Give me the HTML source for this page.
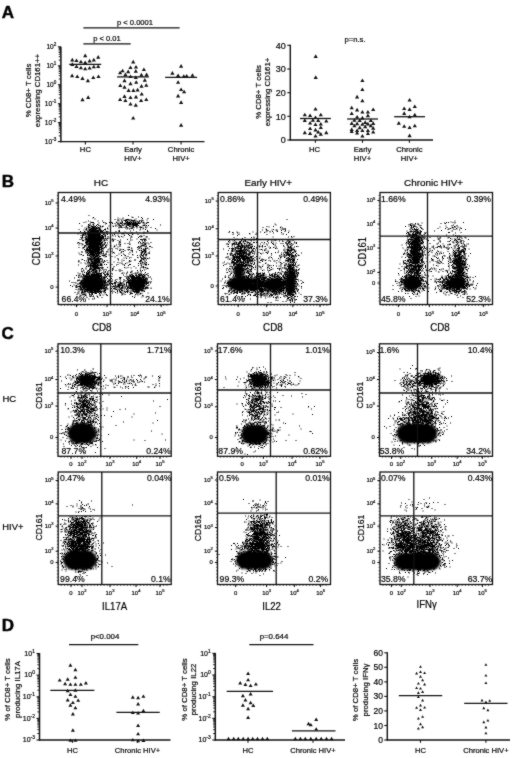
<!DOCTYPE html>
<html><head><meta charset="utf-8"><style>
html,body{margin:0;padding:0;background:#fff;}
svg{display:block;}
text{font-family:"Liberation Sans", sans-serif;fill:#000;stroke:#000;stroke-width:0.2px;}
</style></head><body>
<svg width="520" height="758" viewBox="0 0 520 758" style="will-change:transform">
<defs><filter id="soft" filterUnits="userSpaceOnUse" x="0" y="0" width="520" height="758" color-interpolation-filters="sRGB"><feConvolveMatrix order="3" kernelMatrix="1 2 1 2 20 2 1 2 1" divisor="32" edgeMode="duplicate"/></filter><filter id="bl" filterUnits="userSpaceOnUse" x="0" y="0" width="520" height="758"><feGaussianBlur stdDeviation="0.4"/></filter><filter id="bl2" filterUnits="userSpaceOnUse" x="0" y="0" width="520" height="758"><feGaussianBlur stdDeviation="1.3"/></filter></defs>
<g filter="url(#soft)"><rect width="520" height="758" fill="#fff"/>
<text x="1.8" y="17.9" font-size="17" text-anchor="start" font-weight="bold" style="stroke:#000;stroke-width:0.45px">A</text>
<text x="1.8" y="186.6" font-size="17" text-anchor="start" font-weight="bold" style="stroke:#000;stroke-width:0.45px">B</text>
<text x="1.5" y="338.6" font-size="17" text-anchor="start" font-weight="bold" style="stroke:#000;stroke-width:0.45px">C</text>
<text x="1.8" y="630.6" font-size="17" text-anchor="start" font-weight="bold" style="stroke:#000;stroke-width:0.45px">D</text>
<line x1="60.9" y1="46.8" x2="60.9" y2="142.2" stroke="#111" stroke-width="1.5"/>
<line x1="60.3" y1="141.6" x2="204.5" y2="141.6" stroke="#111" stroke-width="1.3"/>
<line x1="57.9" y1="46.8" x2="60.9" y2="46.8" stroke="#111" stroke-width="1.1"/>
<text x="56.3" y="49.0" font-size="6.6" text-anchor="end">10<tspan font-size="4.6" dy="-3.0">2</tspan></text>
<line x1="58.7" y1="60.1" x2="60.9" y2="60.1" stroke="#111" stroke-width="0.9"/>
<line x1="58.7" y1="56.7" x2="60.9" y2="56.7" stroke="#111" stroke-width="0.9"/>
<line x1="58.7" y1="54.3" x2="60.9" y2="54.3" stroke="#111" stroke-width="0.9"/>
<line x1="58.7" y1="52.5" x2="60.9" y2="52.5" stroke="#111" stroke-width="0.9"/>
<line x1="58.7" y1="51.0" x2="60.9" y2="51.0" stroke="#111" stroke-width="0.9"/>
<line x1="58.7" y1="49.7" x2="60.9" y2="49.7" stroke="#111" stroke-width="0.9"/>
<line x1="58.7" y1="48.6" x2="60.9" y2="48.6" stroke="#111" stroke-width="0.9"/>
<line x1="58.7" y1="47.7" x2="60.9" y2="47.7" stroke="#111" stroke-width="0.9"/>
<line x1="57.9" y1="65.8" x2="60.9" y2="65.8" stroke="#111" stroke-width="1.1"/>
<text x="56.3" y="68.0" font-size="6.6" text-anchor="end">10<tspan font-size="4.6" dy="-3.0">1</tspan></text>
<line x1="58.7" y1="79.0" x2="60.9" y2="79.0" stroke="#111" stroke-width="0.9"/>
<line x1="58.7" y1="75.7" x2="60.9" y2="75.7" stroke="#111" stroke-width="0.9"/>
<line x1="58.7" y1="73.3" x2="60.9" y2="73.3" stroke="#111" stroke-width="0.9"/>
<line x1="58.7" y1="71.5" x2="60.9" y2="71.5" stroke="#111" stroke-width="0.9"/>
<line x1="58.7" y1="70.0" x2="60.9" y2="70.0" stroke="#111" stroke-width="0.9"/>
<line x1="58.7" y1="68.7" x2="60.9" y2="68.7" stroke="#111" stroke-width="0.9"/>
<line x1="58.7" y1="67.6" x2="60.9" y2="67.6" stroke="#111" stroke-width="0.9"/>
<line x1="58.7" y1="66.6" x2="60.9" y2="66.6" stroke="#111" stroke-width="0.9"/>
<line x1="57.9" y1="84.7" x2="60.9" y2="84.7" stroke="#111" stroke-width="1.1"/>
<text x="56.3" y="86.9" font-size="6.6" text-anchor="end">10<tspan font-size="4.6" dy="-3.0">0</tspan></text>
<line x1="58.7" y1="98.0" x2="60.9" y2="98.0" stroke="#111" stroke-width="0.9"/>
<line x1="58.7" y1="94.6" x2="60.9" y2="94.6" stroke="#111" stroke-width="0.9"/>
<line x1="58.7" y1="92.3" x2="60.9" y2="92.3" stroke="#111" stroke-width="0.9"/>
<line x1="58.7" y1="90.4" x2="60.9" y2="90.4" stroke="#111" stroke-width="0.9"/>
<line x1="58.7" y1="88.9" x2="60.9" y2="88.9" stroke="#111" stroke-width="0.9"/>
<line x1="58.7" y1="87.7" x2="60.9" y2="87.7" stroke="#111" stroke-width="0.9"/>
<line x1="58.7" y1="86.6" x2="60.9" y2="86.6" stroke="#111" stroke-width="0.9"/>
<line x1="58.7" y1="85.6" x2="60.9" y2="85.6" stroke="#111" stroke-width="0.9"/>
<line x1="57.9" y1="103.7" x2="60.9" y2="103.7" stroke="#111" stroke-width="1.1"/>
<text x="56.3" y="105.9" font-size="6.6" text-anchor="end">10<tspan font-size="4.6" dy="-3.0">-1</tspan></text>
<line x1="58.7" y1="116.9" x2="60.9" y2="116.9" stroke="#111" stroke-width="0.9"/>
<line x1="58.7" y1="113.6" x2="60.9" y2="113.6" stroke="#111" stroke-width="0.9"/>
<line x1="58.7" y1="111.2" x2="60.9" y2="111.2" stroke="#111" stroke-width="0.9"/>
<line x1="58.7" y1="109.4" x2="60.9" y2="109.4" stroke="#111" stroke-width="0.9"/>
<line x1="58.7" y1="107.9" x2="60.9" y2="107.9" stroke="#111" stroke-width="0.9"/>
<line x1="58.7" y1="106.6" x2="60.9" y2="106.6" stroke="#111" stroke-width="0.9"/>
<line x1="58.7" y1="105.5" x2="60.9" y2="105.5" stroke="#111" stroke-width="0.9"/>
<line x1="58.7" y1="104.5" x2="60.9" y2="104.5" stroke="#111" stroke-width="0.9"/>
<line x1="57.9" y1="122.6" x2="60.9" y2="122.6" stroke="#111" stroke-width="1.1"/>
<text x="56.3" y="124.8" font-size="6.6" text-anchor="end">10<tspan font-size="4.6" dy="-3.0">-2</tspan></text>
<line x1="58.7" y1="135.9" x2="60.9" y2="135.9" stroke="#111" stroke-width="0.9"/>
<line x1="58.7" y1="132.6" x2="60.9" y2="132.6" stroke="#111" stroke-width="0.9"/>
<line x1="58.7" y1="130.2" x2="60.9" y2="130.2" stroke="#111" stroke-width="0.9"/>
<line x1="58.7" y1="128.3" x2="60.9" y2="128.3" stroke="#111" stroke-width="0.9"/>
<line x1="58.7" y1="126.8" x2="60.9" y2="126.8" stroke="#111" stroke-width="0.9"/>
<line x1="58.7" y1="125.6" x2="60.9" y2="125.6" stroke="#111" stroke-width="0.9"/>
<line x1="58.7" y1="124.5" x2="60.9" y2="124.5" stroke="#111" stroke-width="0.9"/>
<line x1="58.7" y1="123.5" x2="60.9" y2="123.5" stroke="#111" stroke-width="0.9"/>
<line x1="57.9" y1="141.6" x2="60.9" y2="141.6" stroke="#111" stroke-width="1.1"/>
<text x="56.3" y="143.8" font-size="6.6" text-anchor="end">10<tspan font-size="4.6" dy="-3.0">-3</tspan></text>
<line x1="85.4" y1="141.6" x2="85.4" y2="144.4" stroke="#111" stroke-width="1.1"/>
<line x1="133.0" y1="141.6" x2="133.0" y2="144.4" stroke="#111" stroke-width="1.1"/>
<line x1="181.1" y1="141.6" x2="181.1" y2="144.4" stroke="#111" stroke-width="1.1"/>
<text transform="translate(30.6,90.5) rotate(-90)" font-size="7.80" text-anchor="middle" textLength="53.68" lengthAdjust="spacingAndGlyphs">% CD8+ T cells</text>
<text transform="translate(39.6,90.5) rotate(-90)" font-size="7.80" text-anchor="middle" textLength="73.28" lengthAdjust="spacingAndGlyphs">expressing CD161++</text>
<text x="85.4" y="152.3" font-size="7.7" text-anchor="middle" font-weight="normal" >HC</text>
<text x="133.0" y="152.3" font-size="7.7" text-anchor="middle" font-weight="normal" >Early</text>
<text x="133.0" y="161.3" font-size="7.7" text-anchor="middle" font-weight="normal" >HIV+</text>
<text x="181.1" y="152.3" font-size="7.7" text-anchor="middle" font-weight="normal" >Chronic</text>
<text x="181.1" y="161.3" font-size="7.7" text-anchor="middle" font-weight="normal" >HIV+</text>
<line x1="83.4" y1="27.8" x2="179.6" y2="27.8" stroke="#111" stroke-width="1.3"/>
<text x="135.0" y="24.5" font-size="7.6" text-anchor="middle" font-weight="normal" >p &lt; 0.0001</text>
<line x1="83.4" y1="43.9" x2="130.7" y2="43.9" stroke="#111" stroke-width="1.3"/>
<text x="107.0" y="41.2" font-size="7.6" text-anchor="middle" font-weight="normal" >p &lt; 0.01</text>
<line x1="69.2" y1="64.3" x2="101.2" y2="64.3" stroke="#111" stroke-width="1.3"/>
<line x1="117.1" y1="76.9" x2="148.9" y2="76.9" stroke="#111" stroke-width="1.3"/>
<line x1="165.1" y1="77.3" x2="197.1" y2="77.3" stroke="#111" stroke-width="1.3"/>
<path fill="#111" d="M83.1 57.2h4.2l-2.1 -3.6zM96.1 58.7h4.2l-2.1 -3.6zM70.2 61.4h4.2l-2.1 -3.6zM74.4 62.0h4.2l-2.1 -3.6zM78.8 63.3h4.2l-2.1 -3.6zM83.1 64.1h4.2l-2.1 -3.6zM87.5 62.4h4.2l-2.1 -3.6zM91.7 61.4h4.2l-2.1 -3.6zM70.2 65.9h4.2l-2.1 -3.6zM74.4 68.0h4.2l-2.1 -3.6zM78.8 69.3h4.2l-2.1 -3.6zM83.1 70.3h4.2l-2.1 -3.6zM87.5 69.5h4.2l-2.1 -3.6zM91.7 68.3h4.2l-2.1 -3.6zM96.1 68.0h4.2l-2.1 -3.6zM70.0 77.2h4.2l-2.1 -3.6zM75.2 78.0h4.2l-2.1 -3.6zM80.4 79.9h4.2l-2.1 -3.6zM85.8 82.2h4.2l-2.1 -3.6zM91.2 79.1h4.2l-2.1 -3.6zM96.4 78.0h4.2l-2.1 -3.6zM80.4 101.2h4.2l-2.1 -3.6zM86.1 98.9h4.2l-2.1 -3.6zM131.1 63.4h4.2l-2.1 -3.6zM128.4 69.0h4.2l-2.1 -3.6zM133.9 68.6h4.2l-2.1 -3.6zM120.5 72.3h4.2l-2.1 -3.6zM126.1 73.2h4.2l-2.1 -3.6zM133.7 72.7h4.2l-2.1 -3.6zM141.8 71.1h4.2l-2.1 -3.6zM118.0 74.3h4.2l-2.1 -3.6zM123.3 76.2h4.2l-2.1 -3.6zM128.4 78.0h4.2l-2.1 -3.6zM133.7 79.0h4.2l-2.1 -3.6zM139.3 76.4h4.2l-2.1 -3.6zM144.5 76.2h4.2l-2.1 -3.6zM122.4 82.2h4.2l-2.1 -3.6zM142.7 81.7h4.2l-2.1 -3.6zM118.2 87.1h4.2l-2.1 -3.6zM128.4 85.2h4.2l-2.1 -3.6zM134.1 83.8h4.2l-2.1 -3.6zM122.4 88.7h4.2l-2.1 -3.6zM139.4 87.7h4.2l-2.1 -3.6zM144.2 86.8h4.2l-2.1 -3.6zM126.5 91.9h4.2l-2.1 -3.6zM131.3 91.9h4.2l-2.1 -3.6zM135.5 91.4h4.2l-2.1 -3.6zM139.6 95.6h4.2l-2.1 -3.6zM122.4 97.9h4.2l-2.1 -3.6zM128.4 99.1h4.2l-2.1 -3.6zM133.9 98.4h4.2l-2.1 -3.6zM118.0 101.1h4.2l-2.1 -3.6zM123.3 102.0h4.2l-2.1 -3.6zM139.0 102.0h4.2l-2.1 -3.6zM144.2 101.1h4.2l-2.1 -3.6zM128.4 105.6h4.2l-2.1 -3.6zM133.7 106.7h4.2l-2.1 -3.6zM131.1 119.6h4.2l-2.1 -3.6zM179.0 67.7h4.2l-2.1 -3.6zM170.3 74.7h4.2l-2.1 -3.6zM176.0 77.1h4.2l-2.1 -3.6zM181.7 77.8h4.2l-2.1 -3.6zM184.6 77.6h4.2l-2.1 -3.6zM190.4 76.8h4.2l-2.1 -3.6zM176.0 83.8h4.2l-2.1 -3.6zM179.0 91.0h4.2l-2.1 -3.6zM182.0 93.3h4.2l-2.1 -3.6zM176.0 97.4h4.2l-2.1 -3.6zM179.0 103.9h4.2l-2.1 -3.6zM179.0 126.7h4.2l-2.1 -3.6z"/>
<line x1="290.3" y1="44.8" x2="290.3" y2="140.6" stroke="#111" stroke-width="1.4"/>
<line x1="289.7" y1="140.0" x2="433.0" y2="140.0" stroke="#111" stroke-width="1.4"/>
<line x1="287.3" y1="140.0" x2="290.3" y2="140.0" stroke="#111" stroke-width="1.1"/>
<text x="285.8" y="143.2" font-size="9" text-anchor="end" font-weight="normal" >0</text>
<line x1="287.3" y1="116.3" x2="290.3" y2="116.3" stroke="#111" stroke-width="1.1"/>
<text x="285.8" y="119.5" font-size="9" text-anchor="end" font-weight="normal" >10</text>
<line x1="287.3" y1="92.7" x2="290.3" y2="92.7" stroke="#111" stroke-width="1.1"/>
<text x="285.8" y="95.9" font-size="9" text-anchor="end" font-weight="normal" >20</text>
<line x1="287.3" y1="69.0" x2="290.3" y2="69.0" stroke="#111" stroke-width="1.1"/>
<text x="285.8" y="72.2" font-size="9" text-anchor="end" font-weight="normal" >30</text>
<line x1="287.3" y1="45.3" x2="290.3" y2="45.3" stroke="#111" stroke-width="1.1"/>
<text x="285.8" y="48.5" font-size="9" text-anchor="end" font-weight="normal" >40</text>
<line x1="315.4" y1="140.0" x2="315.4" y2="142.8" stroke="#111" stroke-width="1.1"/>
<line x1="362.5" y1="140.0" x2="362.5" y2="142.8" stroke="#111" stroke-width="1.1"/>
<line x1="409.4" y1="140.0" x2="409.4" y2="142.8" stroke="#111" stroke-width="1.1"/>
<text transform="translate(260.5,92.0) rotate(-90)" font-size="7.80" text-anchor="middle" textLength="53.68" lengthAdjust="spacingAndGlyphs">% CD8+ T cells</text>
<text transform="translate(269.5,92.0) rotate(-90)" font-size="7.80" text-anchor="middle" textLength="68.72" lengthAdjust="spacingAndGlyphs">expressing CD161+</text>
<text x="314.6" y="151.8" font-size="7.7" text-anchor="middle" font-weight="normal" >HC</text>
<text x="362.5" y="151.6" font-size="7.7" text-anchor="middle" font-weight="normal" >Early</text>
<text x="362.5" y="161.4" font-size="7.7" text-anchor="middle" font-weight="normal" >HIV+</text>
<text x="409.4" y="151.6" font-size="7.7" text-anchor="middle" font-weight="normal" >Chronic</text>
<text x="409.4" y="161.4" font-size="7.7" text-anchor="middle" font-weight="normal" >HIV+</text>
<text x="355.0" y="42.4" font-size="7.7" text-anchor="middle" font-weight="normal" >p=n.s.</text>
<line x1="300.0" y1="118.5" x2="330.9" y2="118.5" stroke="#111" stroke-width="1.3"/>
<line x1="347.2" y1="119.0" x2="378.0" y2="119.0" stroke="#111" stroke-width="1.3"/>
<line x1="394.2" y1="116.7" x2="425.0" y2="116.7" stroke="#111" stroke-width="1.3"/>
<path fill="#111" d="M313.4 110.6h4.2l-2.1 -3.6zM302.7 116.3h4.2l-2.1 -3.6zM308.0 117.0h4.2l-2.1 -3.6zM318.7 116.3h4.2l-2.1 -3.6zM313.4 119.1h4.2l-2.1 -3.6zM302.7 121.9h4.2l-2.1 -3.6zM310.8 121.7h4.2l-2.1 -3.6zM316.1 121.9h4.2l-2.1 -3.6zM324.2 122.6h4.2l-2.1 -3.6zM308.0 124.5h4.2l-2.1 -3.6zM313.4 126.0h4.2l-2.1 -3.6zM318.7 125.6h4.2l-2.1 -3.6zM318.7 129.1h4.2l-2.1 -3.6zM308.0 130.1h4.2l-2.1 -3.6zM313.4 131.4h4.2l-2.1 -3.6zM316.1 133.6h4.2l-2.1 -3.6zM302.7 134.2h4.2l-2.1 -3.6zM308.0 134.9h4.2l-2.1 -3.6zM318.7 135.7h4.2l-2.1 -3.6zM324.2 134.2h4.2l-2.1 -3.6zM313.4 137.5h4.2l-2.1 -3.6zM313.6 57.9h4.2l-2.1 -3.6zM313.6 78.9h4.2l-2.1 -3.6zM360.3 82.1h4.2l-2.1 -3.6zM360.3 91.0h4.2l-2.1 -3.6zM355.0 98.4h4.2l-2.1 -3.6zM360.3 102.3h4.2l-2.1 -3.6zM349.6 109.3h4.2l-2.1 -3.6zM355.0 111.4h4.2l-2.1 -3.6zM371.1 111.1h4.2l-2.1 -3.6zM349.6 115.1h4.2l-2.1 -3.6zM360.3 113.6h4.2l-2.1 -3.6zM365.8 113.6h4.2l-2.1 -3.6zM365.8 117.2h4.2l-2.1 -3.6zM355.0 118.6h4.2l-2.1 -3.6zM360.3 119.4h4.2l-2.1 -3.6zM352.3 121.8h4.2l-2.1 -3.6zM357.6 122.0h4.2l-2.1 -3.6zM368.7 122.0h4.2l-2.1 -3.6zM349.6 124.9h4.2l-2.1 -3.6zM355.0 125.2h4.2l-2.1 -3.6zM360.3 125.8h4.2l-2.1 -3.6zM363.1 123.9h4.2l-2.1 -3.6zM365.8 125.4h4.2l-2.1 -3.6zM371.1 124.9h4.2l-2.1 -3.6zM352.3 127.3h4.2l-2.1 -3.6zM357.6 129.2h4.2l-2.1 -3.6zM363.1 128.2h4.2l-2.1 -3.6zM368.7 127.3h4.2l-2.1 -3.6zM349.6 131.1h4.2l-2.1 -3.6zM355.0 132.1h4.2l-2.1 -3.6zM360.3 132.1h4.2l-2.1 -3.6zM365.8 132.1h4.2l-2.1 -3.6zM371.1 129.7h4.2l-2.1 -3.6zM349.6 133.1h4.2l-2.1 -3.6zM355.0 134.5h4.2l-2.1 -3.6zM365.8 135.0h4.2l-2.1 -3.6zM371.1 133.5h4.2l-2.1 -3.6zM360.3 137.6h4.2l-2.1 -3.6zM407.5 101.6h4.2l-2.1 -3.6zM412.7 108.0h4.2l-2.1 -3.6zM402.1 110.1h4.2l-2.1 -3.6zM407.5 110.9h4.2l-2.1 -3.6zM402.1 114.9h4.2l-2.1 -3.6zM412.7 116.4h4.2l-2.1 -3.6zM407.5 118.3h4.2l-2.1 -3.6zM396.7 124.7h4.2l-2.1 -3.6zM402.1 127.8h4.2l-2.1 -3.6zM407.5 129.1h4.2l-2.1 -3.6zM412.7 127.3h4.2l-2.1 -3.6zM407.5 137.2h4.2l-2.1 -3.6z"/>
<line x1="39.5" y1="653.0" x2="39.5" y2="740.6" stroke="#111" stroke-width="1.5"/>
<line x1="38.9" y1="740.0" x2="170.5" y2="740.0" stroke="#111" stroke-width="1.3"/>
<line x1="36.5" y1="653.5" x2="39.5" y2="653.5" stroke="#111" stroke-width="1.1"/>
<text x="34.9" y="655.7" font-size="7" text-anchor="end">10<tspan font-size="4.9" dy="-3.1">1</tspan></text>
<line x1="37.3" y1="668.6" x2="39.5" y2="668.6" stroke="#111" stroke-width="0.9"/>
<line x1="37.3" y1="664.8" x2="39.5" y2="664.8" stroke="#111" stroke-width="0.9"/>
<line x1="37.3" y1="662.1" x2="39.5" y2="662.1" stroke="#111" stroke-width="0.9"/>
<line x1="37.3" y1="660.0" x2="39.5" y2="660.0" stroke="#111" stroke-width="0.9"/>
<line x1="37.3" y1="658.3" x2="39.5" y2="658.3" stroke="#111" stroke-width="0.9"/>
<line x1="37.3" y1="656.8" x2="39.5" y2="656.8" stroke="#111" stroke-width="0.9"/>
<line x1="37.3" y1="655.6" x2="39.5" y2="655.6" stroke="#111" stroke-width="0.9"/>
<line x1="37.3" y1="654.5" x2="39.5" y2="654.5" stroke="#111" stroke-width="0.9"/>
<line x1="36.5" y1="675.1" x2="39.5" y2="675.1" stroke="#111" stroke-width="1.1"/>
<text x="34.9" y="677.3" font-size="7" text-anchor="end">10<tspan font-size="4.9" dy="-3.1">0</tspan></text>
<line x1="37.3" y1="690.2" x2="39.5" y2="690.2" stroke="#111" stroke-width="0.9"/>
<line x1="37.3" y1="686.4" x2="39.5" y2="686.4" stroke="#111" stroke-width="0.9"/>
<line x1="37.3" y1="683.7" x2="39.5" y2="683.7" stroke="#111" stroke-width="0.9"/>
<line x1="37.3" y1="681.6" x2="39.5" y2="681.6" stroke="#111" stroke-width="0.9"/>
<line x1="37.3" y1="679.9" x2="39.5" y2="679.9" stroke="#111" stroke-width="0.9"/>
<line x1="37.3" y1="678.5" x2="39.5" y2="678.5" stroke="#111" stroke-width="0.9"/>
<line x1="37.3" y1="677.2" x2="39.5" y2="677.2" stroke="#111" stroke-width="0.9"/>
<line x1="37.3" y1="676.1" x2="39.5" y2="676.1" stroke="#111" stroke-width="0.9"/>
<line x1="36.5" y1="696.8" x2="39.5" y2="696.8" stroke="#111" stroke-width="1.1"/>
<text x="34.9" y="699.0" font-size="7" text-anchor="end">10<tspan font-size="4.9" dy="-3.1">-1</tspan></text>
<line x1="37.3" y1="711.9" x2="39.5" y2="711.9" stroke="#111" stroke-width="0.9"/>
<line x1="37.3" y1="708.1" x2="39.5" y2="708.1" stroke="#111" stroke-width="0.9"/>
<line x1="37.3" y1="705.4" x2="39.5" y2="705.4" stroke="#111" stroke-width="0.9"/>
<line x1="37.3" y1="703.3" x2="39.5" y2="703.3" stroke="#111" stroke-width="0.9"/>
<line x1="37.3" y1="701.5" x2="39.5" y2="701.5" stroke="#111" stroke-width="0.9"/>
<line x1="37.3" y1="700.1" x2="39.5" y2="700.1" stroke="#111" stroke-width="0.9"/>
<line x1="37.3" y1="698.8" x2="39.5" y2="698.8" stroke="#111" stroke-width="0.9"/>
<line x1="37.3" y1="697.7" x2="39.5" y2="697.7" stroke="#111" stroke-width="0.9"/>
<line x1="36.5" y1="718.4" x2="39.5" y2="718.4" stroke="#111" stroke-width="1.1"/>
<text x="34.9" y="720.6" font-size="7" text-anchor="end">10<tspan font-size="4.9" dy="-3.1">-2</tspan></text>
<line x1="37.3" y1="733.5" x2="39.5" y2="733.5" stroke="#111" stroke-width="0.9"/>
<line x1="37.3" y1="729.7" x2="39.5" y2="729.7" stroke="#111" stroke-width="0.9"/>
<line x1="37.3" y1="727.0" x2="39.5" y2="727.0" stroke="#111" stroke-width="0.9"/>
<line x1="37.3" y1="724.9" x2="39.5" y2="724.9" stroke="#111" stroke-width="0.9"/>
<line x1="37.3" y1="723.2" x2="39.5" y2="723.2" stroke="#111" stroke-width="0.9"/>
<line x1="37.3" y1="721.7" x2="39.5" y2="721.7" stroke="#111" stroke-width="0.9"/>
<line x1="37.3" y1="720.5" x2="39.5" y2="720.5" stroke="#111" stroke-width="0.9"/>
<line x1="37.3" y1="719.4" x2="39.5" y2="719.4" stroke="#111" stroke-width="0.9"/>
<line x1="36.5" y1="740.0" x2="39.5" y2="740.0" stroke="#111" stroke-width="1.1"/>
<text x="34.9" y="742.2" font-size="7" text-anchor="end">10<tspan font-size="4.9" dy="-3.1">-3</tspan></text>
<line x1="72.5" y1="740.0" x2="72.5" y2="742.8" stroke="#111" stroke-width="1.1"/>
<line x1="137.5" y1="740.0" x2="137.5" y2="742.8" stroke="#111" stroke-width="1.1"/>
<text transform="translate(10.3,689.5) rotate(-90)" font-size="7.80" text-anchor="middle" textLength="62.35" lengthAdjust="spacingAndGlyphs">% of CD8+ T cells</text>
<text transform="translate(19.6,689.5) rotate(-90)" font-size="7.80" text-anchor="middle" textLength="56.81" lengthAdjust="spacingAndGlyphs">producing IL17A</text>
<text x="72.5" y="753.0" font-size="7.6" text-anchor="middle" font-weight="normal" >HC</text>
<text x="137.5" y="753.0" font-size="7.6" text-anchor="middle" font-weight="normal" >Chronic HIV+</text>
<line x1="69.0" y1="644.6" x2="138.3" y2="644.6" stroke="#111" stroke-width="1.3"/>
<text x="105.0" y="638.5" font-size="7.9" text-anchor="middle" font-weight="normal" >p&lt;0.004</text>
<line x1="50.3" y1="690.3" x2="94.4" y2="690.3" stroke="#111" stroke-width="1.3"/>
<line x1="116.4" y1="712.4" x2="159.7" y2="712.4" stroke="#111" stroke-width="1.3"/>
<path fill="#111" d="M68.4 666.7h4.0l-2.0 -3.4zM73.4 671.2h4.0l-2.0 -3.4zM73.4 678.8h4.0l-2.0 -3.4zM57.7 681.6h4.0l-2.0 -3.4zM65.7 680.7h4.0l-2.0 -3.4zM63.1 685.2h4.0l-2.0 -3.4zM68.4 685.8h4.0l-2.0 -3.4zM73.4 685.8h4.0l-2.0 -3.4zM78.8 685.8h4.0l-2.0 -3.4zM83.9 684.4h4.0l-2.0 -3.4zM65.7 692.2h4.0l-2.0 -3.4zM73.4 691.7h4.0l-2.0 -3.4zM68.4 695.9h4.0l-2.0 -3.4zM73.4 697.8h4.0l-2.0 -3.4zM65.7 701.5h4.0l-2.0 -3.4zM76.2 701.8h4.0l-2.0 -3.4zM70.9 704.1h4.0l-2.0 -3.4zM68.4 706.7h4.0l-2.0 -3.4zM73.4 709.3h4.0l-2.0 -3.4zM70.9 715.5h4.0l-2.0 -3.4zM70.9 731.7h4.0l-2.0 -3.4zM68.4 741.8h4.0l-2.0 -3.4zM73.4 741.8h4.0l-2.0 -3.4zM130.8 698.7h4.0l-2.0 -3.4zM136.1 699.2h4.0l-2.0 -3.4zM141.4 697.8h4.0l-2.0 -3.4zM136.1 705.5h4.0l-2.0 -3.4zM130.8 714.1h4.0l-2.0 -3.4zM136.1 714.6h4.0l-2.0 -3.4zM141.4 712.2h4.0l-2.0 -3.4zM136.1 726.9h4.0l-2.0 -3.4zM136.1 735.3h4.0l-2.0 -3.4zM130.8 741.3h4.0l-2.0 -3.4zM136.1 742.3h4.0l-2.0 -3.4zM141.4 742.0h4.0l-2.0 -3.4z"/>
<line x1="215.3" y1="652.9" x2="215.3" y2="740.6" stroke="#111" stroke-width="1.5"/>
<line x1="214.7" y1="740.0" x2="345.0" y2="740.0" stroke="#111" stroke-width="1.3"/>
<line x1="212.3" y1="653.4" x2="215.3" y2="653.4" stroke="#111" stroke-width="1.1"/>
<text x="210.7" y="655.6" font-size="7" text-anchor="end">10<tspan font-size="4.9" dy="-3.1">1</tspan></text>
<line x1="213.1" y1="668.5" x2="215.3" y2="668.5" stroke="#111" stroke-width="0.9"/>
<line x1="213.1" y1="664.7" x2="215.3" y2="664.7" stroke="#111" stroke-width="0.9"/>
<line x1="213.1" y1="662.0" x2="215.3" y2="662.0" stroke="#111" stroke-width="0.9"/>
<line x1="213.1" y1="659.9" x2="215.3" y2="659.9" stroke="#111" stroke-width="0.9"/>
<line x1="213.1" y1="658.2" x2="215.3" y2="658.2" stroke="#111" stroke-width="0.9"/>
<line x1="213.1" y1="656.8" x2="215.3" y2="656.8" stroke="#111" stroke-width="0.9"/>
<line x1="213.1" y1="655.5" x2="215.3" y2="655.5" stroke="#111" stroke-width="0.9"/>
<line x1="213.1" y1="654.4" x2="215.3" y2="654.4" stroke="#111" stroke-width="0.9"/>
<line x1="212.3" y1="675.0" x2="215.3" y2="675.0" stroke="#111" stroke-width="1.1"/>
<text x="210.7" y="677.2" font-size="7" text-anchor="end">10<tspan font-size="4.9" dy="-3.1">0</tspan></text>
<line x1="213.1" y1="690.2" x2="215.3" y2="690.2" stroke="#111" stroke-width="0.9"/>
<line x1="213.1" y1="686.4" x2="215.3" y2="686.4" stroke="#111" stroke-width="0.9"/>
<line x1="213.1" y1="683.7" x2="215.3" y2="683.7" stroke="#111" stroke-width="0.9"/>
<line x1="213.1" y1="681.6" x2="215.3" y2="681.6" stroke="#111" stroke-width="0.9"/>
<line x1="213.1" y1="679.9" x2="215.3" y2="679.9" stroke="#111" stroke-width="0.9"/>
<line x1="213.1" y1="678.4" x2="215.3" y2="678.4" stroke="#111" stroke-width="0.9"/>
<line x1="213.1" y1="677.1" x2="215.3" y2="677.1" stroke="#111" stroke-width="0.9"/>
<line x1="213.1" y1="676.0" x2="215.3" y2="676.0" stroke="#111" stroke-width="0.9"/>
<line x1="212.3" y1="696.7" x2="215.3" y2="696.7" stroke="#111" stroke-width="1.1"/>
<text x="210.7" y="698.9" font-size="7" text-anchor="end">10<tspan font-size="4.9" dy="-3.1">-1</tspan></text>
<line x1="213.1" y1="711.8" x2="215.3" y2="711.8" stroke="#111" stroke-width="0.9"/>
<line x1="213.1" y1="708.0" x2="215.3" y2="708.0" stroke="#111" stroke-width="0.9"/>
<line x1="213.1" y1="705.3" x2="215.3" y2="705.3" stroke="#111" stroke-width="0.9"/>
<line x1="213.1" y1="703.2" x2="215.3" y2="703.2" stroke="#111" stroke-width="0.9"/>
<line x1="213.1" y1="701.5" x2="215.3" y2="701.5" stroke="#111" stroke-width="0.9"/>
<line x1="213.1" y1="700.1" x2="215.3" y2="700.1" stroke="#111" stroke-width="0.9"/>
<line x1="213.1" y1="698.8" x2="215.3" y2="698.8" stroke="#111" stroke-width="0.9"/>
<line x1="213.1" y1="697.7" x2="215.3" y2="697.7" stroke="#111" stroke-width="0.9"/>
<line x1="212.3" y1="718.4" x2="215.3" y2="718.4" stroke="#111" stroke-width="1.1"/>
<text x="210.7" y="720.6" font-size="7" text-anchor="end">10<tspan font-size="4.9" dy="-3.1">-2</tspan></text>
<line x1="213.1" y1="733.5" x2="215.3" y2="733.5" stroke="#111" stroke-width="0.9"/>
<line x1="213.1" y1="729.7" x2="215.3" y2="729.7" stroke="#111" stroke-width="0.9"/>
<line x1="213.1" y1="727.0" x2="215.3" y2="727.0" stroke="#111" stroke-width="0.9"/>
<line x1="213.1" y1="724.9" x2="215.3" y2="724.9" stroke="#111" stroke-width="0.9"/>
<line x1="213.1" y1="723.2" x2="215.3" y2="723.2" stroke="#111" stroke-width="0.9"/>
<line x1="213.1" y1="721.7" x2="215.3" y2="721.7" stroke="#111" stroke-width="0.9"/>
<line x1="213.1" y1="720.4" x2="215.3" y2="720.4" stroke="#111" stroke-width="0.9"/>
<line x1="213.1" y1="719.3" x2="215.3" y2="719.3" stroke="#111" stroke-width="0.9"/>
<line x1="212.3" y1="740.0" x2="215.3" y2="740.0" stroke="#111" stroke-width="1.1"/>
<text x="210.7" y="742.2" font-size="7" text-anchor="end">10<tspan font-size="4.9" dy="-3.1">-3</tspan></text>
<line x1="248.0" y1="740.0" x2="248.0" y2="742.8" stroke="#111" stroke-width="1.1"/>
<line x1="313.0" y1="740.0" x2="313.0" y2="742.8" stroke="#111" stroke-width="1.1"/>
<text transform="translate(186.6,689.5) rotate(-90)" font-size="7.80" text-anchor="middle" textLength="62.35" lengthAdjust="spacingAndGlyphs">% of CD8+ T cells</text>
<text transform="translate(195.9,689.5) rotate(-90)" font-size="7.80" text-anchor="middle" textLength="51.61" lengthAdjust="spacingAndGlyphs">producing IL22</text>
<text x="248.0" y="753.0" font-size="7.6" text-anchor="middle" font-weight="normal" >HC</text>
<text x="313.0" y="753.0" font-size="7.6" text-anchor="middle" font-weight="normal" >Chronic HIV+</text>
<line x1="249.3" y1="644.6" x2="313.5" y2="644.6" stroke="#111" stroke-width="1.3"/>
<text x="274.0" y="638.5" font-size="7.9" text-anchor="middle" font-weight="normal" >p=0.644</text>
<line x1="226.7" y1="691.4" x2="273.0" y2="691.4" stroke="#111" stroke-width="1.3"/>
<line x1="291.9" y1="730.8" x2="335.5" y2="730.8" stroke="#111" stroke-width="1.3"/>
<path fill="#111" d="M246.1 675.0h4.0l-2.0 -3.4zM246.1 681.3h4.0l-2.0 -3.4zM238.2 684.4h4.0l-2.0 -3.4zM243.4 685.9h4.0l-2.0 -3.4zM248.6 687.1h4.0l-2.0 -3.4zM253.9 685.6h4.0l-2.0 -3.4zM248.6 695.4h4.0l-2.0 -3.4zM240.9 697.2h4.0l-2.0 -3.4zM243.4 701.5h4.0l-2.0 -3.4zM248.6 704.2h4.0l-2.0 -3.4zM240.9 706.7h4.0l-2.0 -3.4zM251.3 707.0h4.0l-2.0 -3.4zM246.1 710.2h4.0l-2.0 -3.4zM246.1 719.0h4.0l-2.0 -3.4zM226.5 740.2h4.0l-2.0 -3.4zM231.7 740.2h4.0l-2.0 -3.4zM236.3 740.2h4.0l-2.0 -3.4zM241.2 740.2h4.0l-2.0 -3.4zM246.1 740.2h4.0l-2.0 -3.4zM250.7 740.2h4.0l-2.0 -3.4zM255.5 740.2h4.0l-2.0 -3.4zM260.5 740.2h4.0l-2.0 -3.4zM265.3 740.2h4.0l-2.0 -3.4zM314.2 720.9h4.0l-2.0 -3.4zM306.5 725.2h4.0l-2.0 -3.4zM308.8 726.3h4.0l-2.0 -3.4zM314.2 730.6h4.0l-2.0 -3.4zM293.3 740.2h4.0l-2.0 -3.4zM298.4 740.2h4.0l-2.0 -3.4zM303.3 740.2h4.0l-2.0 -3.4zM308.8 740.2h4.0l-2.0 -3.4zM314.2 740.2h4.0l-2.0 -3.4zM319.2 740.2h4.0l-2.0 -3.4zM324.5 740.2h4.0l-2.0 -3.4zM329.6 740.2h4.0l-2.0 -3.4z"/>
<line x1="387.3" y1="652.3" x2="387.3" y2="740.6" stroke="#111" stroke-width="1.4"/>
<line x1="386.7" y1="740.0" x2="510.0" y2="740.0" stroke="#111" stroke-width="1.4"/>
<line x1="384.3" y1="740.0" x2="387.3" y2="740.0" stroke="#111" stroke-width="1.1"/>
<text x="383.0" y="743.0" font-size="8.5" text-anchor="end" font-weight="normal" >0</text>
<line x1="384.3" y1="725.5" x2="387.3" y2="725.5" stroke="#111" stroke-width="1.1"/>
<text x="383.0" y="728.5" font-size="8.5" text-anchor="end" font-weight="normal" >10</text>
<line x1="384.3" y1="710.9" x2="387.3" y2="710.9" stroke="#111" stroke-width="1.1"/>
<text x="383.0" y="713.9" font-size="8.5" text-anchor="end" font-weight="normal" >20</text>
<line x1="384.3" y1="696.4" x2="387.3" y2="696.4" stroke="#111" stroke-width="1.1"/>
<text x="383.0" y="699.4" font-size="8.5" text-anchor="end" font-weight="normal" >30</text>
<line x1="384.3" y1="681.9" x2="387.3" y2="681.9" stroke="#111" stroke-width="1.1"/>
<text x="383.0" y="684.9" font-size="8.5" text-anchor="end" font-weight="normal" >40</text>
<line x1="384.3" y1="667.3" x2="387.3" y2="667.3" stroke="#111" stroke-width="1.1"/>
<text x="383.0" y="670.3" font-size="8.5" text-anchor="end" font-weight="normal" >50</text>
<line x1="384.3" y1="652.8" x2="387.3" y2="652.8" stroke="#111" stroke-width="1.1"/>
<text x="383.0" y="655.8" font-size="8.5" text-anchor="end" font-weight="normal" >60</text>
<line x1="420.5" y1="740.0" x2="420.5" y2="742.8" stroke="#111" stroke-width="1.1"/>
<line x1="485.9" y1="740.0" x2="485.9" y2="742.8" stroke="#111" stroke-width="1.1"/>
<text transform="translate(358.3,690.0) rotate(-90)" font-size="7.80" text-anchor="middle" textLength="62.35" lengthAdjust="spacingAndGlyphs">% of CD8+ T cells</text>
<text transform="translate(367.6,690.0) rotate(-90)" font-size="7.80" text-anchor="middle" textLength="52.89" lengthAdjust="spacingAndGlyphs">producing IFNγ</text>
<text x="420.5" y="753.0" font-size="7.6" text-anchor="middle" font-weight="normal" >HC</text>
<text x="485.9" y="753.0" font-size="7.6" text-anchor="middle" font-weight="normal" >Chronic HIV+</text>
<line x1="398.8" y1="695.7" x2="442.2" y2="695.7" stroke="#111" stroke-width="1.3"/>
<line x1="464.2" y1="703.3" x2="507.5" y2="703.3" stroke="#111" stroke-width="1.3"/>
<path fill="#111" d="M419.0 667.8h3.0l-1.5 -2.6zM415.1 674.4h3.0l-1.5 -2.6zM419.0 672.9h3.0l-1.5 -2.6zM423.1 674.1h3.0l-1.5 -2.6zM419.0 677.7h3.0l-1.5 -2.6zM421.1 681.2h3.0l-1.5 -2.6zM416.9 684.6h3.0l-1.5 -2.6zM423.1 685.4h3.0l-1.5 -2.6zM415.1 689.0h3.0l-1.5 -2.6zM419.0 689.6h3.0l-1.5 -2.6zM416.9 693.9h3.0l-1.5 -2.6zM421.1 692.9h3.0l-1.5 -2.6zM416.9 698.1h3.0l-1.5 -2.6zM421.1 701.4h3.0l-1.5 -2.6zM419.0 706.4h3.0l-1.5 -2.6zM415.1 708.8h3.0l-1.5 -2.6zM423.1 708.6h3.0l-1.5 -2.6zM419.0 710.9h3.0l-1.5 -2.6zM416.9 719.5h3.0l-1.5 -2.6zM421.1 717.8h3.0l-1.5 -2.6zM419.0 725.2h3.0l-1.5 -2.6zM416.9 729.6h3.0l-1.5 -2.6zM421.1 728.2h3.0l-1.5 -2.6zM484.4 665.8h3.0l-1.5 -2.6zM484.4 676.5h3.0l-1.5 -2.6zM484.4 684.0h3.0l-1.5 -2.6zM480.5 701.4h3.0l-1.5 -2.6zM484.4 703.2h3.0l-1.5 -2.6zM488.2 701.8h3.0l-1.5 -2.6zM482.3 709.2h3.0l-1.5 -2.6zM486.4 711.2h3.0l-1.5 -2.6zM482.3 723.2h3.0l-1.5 -2.6zM486.4 721.6h3.0l-1.5 -2.6zM484.4 728.4h3.0l-1.5 -2.6zM484.4 734.3h3.0l-1.5 -2.6z"/>
<text x="101.0" y="186.0" font-size="9.9" text-anchor="middle" font-weight="normal" >HC</text>
<text x="268.2" y="185.6" font-size="9.9" text-anchor="middle" font-weight="normal" >Early HIV+</text>
<text x="433.6" y="185.6" font-size="9.9" text-anchor="middle" font-weight="normal" >Chronic HIV+</text>
<g filter="url(#bl2)" fill="#000">
<ellipse cx="92.5" cy="283.8" rx="11.2" ry="7.5"/>
<ellipse cx="137.5" cy="284.2" rx="6.5" ry="6.0"/>
<ellipse cx="93.8" cy="237.5" rx="5.5" ry="10.5"/>
</g>
<path stroke="#000" stroke-opacity="1.0" stroke-width="1.1" d="M88.5 215.5h1m38.5 0h1m2.5 1.5h1m5.5 0h1m-46 .5h1m38.5 0h1m7.5 0h1m-49.5 .5h1m24 0h1m4 0h1m18.5 .5h1m4.5 0h1m-54 .5h1m24 0h1m2 0h1m12 0h1m-22 .5h1m10 0h1m0 0h1m0 0h1m0 0h1m1 0h1m21.5 0h1m-37 .5h1m0 0h1m2 0h1m4.5 0h1m6.5 0h1m6.5 0h1m4 0h1m-24 .5h1m0 0h1m0 0h1m2 0h1m1.5 0h1m-.5 0h1m-.5 0h1m-.5 0h1m0 0h1m5 0h1m2 0h1m-55.5 .5h1m8.5 0h1m3.5 0h1m15.5 0h1m2 0h1m2.5 0h1m.5 0h1m1 0h1m-.5 0h1m0 0h1m-.5 0h1m1 0h1m1 0h1m-.5 0h1m.5 0h1m1.5 0h1m1 0h1m-20.5 .5h1m2.5 0h1m.5 0h1m-.5 0h1m5 0h1m.5 0h1m1 0h1m1 0h1m-54 .5h1m3.5 0h1m25.5 0h1m4.5 0h1m3.5 0h1m3 0h1m1 0h1m3.5 0h1m.5 0h1m-.5 0h1m1 0h1m.5 0h1m-60 .5h1m6.5 0h1m0 0h1m0 0h1m9 0h1m.5 0h1m3.5 0h1m.5 0h1m0 0h1m3.5 0h1m3.5 0h1m.5 0h1m3 0h1m-.5 0h1m0 0h1m-.5 0h1m0 0h1m1 0h1m.5 0h1m-.5 0h1m.5 0h1m-.5 0h1m-.5 0h1m1.5 0h1m4.5 0h1m2.5 0h1m0 0h1m-50.5 .5h1m18 0h1m1 0h1m4.5 0h1m.5 0h1m-.5 0h1m.5 0h1m.5 0h1m0 0h1m.5 0h1m-.5 0h1m0 0h1m0 0h1m4 0h1m1.5 0h1m2.5 0h1m-68 .5h1m13.5 0h1m11.5 0h1m5 0h1m1.5 0h1m4.5 0h1m-.5 0h1m0 0h1m1 0h1m-.5 0h1m0 0h1m1.5 0h1m.5 0h1m-.5 0h1m-.5 0h1m-.5 0h1m.5 0h1m-.5 0h1m-.5 0h1m-.5 0h1m-.5 0h1m.5 0h1m0 0h1m0 0h1m-.5 0h1m0 0h1m6 0h1m-57.5 .5h1m-.5 0h1m14 0h1m11 0h1m-.5 0h1m0 0h1m2 0h1m1.5 0h1m1 0h1m0 0h1m0 0h1m.5 0h1m0 0h1m1 0h1m0 0h1m-.5 0h1m0 0h1m0 0h1m0 0h1m5.5 0h1m0 0h1m-57.5 .5h1m3.5 0h1m-.5 0h1m3 0h1m27.5 0h1m2.5 0h1m-.5 0h1m-.5 0h1m.5 0h1m-.5 0h1m-.5 0h1m-.5 0h1m-.5 0h1m-.5 0h1m0 0h1m.5 0h1m-49.5 .5h1m-.5 0h1m3.5 0h1m4 0h1m16.5 0h1m2 0h1m-.5 0h1m2 0h1m.5 0h1m2.5 0h1m-.5 0h1m0 0h1m0 0h1m-.5 0h1m.5 0h1m.5 0h1m-.5 0h1m-.5 0h1m-.5 0h1m0 0h1m-.5 0h1m0 0h1m22 0h1m-72.5 .5h1m0 0h1m5.5 0h1m1.5 0h1m19 0h1m0 0h1m0 0h1m1 0h1m3 0h1m.5 0h1m-.5 0h1m2 0h1m.5 0h1m0 0h1m0 0h1m-.5 0h1m-.5 0h1m1 0h1m3.5 0h1m0 0h1m0 0h1m.5 0h1m1 0h1m-67.5 .5h1m8.5 0h1m1.5 0h1m5.5 0h1m1.5 0h1m5 0h1m3 0h1m1.5 0h1m.5 0h1m8 0h1m6 0h1m1.5 0h1m0 0h1m-.5 0h1m-49.5 .5h1m2 0h1m0 0h1m2 0h1m6 0h1m-.5 0h1m9.5 0h1m6.5 0h1m4 0h1m-.5 0h1m2 0h1m-.5 0h1m2.5 0h1m2 0h1m2.5 0h1m-54 .5h1m2 0h1m1.5 0h1m-.5 0h1m0 0h1m0 0h1m1.5 0h1m1.5 0h1m-.5 0h1m.5 0h1m16 0h1m0 0h1m-.5 0h1m0 0h1m4 0h1m3.5 0h1m-.5 0h1m-.5 0h1m-.5 0h1m3.5 0h1m4 0h1m2.5 0h1m.5 0h1m-59.5 .5h1m-.5 0h1m-.5 0h1m3 0h1m-.5 0h1m1.5 0h1m1 0h1m21.5 0h1m0 0h1m1 0h1m2 0h1m6 0h1m5 0h1m0 0h1m0 0h1m8 0h1m-67 .5h1m5 0h1m.5 0h1m1.5 0h1m.5 0h1m2 0h1m7 0h1m10.5 0h1m5.5 0h1m1 0h1m-.5 0h1m4 0h1m3 0h1m5.5 0h1m1.5 0h1m-60.5 .5h1m4 0h1m-.5 0h1m.5 0h1m.5 0h1m-.5 0h1m0 0h1m0 0h1m.5 0h1m-.5 0h1m7 0h1m21.5 0h1m.5 0h1m-.5 0h1m22.5 0h1m-69.5 .5h1m.5 0h1m0 0h1m-.5 0h1m2 0h1m-.5 0h1m-.5 0h1m3.5 0h1m-.5 0h1m0 0h1m-.5 0h1m4 0h1m1.5 0h1m18 0h1m1.5 0h1m10 0h1m1.5 0h1m-65 .5h1m6 0h1m-.5 0h1m3 0h1m.5 0h1m.5 0h1m1 0h1m3.5 0h1m3.5 0h1m40 0h1m-62.5 .5h1m1 0h1m-.5 0h1m2 0h1m.5 0h1m4 0h1m2.5 0h1m-.5 0h1m0 0h1m3.5 0h1m27 0h1m5.5 0h1m16 0h1m-65.5 .5h1m3.5 0h1m0 0h1m-.5 0h1m.5 0h1m2.5 0h1m15 0h1m27 0h1m-61 .5h1m0 0h1m0 0h1m0 0h1m0 0h1m-.5 0h1m4.5 0h1m-.5 0h1m-.5 0h1m1 0h1m0 0h1m0 0h1m15 0h1m11 0h1m-51 .5h1m3 0h1m5.5 0h1m0 0h1m3.5 0h1m0 0h1m0 0h1m1.5 0h1m.5 0h1m3 0h1m.5 0h1m7 0h1m2.5 0h1m27 0h1m-.5 0h1m-64 .5h1m2 0h1m-.5 0h1m1 0h1m-.5 0h1m6 0h1m-.5 0h1m-.5 0h1m0 0h1m-.5 0h1m0 0h1m-.5 0h1m0 0h1m1 0h1m1 0h1m17 0h1m10.5 0h1m6.5 0h1m-59.5 .5h1m2 0h1m-.5 0h1m-.5 0h1m-.5 0h1m0 0h1m-.5 0h1m4.5 0h1m0 0h1m1.5 0h1m2 0h1m0 0h1m26.5 0h1m-53 .5h1m1 0h1m.5 0h1m0 0h1m.5 0h1m.5 0h1m1 0h1m8.5 0h1m2 0h1m4 0h1m6.5 0h1m29.5 0h1m-60.5 .5h1m1 0h1m-.5 0h1m-.5 0h1m1 0h1m5.5 0h1m-.5 0h1m1 0h1m22 0h1m0 0h1m2.5 0h1m3 0h1m11.5 0h1m-66.5 .5h1m5 0h1m-.5 0h1m0 0h1m3 0h1m-.5 0h1m0 0h1m5 0h1m.5 0h1m0 0h1m3.5 0h1m2 0h1m14 0h1m1 0h1m8 0h1m-51 .5h1m4 0h1m-.5 0h1m-.5 0h1m-.5 0h1m0 0h1m-.5 0h1m-.5 0h1m4.5 0h1m-.5 0h1m1 0h1m0 0h1m2 0h1m3 0h1m6 0h1m13 0h1m3 0h1m4.5 0h1m-56.5 .5h1m0 0h1m1 0h1m-.5 0h1m0 0h1m-.5 0h1m.5 0h1m1 0h1m-.5 0h1m5 0h1m0 0h1m0 0h1m2.5 0h1m.5 0h1m0 0h1m6 0h1m4.5 0h1m-38 .5h1m2 0h1m3.5 0h1m-.5 0h1m-.5 0h1m.5 0h1m6 0h1m2 0h1m0 0h1m21.5 0h1m4 0h1m10.5 0h1m2 0h1m-62.5 .5h1m6 0h1m7 0h1m.5 0h1m-.5 0h1m.5 0h1m.5 0h1m2 0h1m6.5 0h1m1.5 0h1m14.5 0h1m9 0h1m-56 .5h1m-.5 0h1m1 0h1m-.5 0h1m0 0h1m6.5 0h1m-.5 0h1m0 0h1m-.5 0h1m-.5 0h1m1.5 0h1m0 0h1m-.5 0h1m3 0h1m9.5 0h1m2 0h1m17 0h1m1.5 0h1m4 0h1m-65.5 .5h1m2.5 0h1m.5 0h1m-.5 0h1m0 0h1m-.5 0h1m0 0h1m-.5 0h1m5.5 0h1m-.5 0h1m-.5 0h1m1 0h1m-.5 0h1m-.5 0h1m-.5 0h1m2.5 0h1m13 0h1m2.5 0h1m7.5 0h1m-.5 0h1m8 0h1m4 0h1m0 0h1m-67 .5h1m3 0h1m0 0h1m1 0h1m0 0h1m-.5 0h1m0 0h1m6 0h1m.5 0h1m-.5 0h1m-.5 0h1m-.5 0h1m-.5 0h1m-.5 0h1m0 0h1m-.5 0h1m-.5 0h1m34 0h1m-57.5 .5h1m0 0h1m1.5 0h1m1.5 0h1m-.5 0h1m-.5 0h1m.5 0h1m-.5 0h1m5.5 0h1m-.5 0h1m0 0h1m-.5 0h1m.5 0h1m-.5 0h1m1 0h1m3.5 0h1m0 0h1m20.5 0h1m-45 .5h1m1 0h1m-.5 0h1m-.5 0h1m.5 0h1m6.5 0h1m.5 0h1m-.5 0h1m-.5 0h1m0 0h1m0 0h1m-.5 0h1m1 0h1m1 0h1m-27 .5h1m3.5 0h1m.5 0h1m-.5 0h1m-.5 0h1m-.5 0h1m-.5 0h1m.5 0h1m5.5 0h1m.5 0h1m-.5 0h1m0 0h1m-.5 0h1m0 0h1m.5 0h1m0 0h1m1 0h1m5 0h1m-.5 0h1m23 0h1m5.5 0h1m-.5 0h1m-.5 0h1m.5 0h1m2 0h1m-70 .5h1m4.5 0h1m0 0h1m0 0h1m-.5 0h1m0 0h1m0 0h1m0 0h1m-.5 0h1m5.5 0h1m-.5 0h1m-.5 0h1m-.5 0h1m-.5 0h1m.5 0h1m-.5 0h1m12 0h1m11.5 0h1m12 0h1m0 0h1m.5 0h1m1.5 0h1m-64 .5h1m1.5 0h1m0 0h1m1 0h1m.5 0h1m0 0h1m5.5 0h1m-.5 0h1m-.5 0h1m0 0h1m-.5 0h1m0 0h1m0 0h1m-.5 0h1m2 0h1m1 0h1m3 0h1m.5 0h1m-.5 0h1m6.5 0h1m9 0h1m.5 0h1m9 0h1m1.5 0h1m-63 .5h1m0 0h1m2.5 0h1m1 0h1m-.5 0h1m-.5 0h1m0 0h1m-.5 0h1m5.5 0h1m1.5 0h1m-.5 0h1m-.5 0h1m1.5 0h1m0 0h1m1 0h1m5.5 0h1m3.5 0h1m25.5 0h1m.5 0h1m-64 .5h1m3 0h1m-.5 0h1m-.5 0h1m-.5 0h1m-.5 0h1m1 0h1m-.5 0h1m4.5 0h1m-.5 0h1m-.5 0h1m-.5 0h1m-.5 0h1m-.5 0h1m-.5 0h1m-.5 0h1m41 0h1m-57.5 .5h1m.5 0h1m-.5 0h1m0 0h1m-.5 0h1m-.5 0h1m0 0h1m-.5 0h1m5 0h1m-.5 0h1m0 0h1m-.5 0h1m0 0h1m1.5 0h1m9 0h1m5.5 0h1m19 0h1m4.5 0h1m-59.5 .5h1m2 0h1m-.5 0h1m-.5 0h1m-.5 0h1m5 0h1m-.5 0h1m-.5 0h1m-.5 0h1m-.5 0h1m0 0h1m-.5 0h1m-.5 0h1m-.5 0h1m2 0h1m4.5 0h1m9.5 0h1m8 0h1m-52 .5h1m6 0h1m1 0h1m1.5 0h1m-.5 0h1m6 0h1m1 0h1m.5 0h1m.5 0h1m2 0h1m13.5 0h1m17.5 0h1m1 0h1m1.5 0h1m0 0h1m6 0h1m-74.5 .5h1m.5 0h1m6.5 0h1m.5 0h1m-.5 0h1m-.5 0h1m-.5 0h1m.5 0h1m4.5 0h1m0 0h1m-.5 0h1m-.5 0h1m-.5 0h1m2 0h1m4.5 0h1m10.5 0h1m0 0h1m17.5 0h1m3.5 0h1m2 0h1m1 0h1m-69 .5h1m1 0h1m3 0h1m-.5 0h1m1 0h1m0 0h1m-.5 0h1m0 0h1m.5 0h1m3.5 0h1m-.5 0h1m-.5 0h1m-.5 0h1m-.5 0h1m-.5 0h1m-.5 0h1m0 0h1m3 0h1m19 0h1m2 0h1m12 0h1m3 0h1m0 0h1m-60.5 .5h1m0 0h1m.5 0h1m-.5 0h1m-.5 0h1m-.5 0h1m0 0h1m-.5 0h1m3 0h1m-.5 0h1m.5 0h1m-.5 0h1m-.5 0h1m-.5 0h1m-.5 0h1m-.5 0h1m.5 0h1m1 0h1m24.5 0h1m-.5 0h1m11.5 0h1m1 0h1m.5 0h1m2 0h1m-67 .5h1m3.5 0h1m1.5 0h1m-.5 0h1m-.5 0h1m-.5 0h1m-.5 0h1m-.5 0h1m3 0h1m-.5 0h1m-.5 0h1m-.5 0h1m-.5 0h1m-.5 0h1m4.5 0h1m13.5 0h1m.5 0h1m8.5 0h1m14.5 0h1m-67.5 .5h1m2 0h1m3.5 0h1m0 0h1m-.5 0h1m0 0h1m0 0h1m-.5 0h1m-.5 0h1m-.5 0h1m-.5 0h1m3 0h1m.5 0h1m-.5 0h1m-.5 0h1m0 0h1m-.5 0h1m0 0h1m-.5 0h1m0 0h1m0 0h1m2 0h1m-.5 0h1m8.5 0h1m23.5 0h1m1.5 0h1m-.5 0h1m-60 .5h1m-.5 0h1m3.5 0h1m.5 0h1m-.5 0h1m0 0h1m.5 0h1m0 0h1m-.5 0h1m-.5 0h1m-.5 0h1m-.5 0h1m-.5 0h1m-.5 0h1m1.5 0h1m3.5 0h1m13.5 0h1m21.5 0h1m-.5 0h1m-.5 0h1m-60 .5h1m0 0h1m2.5 0h1m0 0h1m0 0h1m-.5 0h1m-.5 0h1m-.5 0h1m-.5 0h1m-.5 0h1m-.5 0h1m-.5 0h1m-.5 0h1m-.5 0h1m-.5 0h1m0 0h1m0 0h1m-.5 0h1m.5 0h1m-.5 0h1m-.5 0h1m.5 0h1m-.5 0h1m2 0h1m4 0h1m2.5 0h1m-.5 0h1m25.5 0h1m-.5 0h1m1 0h1m0 0h1m.5 0h1m-59 .5h1m1 0h1m-.5 0h1m0 0h1m0 0h1m0 0h1m-.5 0h1m0 0h1m.5 0h1m-.5 0h1m0 0h1m-.5 0h1m1 0h1m0 0h1m2.5 0h1m8 0h1m4.5 0h1m17.5 0h1m.5 0h1m8.5 0h1m0 0h1m-67 .5h1m1 0h1m-.5 0h1m.5 0h1m0 0h1m-.5 0h1m0 0h1m-.5 0h1m0 0h1m-.5 0h1m-.5 0h1m0 0h1m-.5 0h1m-.5 0h1m-.5 0h1m-.5 0h1m1 0h1m-.5 0h1m1 0h1m-.5 0h1m11.5 0h1m3 0h1m10 0h1m11 0h1m3.5 0h1m-.5 0h1m-68 .5h1m3 0h1m0 0h1m3 0h1m-.5 0h1m0 0h1m-.5 0h1m-.5 0h1m-.5 0h1m-.5 0h1m0 0h1m-.5 0h1m-.5 0h1m-.5 0h1m-.5 0h1m0 0h1m0 0h1m0 0h1m.5 0h1m0 0h1m0 0h1m-.5 0h1m2 0h1m.5 0h1m21 0h1m.5 0h1m7 0h1m.5 0h1m12 0h1m-63 .5h1m.5 0h1m-.5 0h1m-.5 0h1m0 0h1m0 0h1m0 0h1m-.5 0h1m0 0h1m-.5 0h1m-.5 0h1m2 0h1m-.5 0h1m-.5 0h1m-.5 0h1m0 0h1m-.5 0h1m26.5 0h1m7.5 0h1m6.5 0h1m-65.5 .5h1m3 0h1m-.5 0h1m1 0h1m-.5 0h1m0 0h1m-.5 0h1m-.5 0h1m-.5 0h1m-.5 0h1m0 0h1m0 0h1m-.5 0h1m0 0h1m-.5 0h1m.5 0h1m0 0h1m1.5 0h1m0 0h1m8 0h1m3 0h1m22 0h1m1.5 0h1m3 0h1m.5 0h1m-61.5 .5h1m-.5 0h1m0 0h1m0 0h1m0 0h1m.5 0h1m0 0h1m.5 0h1m-.5 0h1m-.5 0h1m-.5 0h1m.5 0h1m-.5 0h1m-.5 0h1m0 0h1m-.5 0h1m1 0h1m6.5 0h1m7.5 0h1m1.5 0h1m11 0h1m10.5 0h1m.5 0h1m0 0h1m2 0h1m-65.5 .5h1m1.5 0h1m0 0h1m0 0h1m-.5 0h1m-.5 0h1m-.5 0h1m.5 0h1m-.5 0h1m-.5 0h1m-.5 0h1m-.5 0h1m-.5 0h1m-.5 0h1m-.5 0h1m0 0h1m1 0h1m-.5 0h1m-.5 0h1m-.5 0h1m2 0h1m18 0h1m.5 0h1m3.5 0h1m.5 0h1m7.5 0h1m4.5 0h1m-58.5 .5h1m0 0h1m.5 0h1m-.5 0h1m-.5 0h1m-.5 0h1m1 0h1m-.5 0h1m0 0h1m1 0h1m0 0h1m-.5 0h1m-.5 0h1m-.5 0h1m-.5 0h1m-.5 0h1m1 0h1m-.5 0h1m.5 0h1m4 0h1m3.5 0h1m7 0h1m7 0h1m12.5 0h1m1.5 0h1m0 0h1m-60.5 .5h1m-.5 0h1m.5 0h1m0 0h1m0 0h1m-.5 0h1m-.5 0h1m2 0h1m-.5 0h1m-.5 0h1m0 0h1m-.5 0h1m0 0h1m-.5 0h1m-.5 0h1m0 0h1m19 0h1m4.5 0h1m5 0h1m.5 0h1m6 0h1m-.5 0h1m.5 0h1m2 0h1m-.5 0h1m-60.5 .5h1m1 0h1m0 0h1m2.5 0h1m-.5 0h1m-.5 0h1m-.5 0h1m.5 0h1m1 0h1m-.5 0h1m-.5 0h1m0 0h1m-.5 0h1m1.5 0h1m-.5 0h1m28.5 0h1m10.5 0h1m-.5 0h1m1 0h1m-58 .5h1m-.5 0h1m-.5 0h1m-.5 0h1m0 0h1m0 0h1m-.5 0h1m-.5 0h1m-.5 0h1m0 0h1m0 0h1m1 0h1m-.5 0h1m2 0h1m.5 0h1m3 0h1m4 0h1m9 0h1m.5 0h1m17.5 0h1m0 0h1m-.5 0h1m.5 0h1m-64.5 .5h1m0 0h1m2.5 0h1m0 0h1m2 0h1m-.5 0h1m-.5 0h1m-.5 0h1m0 0h1m-.5 0h1m1 0h1m.5 0h1m-.5 0h1m-.5 0h1m0 0h1m.5 0h1m-.5 0h1m2 0h1m2 0h1m.5 0h1m12.5 0h1m10 0h1m3 0h1m4.5 0h1m3 0h1m2.5 0h1m-63 .5h1m-.5 0h1m.5 0h1m-.5 0h1m0 0h1m-.5 0h1m0 0h1m-.5 0h1m-.5 0h1m-.5 0h1m0 0h1m0 0h1m2.5 0h1m-.5 0h1m0 0h1m-.5 0h1m11 0h1m15.5 0h1m10.5 0h1m0 0h1m1.5 0h1m-.5 0h1m-67.5 .5h1m6 0h1m.5 0h1m2 0h1m0 0h1m0 0h1m2.5 0h1m.5 0h1m-.5 0h1m-.5 0h1m0 0h1m-.5 0h1m.5 0h1m10 0h1m1 0h1m5.5 0h1m19 0h1m0 0h1m1 0h1m3.5 0h1m-61 .5h1m1 0h1m1.5 0h1m-.5 0h1m-.5 0h1m.5 0h1m-.5 0h1m0 0h1m0 0h1m0 0h1m-.5 0h1m-.5 0h1m1 0h1m.5 0h1m40 0h1m4 0h1m-61 .5h1m0 0h1m-.5 0h1m0 0h1m.5 0h1m-.5 0h1m-.5 0h1m-.5 0h1m-.5 0h1m.5 0h1m.5 0h1m.5 0h1m4.5 0h1m0 0h1m11.5 0h1m3.5 0h1m4.5 0h1m11.5 0h1m2 0h1m.5 0h1m0 0h1m-68 .5h1m.5 0h1m5 0h1m2 0h1m-.5 0h1m0 0h1m-.5 0h1m-.5 0h1m0 0h1m-.5 0h1m.5 0h1m0 0h1m.5 0h1m.5 0h1m3 0h1m1 0h1m25.5 0h1m7.5 0h1m1.5 0h1m2 0h1m-59.5 .5h1m1 0h1m-.5 0h1m-.5 0h1m-.5 0h1m-.5 0h1m-.5 0h1m.5 0h1m1.5 0h1m0 0h1m-.5 0h1m-.5 0h1m2.5 0h1m6 0h1m14.5 0h1m7.5 0h1m7.5 0h1m3 0h1m0 0h1m-64.5 .5h1m-.5 0h1m3 0h1m.5 0h1m0 0h1m1 0h1m-.5 0h1m-.5 0h1m-.5 0h1m-.5 0h1m-.5 0h1m-.5 0h1m.5 0h1m0 0h1m-.5 0h1m0 0h1m2.5 0h1m0 0h1m0 0h1m11.5 0h1m3.5 0h1m3 0h1m11 0h1m1.5 0h1m1 0h1m0 0h1m2 0h1m-57 .5h1m1 0h1m1 0h1m.5 0h1m-.5 0h1m-.5 0h1m-.5 0h1m0 0h1m4.5 0h1m1 0h1m37 0h1m1.5 0h1m-56.5 .5h1m1.5 0h1m0 0h1m.5 0h1m0 0h1m-.5 0h1m1.5 0h1m-.5 0h1m-.5 0h1m5 0h1m4.5 0h1m15 0h1m11.5 0h1m1.5 0h1m-52.5 .5h1m1.5 0h1m-.5 0h1m0 0h1m1.5 0h1m6 0h1m9 0h1m10 0h1m13.5 0h1m-53.5 .5h1m1 0h1m.5 0h1m-.5 0h1m2 0h1m-.5 0h1m2 0h1m-.5 0h1m31 0h1m5.5 0h1m-.5 0h1m2 0h1m2 0h1m-57.5 .5h1m1.5 0h1m.5 0h1m0 0h1m-.5 0h1m0 0h1m-.5 0h1m-.5 0h1m-.5 0h1m-.5 0h1m-.5 0h1m0 0h1m0 0h1m24.5 0h1m4.5 0h1m11 0h1m1 0h1m0 0h1m-.5 0h1m0 0h1m2.5 0h1m-61.5 .5h1m0 0h1m-.5 0h1m-.5 0h1m1 0h1m-.5 0h1m-.5 0h1m-.5 0h1m.5 0h1m0 0h1m-.5 0h1m0 0h1m.5 0h1m-.5 0h1m-.5 0h1m16 0h1m7.5 0h1m15 0h1m2 0h1m1 0h1m-.5 0h1m-60.5 .5h1m1 0h1m1.5 0h1m-.5 0h1m1.5 0h1m2 0h1m.5 0h1m.5 0h1m15 0h1m22.5 0h1m0 0h1m-.5 0h1m1 0h1m-64 .5h1m-.5 0h1m4.5 0h1m1 0h1m0 0h1m-.5 0h1m-.5 0h1m-.5 0h1m.5 0h1m0 0h1m1 0h1m-.5 0h1m-.5 0h1m-.5 0h1m0 0h1m-.5 0h1m1 0h1m40.5 0h1m-56.5 .5h1m0 0h1m.5 0h1m2.5 0h1m0 0h1m-.5 0h1m-.5 0h1m-.5 0h1m.5 0h1m-.5 0h1m.5 0h1m1.5 0h1m15 0h1m2.5 0h1m11.5 0h1m0 0h1m4.5 0h1m2 0h1m1.5 0h1m-68.5 .5h1m4.5 0h1m5.5 0h1m-.5 0h1m1.5 0h1m-.5 0h1m0 0h1m-.5 0h1m-.5 0h1m-.5 0h1m0 0h1m-.5 0h1m0 0h1m4 0h1m1.5 0h1m16 0h1m4.5 0h1m10 0h1m0 0h1m-56 .5h1m1 0h1m1.5 0h1m-.5 0h1m-.5 0h1m0 0h1m.5 0h1m-.5 0h1m-.5 0h1m-.5 0h1m-.5 0h1m0 0h1m0 0h1m-.5 0h1m-.5 0h1m1.5 0h1m28 0h1m9.5 0h1m2.5 0h1m-67.5 .5h1m9 0h1m1.5 0h1m0 0h1m1.5 0h1m-.5 0h1m-.5 0h1m-.5 0h1m-.5 0h1m-.5 0h1m-.5 0h1m.5 0h1m1 0h1m3 0h1m24 0h1m8.5 0h1m0 0h1m3.5 0h1m-67 .5h1m8 0h1m0 0h1m2 0h1m0 0h1m-.5 0h1m0 0h1m-.5 0h1m-.5 0h1m-.5 0h1m-.5 0h1m0 0h1m-.5 0h1m0 0h1m-.5 0h1m2.5 0h1m0 0h1m9 0h1m7 0h1m6 0h1m12.5 0h1m-54 .5h1m2.5 0h1m-.5 0h1m-.5 0h1m0 0h1m0 0h1m-.5 0h1m-.5 0h1m-.5 0h1m-.5 0h1m-.5 0h1m0 0h1m3 0h1m3.5 0h1m9 0h1m23.5 0h1m-.5 0h1m2.5 0h1m-66.5 .5h1m3 0h1m1.5 0h1m.5 0h1m.5 0h1m-.5 0h1m0 0h1m1 0h1m.5 0h1m-.5 0h1m-.5 0h1m.5 0h1m.5 0h1m0 0h1m.5 0h1m17 0h1m6 0h1m12.5 0h1m.5 0h1m1.5 0h1m0 0h1m-57.5 .5h1m2.5 0h1m0 0h1m-.5 0h1m0 0h1m-.5 0h1m0 0h1m3.5 0h1m20 0h1m2.5 0h1m12 0h1m1 0h1m.5 0h1m-57 .5h1m3 0h1m.5 0h1m-.5 0h1m1 0h1m1 0h1m-.5 0h1m0 0h1m0 0h1m42.5 0h1m1 0h1m1.5 0h1m-56.5 .5h1m1.5 0h1m-.5 0h1m0 0h1m2 0h1m1.5 0h1m-.5 0h1m0 0h1m1.5 0h1m1 0h1m4.5 0h1m5 0h1m4 0h1m5.5 0h1m0 0h1m12.5 0h1m.5 0h1m2 0h1m-71 .5h1m8.5 0h1m0 0h1m.5 0h1m1 0h1m0 0h1m0 0h1m0 0h1m.5 0h1m-.5 0h1m1 0h1m16 0h1m7 0h1m15.5 0h1m3.5 0h1m0 0h1m-59.5 .5h1m2 0h1m0 0h1m-.5 0h1m-.5 0h1m1 0h1m-.5 0h1m0 0h1m.5 0h1m0 0h1m.5 0h1m-.5 0h1m0 0h1m21.5 0h1m3 0h1m9 0h1m2 0h1m-54.5 .5h1m.5 0h1m-.5 0h1m0 0h1m-.5 0h1m1 0h1m-.5 0h1m-.5 0h1m-.5 0h1m-.5 0h1m-.5 0h1m-.5 0h1m-.5 0h1m-.5 0h1m43 0h1m-56 .5h1m1 0h1m2.5 0h1m0 0h1m1 0h1m1.5 0h1m15.5 0h1m19 0h1m8.5 0h1m-54 .5h1m1 0h1m0 0h1m0 0h1m0 0h1m0 0h1m.5 0h1m0 0h1m2 0h1m39.5 0h1m0 0h1m-51.5 .5h1m-.5 0h1m-.5 0h1m0 0h1m.5 0h1m-.5 0h1m0 0h1m-.5 0h1m.5 0h1m1 0h1m0 0h1m3.5 0h1m16 0h1m2.5 0h1m12 0h1m2 0h1m.5 0h1m-60.5 .5h1m3.5 0h1m-.5 0h1m-.5 0h1m1 0h1m-.5 0h1m1 0h1m0 0h1m0 0h1m2 0h1m0 0h1m0 0h1m9.5 0h1m11.5 0h1m4 0h1m4 0h1m6.5 0h1m2.5 0h1m-65.5 .5h1m6.5 0h1m-.5 0h1m0 0h1m1.5 0h1m-.5 0h1m0 0h1m0 0h1m0 0h1m0 0h1m0 0h1m1.5 0h1m9.5 0h1m34 0h1m-.5 0h1m-67.5 .5h1m3.5 0h1m3.5 0h1m1 0h1m4.5 0h1m41.5 0h1m4.5 0h1m-57.5 .5h1m-.5 0h1m1.5 0h1m-.5 0h1m0 0h1m0 0h1m-.5 0h1m3.5 0h1m2 0h1m1 0h1m7 0h1m-30.5 .5h1m5 0h1m.5 0h1m-.5 0h1m2 0h1m1 0h1m1.5 0h1m6.5 0h1m5 0h1m5.5 0h1m0 0h1m-.5 0h1m23 0h1m-57.5 .5h1m0 0h1m2.5 0h1m0 0h1m1.5 0h1m-.5 0h1m2 0h1m.5 0h1m7 0h1m2.5 0h1m2.5 0h1m5 0h1m14.5 0h1m2 0h1m1 0h1m-62 .5h1m1.5 0h1m7.5 0h1m.5 0h1m.5 0h1m1 0h1m5 0h1m-.5 0h1m27 0h1m-51 .5h1m4.5 0h1m1 0h1m-.5 0h1m.5 0h1m2.5 0h1m.5 0h1m2 0h1m5 0h1m1.5 0h1m11 0h1m20 0h1m-59.5 .5h1m4.5 0h1m0 0h1m-.5 0h1m3 0h1m.5 0h1m-.5 0h1m-.5 0h1m-.5 0h1m1.5 0h1m5.5 0h1m1.5 0h1m18.5 0h1m2.5 0h1m-.5 0h1m-.5 0h1m5 0h1m-54.5 .5h1m1 0h1m5.5 0h1m-.5 0h1m.5 0h1m0 0h1m0 0h1m1 0h1m3 0h1m1 0h1m24.5 0h1m14 0h1m-68.5 .5h1m9 0h1m0 0h1m-.5 0h1m0 0h1m.5 0h1m0 0h1m.5 0h1m-.5 0h1m.5 0h1m-.5 0h1m3.5 0h1m5 0h1m14 0h1m.5 0h1m2 0h1m7.5 0h1m.5 0h1m0 0h1m2 0h1m-.5 0h1m-62.5 .5h1m5.5 0h1m-.5 0h1m0 0h1m5 0h1m0 0h1m.5 0h1m0 0h1m0 0h1m-.5 0h1m-.5 0h1m-.5 0h1m0 0h1m1.5 0h1m-.5 0h1m2 0h1m-.5 0h1m-.5 0h1m2 0h1m10 0h1m11 0h1m5 0h1m7 0h1m-66.5 .5h1m4 0h1m-.5 0h1m0 0h1m2 0h1m1.5 0h1m2 0h1m.5 0h1m-.5 0h1m-.5 0h1m-.5 0h1m0 0h1m4.5 0h1m4.5 0h1m13 0h1m4.5 0h1m3 0h1m7.5 0h1m-62.5 .5h1m0 0h1m1.5 0h1m1.5 0h1m1 0h1m0 0h1m0 0h1m0 0h1m0 0h1m0 0h1m-.5 0h1m.5 0h1m-.5 0h1m5 0h1m.5 0h1m1 0h1m-.5 0h1m22 0h1m-.5 0h1m5.5 0h1m0 0h1m-.5 0h1m.5 0h1m1 0h1m1.5 0h1m0 0h1m-69 .5h1m0 0h1m2.5 0h1m-.5 0h1m2.5 0h1m-.5 0h1m.5 0h1m2 0h1m0 0h1m-.5 0h1m-.5 0h1m-.5 0h1m0 0h1m.5 0h1m.5 0h1m1 0h1m2.5 0h1m-.5 0h1m1.5 0h1m15 0h1m5 0h1m0 0h1m1 0h1m2.5 0h1m-.5 0h1m2 0h1m0 0h1m1 0h1m-67 .5h1m7.5 0h1m0 0h1m-.5 0h1m-.5 0h1m1.5 0h1m.5 0h1m0 0h1m-.5 0h1m-.5 0h1m0 0h1m0 0h1m0 0h1m0 0h1m-.5 0h1m-.5 0h1m-.5 0h1m.5 0h1m0 0h1m-.5 0h1m3 0h1m27 0h1m1 0h1m0 0h1m.5 0h1m.5 0h1m-.5 0h1m0 0h1m1 0h1m.5 0h1m-.5 0h1m2 0h1m-70.5 .5h1m-.5 0h1m1.5 0h1m1 0h1m.5 0h1m0 0h1m1.5 0h1m-.5 0h1m-.5 0h1m-.5 0h1m-.5 0h1m0 0h1m-.5 0h1m0 0h1m-.5 0h1m-.5 0h1m0 0h1m-.5 0h1m-.5 0h1m-.5 0h1m.5 0h1m-.5 0h1m0 0h1m0 0h1m0 0h1m5.5 0h1m.5 0h1m16.5 0h1m2 0h1m-.5 0h1m0 0h1m0 0h1m3 0h1m1.5 0h1m-.5 0h1m1.5 0h1m-.5 0h1m5 0h1m-65.5 .5h1m0 0h1m0 0h1m-.5 0h1m0 0h1m-.5 0h1m0 0h1m-.5 0h1m-.5 0h1m-.5 0h1m-.5 0h1m0 0h1m1 0h1m-.5 0h1m-.5 0h1m-.5 0h1m0 0h1m0 0h1m0 0h1m1 0h1m.5 0h1m1 0h1m1.5 0h1m2 0h1m1.5 0h1m12 0h1m3 0h1m2.5 0h1m0 0h1m-.5 0h1m-.5 0h1m1 0h1m-.5 0h1m.5 0h1m-.5 0h1m0 0h1m2 0h1m-.5 0h1m.5 0h1m-65.5 .5h1m-.5 0h1m.5 0h1m.5 0h1m2 0h1m0 0h1m-.5 0h1m.5 0h1m-.5 0h1m-.5 0h1m.5 0h1m-.5 0h1m-.5 0h1m-.5 0h1m-.5 0h1m0 0h1m0 0h1m0 0h1m-.5 0h1m-.5 0h1m-.5 0h1m-.5 0h1m.5 0h1m2.5 0h1m-.5 0h1m0 0h1m20 0h1m0 0h1m0 0h1m.5 0h1m0 0h1m-.5 0h1m.5 0h1m2 0h1m.5 0h1m-.5 0h1m2.5 0h1m-.5 0h1m1 0h1m5 0h1m-73 .5h1m-.5 0h1m4 0h1m1 0h1m0 0h1m0 0h1m0 0h1m0 0h1m0 0h1m.5 0h1m.5 0h1m1.5 0h1m-.5 0h1m-.5 0h1m0 0h1m1.5 0h1m-.5 0h1m1 0h1m-.5 0h1m0 0h1m0 0h1m12.5 0h1m-.5 0h1m0 0h1m7 0h1m1.5 0h1m.5 0h1m-.5 0h1m-.5 0h1m-.5 0h1m-.5 0h1m-.5 0h1m-.5 0h1m0 0h1m-.5 0h1m1 0h1m0 0h1m.5 0h1m.5 0h1m-.5 0h1m4 0h1m-75.5 .5h1m7.5 0h1m1 0h1m-.5 0h1m-.5 0h1m-.5 0h1m-.5 0h1m1 0h1m.5 0h1m0 0h1m-.5 0h1m-.5 0h1m.5 0h1m-.5 0h1m-.5 0h1m.5 0h1m-.5 0h1m-.5 0h1m0 0h1m-.5 0h1m-.5 0h1m2 0h1m-.5 0h1m.5 0h1m21 0h1m1 0h1m3 0h1m-.5 0h1m.5 0h1m-.5 0h1m0 0h1m-.5 0h1m.5 0h1m-.5 0h1m-.5 0h1m.5 0h1m-.5 0h1m.5 0h1m-.5 0h1m1 0h1m0 0h1m0 0h1m-65 .5h1m-.5 0h1m0 0h1m-.5 0h1m0 0h1m-.5 0h1m-.5 0h1m-.5 0h1m-.5 0h1m-.5 0h1m-.5 0h1m-.5 0h1m-.5 0h1m-.5 0h1m.5 0h1m-.5 0h1m0 0h1m-.5 0h1m-.5 0h1m-.5 0h1m0 0h1m.5 0h1m-.5 0h1m-.5 0h1m0 0h1m-.5 0h1m0 0h1m0 0h1m1 0h1m2.5 0h1m3 0h1m8 0h1m5.5 0h1m1.5 0h1m1 0h1m.5 0h1m-.5 0h1m0 0h1m-.5 0h1m0 0h1m-.5 0h1m-.5 0h1m-.5 0h1m-.5 0h1m-.5 0h1m-.5 0h1m-.5 0h1m1 0h1m-.5 0h1m.5 0h1m.5 0h1m-62 .5h1m0 0h1m-.5 0h1m-.5 0h1m-.5 0h1m-.5 0h1m-.5 0h1m-.5 0h1m0 0h1m-.5 0h1m-.5 0h1m4 0h1m.5 0h1m-.5 0h1m0 0h1m0 0h1m1 0h1m3 0h1m13.5 0h1m7.5 0h1m3.5 0h1m0 0h1m-.5 0h1m-.5 0h1m-.5 0h1m1.5 0h1m-.5 0h1m-.5 0h1m-.5 0h1m-.5 0h1m-.5 0h1m-.5 0h1m0 0h1m2.5 0h1m-.5 0h1m0 0h1m-.5 0h1m-.5 0h1m3 0h1m-68.5 .5h1m0 0h1m.5 0h1m-.5 0h1m.5 0h1m8 0h1m.5 0h1m-.5 0h1m1.5 0h1m1 0h1m5 0h1m6 0h1m6 0h1m2.5 0h1m2 0h1m-.5 0h1m.5 0h1m-.5 0h1m4 0h1m-.5 0h1m.5 0h1m-.5 0h1m-.5 0h1m0 0h1m0 0h1m-.5 0h1m0 0h1m-.5 0h1m-68 .5h1m.5 0h1m1.5 0h1m-.5 0h1m-.5 0h1m-.5 0h1m.5 0h1m-.5 0h1m.5 0h1m11.5 0h1m-.5 0h1m0 0h1m0 0h1m-.5 0h1m-.5 0h1m-.5 0h1m-.5 0h1m1 0h1m1.5 0h1m0 0h1m-.5 0h1m1.5 0h1m2 0h1m4 0h1m7 0h1m0 0h1m0 0h1m0 0h1m-.5 0h1m-.5 0h1m-.5 0h1m0 0h1m-.5 0h1m-.5 0h1m0 0h1m-.5 0h1m-.5 0h1m-.5 0h1m-.5 0h1m-.5 0h1m-.5 0h1m0 0h1m-.5 0h1m-.5 0h1m0 0h1m0 0h1m0 0h1m-.5 0h1m0 0h1m.5 0h1m-70 .5h1m0 0h1m2 0h1m.5 0h1m.5 0h1m-.5 0h1m0 0h1m13.5 0h1m-.5 0h1m-.5 0h1m1 0h1m.5 0h1m19.5 0h1m1 0h1m-.5 0h1m1.5 0h1m-.5 0h1m-.5 0h1m0 0h1m0 0h1m-.5 0h1m0 0h1m1 0h1m-.5 0h1m-.5 0h1m-.5 0h1m-.5 0h1m.5 0h1m.5 0h1m-.5 0h1m-.5 0h1m.5 0h1m-.5 0h1m.5 0h1m-78.5 .5h1m7 0h1m2 0h1m-.5 0h1m1 0h1m-.5 0h1m-.5 0h1m-.5 0h1m-.5 0h1m-.5 0h1m14 0h1m-.5 0h1m-.5 0h1m1 0h1m-.5 0h1m-.5 0h1m0 0h1m1.5 0h1m.5 0h1m.5 0h1m3 0h1m8 0h1m-.5 0h1m.5 0h1m1 0h1m.5 0h1m-.5 0h1m0 0h1m-.5 0h1m-.5 0h1m0 0h1m-.5 0h1m-.5 0h1m-.5 0h1m-.5 0h1m.5 0h1m0 0h1m2 0h1m-.5 0h1m-.5 0h1m-.5 0h1m0 0h1m.5 0h1m.5 0h1m-65.5 .5h1m2 0h1m-.5 0h1m15 0h1m0 0h1m-.5 0h1m-.5 0h1m.5 0h1m0 0h1m1 0h1m0 0h1m2.5 0h1m3.5 0h1m2.5 0h1m8 0h1m-.5 0h1m.5 0h1m1.5 0h1m0 0h1m-.5 0h1m-.5 0h1m4.5 0h1m-.5 0h1m-.5 0h1m.5 0h1m-.5 0h1m.5 0h1m-.5 0h1m0 0h1m1 0h1m1 0h1m-69.5 .5h1m1.5 0h1m16 0h1m2.5 0h1m2 0h1m7 0h1m6 0h1m3 0h1m-.5 0h1m2.5 0h1m-.5 0h1m-.5 0h1m-.5 0h1m-.5 0h1m-.5 0h1m0 0h1m5 0h1m-.5 0h1m-.5 0h1m-.5 0h1m.5 0h1m-.5 0h1m-.5 0h1m3 0h1m1 0h1m-80 .5h1m1 0h1m5 0h1m-.5 0h1m0 0h1m-.5 0h1m-.5 0h1m18.5 0h1m0 0h1m0 0h1m0 0h1m1 0h1m6.5 0h1m0 0h1m1.5 0h1m1 0h1m0 0h1m4.5 0h1m0 0h1m-.5 0h1m-.5 0h1m-.5 0h1m-.5 0h1m-.5 0h1m-.5 0h1m-.5 0h1m0 0h1m0 0h1m-.5 0h1m-.5 0h1m-.5 0h1m6 0h1m-.5 0h1m-.5 0h1m-.5 0h1m.5 0h1m-.5 0h1m.5 0h1m.5 0h1m-73.5 .5h1m-.5 0h1m3.5 0h1m.5 0h1m-.5 0h1m-.5 0h1m0 0h1m17.5 0h1m-.5 0h1m-.5 0h1m1 0h1m-.5 0h1m2.5 0h1m.5 0h1m2.5 0h1m7 0h1m5 0h1m-.5 0h1m0 0h1m-.5 0h1m0 0h1m1 0h1m-.5 0h1m7.5 0h1m-.5 0h1m-.5 0h1m.5 0h1m-.5 0h1m.5 0h1m.5 0h1m1 0h1m-72 .5h1m-.5 0h1m2 0h1m18 0h1m1.5 0h1m5 0h1m0 0h1m0 0h1m.5 0h1m.5 0h1m3.5 0h1m-.5 0h1m0 0h1m1.5 0h1m1.5 0h1m1 0h1m1.5 0h1m0 0h1m-.5 0h1m-.5 0h1m-.5 0h1m-.5 0h1m7 0h1m0 0h1m-.5 0h1m-.5 0h1m-.5 0h1m0 0h1m-.5 0h1m.5 0h1m-.5 0h1m-71.5 .5h1m0 0h1m-.5 0h1m1 0h1m-.5 0h1m1.5 0h1m-.5 0h1m17 0h1m1 0h1m-.5 0h1m1 0h1m0 0h1m.5 0h1m4.5 0h1m2 0h1m-.5 0h1m-.5 0h1m0 0h1m5.5 0h1m1.5 0h1m-.5 0h1m-.5 0h1m0 0h1m-.5 0h1m-.5 0h1m1 0h1m9.5 0h1m.5 0h1m-.5 0h1m-66 .5h1m.5 0h1m-.5 0h1m-.5 0h1m17 0h1m-.5 0h1m-.5 0h1m-.5 0h1m-.5 0h1m2 0h1m-.5 0h1m4 0h1m4.5 0h1m3 0h1m1 0h1m-.5 0h1m1 0h1m2.5 0h1m0 0h1m-.5 0h1m-.5 0h1m-.5 0h1m-.5 0h1m8 0h1m-.5 0h1m-.5 0h1m-.5 0h1m-.5 0h1m1 0h1m-.5 0h1m-73.5 .5h1m5.5 0h1m0 0h1m-.5 0h1m-.5 0h1m1 0h1m16.5 0h1m-.5 0h1m-.5 0h1m0 0h1m.5 0h1m-.5 0h1m0 0h1m0 0h1m-.5 0h1m6 0h1m2.5 0h1m-.5 0h1m0 0h1m-.5 0h1m0 0h1m1 0h1m-.5 0h1m1 0h1m1.5 0h1m-.5 0h1m1.5 0h1m0 0h1m0 0h1m7 0h1m-.5 0h1m-.5 0h1m-.5 0h1m1.5 0h1m2 0h1m-79.5 .5h1m4.5 0h1m-.5 0h1m2.5 0h1m3.5 0h1m16 0h1m-.5 0h1m-.5 0h1m-.5 0h1m.5 0h1m-.5 0h1m-.5 0h1m9 0h1m1.5 0h1m.5 0h1m-.5 0h1m1.5 0h1m6 0h1m0 0h1m0 0h1m0 0h1m0 0h1m-.5 0h1m7 0h1m-.5 0h1m.5 0h1m-.5 0h1m2.5 0h1m-73 .5h1m0 0h1m4.5 0h1m-.5 0h1m0 0h1m-.5 0h1m15.5 0h1m-.5 0h1m0 0h1m3.5 0h1m2.5 0h1m2 0h1m-.5 0h1m.5 0h1m.5 0h1m0 0h1m0 0h1m-.5 0h1m.5 0h1m1 0h1m-.5 0h1m1.5 0h1m-.5 0h1m.5 0h1m-.5 0h1m1 0h1m-.5 0h1m-.5 0h1m0 0h1m-.5 0h1m0 0h1m6.5 0h1m-.5 0h1m0 0h1m0 0h1m-.5 0h1m-.5 0h1m-73.5 .5h1m4.5 0h1m-.5 0h1m0 0h1m0 0h1m-.5 0h1m1.5 0h1m16 0h1m.5 0h1m-.5 0h1m-.5 0h1m.5 0h1m6.5 0h1m.5 0h1m0 0h1m3.5 0h1m-.5 0h1m2 0h1m3.5 0h1m1 0h1m.5 0h1m-.5 0h1m-.5 0h1m-.5 0h1m.5 0h1m-.5 0h1m-.5 0h1m5.5 0h1m-.5 0h1m-.5 0h1m-.5 0h1m1 0h1m-69.5 .5h1m3 0h1m-.5 0h1m-.5 0h1m.5 0h1m2 0h1m-.5 0h1m13.5 0h1m-.5 0h1m-.5 0h1m1 0h1m.5 0h1m.5 0h1m3 0h1m1 0h1m1 0h1m-.5 0h1m.5 0h1m0 0h1m0 0h1m-.5 0h1m-.5 0h1m4 0h1m-.5 0h1m3 0h1m-.5 0h1m0 0h1m0 0h1m0 0h1m.5 0h1m0 0h1m-.5 0h1m4 0h1m-.5 0h1m-.5 0h1m-.5 0h1m0 0h1m-.5 0h1m2 0h1m0 0h1m-72.5 .5h1m0 0h1m2 0h1m-.5 0h1m1.5 0h1m-.5 0h1m-.5 0h1m-.5 0h1m13.5 0h1m-.5 0h1m1.5 0h1m2.5 0h1m0 0h1m8.5 0h1m2.5 0h1m1 0h1m0 0h1m4 0h1m-.5 0h1m0 0h1m.5 0h1m-.5 0h1m-.5 0h1m.5 0h1m-.5 0h1m-.5 0h1m-.5 0h1m-.5 0h1m3.5 0h1m-.5 0h1m-.5 0h1m-.5 0h1m1 0h1m-.5 0h1m1 0h1m.5 0h1m0 0h1m-67.5 .5h1m1 0h1m0 0h1m2 0h1m-.5 0h1m-.5 0h1m8.5 0h1m-.5 0h1m.5 0h1m-.5 0h1m0 0h1m0 0h1m0 0h1m-.5 0h1m0 0h1m1 0h1m11.5 0h1m.5 0h1m.5 0h1m-.5 0h1m-.5 0h1m1 0h1m7.5 0h1m0 0h1m0 0h1m-.5 0h1m-.5 0h1m.5 0h1m0 0h1m0 0h1m-.5 0h1m-.5 0h1m.5 0h1m0 0h1m1 0h1m-.5 0h1m0 0h1m2.5 0h1m-72 .5h1m3.5 0h1m3 0h1m6.5 0h1m-.5 0h1m-.5 0h1m.5 0h1m0 0h1m-.5 0h1m0 0h1m-.5 0h1m.5 0h1m-.5 0h1m7 0h1m1 0h1m-.5 0h1m0 0h1m5.5 0h1m4.5 0h1m0 0h1m.5 0h1m0 0h1m0 0h1m0 0h1m.5 0h1m-.5 0h1m-.5 0h1m0 0h1m-.5 0h1m-.5 0h1m-.5 0h1m-.5 0h1m0 0h1m-.5 0h1m-.5 0h1m-.5 0h1m.5 0h1m2 0h1m-.5 0h1m-.5 0h1m1 0h1m2 0h1m-73.5 .5h1m1.5 0h1m0 0h1m.5 0h1m2.5 0h1m-.5 0h1m.5 0h1m-.5 0h1m-.5 0h1m-.5 0h1m-.5 0h1m-.5 0h1m-.5 0h1m0 0h1m0 0h1m0 0h1m-.5 0h1m-.5 0h1m-.5 0h1m-.5 0h1m0 0h1m2.5 0h1m-.5 0h1m1 0h1m0 0h1m-.5 0h1m0 0h1m0 0h1m-.5 0h1m5.5 0h1m-.5 0h1m0 0h1m1 0h1m1.5 0h1m.5 0h1m1.5 0h1m6.5 0h1m.5 0h1m-.5 0h1m-.5 0h1m0 0h1m1.5 0h1m-.5 0h1m0 0h1m-.5 0h1m1.5 0h1m0 0h1m.5 0h1m-.5 0h1m-70.5 .5h1m3 0h1m0 0h1m0 0h1m0 0h1m1 0h1m0 0h1m.5 0h1m0 0h1m-.5 0h1m-.5 0h1m-.5 0h1m-.5 0h1m.5 0h1m-.5 0h1m-.5 0h1m0 0h1m0 0h1m-.5 0h1m0 0h1m-.5 0h1m0 0h1m-.5 0h1m-.5 0h1m-.5 0h1m5 0h1m9.5 0h1m-.5 0h1m.5 0h1m1 0h1m5.5 0h1m.5 0h1m3.5 0h1m0 0h1m-.5 0h1m-.5 0h1m-.5 0h1m-.5 0h1m-.5 0h1m0 0h1m-.5 0h1m-.5 0h1m-.5 0h1m-.5 0h1m-.5 0h1m.5 0h1m-64 .5h1m1 0h1m-.5 0h1m1 0h1m1 0h1m-.5 0h1m-.5 0h1m0 0h1m0 0h1m1 0h1m-.5 0h1m-.5 0h1m0 0h1m2.5 0h1m-.5 0h1m-.5 0h1m-.5 0h1m-.5 0h1m-.5 0h1m2 0h1m-.5 0h1m2 0h1m7.5 0h1m6 0h1m1 0h1m8.5 0h1m.5 0h1m-.5 0h1m1.5 0h1m0 0h1m0 0h1m0 0h1m-.5 0h1m0 0h1m-.5 0h1m0 0h1m-.5 0h1m-.5 0h1m-61.5 .5h1m3 0h1m.5 0h1m0 0h1m-.5 0h1m0 0h1m0 0h1m-.5 0h1m.5 0h1m0 0h1m0 0h1m-.5 0h1m1 0h1m0 0h1m-.5 0h1m5 0h1m-.5 0h1m11 0h1m3 0h1m0 0h1m4 0h1m2.5 0h1m1 0h1m-.5 0h1m1 0h1m1 0h1m2.5 0h1m0 0h1m-.5 0h1m.5 0h1m-62.5 .5h1m.5 0h1m-.5 0h1m.5 0h1m2 0h1m.5 0h1m-.5 0h1m0 0h1m0 0h1m-.5 0h1m0 0h1m-.5 0h1m-.5 0h1m.5 0h1m-.5 0h1m-.5 0h1m-.5 0h1m.5 0h1m2 0h1m.5 0h1m5.5 0h1m7.5 0h1m3.5 0h1m3 0h1m-.5 0h1m-.5 0h1m3.5 0h1m-.5 0h1m-.5 0h1m1 0h1m-.5 0h1m.5 0h1m0 0h1m1 0h1m0 0h1m0 0h1m-65.5 .5h1m4.5 0h1m-.5 0h1m1 0h1m-.5 0h1m4 0h1m1 0h1m-.5 0h1m-.5 0h1m-.5 0h1m1.5 0h1m0 0h1m0 0h1m-.5 0h1m-.5 0h1m.5 0h1m8 0h1m1 0h1m2.5 0h1m2 0h1m3 0h1m-.5 0h1m.5 0h1m0 0h1m4.5 0h1m-.5 0h1m.5 0h1m-.5 0h1m.5 0h1m0 0h1m5.5 0h1m-64 .5h1m0 0h1m.5 0h1m.5 0h1m1.5 0h1m.5 0h1m-.5 0h1m-.5 0h1m0 0h1m0 0h1m1 0h1m1 0h1m0 0h1m0 0h1m-.5 0h1m3.5 0h1m0 0h1m-.5 0h1m4.5 0h1m8.5 0h1m-.5 0h1m.5 0h1m7.5 0h1m0 0h1m2 0h1m0 0h1m0 0h1m1 0h1m-.5 0h1m-65 .5h1m5.5 0h1m0 0h1m4.5 0h1m1.5 0h1m0 0h1m-.5 0h1m-.5 0h1m0 0h1m0 0h1m0 0h1m-.5 0h1m1 0h1m0 0h1m.5 0h1m-.5 0h1m3.5 0h1m9 0h1m4 0h1m0 0h1m3 0h1m1 0h1m1.5 0h1m3.5 0h1m2 0h1m-61 .5h1m0 0h1m-.5 0h1m1.5 0h1m.5 0h1m-.5 0h1m0 0h1m3.5 0h1m2 0h1m1.5 0h1m0 0h1m-.5 0h1m4 0h1m-.5 0h1m10 0h1m4 0h1m5.5 0h1m11.5 0h1m-.5 0h1m.5 0h1m.5 0h1m7 0h1m-56.5 .5h1m2 0h1m0 0h1m2 0h1m21.5 0h1m7.5 0h1m0 0h1m0 0h1m7 0h1m.5 0h1m-61 .5h1m2.5 0h1m-.5 0h1m2.5 0h1m1 0h1m0 0h1m11.5 0h1m16 0h1m0 0h1m13 0h1m-61 .5h1m5 0h1m0 0h1m-.5 0h1m4 0h1m.5 0h1m.5 0h1m6.5 0h1m5.5 0h1m17.5 0h1m4 0h1m4.5 0h1m3.5 0h1m-61 .5h1m2 0h1m1 0h1m17 0h1m2.5 0h1m14.5 0h1m15 0h1m-58 .5h1m3.5 0h1m4.5 0h1m8 0h1m-.5 0h1m6 0h1m34 0h1m-57 .5h1m2 0h1m1 0h1m1 0h1m2.5 0h1m37 0h1m7.5 0h1m-54 .5h1m1.5 0h1m-.5 0h1m3 0h1m34 0h1m8.5 .5h1m-56 .5h1m10 0h1m3 0h1m31.5 0h1m-41 .5h1m-6.5 1h1m2.5 0h1m.5 0h1"/>
<rect x="58.2" y="192.5" width="112.8" height="112.0" fill="none" stroke="#111" stroke-width="1.3"/>
<line x1="110.5" y1="192.5" x2="110.5" y2="304.5" stroke="#111" stroke-width="1.3"/>
<line x1="58.2" y1="233.0" x2="171.0" y2="233.0" stroke="#111" stroke-width="1.3"/>
<text x="61.1" y="201.7" font-size="9.57" text-anchor="start" font-weight="normal" textLength="24.67" lengthAdjust="spacingAndGlyphs" >4.49%</text>
<text x="169.8" y="201.7" font-size="9.57" text-anchor="end" font-weight="normal" textLength="24.67" lengthAdjust="spacingAndGlyphs" >4.93%</text>
<text x="61.6" y="302.0" font-size="9.57" text-anchor="start" font-weight="normal" textLength="24.67" lengthAdjust="spacingAndGlyphs" >66.4%</text>
<text x="169.8" y="302.0" font-size="9.57" text-anchor="end" font-weight="normal" textLength="24.67" lengthAdjust="spacingAndGlyphs" >24.1%</text>
<line x1="55.6" y1="203.0" x2="58.2" y2="203.0" stroke="#111" stroke-width="1.0"/>
<text x="53.6" y="204.7" font-size="5.9" text-anchor="end" fill="#333">10<tspan font-size="4.1" dy="-2.7">5</tspan></text>
<line x1="55.6" y1="228.0" x2="58.2" y2="228.0" stroke="#111" stroke-width="1.0"/>
<text x="53.6" y="229.7" font-size="5.9" text-anchor="end" fill="#333">10<tspan font-size="4.1" dy="-2.7">4</tspan></text>
<line x1="55.6" y1="256.0" x2="58.2" y2="256.0" stroke="#111" stroke-width="1.0"/>
<text x="53.6" y="257.7" font-size="5.9" text-anchor="end" fill="#333">10<tspan font-size="4.1" dy="-2.7">3</tspan></text>
<line x1="55.6" y1="287.0" x2="58.2" y2="287.0" stroke="#111" stroke-width="1.0"/>
<text x="53.6" y="288.7" font-size="5.9" text-anchor="end" fill="#333">0</text>
<line x1="56.8" y1="195.5" x2="58.2" y2="195.5" stroke="#111" stroke-width="0.6"/>
<line x1="56.8" y1="198.8" x2="58.2" y2="198.8" stroke="#111" stroke-width="0.6"/>
<line x1="56.8" y1="202.1" x2="58.2" y2="202.1" stroke="#111" stroke-width="0.6"/>
<line x1="56.8" y1="205.4" x2="58.2" y2="205.4" stroke="#111" stroke-width="0.6"/>
<line x1="56.8" y1="208.7" x2="58.2" y2="208.7" stroke="#111" stroke-width="0.6"/>
<line x1="56.8" y1="212.0" x2="58.2" y2="212.0" stroke="#111" stroke-width="0.6"/>
<line x1="56.8" y1="215.3" x2="58.2" y2="215.3" stroke="#111" stroke-width="0.6"/>
<line x1="56.8" y1="218.6" x2="58.2" y2="218.6" stroke="#111" stroke-width="0.6"/>
<line x1="56.8" y1="221.9" x2="58.2" y2="221.9" stroke="#111" stroke-width="0.6"/>
<line x1="56.8" y1="225.2" x2="58.2" y2="225.2" stroke="#111" stroke-width="0.6"/>
<line x1="56.8" y1="228.5" x2="58.2" y2="228.5" stroke="#111" stroke-width="0.6"/>
<line x1="56.8" y1="231.8" x2="58.2" y2="231.8" stroke="#111" stroke-width="0.6"/>
<line x1="56.8" y1="235.1" x2="58.2" y2="235.1" stroke="#111" stroke-width="0.6"/>
<line x1="56.8" y1="238.4" x2="58.2" y2="238.4" stroke="#111" stroke-width="0.6"/>
<line x1="56.8" y1="241.7" x2="58.2" y2="241.7" stroke="#111" stroke-width="0.6"/>
<line x1="56.8" y1="245.0" x2="58.2" y2="245.0" stroke="#111" stroke-width="0.6"/>
<line x1="56.8" y1="248.3" x2="58.2" y2="248.3" stroke="#111" stroke-width="0.6"/>
<line x1="56.8" y1="251.6" x2="58.2" y2="251.6" stroke="#111" stroke-width="0.6"/>
<line x1="56.8" y1="254.9" x2="58.2" y2="254.9" stroke="#111" stroke-width="0.6"/>
<line x1="56.8" y1="258.2" x2="58.2" y2="258.2" stroke="#111" stroke-width="0.6"/>
<line x1="56.8" y1="261.5" x2="58.2" y2="261.5" stroke="#111" stroke-width="0.6"/>
<line x1="56.8" y1="264.8" x2="58.2" y2="264.8" stroke="#111" stroke-width="0.6"/>
<line x1="56.8" y1="268.1" x2="58.2" y2="268.1" stroke="#111" stroke-width="0.6"/>
<line x1="56.8" y1="271.4" x2="58.2" y2="271.4" stroke="#111" stroke-width="0.6"/>
<line x1="56.8" y1="274.7" x2="58.2" y2="274.7" stroke="#111" stroke-width="0.6"/>
<line x1="56.8" y1="278.0" x2="58.2" y2="278.0" stroke="#111" stroke-width="0.6"/>
<line x1="56.8" y1="281.3" x2="58.2" y2="281.3" stroke="#111" stroke-width="0.6"/>
<line x1="56.8" y1="284.6" x2="58.2" y2="284.6" stroke="#111" stroke-width="0.6"/>
<line x1="56.8" y1="287.9" x2="58.2" y2="287.9" stroke="#111" stroke-width="0.6"/>
<line x1="56.8" y1="291.2" x2="58.2" y2="291.2" stroke="#111" stroke-width="0.6"/>
<line x1="56.8" y1="294.5" x2="58.2" y2="294.5" stroke="#111" stroke-width="0.6"/>
<line x1="56.8" y1="297.8" x2="58.2" y2="297.8" stroke="#111" stroke-width="0.6"/>
<line x1="56.8" y1="301.1" x2="58.2" y2="301.1" stroke="#111" stroke-width="0.6"/>
<line x1="76.5" y1="304.5" x2="76.5" y2="307.1" stroke="#111" stroke-width="1.0"/>
<line x1="107.0" y1="304.5" x2="107.0" y2="307.1" stroke="#111" stroke-width="1.0"/>
<line x1="134.6" y1="304.5" x2="134.6" y2="307.1" stroke="#111" stroke-width="1.0"/>
<line x1="161.2" y1="304.5" x2="161.2" y2="307.1" stroke="#111" stroke-width="1.0"/>
<line x1="61.2" y1="304.5" x2="61.2" y2="306.0" stroke="#111" stroke-width="0.6"/>
<line x1="64.5" y1="304.5" x2="64.5" y2="306.0" stroke="#111" stroke-width="0.6"/>
<line x1="67.8" y1="304.5" x2="67.8" y2="306.0" stroke="#111" stroke-width="0.6"/>
<line x1="71.1" y1="304.5" x2="71.1" y2="306.0" stroke="#111" stroke-width="0.6"/>
<line x1="74.4" y1="304.5" x2="74.4" y2="306.0" stroke="#111" stroke-width="0.6"/>
<line x1="77.7" y1="304.5" x2="77.7" y2="306.0" stroke="#111" stroke-width="0.6"/>
<line x1="81.0" y1="304.5" x2="81.0" y2="306.0" stroke="#111" stroke-width="0.6"/>
<line x1="84.3" y1="304.5" x2="84.3" y2="306.0" stroke="#111" stroke-width="0.6"/>
<line x1="87.6" y1="304.5" x2="87.6" y2="306.0" stroke="#111" stroke-width="0.6"/>
<line x1="90.9" y1="304.5" x2="90.9" y2="306.0" stroke="#111" stroke-width="0.6"/>
<line x1="94.2" y1="304.5" x2="94.2" y2="306.0" stroke="#111" stroke-width="0.6"/>
<line x1="97.5" y1="304.5" x2="97.5" y2="306.0" stroke="#111" stroke-width="0.6"/>
<line x1="100.8" y1="304.5" x2="100.8" y2="306.0" stroke="#111" stroke-width="0.6"/>
<line x1="104.1" y1="304.5" x2="104.1" y2="306.0" stroke="#111" stroke-width="0.6"/>
<line x1="107.4" y1="304.5" x2="107.4" y2="306.0" stroke="#111" stroke-width="0.6"/>
<line x1="110.7" y1="304.5" x2="110.7" y2="306.0" stroke="#111" stroke-width="0.6"/>
<line x1="114.0" y1="304.5" x2="114.0" y2="306.0" stroke="#111" stroke-width="0.6"/>
<line x1="117.3" y1="304.5" x2="117.3" y2="306.0" stroke="#111" stroke-width="0.6"/>
<line x1="120.6" y1="304.5" x2="120.6" y2="306.0" stroke="#111" stroke-width="0.6"/>
<line x1="123.9" y1="304.5" x2="123.9" y2="306.0" stroke="#111" stroke-width="0.6"/>
<line x1="127.2" y1="304.5" x2="127.2" y2="306.0" stroke="#111" stroke-width="0.6"/>
<line x1="130.5" y1="304.5" x2="130.5" y2="306.0" stroke="#111" stroke-width="0.6"/>
<line x1="133.8" y1="304.5" x2="133.8" y2="306.0" stroke="#111" stroke-width="0.6"/>
<line x1="137.1" y1="304.5" x2="137.1" y2="306.0" stroke="#111" stroke-width="0.6"/>
<line x1="140.4" y1="304.5" x2="140.4" y2="306.0" stroke="#111" stroke-width="0.6"/>
<line x1="143.8" y1="304.5" x2="143.8" y2="306.0" stroke="#111" stroke-width="0.6"/>
<line x1="147.1" y1="304.5" x2="147.1" y2="306.0" stroke="#111" stroke-width="0.6"/>
<line x1="150.4" y1="304.5" x2="150.4" y2="306.0" stroke="#111" stroke-width="0.6"/>
<line x1="153.7" y1="304.5" x2="153.7" y2="306.0" stroke="#111" stroke-width="0.6"/>
<line x1="157.0" y1="304.5" x2="157.0" y2="306.0" stroke="#111" stroke-width="0.6"/>
<line x1="160.3" y1="304.5" x2="160.3" y2="306.0" stroke="#111" stroke-width="0.6"/>
<line x1="163.6" y1="304.5" x2="163.6" y2="306.0" stroke="#111" stroke-width="0.6"/>
<line x1="166.9" y1="304.5" x2="166.9" y2="306.0" stroke="#111" stroke-width="0.6"/>
<text x="76.5" y="316.2" font-size="5.9" text-anchor="middle" fill="#333">0</text>
<text x="107.0" y="316.2" font-size="5.9" text-anchor="middle" fill="#333">10<tspan font-size="4.1" dy="-2.7">3</tspan></text>
<text x="134.6" y="316.2" font-size="5.9" text-anchor="middle" fill="#333">10<tspan font-size="4.1" dy="-2.7">4</tspan></text>
<text x="161.2" y="316.2" font-size="5.9" text-anchor="middle" fill="#333">10<tspan font-size="4.1" dy="-2.7">5</tspan></text>
<text transform="translate(40.4,250.7) rotate(-90)" font-size="10.81" text-anchor="middle" textLength="29.26" lengthAdjust="spacingAndGlyphs">CD161</text>
<text x="101.7" y="330.7" font-size="10.78" text-anchor="middle" font-weight="normal" textLength="19.60" lengthAdjust="spacingAndGlyphs" >CD8</text>
<g filter="url(#bl2)" fill="#000">
<ellipse cx="240.5" cy="283.8" rx="13.0" ry="7.0"/>
<ellipse cx="273.8" cy="285.0" rx="11.2" ry="6.2"/>
<ellipse cx="290.5" cy="283.8" rx="4.5" ry="11.2"/>
<ellipse cx="238.8" cy="271.2" rx="5.0" ry="7.5"/>
</g>
<path stroke="#000" stroke-opacity="1.0" stroke-width="1.1" d="M286.5 219.5h1m-13 4.5h1m0 1h1m-10 1.5h1m5.5 0h1m-5.5 .5h1m11 0h1m-19 .5h1m16.5 0h1m1 .5h1m1.5 .5h1m-20 .5h1m14 0h1m1.5 0h1m1 0h1m-20 .5h1m6 0h1m8.5 0h1m1 0h1m-23.5 .5h1m3 0h1m4.5 0h1m3 0h1m0 0h1m-10 .5h1m12.5 0h1m3 0h1m-19.5 .5h1m9 0h1m11 0h1m-60.5 .5h1m39.5 0h1m1.5 0h1m4 0h1m6.5 0h1m-49 .5h1m15 0h1m6.5 0h1m4.5 0h1m3 0h1m-42 .5h1m2.5 0h1m31 0h1m16 0h1m6 0h1m-56 .5h1m3 0h1m.5 0h1m17 0h1m15.5 0h1m-25 .5h1m-.5 .5h1m5 0h1m25 0h1m.5 0h1m-51.5 .5h1m5 0h1m16 0h1m10 0h1m18.5 0h1m-50 1h1m53 1h1m1.5 0h1m-41 .5h1m18 0h1m14.5 0h1m-55.5 .5h1m10 0h1m5.5 0h1m39.5 0h1m-39 .5h1m-12.5 .5h1m13 0h1m-20.5 .5h1m-.5 .5h1m53 0h1m-48 .5h1m-.5 0h1m3 0h1m18 0h1m-.5 0h1m6.5 0h1m10.5 0h1m-59 .5h1m4 0h1m6 0h1m3 0h1m4.5 0h1m2 0h1m20 0h1m12 0h1m4 0h1m-61 .5h1m9.5 0h1m7 0h1m4.5 0h1m13.5 0h1m.5 0h1m5.5 0h1m2 0h1m5.5 0h1m-.5 0h1m.5 0h1m-63.5 .5h1m10.5 0h1m0 0h1m2 0h1m.5 0h1m-.5 0h1m20.5 0h1m14.5 0h1m3 0h1m-58 .5h1m4 0h1m-.5 0h1m-.5 0h1m2.5 0h1m2.5 0h1m3.5 0h1m40.5 0h1m-.5 0h1m-.5 0h1m3.5 0h1m-59 .5h1m2 0h1m0 0h1m7 0h1m4 0h1m0 0h1m1 0h1m4.5 0h1m1.5 0h1m6 0h1m13.5 0h1m1.5 0h1m7 0h1m-68.5 .5h1m4 0h1m-.5 0h1m1 0h1m.5 0h1m0 0h1m4 0h1m2 0h1m0 0h1m.5 0h1m0 0h1m17 0h1m4 0h1m1.5 0h1m8.5 0h1m0 0h1m1.5 0h1m0 0h1m4 0h1m-69 .5h1m5 0h1m6 0h1m.5 0h1m2 0h1m-.5 0h1m26.5 0h1m7.5 0h1m1 0h1m4 0h1m2.5 0h1m4 0h1m-65.5 .5h1m.5 0h1m-.5 0h1m-.5 0h1m0 0h1m0 0h1m1 0h1m-.5 0h1m1 0h1m0 0h1m6.5 0h1m1.5 0h1m7.5 0h1m2.5 0h1m1.5 0h1m19.5 0h1m0 0h1m4 0h1m-67 .5h1m.5 0h1m3 0h1m.5 0h1m1 0h1m.5 0h1m.5 0h1m1.5 0h1m-.5 0h1m8 0h1m0 0h1m20.5 0h1m15.5 0h1m2 0h1m-61.5 .5h1m5 0h1m-.5 0h1m4.5 0h1m.5 0h1m0 0h1m.5 0h1m.5 0h1m16.5 0h1m6.5 0h1m-.5 0h1m10.5 0h1m-.5 0h1m2 0h1m-.5 0h1m-54 .5h1m2 0h1m0 0h1m-.5 0h1m-.5 0h1m2 0h1m1 0h1m0 0h1m12.5 0h1m20 0h1m7.5 0h1m-61 .5h1m1.5 0h1m3.5 0h1m-.5 0h1m1.5 0h1m0 0h1m-.5 0h1m-.5 0h1m1.5 0h1m2.5 0h1m1 0h1m-.5 0h1m5.5 0h1m-.5 0h1m27.5 0h1m-.5 0h1m-61.5 .5h1m-.5 0h1m7.5 0h1m0 0h1m1 0h1m0 0h1m2.5 0h1m.5 0h1m1 0h1m3.5 0h1m1 0h1m2 0h1m2.5 0h1m.5 0h1m1.5 0h1m-.5 0h1m17.5 0h1m5.5 0h1m5 0h1m.5 0h1m-60.5 .5h1m-.5 0h1m1 0h1m.5 0h1m-.5 0h1m3 0h1m.5 0h1m1 0h1m-.5 0h1m0 0h1m6.5 0h1m2 0h1m5.5 0h1m5 0h1m.5 0h1m10.5 0h1m-.5 0h1m.5 0h1m-.5 0h1m0 0h1m2 0h1m-60.5 .5h1m-.5 0h1m.5 0h1m2.5 0h1m0 0h1m0 0h1m-.5 0h1m.5 0h1m0 0h1m.5 0h1m.5 0h1m.5 0h1m-.5 0h1m5.5 0h1m12.5 0h1m2 0h1m14.5 0h1m1 0h1m-59.5 .5h1m2.5 0h1m-.5 0h1m.5 0h1m2 0h1m1 0h1m4 0h1m-.5 0h1m0 0h1m1 0h1m4 0h1m27.5 0h1m2 0h1m1 0h1m2 0h1m-64.5 .5h1m1 0h1m0 0h1m0 0h1m2.5 0h1m.5 0h1m0 0h1m0 0h1m0 0h1m2 0h1m.5 0h1m2.5 0h1m-.5 0h1m.5 0h1m1 0h1m0 0h1m10.5 0h1m3 0h1m4.5 0h1m.5 0h1m12 0h1m.5 0h1m-69 .5h1m7.5 0h1m0 0h1m.5 0h1m0 0h1m1.5 0h1m-.5 0h1m0 0h1m0 0h1m4.5 0h1m1 0h1m3 0h1m35 0h1m1.5 0h1m0 0h1m.5 0h1m-61 .5h1m6.5 0h1m-.5 0h1m-.5 0h1m1.5 0h1m0 0h1m.5 0h1m12.5 0h1m.5 0h1m24.5 0h1m.5 0h1m2.5 0h1m0 0h1m0 0h1m-62.5 .5h1m2 0h1m4 0h1m-.5 0h1m1 0h1m2.5 0h1m-.5 0h1m1 0h1m2.5 0h1m0 0h1m1 0h1m6 0h1m1 0h1m0 0h1m-.5 0h1m16.5 0h1m0 0h1m-.5 0h1m1.5 0h1m0 0h1m0 0h1m1 0h1m-.5 0h1m1.5 0h1m-67 .5h1m2.5 0h1m3.5 0h1m-.5 0h1m.5 0h1m-.5 0h1m0 0h1m-.5 0h1m-.5 0h1m-.5 0h1m-.5 0h1m.5 0h1m-.5 0h1m.5 0h1m1 0h1m3.5 0h1m11.5 0h1m22 0h1m-.5 0h1m1.5 0h1m0 0h1m-.5 0h1m-61.5 .5h1m0 0h1m-.5 0h1m0 0h1m-.5 0h1m1.5 0h1m0 0h1m-.5 0h1m0 0h1m.5 0h1m.5 0h1m1 0h1m2.5 0h1m0 0h1m2.5 0h1m14.5 0h1m9.5 0h1m7.5 0h1m.5 0h1m-.5 0h1m-.5 0h1m-.5 0h1m.5 0h1m1.5 0h1m0 0h1m0 0h1m-65 .5h1m-.5 0h1m2.5 0h1m1 0h1m-.5 0h1m0 0h1m-.5 0h1m-.5 0h1m-.5 0h1m-.5 0h1m1.5 0h1m-.5 0h1m.5 0h1m2 0h1m1.5 0h1m1 0h1m33 0h1m1.5 0h1m4.5 0h1m-60.5 .5h1m0 0h1m1 0h1m-.5 0h1m-.5 0h1m-.5 0h1m.5 0h1m-.5 0h1m-.5 0h1m.5 0h1m1 0h1m2.5 0h1m-.5 0h1m-.5 0h1m-.5 0h1m2 0h1m-.5 0h1m12.5 0h1m15 0h1m0 0h1m1 0h1m2 0h1m3.5 0h1m-.5 0h1m-59.5 .5h1m1.5 0h1m3.5 0h1m.5 0h1m-.5 0h1m5 0h1m6 0h1m6 0h1m-.5 0h1m8 0h1m1.5 0h1m7.5 0h1m0 0h1m.5 0h1m.5 0h1m1 0h1m-.5 0h1m-.5 0h1m-63.5 .5h1m-.5 0h1m3 0h1m1 0h1m-.5 0h1m.5 0h1m-.5 0h1m0 0h1m0 0h1m0 0h1m-.5 0h1m-.5 0h1m0 0h1m.5 0h1m1.5 0h1m-.5 0h1m0 0h1m11.5 0h1m3.5 0h1m13 0h1m1 0h1m1 0h1m1.5 0h1m-.5 0h1m-.5 0h1m3 0h1m7.5 0h1m-75 .5h1m2.5 0h1m0 0h1m3 0h1m0 0h1m-.5 0h1m-.5 0h1m-.5 0h1m-.5 0h1m.5 0h1m-.5 0h1m-.5 0h1m1 0h1m5 0h1m2 0h1m.5 0h1m5.5 0h1m6 0h1m3 0h1m14.5 0h1m0 0h1m-.5 0h1m2 0h1m4 0h1m-70 .5h1m1.5 0h1m3.5 0h1m1.5 0h1m-.5 0h1m1 0h1m0 0h1m0 0h1m-.5 0h1m.5 0h1m0 0h1m-.5 0h1m0 0h1m0 0h1m0 0h1m-.5 0h1m.5 0h1m3.5 0h1m1.5 0h1m3.5 0h1m24 0h1m0 0h1m-.5 0h1m-.5 0h1m.5 0h1m-.5 0h1m.5 0h1m-62.5 .5h1m-.5 0h1m2 0h1m0 0h1m-.5 0h1m2 0h1m0 0h1m-.5 0h1m.5 0h1m-.5 0h1m.5 0h1m3.5 0h1m0 0h1m0 0h1m30.5 0h1m2 0h1m2 0h1m.5 0h1m0 0h1m1 0h1m2.5 0h1m-66 .5h1m1 0h1m.5 0h1m.5 0h1m1 0h1m-.5 0h1m1 0h1m1 0h1m-.5 0h1m-.5 0h1m-.5 0h1m2 0h1m24 0h1m11 0h1m0 0h1m.5 0h1m1 0h1m1 0h1m-.5 0h1m-.5 0h1m0 0h1m2.5 0h1m1.5 0h1m-68 .5h1m.5 0h1m-.5 0h1m-.5 0h1m5 0h1m.5 0h1m1.5 0h1m-.5 0h1m.5 0h1m-.5 0h1m1.5 0h1m-.5 0h1m30 0h1m5.5 0h1m.5 0h1m0 0h1m2.5 0h1m0 0h1m.5 0h1m2.5 0h1m-.5 0h1m-67 .5h1m-.5 0h1m1 0h1m-.5 0h1m-.5 0h1m-.5 0h1m1.5 0h1m-.5 0h1m-.5 0h1m-.5 0h1m0 0h1m0 0h1m-.5 0h1m.5 0h1m2 0h1m1 0h1m2 0h1m-.5 0h1m25 0h1m1.5 0h1m2 0h1m3.5 0h1m1 0h1m-.5 0h1m-.5 0h1m2.5 0h1m-.5 0h1m-64 .5h1m-.5 0h1m-.5 0h1m.5 0h1m0 0h1m-.5 0h1m0 0h1m0 0h1m0 0h1m-.5 0h1m-.5 0h1m-.5 0h1m0 0h1m-.5 0h1m-.5 0h1m1 0h1m-.5 0h1m3.5 0h1m0 0h1m3.5 0h1m26.5 0h1m4.5 0h1m2 0h1m-.5 0h1m0 0h1m1 0h1m-70 .5h1m0 0h1m-.5 0h1m3.5 0h1m-.5 0h1m0 0h1m2.5 0h1m1 0h1m.5 0h1m-.5 0h1m0 0h1m1 0h1m0 0h1m-.5 0h1m-.5 0h1m0 0h1m1.5 0h1m-.5 0h1m8 0h1m9 0h1m9.5 0h1m0 0h1m3.5 0h1m3 0h1m.5 0h1m1 0h1m0 0h1m-69.5 .5h1m6 0h1m1 0h1m0 0h1m0 0h1m0 0h1m-.5 0h1m-.5 0h1m3 0h1m0 0h1m1.5 0h1m-.5 0h1m0 0h1m0 0h1m.5 0h1m0 0h1m2.5 0h1m15.5 0h1m12 0h1m2.5 0h1m-.5 0h1m2.5 0h1m-62 .5h1m2 0h1m4.5 0h1m.5 0h1m-.5 0h1m-.5 0h1m-.5 0h1m0 0h1m0 0h1m.5 0h1m0 0h1m.5 0h1m0 0h1m1.5 0h1m15.5 0h1m-.5 0h1m10.5 0h1m9.5 0h1m3 0h1m-63 .5h1m-.5 0h1m0 0h1m1 0h1m.5 0h1m0 0h1m0 0h1m1 0h1m-.5 0h1m-.5 0h1m-.5 0h1m.5 0h1m-.5 0h1m0 0h1m.5 0h1m-.5 0h1m0 0h1m3 0h1m5 0h1m18 0h1m7 0h1m.5 0h1m.5 0h1m.5 0h1m.5 0h1m.5 0h1m-67 .5h1m.5 0h1m3 0h1m.5 0h1m1.5 0h1m1.5 0h1m-.5 0h1m2 0h1m0 0h1m-.5 0h1m-.5 0h1m1 0h1m1 0h1m-.5 0h1m0 0h1m0 0h1m0 0h1m2.5 0h1m4.5 0h1m9.5 0h1m14 0h1m-.5 0h1m0 0h1m2.5 0h1m-.5 0h1m-64 .5h1m1.5 0h1m0 0h1m0 0h1m-.5 0h1m0 0h1m1 0h1m.5 0h1m-.5 0h1m-.5 0h1m1 0h1m-.5 0h1m-.5 0h1m.5 0h1m1.5 0h1m.5 0h1m0 0h1m1.5 0h1m9.5 0h1m26 0h1m0 0h1m-.5 0h1m-.5 0h1m.5 0h1m0 0h1m2 0h1m-61 .5h1m-.5 0h1m.5 0h1m3 0h1m0 0h1m-.5 0h1m-.5 0h1m0 0h1m-.5 0h1m-.5 0h1m-.5 0h1m3.5 0h1m1 0h1m6 0h1m1.5 0h1m1 0h1m13 0h1m5 0h1m1.5 0h1m-.5 0h1m-.5 0h1m-.5 0h1m0 0h1m2.5 0h1m-63.5 .5h1m1.5 0h1m0 0h1m-.5 0h1m.5 0h1m.5 0h1m.5 0h1m5.5 0h1m1.5 0h1m0 0h1m0 0h1m-.5 0h1m2 0h1m4.5 0h1m.5 0h1m2.5 0h1m2.5 0h1m7 0h1m9 0h1m0 0h1m3.5 0h1m0 0h1m0 0h1m-62.5 .5h1m2.5 0h1m.5 0h1m-.5 0h1m.5 0h1m0 0h1m1.5 0h1m-.5 0h1m0 0h1m2 0h1m0 0h1m2 0h1m0 0h1m16.5 0h1m2.5 0h1m0 0h1m9.5 0h1m-.5 0h1m.5 0h1m0 0h1m1 0h1m2 0h1m-62.5 .5h1m0 0h1m0 0h1m2.5 0h1m-.5 0h1m0 0h1m.5 0h1m4 0h1m1 0h1m.5 0h1m1 0h1m1 0h1m8.5 0h1m25.5 0h1m3 0h1m-69.5 .5h1m8 0h1m2 0h1m-.5 0h1m-.5 0h1m2.5 0h1m-.5 0h1m-.5 0h1m0 0h1m-.5 0h1m2 0h1m.5 0h1m-.5 0h1m.5 0h1m8 0h1m19 0h1m8 0h1m2 0h1m0 0h1m1 0h1m-.5 0h1m1 0h1m-66 .5h1m0 0h1m0 0h1m0 0h1m.5 0h1m-.5 0h1m0 0h1m.5 0h1m.5 0h1m.5 0h1m-.5 0h1m0 0h1m1 0h1m-.5 0h1m.5 0h1m6 0h1m4.5 0h1m19.5 0h1m2.5 0h1m5 0h1m1.5 0h1m1.5 0h1m-73 .5h1m4 0h1m3 0h1m0 0h1m.5 0h1m-.5 0h1m0 0h1m-.5 0h1m-.5 0h1m2 0h1m.5 0h1m1.5 0h1m-.5 0h1m3 0h1m1 0h1m1 0h1m1 0h1m10.5 0h1m9.5 0h1m3.5 0h1m9 0h1m1.5 0h1m-60.5 .5h1m-.5 0h1m1.5 0h1m1.5 0h1m1 0h1m.5 0h1m0 0h1m0 0h1m1 0h1m3.5 0h1m2 0h1m10 0h1m15.5 0h1m3 0h1m2 0h1m5.5 0h1m-70 .5h1m2 0h1m.5 0h1m2.5 0h1m0 0h1m.5 0h1m.5 0h1m-.5 0h1m1.5 0h1m.5 0h1m3.5 0h1m-.5 0h1m1 0h1m35 0h1m-.5 0h1m1 0h1m-.5 0h1m2 0h1m.5 0h1m-69.5 .5h1m7.5 0h1m0 0h1m1 0h1m0 0h1m0 0h1m-.5 0h1m-.5 0h1m0 0h1m-.5 0h1m.5 0h1m0 0h1m1 0h1m0 0h1m.5 0h1m4.5 0h1m-.5 0h1m2.5 0h1m22.5 0h1m4 0h1m2 0h1m.5 0h1m.5 0h1m-.5 0h1m0 0h1m1 0h1m-63 .5h1m2 0h1m2 0h1m-.5 0h1m.5 0h1m0 0h1m-.5 0h1m0 0h1m3 0h1m0 0h1m1.5 0h1m10.5 0h1m3.5 0h1m0 0h1m15 0h1m.5 0h1m1 0h1m.5 0h1m1 0h1m1 0h1m.5 0h1m3 0h1m-76.5 .5h1m9 0h1m3.5 0h1m0 0h1m-.5 0h1m1 0h1m0 0h1m.5 0h1m0 0h1m-.5 0h1m0 0h1m.5 0h1m1 0h1m0 0h1m17.5 0h1m.5 0h1m1.5 0h1m10.5 0h1m2 0h1m1 0h1m0 0h1m.5 0h1m0 0h1m-.5 0h1m0 0h1m2 0h1m-68 .5h1m2.5 0h1m2 0h1m-.5 0h1m1.5 0h1m-.5 0h1m.5 0h1m-.5 0h1m.5 0h1m-.5 0h1m-.5 0h1m0 0h1m-.5 0h1m-.5 0h1m.5 0h1m1 0h1m3.5 0h1m2.5 0h1m16.5 0h1m1.5 0h1m.5 0h1m-.5 0h1m2.5 0h1m-.5 0h1m2.5 0h1m0 0h1m-.5 0h1m-.5 0h1m2.5 0h1m-65 .5h1m1 0h1m2.5 0h1m1.5 0h1m-.5 0h1m2 0h1m1.5 0h1m-.5 0h1m6.5 0h1m-.5 0h1m6.5 0h1m1.5 0h1m24 0h1m0 0h1m0 0h1m-.5 0h1m0 0h1m-.5 0h1m3.5 0h1m-64 .5h1m1.5 0h1m-.5 0h1m-.5 0h1m0 0h1m3.5 0h1m-.5 0h1m2 0h1m3 0h1m-.5 0h1m.5 0h1m7.5 0h1m7 0h1m0 0h1m19 0h1m2 0h1m.5 0h1m2.5 0h1m-62 .5h1m.5 0h1m2.5 0h1m-.5 0h1m5 0h1m5 0h1m1 0h1m4.5 0h1m5.5 0h1m3 0h1m12.5 0h1m2.5 0h1m.5 0h1m-.5 0h1m.5 0h1m-.5 0h1m-.5 0h1m0 0h1m2 0h1m-66 .5h1m-.5 0h1m1 0h1m6 0h1m2 0h1m7.5 0h1m27 0h1m.5 0h1m.5 0h1m-.5 0h1m1 0h1m2 0h1m-.5 0h1m0 0h1m0 0h1m.5 0h1m-67.5 .5h1m1.5 0h1m-.5 0h1m3.5 0h1m0 0h1m5.5 0h1m.5 0h1m2 0h1m0 0h1m0 0h1m2 0h1m17 0h1m7 0h1m.5 0h1m0 0h1m4 0h1m1 0h1m.5 0h1m0 0h1m.5 0h1m-.5 0h1m.5 0h1m-64 .5h1m2 0h1m0 0h1m-.5 0h1m-.5 0h1m6.5 0h1m.5 0h1m.5 0h1m0 0h1m-.5 0h1m13 0h1m5.5 0h1m4.5 0h1m5.5 0h1m5 0h1m.5 0h1m1 0h1m-.5 0h1m-.5 0h1m-.5 0h1m0 0h1m-.5 0h1m0 0h1m.5 0h1m4 0h1m-58.5 .5h1m2.5 0h1m3.5 0h1m-.5 0h1m0 0h1m2.5 0h1m15.5 0h1m15 0h1m1 0h1m-.5 0h1m0 0h1m-.5 0h1m-.5 0h1m-.5 0h1m0 0h1m2 0h1m1 0h1m-73 .5h1m1 0h1m1.5 0h1m1.5 0h1m1.5 0h1m6 0h1m0 0h1m0 0h1m0 0h1m2 0h1m14 0h1m5.5 0h1m8 0h1m1 0h1m4 0h1m0 0h1m-.5 0h1m0 0h1m-.5 0h1m1 0h1m-.5 0h1m-.5 0h1m0 0h1m-.5 0h1m.5 0h1m-54 .5h1m-.5 0h1m3.5 0h1m2.5 0h1m10.5 0h1m4.5 0h1m.5 0h1m17 0h1m1.5 0h1m-.5 0h1m.5 0h1m-.5 0h1m.5 0h1m1.5 0h1m.5 0h1m-64 .5h1m0 0h1m5.5 0h1m-.5 0h1m-.5 0h1m4 0h1m1 0h1m38 0h1m0 0h1m1.5 0h1m.5 0h1m.5 0h1m-67.5 .5h1m5 0h1m10.5 0h1m-.5 0h1m.5 0h1m1.5 0h1m29.5 0h1m2.5 0h1m1.5 0h1m0 0h1m-.5 0h1m-.5 0h1m.5 0h1m-.5 0h1m0 0h1m.5 0h1m-.5 0h1m.5 0h1m-66.5 .5h1m0 0h1m.5 0h1m1 0h1m.5 0h1m6.5 0h1m-.5 0h1m1 0h1m2 0h1m17.5 0h1m13.5 0h1m1 0h1m.5 0h1m-.5 0h1m-.5 0h1m0 0h1m-.5 0h1m.5 0h1m.5 0h1m-.5 0h1m-.5 0h1m-.5 0h1m0 0h1m-68.5 .5h1m-.5 0h1m15.5 0h1m-.5 0h1m1 0h1m1 0h1m7.5 0h1m17.5 0h1m2 0h1m-.5 0h1m5.5 0h1m-.5 0h1m3 0h1m-.5 0h1m-.5 0h1m0 0h1m-.5 0h1m-.5 0h1m-.5 0h1m2.5 0h1m.5 0h1m-65 .5h1m8.5 0h1m2 0h1m-.5 0h1m-.5 0h1m3 0h1m7.5 0h1m1 0h1m1 0h1m12 0h1m2 0h1m-.5 0h1m2.5 0h1m-.5 0h1m1 0h1m-.5 0h1m.5 0h1m1 0h1m.5 0h1m-.5 0h1m-.5 0h1m-.5 0h1m0 0h1m-.5 0h1m0 0h1m.5 0h1m-.5 0h1m-68 .5h1m2.5 0h1m8 0h1m3.5 0h1m0 0h1m3 0h1m2 0h1m1 0h1m0 0h1m2.5 0h1m-.5 0h1m0 0h1m7.5 0h1m1 0h1m12 0h1m.5 0h1m-.5 0h1m0 0h1m-.5 0h1m0 0h1m0 0h1m-.5 0h1m3 0h1m-.5 0h1m-69 .5h1m4 0h1m-.5 0h1m5.5 0h1m.5 0h1m0 0h1m3.5 0h1m.5 0h1m8.5 0h1m1.5 0h1m5.5 0h1m4.5 0h1m-.5 0h1m3.5 0h1m.5 0h1m2 0h1m-.5 0h1m-.5 0h1m0 0h1m.5 0h1m.5 0h1m.5 0h1m0 0h1m-.5 0h1m-.5 0h1m.5 0h1m-.5 0h1m.5 0h1m-54 .5h1m5.5 0h1m1.5 0h1m-.5 0h1m3 0h1m.5 0h1m1.5 0h1m1.5 0h1m7 0h1m0 0h1m1 0h1m0 0h1m.5 0h1m3.5 0h1m1.5 0h1m2 0h1m-.5 0h1m.5 0h1m2 0h1m0 0h1m0 0h1m-.5 0h1m2 0h1m-68.5 .5h1m2.5 0h1m3 0h1m3.5 0h1m6.5 0h1m.5 0h1m2.5 0h1m4 0h1m2 0h1m1 0h1m.5 0h1m2.5 0h1m-.5 0h1m4.5 0h1m-.5 0h1m2 0h1m5.5 0h1m-.5 0h1m-.5 0h1m-.5 0h1m1.5 0h1m-.5 0h1m0 0h1m.5 0h1m0 0h1m0 0h1m-.5 0h1m1.5 0h1m-.5 0h1m-69 .5h1m2.5 0h1m1 0h1m-.5 0h1m-.5 0h1m4 0h1m-.5 0h1m3 0h1m1.5 0h1m-.5 0h1m6.5 0h1m.5 0h1m1.5 0h1m-.5 0h1m-.5 0h1m1 0h1m-.5 0h1m5 0h1m-.5 0h1m-.5 0h1m.5 0h1m1 0h1m2 0h1m-.5 0h1m4.5 0h1m3 0h1m-.5 0h1m-.5 0h1m0 0h1m1.5 0h1m-.5 0h1m-.5 0h1m0 0h1m0 0h1m-.5 0h1m.5 0h1m-72.5 .5h1m2 0h1m7.5 0h1m-.5 0h1m5 0h1m-.5 0h1m-.5 0h1m1.5 0h1m1 0h1m1 0h1m-.5 0h1m0 0h1m3 0h1m1 0h1m.5 0h1m-.5 0h1m.5 0h1m-.5 0h1m7.5 0h1m-.5 0h1m-.5 0h1m-.5 0h1m0 0h1m-.5 0h1m-.5 0h1m7 0h1m.5 0h1m.5 0h1m2.5 0h1m-.5 0h1m2.5 0h1m1 0h1m-.5 0h1m1 0h1m-63 .5h1m2 0h1m3 0h1m.5 0h1m1 0h1m1.5 0h1m-.5 0h1m5 0h1m.5 0h1m1 0h1m-.5 0h1m0 0h1m-.5 0h1m2.5 0h1m2 0h1m1 0h1m2.5 0h1m1.5 0h1m.5 0h1m0 0h1m0 0h1m.5 0h1m2 0h1m2 0h1m-.5 0h1m0 0h1m.5 0h1m-.5 0h1m2 0h1m-.5 0h1m.5 0h1m1.5 0h1m-73 .5h1m6.5 0h1m0 0h1m0 0h1m3 0h1m.5 0h1m1.5 0h1m0 0h1m-.5 0h1m0 0h1m.5 0h1m.5 0h1m2 0h1m0 0h1m2.5 0h1m-.5 0h1m2 0h1m-.5 0h1m1 0h1m.5 0h1m0 0h1m.5 0h1m6.5 0h1m.5 0h1m-.5 0h1m-.5 0h1m2 0h1m-.5 0h1m3 0h1m0 0h1m2.5 0h1m.5 0h1m2.5 0h1m-.5 0h1m-.5 0h1m0 0h1m0 0h1m0 0h1m-.5 0h1m-72.5 .5h1m2 0h1m7.5 0h1m.5 0h1m.5 0h1m0 0h1m1.5 0h1m0 0h1m1 0h1m0 0h1m0 0h1m1 0h1m2.5 0h1m-.5 0h1m1 0h1m0 0h1m-.5 0h1m1 0h1m-.5 0h1m-.5 0h1m.5 0h1m-.5 0h1m.5 0h1m-.5 0h1m.5 0h1m2 0h1m0 0h1m5.5 0h1m1 0h1m-.5 0h1m.5 0h1m-.5 0h1m1 0h1m0 0h1m-.5 0h1m2 0h1m-.5 0h1m-.5 0h1m-.5 0h1m2 0h1m-.5 0h1m-.5 0h1m.5 0h1m-.5 0h1m-67 .5h1m7.5 0h1m1.5 0h1m0 0h1m.5 0h1m0 0h1m7 0h1m1 0h1m-.5 0h1m-.5 0h1m1 0h1m-.5 0h1m1.5 0h1m-.5 0h1m-.5 0h1m2 0h1m1 0h1m5 0h1m1.5 0h1m-.5 0h1m1 0h1m-.5 0h1m.5 0h1m1 0h1m2 0h1m-.5 0h1m-.5 0h1m-.5 0h1m0 0h1m-.5 0h1m0 0h1m-.5 0h1m-.5 0h1m-.5 0h1m3 0h1m-.5 0h1m-.5 0h1m0 0h1m-65.5 .5h1m1.5 0h1m-.5 0h1m-.5 0h1m2 0h1m0 0h1m2 0h1m1.5 0h1m3 0h1m0 0h1m-.5 0h1m.5 0h1m2 0h1m1.5 0h1m0 0h1m0 0h1m0 0h1m.5 0h1m-.5 0h1m.5 0h1m1 0h1m-.5 0h1m1.5 0h1m2 0h1m4.5 0h1m-.5 0h1m.5 0h1m1 0h1m-.5 0h1m-.5 0h1m2.5 0h1m-.5 0h1m-.5 0h1m1 0h1m5 0h1m1 0h1m-74.5 .5h1m12 0h1m2.5 0h1m-.5 0h1m1.5 0h1m2.5 0h1m0 0h1m0 0h1m0 0h1m-.5 0h1m-.5 0h1m.5 0h1m-.5 0h1m-.5 0h1m0 0h1m-.5 0h1m1 0h1m-.5 0h1m-.5 0h1m-.5 0h1m1 0h1m1.5 0h1m-.5 0h1m-.5 0h1m0 0h1m0 0h1m1.5 0h1m1 0h1m-.5 0h1m.5 0h1m-.5 0h1m0 0h1m0 0h1m1 0h1m0 0h1m-.5 0h1m-.5 0h1m-.5 0h1m-.5 0h1m0 0h1m.5 0h1m-.5 0h1m-.5 0h1m1 0h1m0 0h1m.5 0h1m-.5 0h1m-.5 0h1m0 0h1m-.5 0h1m3 0h1m0 0h1m-65 .5h1m-.5 0h1m.5 0h1m-.5 0h1m.5 0h1m0 0h1m0 0h1m7 0h1m1 0h1m-.5 0h1m0 0h1m2 0h1m2.5 0h1m0 0h1m.5 0h1m-.5 0h1m.5 0h1m-.5 0h1m-.5 0h1m.5 0h1m-.5 0h1m0 0h1m.5 0h1m2 0h1m-.5 0h1m-.5 0h1m-.5 0h1m0 0h1m.5 0h1m0 0h1m-.5 0h1m1 0h1m1 0h1m2 0h1m0 0h1m-.5 0h1m0 0h1m0 0h1m3 0h1m-.5 0h1m5 0h1m-.5 0h1m.5 0h1m-.5 0h1m0 0h1m0 0h1m-66 .5h1m1 0h1m13 0h1m-.5 0h1m-.5 0h1m0 0h1m-.5 0h1m.5 0h1m-.5 0h1m-.5 0h1m1 0h1m-.5 0h1m0 0h1m2.5 0h1m1.5 0h1m-.5 0h1m0 0h1m2.5 0h1m-.5 0h1m1 0h1m1.5 0h1m-.5 0h1m.5 0h1m-.5 0h1m-.5 0h1m.5 0h1m-.5 0h1m-.5 0h1m0 0h1m1 0h1m2 0h1m-.5 0h1m1 0h1m-.5 0h1m-.5 0h1m3.5 0h1m0 0h1m-.5 0h1m-62.5 .5h1m15 0h1m0 0h1m-.5 0h1m.5 0h1m0 0h1m-.5 0h1m-.5 0h1m-.5 0h1m0 0h1m-.5 0h1m.5 0h1m-.5 0h1m-.5 0h1m-.5 0h1m-.5 0h1m-.5 0h1m-.5 0h1m.5 0h1m.5 0h1m0 0h1m-.5 0h1m-.5 0h1m-.5 0h1m1.5 0h1m2 0h1m0 0h1m.5 0h1m-.5 0h1m.5 0h1m-.5 0h1m0 0h1m-.5 0h1m-.5 0h1m0 0h1m-.5 0h1m-.5 0h1m2 0h1m1.5 0h1m-.5 0h1m-.5 0h1m-.5 0h1m0 0h1m4 0h1m0 0h1m-.5 0h1m5 0h1m-81 .5h1m3.5 0h1m1.5 0h1m.5 0h1m19 0h1m0 0h1m-.5 0h1m0 0h1m-.5 0h1m-.5 0h1m-.5 0h1m.5 0h1m-.5 0h1m-.5 0h1m-.5 0h1m-.5 0h1m.5 0h1m-.5 0h1m.5 0h1m1 0h1m0 0h1m0 0h1m1 0h1m0 0h1m1.5 0h1m-.5 0h1m0 0h1m0 0h1m-.5 0h1m-.5 0h1m-.5 0h1m1 0h1m0 0h1m0 0h1m.5 0h1m2.5 0h1m-.5 0h1m0 0h1m0 0h1m1 0h1m0 0h1m-.5 0h1m3 0h1m0 0h1m3.5 0h1m-68.5 .5h1m18 0h1m-.5 0h1m0 0h1m0 0h1m-.5 0h1m0 0h1m-.5 0h1m-.5 0h1m-.5 0h1m-.5 0h1m0 0h1m-.5 0h1m-.5 0h1m0 0h1m-.5 0h1m-.5 0h1m0 0h1m0 0h1m-.5 0h1m-.5 0h1m3 0h1m.5 0h1m.5 0h1m1.5 0h1m5 0h1m0 0h1m-.5 0h1m-.5 0h1m-.5 0h1m0 0h1m1 0h1m.5 0h1m-.5 0h1m6.5 0h1m-.5 0h1m.5 0h1m0 0h1m-69 .5h1m21.5 0h1m0 0h1m-.5 0h1m-.5 0h1m-.5 0h1m-.5 0h1m0 0h1m0 0h1m0 0h1m-.5 0h1m-.5 0h1m-.5 0h1m0 0h1m1 0h1m-.5 0h1m-.5 0h1m.5 0h1m1 0h1m-.5 0h1m0 0h1m12 0h1m.5 0h1m-.5 0h1m-.5 0h1m-.5 0h1m-.5 0h1m0 0h1m0 0h1m-.5 0h1m-.5 0h1m-.5 0h1m-.5 0h1m-.5 0h1m-.5 0h1m3.5 0h1m1.5 0h1m5.5 0h1m-78.5 .5h1m1.5 0h1m-.5 0h1m0 0h1m21 0h1m-.5 0h1m-.5 0h1m-.5 0h1m-.5 0h1m-.5 0h1m-.5 0h1m.5 0h1m1 0h1m-.5 0h1m-.5 0h1m0 0h1m0 0h1m-.5 0h1m-.5 0h1m.5 0h1m-.5 0h1m-.5 0h1m-.5 0h1m-.5 0h1m.5 0h1m-.5 0h1m-.5 0h1m-.5 0h1m11.5 0h1m0 0h1m-.5 0h1m-.5 0h1m-.5 0h1m1.5 0h1m7.5 0h1m8.5 0h1m-80 .5h1m2.5 0h1m1.5 0h1m23.5 0h1m-.5 0h1m0 0h1m0 0h1m0 0h1m-.5 0h1m-.5 0h1m-.5 0h1m-.5 0h1m0 0h1m-.5 0h1m-.5 0h1m-.5 0h1m-.5 0h1m0 0h1m.5 0h1m-.5 0h1m-.5 0h1m14 0h1m1 0h1m-.5 0h1m0 0h1m-.5 0h1m0 0h1m-.5 0h1m.5 0h1m3.5 0h1m0 0h1m.5 0h1m-.5 0h1m-70.5 .5h1m0 0h1m-.5 0h1m22.5 0h1m1 0h1m-.5 0h1m-.5 0h1m0 0h1m-.5 0h1m0 0h1m0 0h1m-.5 0h1m-.5 0h1m1 0h1m-.5 0h1m-.5 0h1m0 0h1m0 0h1m-.5 0h1m0 0h1m16 0h1m-.5 0h1m-.5 0h1m3 0h1m4 0h1m.5 0h1m-.5 0h1m-.5 0h1m1 0h1m3 0h1m-72.5 .5h1m22 0h1m-.5 0h1m0 0h1m1 0h1m-.5 0h1m-.5 0h1m-.5 0h1m-.5 0h1m.5 0h1m-.5 0h1m0 0h1m0 0h1m-.5 0h1m0 0h1m-.5 0h1m-.5 0h1m-.5 0h1m17.5 0h1m-.5 0h1m-.5 0h1m0 0h1m.5 0h1m-.5 0h1m-60.5 .5h1m22 0h1m-.5 0h1m-.5 0h1m-.5 0h1m0 0h1m0 0h1m0 0h1m-.5 0h1m-.5 0h1m-.5 0h1m-.5 0h1m-.5 0h1m-.5 0h1m-.5 0h1m0 0h1m-.5 0h1m.5 0h1m.5 0h1m.5 0h1m18 0h1m1 0h1m1.5 0h1m3.5 0h1m1.5 0h1m1 0h1m-69 .5h1m20.5 0h1m-.5 0h1m0 0h1m-.5 0h1m-.5 0h1m-.5 0h1m1 0h1m-.5 0h1m-.5 0h1m-.5 0h1m0 0h1m-.5 0h1m0 0h1m-.5 0h1m-.5 0h1m1.5 0h1m.5 0h1m16.5 0h1m-.5 0h1m0 0h1m0 0h1m.5 0h1m5 0h1m.5 0h1m2 0h1m-75.5 .5h1m1 0h1m1 0h1m2 0h1m-.5 0h1m-.5 0h1m19 0h1m-.5 0h1m0 0h1m0 0h1m0 0h1m0 0h1m-.5 0h1m0 0h1m-.5 0h1m.5 0h1m-.5 0h1m-.5 0h1m0 0h1m0 0h1m-.5 0h1m-.5 0h1m-.5 0h1m-.5 0h1m-.5 0h1m17.5 0h1m.5 0h1m.5 0h1m1.5 0h1m4 0h1m-66.5 .5h1m0 0h1m.5 0h1m.5 0h1m17 0h1m1.5 0h1m-.5 0h1m-.5 0h1m-.5 0h1m0 0h1m-.5 0h1m-.5 0h1m-.5 0h1m-.5 0h1m-.5 0h1m0 0h1m-.5 0h1m-.5 0h1m-.5 0h1m0 0h1m.5 0h1m-.5 0h1m-.5 0h1m.5 0h1m17 0h1m-.5 0h1m-.5 0h1m1 0h1m-.5 0h1m-.5 0h1m-.5 0h1m-.5 0h1m-.5 0h1m-.5 0h1m4.5 0h1m0 0h1m0 0h1m1.5 0h1m-74 .5h1m1.5 0h1m-.5 0h1m1.5 0h1m-.5 0h1m16.5 0h1m-.5 0h1m0 0h1m-.5 0h1m0 0h1m-.5 0h1m-.5 0h1m0 0h1m-.5 0h1m-.5 0h1m-.5 0h1m-.5 0h1m.5 0h1m.5 0h1m-.5 0h1m-.5 0h1m0 0h1m-.5 0h1m-.5 0h1m-.5 0h1m-.5 0h1m0 0h1m-.5 0h1m-.5 0h1m-.5 0h1m16.5 0h1m1.5 0h1m0 0h1m-.5 0h1m-.5 0h1m-.5 0h1m-.5 0h1m3 0h1m-.5 0h1m0 0h1m-.5 0h1m.5 0h1m4 0h1m-76 .5h1m3.5 0h1m.5 0h1m0 0h1m-.5 0h1m13.5 0h1m0 0h1m-.5 0h1m0 0h1m-.5 0h1m.5 0h1m0 0h1m-.5 0h1m.5 0h1m-.5 0h1m-.5 0h1m-.5 0h1m0 0h1m.5 0h1m.5 0h1m1 0h1m.5 0h1m-.5 0h1m17 0h1m1.5 0h1m-.5 0h1m-.5 0h1m.5 0h1m-.5 0h1m3 0h1m0 0h1m0 0h1m-72.5 .5h1m9 0h1m.5 0h1m10 0h1m1 0h1m-.5 0h1m-.5 0h1m0 0h1m-.5 0h1m-.5 0h1m-.5 0h1m-.5 0h1m-.5 0h1m-.5 0h1m-.5 0h1m-.5 0h1m-.5 0h1m0 0h1m0 0h1m-.5 0h1m-.5 0h1m0 0h1m-.5 0h1m-.5 0h1m1 0h1m-.5 0h1m2 0h1m15.5 0h1m.5 0h1m0 0h1m-.5 0h1m0 0h1m0 0h1m-.5 0h1m-64.5 .5h1m8 0h1m0 0h1m0 0h1m.5 0h1m-.5 0h1m0 0h1m.5 0h1m5.5 0h1m1.5 0h1m-.5 0h1m.5 0h1m-.5 0h1m-.5 0h1m-.5 0h1m.5 0h1m-.5 0h1m-.5 0h1m0 0h1m-.5 0h1m-.5 0h1m0 0h1m0 0h1m.5 0h1m-.5 0h1m0 0h1m-.5 0h1m-.5 0h1m1.5 0h1m-.5 0h1m-.5 0h1m1 0h1m0 0h1m13.5 0h1m-.5 0h1m-.5 0h1m-.5 0h1m.5 0h1m-.5 0h1m5.5 0h1m1 0h1m.5 0h1m4 0h1m-80 .5h1m8 0h1m5.5 0h1m-.5 0h1m1.5 0h1m0 0h1m-.5 0h1m.5 0h1m0 0h1m-.5 0h1m0 0h1m0 0h1m-.5 0h1m-.5 0h1m-.5 0h1m.5 0h1m-.5 0h1m-.5 0h1m0 0h1m0 0h1m.5 0h1m-.5 0h1m0 0h1m0 0h1m0 0h1m-.5 0h1m0 0h1m-.5 0h1m-.5 0h1m-.5 0h1m-.5 0h1m0 0h1m5 0h1m0 0h1m0 0h1m4.5 0h1m1 0h1m2 0h1m-.5 0h1m1.5 0h1m.5 0h1m.5 0h1m.5 0h1m5 0h1m1 0h1m-68.5 .5h1m0 0h1m4 0h1m-.5 0h1m0 0h1m0 0h1m1 0h1m.5 0h1m-.5 0h1m-.5 0h1m1 0h1m-.5 0h1m-.5 0h1m-.5 0h1m0 0h1m-.5 0h1m0 0h1m2.5 0h1m1.5 0h1m0 0h1m0 0h1m0 0h1m-.5 0h1m-.5 0h1m5 0h1m-.5 0h1m3 0h1m0 0h1m0 0h1m.5 0h1m.5 0h1m1.5 0h1m-.5 0h1m.5 0h1m1 0h1m-.5 0h1m1 0h1m-.5 0h1m2 0h1m-.5 0h1m4.5 0h1m-.5 0h1m0 0h1m-.5 0h1m.5 0h1m-65.5 .5h1m2.5 0h1m.5 0h1m1.5 0h1m0 0h1m-.5 0h1m0 0h1m0 0h1m-.5 0h1m0 0h1m1.5 0h1m-.5 0h1m0 0h1m.5 0h1m0 0h1m-.5 0h1m0 0h1m0 0h1m-.5 0h1m-.5 0h1m.5 0h1m-.5 0h1m0 0h1m-.5 0h1m.5 0h1m-.5 0h1m-.5 0h1m-.5 0h1m-.5 0h1m-.5 0h1m-.5 0h1m-.5 0h1m0 0h1m1 0h1m-.5 0h1m4 0h1m-.5 0h1m1 0h1m-.5 0h1m0 0h1m0 0h1m-.5 0h1m-.5 0h1m1.5 0h1m-.5 0h1m-.5 0h1m-.5 0h1m-.5 0h1m1 0h1m-.5 0h1m1 0h1m1 0h1m-.5 0h1m4.5 0h1m-.5 0h1m1.5 0h1m.5 0h1m-65 .5h1m-.5 0h1m2 0h1m-.5 0h1m-.5 0h1m-.5 0h1m-.5 0h1m-.5 0h1m-.5 0h1m-.5 0h1m0 0h1m1 0h1m.5 0h1m0 0h1m0 0h1m1 0h1m2 0h1m-.5 0h1m0 0h1m-.5 0h1m8 0h1m1.5 0h1m-.5 0h1m.5 0h1m.5 0h1m-.5 0h1m3 0h1m.5 0h1m.5 0h1m2.5 0h1m0 0h1m1 0h1m1 0h1m-.5 0h1m-.5 0h1m-.5 0h1m-.5 0h1m-.5 0h1m-.5 0h1m-.5 0h1m3 0h1m-.5 0h1m-.5 0h1m1.5 0h1m-69 .5h1m0 0h1m2.5 0h1m-.5 0h1m-.5 0h1m2 0h1m1 0h1m.5 0h1m-.5 0h1m-.5 0h1m2 0h1m-.5 0h1m-.5 0h1m.5 0h1m2 0h1m0 0h1m2 0h1m1.5 0h1m-.5 0h1m1 0h1m-.5 0h1m0 0h1m-.5 0h1m-.5 0h1m-.5 0h1m1 0h1m-.5 0h1m-.5 0h1m1 0h1m0 0h1m.5 0h1m-.5 0h1m1.5 0h1m0 0h1m2.5 0h1m.5 0h1m-.5 0h1m-.5 0h1m-.5 0h1m0 0h1m.5 0h1m-.5 0h1m2.5 0h1m.5 0h1m3 0h1m-.5 0h1m4 0h1m-67.5 .5h1m-.5 0h1m-.5 0h1m0 0h1m-.5 0h1m1 0h1m2 0h1m1.5 0h1m-.5 0h1m-.5 0h1m2.5 0h1m0 0h1m0 0h1m3 0h1m-.5 0h1m0 0h1m-.5 0h1m.5 0h1m3.5 0h1m-.5 0h1m-.5 0h1m-.5 0h1m0 0h1m-.5 0h1m-.5 0h1m1.5 0h1m.5 0h1m1.5 0h1m1.5 0h1m0 0h1m0 0h1m0 0h1m1.5 0h1m-.5 0h1m-.5 0h1m.5 0h1m-.5 0h1m-.5 0h1m-.5 0h1m.5 0h1m.5 0h1m.5 0h1m1 0h1m2.5 0h1m-.5 0h1m-.5 0h1m-.5 0h1m.5 0h1m-67 .5h1m-.5 0h1m7 0h1m1.5 0h1m1.5 0h1m3 0h1m1 0h1m0 0h1m7.5 0h1m1.5 0h1m1 0h1m0 0h1m3.5 0h1m2.5 0h1m0 0h1m1.5 0h1m.5 0h1m1 0h1m.5 0h1m-.5 0h1m5.5 0h1m1.5 0h1m2 0h1m1 0h1m-.5 0h1m1.5 0h1m-70 .5h1m3.5 0h1m.5 0h1m1 0h1m3 0h1m-.5 0h1m.5 0h1m0 0h1m-.5 0h1m0 0h1m1 0h1m6 0h1m.5 0h1m-.5 0h1m2 0h1m-.5 0h1m.5 0h1m0 0h1m2 0h1m1 0h1m-.5 0h1m0 0h1m.5 0h1m1 0h1m.5 0h1m0 0h1m-.5 0h1m-.5 0h1m.5 0h1m3.5 0h1m.5 0h1m2 0h1m1 0h1m4 0h1m-.5 0h1m-.5 0h1m0 0h1m-.5 0h1m-65.5 .5h1m-.5 0h1m2 0h1m0 0h1m1 0h1m1 0h1m0 0h1m3.5 0h1m2 0h1m-.5 0h1m-.5 0h1m1 0h1m0 0h1m-.5 0h1m4 0h1m0 0h1m1.5 0h1m1 0h1m4 0h1m3.5 0h1m2.5 0h1m0 0h1m1 0h1m0 0h1m2.5 0h1m1 0h1m2 0h1m-.5 0h1m-.5 0h1m-.5 0h1m1 0h1m1 0h1m-63.5 .5h1m2 0h1m1 0h1m18.5 0h1m4.5 0h1m.5 0h1m10 0h1m2.5 0h1m-.5 0h1m0 0h1m5 0h1m1.5 0h1m.5 0h1m0 0h1m4.5 0h1m2.5 0h1m-75 .5h1m1 0h1m5.5 0h1m3 0h1m3.5 0h1m-.5 0h1m.5 0h1m0 0h1m2 0h1m11.5 0h1m3 0h1m1.5 0h1m-.5 0h1m1.5 0h1m3.5 0h1m-.5 0h1m.5 0h1m2.5 0h1m3 0h1m0 0h1m-.5 0h1m1 0h1m-.5 0h1m0 0h1m0 0h1m-.5 0h1m4 0h1m-71 .5h1m3.5 0h1m13 0h1m10 0h1m.5 0h1m-.5 0h1m2 0h1m0 0h1m1.5 0h1m1 0h1m-.5 0h1m1.5 0h1m2 0h1m1 0h1m.5 0h1m0 0h1m2.5 0h1m1 0h1m6 0h1m-.5 0h1m-.5 0h1m1 0h1m-.5 0h1m0 0h1m2 0h1m-68 .5h1m12 0h1m5.5 0h1m-.5 0h1m.5 0h1m3.5 0h1m-.5 0h1m2 0h1m2.5 0h1m7.5 0h1m1.5 0h1m3 0h1m5 0h1m3.5 0h1m1 0h1m.5 0h1m0 0h1m0 0h1m0 0h1m6 0h1m-51.5 .5h1m8.5 0h1m.5 0h1m0 0h1m-.5 0h1m.5 0h1m1.5 0h1m-.5 0h1m3 0h1m-.5 0h1m2 0h1m-.5 0h1m1.5 0h1m6.5 0h1m2.5 0h1m0 0h1m-.5 0h1m2.5 0h1m-58.5 .5h1m10 0h1m2 0h1m2 0h1m0 0h1m0 0h1m13 0h1m-.5 0h1m1.5 0h1m10.5 0h1m.5 0h1m0 0h1m.5 0h1m1 0h1m1.5 0h1m-.5 0h1m-.5 0h1m-34 .5h1m-.5 0h1m-.5 0h1m1.5 0h1m.5 0h1m-.5 0h1m2.5 0h1m1 0h1m18 0h1m-.5 0h1m-50.5 .5h1m0 0h1m2 0h1m10 0h1m19.5 0h1m6 0h1m2 0h1m-.5 0h1m3.5 0h1m1.5 0h1m0 0h1m1 0h1m-40.5 .5h1m9 0h1m1 0h1m2.5 0h1m3.5 0h1m6 0h1m1.5 0h1m3 0h1m-31.5 .5h1m11.5 0h1m1 0h1m-.5 0h1m3.5 0h1m7 0h1m0 0h1m-.5 0h1m-25.5 .5h1m10 0h1m.5 0h1m13.5 0h1m0 0h1m0 0h1m-51 .5h1m42 0h1m0 0h1m2 0h1m-42 .5h1m24.5 0h1m14 0h1m.5 .5h1m1.5 0h1m.5 0h1m-10.5 .5h1m0 0h1m.5 0h1m0 0h1m.5 0h1m1.5 0h1m0 0h1m-20.5 .5h1m1 0h1m11 0h1m-.5 0h1m1 0h1m-3 .5h1m-8.5 .5h1m2 0h1m5.5 0h1m1 .5h1m-27.5 .5h1m2 0h1m18.5 0h1m3 0h1"/>
<rect x="218.2" y="192.5" width="112.2" height="112.0" fill="none" stroke="#111" stroke-width="1.3"/>
<line x1="257.5" y1="192.5" x2="257.5" y2="304.5" stroke="#111" stroke-width="1.3"/>
<line x1="218.2" y1="239.5" x2="330.5" y2="239.5" stroke="#111" stroke-width="1.3"/>
<text x="220.1" y="201.7" font-size="9.57" text-anchor="start" font-weight="normal" textLength="24.67" lengthAdjust="spacingAndGlyphs" >0.86%</text>
<text x="327.8" y="201.7" font-size="9.57" text-anchor="end" font-weight="normal" textLength="24.67" lengthAdjust="spacingAndGlyphs" >0.49%</text>
<text x="220.1" y="302.0" font-size="9.57" text-anchor="start" font-weight="normal" textLength="24.67" lengthAdjust="spacingAndGlyphs" >61.4%</text>
<text x="327.8" y="302.0" font-size="9.57" text-anchor="end" font-weight="normal" textLength="24.67" lengthAdjust="spacingAndGlyphs" >37.3%</text>
<line x1="215.7" y1="201.0" x2="218.2" y2="201.0" stroke="#111" stroke-width="1.0"/>
<text x="213.7" y="202.7" font-size="5.9" text-anchor="end" fill="#333">10<tspan font-size="4.1" dy="-2.7">5</tspan></text>
<line x1="215.7" y1="228.8" x2="218.2" y2="228.8" stroke="#111" stroke-width="1.0"/>
<text x="213.7" y="230.4" font-size="5.9" text-anchor="end" fill="#333">10<tspan font-size="4.1" dy="-2.7">4</tspan></text>
<line x1="215.7" y1="256.0" x2="218.2" y2="256.0" stroke="#111" stroke-width="1.0"/>
<text x="213.7" y="257.7" font-size="5.9" text-anchor="end" fill="#333">10<tspan font-size="4.1" dy="-2.7">3</tspan></text>
<line x1="215.7" y1="286.0" x2="218.2" y2="286.0" stroke="#111" stroke-width="1.0"/>
<text x="213.7" y="287.7" font-size="5.9" text-anchor="end" fill="#333">0</text>
<line x1="216.8" y1="195.5" x2="218.2" y2="195.5" stroke="#111" stroke-width="0.6"/>
<line x1="216.8" y1="198.8" x2="218.2" y2="198.8" stroke="#111" stroke-width="0.6"/>
<line x1="216.8" y1="202.1" x2="218.2" y2="202.1" stroke="#111" stroke-width="0.6"/>
<line x1="216.8" y1="205.4" x2="218.2" y2="205.4" stroke="#111" stroke-width="0.6"/>
<line x1="216.8" y1="208.7" x2="218.2" y2="208.7" stroke="#111" stroke-width="0.6"/>
<line x1="216.8" y1="212.0" x2="218.2" y2="212.0" stroke="#111" stroke-width="0.6"/>
<line x1="216.8" y1="215.3" x2="218.2" y2="215.3" stroke="#111" stroke-width="0.6"/>
<line x1="216.8" y1="218.6" x2="218.2" y2="218.6" stroke="#111" stroke-width="0.6"/>
<line x1="216.8" y1="221.9" x2="218.2" y2="221.9" stroke="#111" stroke-width="0.6"/>
<line x1="216.8" y1="225.2" x2="218.2" y2="225.2" stroke="#111" stroke-width="0.6"/>
<line x1="216.8" y1="228.5" x2="218.2" y2="228.5" stroke="#111" stroke-width="0.6"/>
<line x1="216.8" y1="231.8" x2="218.2" y2="231.8" stroke="#111" stroke-width="0.6"/>
<line x1="216.8" y1="235.1" x2="218.2" y2="235.1" stroke="#111" stroke-width="0.6"/>
<line x1="216.8" y1="238.4" x2="218.2" y2="238.4" stroke="#111" stroke-width="0.6"/>
<line x1="216.8" y1="241.7" x2="218.2" y2="241.7" stroke="#111" stroke-width="0.6"/>
<line x1="216.8" y1="245.0" x2="218.2" y2="245.0" stroke="#111" stroke-width="0.6"/>
<line x1="216.8" y1="248.3" x2="218.2" y2="248.3" stroke="#111" stroke-width="0.6"/>
<line x1="216.8" y1="251.6" x2="218.2" y2="251.6" stroke="#111" stroke-width="0.6"/>
<line x1="216.8" y1="254.9" x2="218.2" y2="254.9" stroke="#111" stroke-width="0.6"/>
<line x1="216.8" y1="258.2" x2="218.2" y2="258.2" stroke="#111" stroke-width="0.6"/>
<line x1="216.8" y1="261.5" x2="218.2" y2="261.5" stroke="#111" stroke-width="0.6"/>
<line x1="216.8" y1="264.8" x2="218.2" y2="264.8" stroke="#111" stroke-width="0.6"/>
<line x1="216.8" y1="268.1" x2="218.2" y2="268.1" stroke="#111" stroke-width="0.6"/>
<line x1="216.8" y1="271.4" x2="218.2" y2="271.4" stroke="#111" stroke-width="0.6"/>
<line x1="216.8" y1="274.7" x2="218.2" y2="274.7" stroke="#111" stroke-width="0.6"/>
<line x1="216.8" y1="278.0" x2="218.2" y2="278.0" stroke="#111" stroke-width="0.6"/>
<line x1="216.8" y1="281.3" x2="218.2" y2="281.3" stroke="#111" stroke-width="0.6"/>
<line x1="216.8" y1="284.6" x2="218.2" y2="284.6" stroke="#111" stroke-width="0.6"/>
<line x1="216.8" y1="287.9" x2="218.2" y2="287.9" stroke="#111" stroke-width="0.6"/>
<line x1="216.8" y1="291.2" x2="218.2" y2="291.2" stroke="#111" stroke-width="0.6"/>
<line x1="216.8" y1="294.5" x2="218.2" y2="294.5" stroke="#111" stroke-width="0.6"/>
<line x1="216.8" y1="297.8" x2="218.2" y2="297.8" stroke="#111" stroke-width="0.6"/>
<line x1="216.8" y1="301.1" x2="218.2" y2="301.1" stroke="#111" stroke-width="0.6"/>
<line x1="238.2" y1="304.5" x2="238.2" y2="307.1" stroke="#111" stroke-width="1.0"/>
<line x1="266.6" y1="304.5" x2="266.6" y2="307.1" stroke="#111" stroke-width="1.0"/>
<line x1="292.8" y1="304.5" x2="292.8" y2="307.1" stroke="#111" stroke-width="1.0"/>
<line x1="320.0" y1="304.5" x2="320.0" y2="307.1" stroke="#111" stroke-width="1.0"/>
<line x1="221.2" y1="304.5" x2="221.2" y2="306.0" stroke="#111" stroke-width="0.6"/>
<line x1="224.6" y1="304.5" x2="224.6" y2="306.0" stroke="#111" stroke-width="0.6"/>
<line x1="227.9" y1="304.5" x2="227.9" y2="306.0" stroke="#111" stroke-width="0.6"/>
<line x1="231.2" y1="304.5" x2="231.2" y2="306.0" stroke="#111" stroke-width="0.6"/>
<line x1="234.5" y1="304.5" x2="234.5" y2="306.0" stroke="#111" stroke-width="0.6"/>
<line x1="237.8" y1="304.5" x2="237.8" y2="306.0" stroke="#111" stroke-width="0.6"/>
<line x1="241.1" y1="304.5" x2="241.1" y2="306.0" stroke="#111" stroke-width="0.6"/>
<line x1="244.4" y1="304.5" x2="244.4" y2="306.0" stroke="#111" stroke-width="0.6"/>
<line x1="247.7" y1="304.5" x2="247.7" y2="306.0" stroke="#111" stroke-width="0.6"/>
<line x1="251.0" y1="304.5" x2="251.0" y2="306.0" stroke="#111" stroke-width="0.6"/>
<line x1="254.3" y1="304.5" x2="254.3" y2="306.0" stroke="#111" stroke-width="0.6"/>
<line x1="257.6" y1="304.5" x2="257.6" y2="306.0" stroke="#111" stroke-width="0.6"/>
<line x1="260.9" y1="304.5" x2="260.9" y2="306.0" stroke="#111" stroke-width="0.6"/>
<line x1="264.2" y1="304.5" x2="264.2" y2="306.0" stroke="#111" stroke-width="0.6"/>
<line x1="267.5" y1="304.5" x2="267.5" y2="306.0" stroke="#111" stroke-width="0.6"/>
<line x1="270.8" y1="304.5" x2="270.8" y2="306.0" stroke="#111" stroke-width="0.6"/>
<line x1="274.1" y1="304.5" x2="274.1" y2="306.0" stroke="#111" stroke-width="0.6"/>
<line x1="277.4" y1="304.5" x2="277.4" y2="306.0" stroke="#111" stroke-width="0.6"/>
<line x1="280.7" y1="304.5" x2="280.7" y2="306.0" stroke="#111" stroke-width="0.6"/>
<line x1="284.0" y1="304.5" x2="284.0" y2="306.0" stroke="#111" stroke-width="0.6"/>
<line x1="287.3" y1="304.5" x2="287.3" y2="306.0" stroke="#111" stroke-width="0.6"/>
<line x1="290.6" y1="304.5" x2="290.6" y2="306.0" stroke="#111" stroke-width="0.6"/>
<line x1="293.9" y1="304.5" x2="293.9" y2="306.0" stroke="#111" stroke-width="0.6"/>
<line x1="297.2" y1="304.5" x2="297.2" y2="306.0" stroke="#111" stroke-width="0.6"/>
<line x1="300.5" y1="304.5" x2="300.5" y2="306.0" stroke="#111" stroke-width="0.6"/>
<line x1="303.8" y1="304.5" x2="303.8" y2="306.0" stroke="#111" stroke-width="0.6"/>
<line x1="307.1" y1="304.5" x2="307.1" y2="306.0" stroke="#111" stroke-width="0.6"/>
<line x1="310.4" y1="304.5" x2="310.4" y2="306.0" stroke="#111" stroke-width="0.6"/>
<line x1="313.7" y1="304.5" x2="313.7" y2="306.0" stroke="#111" stroke-width="0.6"/>
<line x1="317.0" y1="304.5" x2="317.0" y2="306.0" stroke="#111" stroke-width="0.6"/>
<line x1="320.3" y1="304.5" x2="320.3" y2="306.0" stroke="#111" stroke-width="0.6"/>
<line x1="323.6" y1="304.5" x2="323.6" y2="306.0" stroke="#111" stroke-width="0.6"/>
<line x1="326.9" y1="304.5" x2="326.9" y2="306.0" stroke="#111" stroke-width="0.6"/>
<text x="238.2" y="316.2" font-size="5.9" text-anchor="middle" fill="#333">0</text>
<text x="266.6" y="316.2" font-size="5.9" text-anchor="middle" fill="#333">10<tspan font-size="4.1" dy="-2.7">3</tspan></text>
<text x="292.8" y="316.2" font-size="5.9" text-anchor="middle" fill="#333">10<tspan font-size="4.1" dy="-2.7">4</tspan></text>
<text x="320.0" y="316.2" font-size="5.9" text-anchor="middle" fill="#333">10<tspan font-size="4.1" dy="-2.7">5</tspan></text>
<text transform="translate(200.0,251.2) rotate(-90)" font-size="10.81" text-anchor="middle" textLength="29.26" lengthAdjust="spacingAndGlyphs">CD161</text>
<text x="272.9" y="330.7" font-size="10.78" text-anchor="middle" font-weight="normal" textLength="19.60" lengthAdjust="spacingAndGlyphs" >CD8</text>
<g filter="url(#bl2)" fill="#000">
<ellipse cx="415.5" cy="248.8" rx="3.2" ry="12.5"/>
<ellipse cx="412.0" cy="283.0" rx="9.0" ry="6.5"/>
<ellipse cx="457.5" cy="283.0" rx="7.5" ry="6.2"/>
<ellipse cx="459.5" cy="267.5" rx="3.0" ry="8.8"/>
</g>
<path stroke="#000" stroke-opacity="1.0" stroke-width="1.1" d="M454.5 221h1m-5 1h1m-5.5 .5h1m1 0h1m3.5 0h1m1 0h1m7.5 0h1m-42.5 .5h1m21.5 0h1m9.5 0h1m-45 .5h1m3.5 0h1m1.5 0h1m22 0h1m3.5 0h1m-34 .5h1m2 0h1m-7.5 .5h1m.5 0h1m2.5 0h1m3 0h1m-8 .5h1m2 0h1m4 0h1m33.5 0h1m-44 .5h1m.5 0h1m8 0h1m30 0h1m4 0h1m-49 .5h1m1.5 0h1m1.5 0h1m0 0h1m4 0h1m25 0h1m5 0h1m4 0h1m-52.5 .5h1m5 0h1m1 0h1m0 0h1m.5 0h1m37.5 0h1m-15.5 .5h1m14.5 0h1m1.5 0h1m-48 .5h1m0 0h1m.5 0h1m2.5 0h1m2.5 0h1m25.5 0h1m4.5 0h1m.5 0h1m-33.5 .5h1m29.5 0h1m7 0h1m-.5 0h1m-50.5 .5h1m2.5 0h1m6 0h1m-.5 0h1m15 0h1m6.5 0h1m2.5 0h1m.5 0h1m5 0h1m4 0h1m-50.5 .5h1m3.5 0h1m1 0h1m29.5 0h1m3.5 0h1m2.5 0h1m-48 .5h1m1.5 0h1m1 0h1m-.5 0h1m-.5 0h1m0 0h1m-.5 0h1m-.5 0h1m4.5 0h1m24 0h1m6 0h1m9.5 0h1m-53 .5h1m.5 0h1m0 0h1m-.5 0h1m-.5 0h1m41.5 0h1m-49.5 .5h1m8 0h1m20.5 0h1m-35.5 .5h1m3 0h1m4 0h1m0 0h1m0 0h1m1.5 0h1m13 0h1m16.5 0h1m-.5 0h1m-43.5 .5h1m0 0h1m0 0h1m1 0h1m-.5 0h1m0 0h1m5 0h1m-11.5 .5h1m1 0h1m-.5 0h1m-.5 0h1m1 0h1m.5 0h1m-.5 0h1m-.5 0h1m.5 0h1m0 0h1m-14.5 .5h1m0 0h1m7 0h1m0 0h1m7.5 0h1m21.5 0h1m0 0h1m10.5 0h1m-52 .5h1m2.5 0h1m1 0h1m1.5 0h1m-.5 0h1m0 0h1m-.5 0h1m-.5 0h1m3 0h1m30 0h1m-50 .5h1m1 0h1m3.5 0h1m2 0h1m.5 0h1m1.5 0h1m4.5 0h1m-17.5 .5h1m2.5 0h1m-.5 0h1m1 0h1m.5 0h1m1.5 0h1m-.5 0h1m-.5 0h1m-.5 0h1m-11.5 .5h1m1.5 0h1m.5 0h1m-.5 0h1m0 0h1m-.5 0h1m0 0h1m1 0h1m4 0h1m-17 .5h1m-.5 0h1m-.5 0h1m1 0h1m0 0h1m.5 0h1m-.5 0h1m.5 0h1m4.5 0h1m2.5 0h1m2.5 0h1m17.5 0h1m6 0h1m-44.5 .5h1m2 0h1m-.5 0h1m-.5 0h1m0 0h1m-.5 0h1m-.5 0h1m-.5 0h1m-.5 0h1m0 0h1m2.5 0h1m0 0h1m32 0h1m-50 .5h1m-.5 0h1m1.5 0h1m1.5 0h1m-.5 0h1m-.5 0h1m-.5 0h1m-.5 0h1m-.5 0h1m0 0h1m-.5 0h1m-.5 0h1m.5 0h1m.5 0h1m36.5 0h1m1 0h1m-.5 0h1m-52.5 .5h1m4 0h1m-.5 0h1m2 0h1m1 0h1m0 0h1m2.5 0h1m33.5 0h1m-.5 0h1m1 0h1m-53.5 .5h1m-.5 0h1m1.5 0h1m-.5 0h1m-.5 0h1m0 0h1m-.5 0h1m-.5 0h1m-.5 0h1m2.5 0h1m-.5 0h1m.5 0h1m17 0h1m23 0h1m-51.5 .5h1m1.5 0h1m1.5 0h1m0 0h1m-.5 0h1m-.5 0h1m-.5 0h1m0 0h1m0 0h1m-.5 0h1m1 0h1m1 0h1m4 0h1m9 0h1m8 0h1m7.5 0h1m1.5 0h1m4 0h1m-54.5 .5h1m0 0h1m-.5 0h1m0 0h1m.5 0h1m.5 0h1m2.5 0h1m0 0h1m0 0h1m.5 0h1m2.5 0h1m12 0h1m6.5 0h1m17 0h1m-56 .5h1m2.5 0h1m-.5 0h1m.5 0h1m-.5 0h1m-.5 0h1m-.5 0h1m-.5 0h1m.5 0h1m.5 0h1m1.5 0h1m14 0h1m10.5 0h1m10.5 0h1m-55.5 .5h1m1 0h1m4 0h1m.5 0h1m1 0h1m-.5 0h1m0 0h1m4.5 0h1m.5 0h1m10.5 0h1m13 0h1m1.5 0h1m.5 0h1m.5 0h1m-.5 0h1m.5 0h1m-52 .5h1m-.5 0h1m0 0h1m-.5 0h1m-.5 0h1m-.5 0h1m0 0h1m3 0h1m-.5 0h1m1.5 0h1m.5 0h1m-.5 0h1m.5 0h1m15 0h1m15.5 0h1m2 0h1m0 0h1m-.5 0h1m7.5 0h1m-58 .5h1m1 0h1m1 0h1m0 0h1m-.5 0h1m-.5 0h1m-.5 0h1m-.5 0h1m0 0h1m2 0h1m32 0h1m-48 .5h1m3.5 0h1m0 0h1m.5 0h1m0 0h1m1.5 0h1m1 0h1m-.5 0h1m6 0h1m4.5 0h1m5 0h1m9.5 0h1m3 0h1m1 0h1m3.5 0h1m1 0h1m-57 .5h1m-.5 0h1m0 0h1m1 0h1m.5 0h1m-.5 0h1m-.5 0h1m.5 0h1m-.5 0h1m-.5 0h1m.5 0h1m.5 0h1m0 0h1m0 0h1m-.5 0h1m.5 0h1m4 0h1m28.5 0h1m2.5 0h1m0 0h1m-54 .5h1m.5 0h1m2 0h1m-.5 0h1m.5 0h1m.5 0h1m-.5 0h1m-.5 0h1m.5 0h1m-.5 0h1m2 0h1m16.5 0h1m7 0h1m.5 0h1m7 0h1m2.5 0h1m2 0h1m-56 .5h1m0 0h1m0 0h1m.5 0h1m-.5 0h1m-.5 0h1m0 0h1m-.5 0h1m1 0h1m-.5 0h1m-.5 0h1m.5 0h1m-.5 0h1m2.5 0h1m16 0h1m11 0h1m0 0h1m1.5 0h1m2 0h1m1 0h1m-55.5 .5h1m2 0h1m1.5 0h1m0 0h1m-.5 0h1m0 0h1m-.5 0h1m.5 0h1m-.5 0h1m0 0h1m2.5 0h1m-.5 0h1m.5 0h1m32 0h1m.5 0h1m2 0h1m-54.5 .5h1m0 0h1m2 0h1m-.5 0h1m-.5 0h1m1 0h1m-.5 0h1m1.5 0h1m0 0h1m-.5 0h1m.5 0h1m-.5 0h1m.5 0h1m15 0h1m14.5 0h1m3 0h1m2 0h1m1.5 0h1m-58.5 .5h1m3.5 0h1m-.5 0h1m-.5 0h1m2 0h1m-.5 0h1m1.5 0h1m-.5 0h1m0 0h1m.5 0h1m.5 0h1m7 0h1m30.5 0h1m-54 .5h1m-.5 0h1m-.5 0h1m-.5 0h1m0 0h1m.5 0h1m-.5 0h1m-.5 0h1m-.5 0h1m-.5 0h1m-.5 0h1m.5 0h1m.5 0h1m0 0h1m-.5 0h1m.5 0h1m1 0h1m13 0h1m-.5 0h1m4.5 0h1m6 0h1m6.5 0h1m4.5 0h1m3 0h1m.5 0h1m-60 .5h1m-.5 0h1m1 0h1m0 0h1m-.5 0h1m-.5 0h1m-.5 0h1m-.5 0h1m1 0h1m.5 0h1m.5 0h1m27 0h1m.5 0h1m0 0h1m5.5 0h1m6.5 0h1m-63.5 .5h1m3.5 0h1m2 0h1m1 0h1m.5 0h1m-.5 0h1m-.5 0h1m0 0h1m1 0h1m-.5 0h1m-.5 0h1m0 0h1m36 0h1m-.5 0h1m1.5 0h1m4.5 0h1m-56 .5h1m1 0h1m1.5 0h1m0 0h1m1 0h1m-.5 0h1m-.5 0h1m0 0h1m-.5 0h1m-.5 0h1m-.5 0h1m19 0h1m14.5 0h1m1.5 0h1m-48 .5h1m1.5 0h1m2 0h1m1.5 0h1m0 0h1m2 0h1m9 0h1m9 0h1m0 0h1m2.5 0h1m5 0h1m-.5 0h1m6.5 0h1m-.5 0h1m1.5 0h1m0 0h1m-.5 0h1m-58.5 .5h1m0 0h1m1 0h1m0 0h1m-.5 0h1m.5 0h1m1 0h1m-.5 0h1m-.5 0h1m.5 0h1m-.5 0h1m1 0h1m1.5 0h1m12.5 0h1m-.5 0h1m0 0h1m.5 0h1m2.5 0h1m12.5 0h1m2 0h1m2 0h1m-57.5 .5h1m1 0h1m-.5 0h1m0 0h1m-.5 0h1m-.5 0h1m-.5 0h1m1 0h1m2.5 0h1m-.5 0h1m0 0h1m11.5 0h1m0 0h1m6 0h1m0 0h1m13.5 0h1m2 0h1m3.5 0h1m-.5 0h1m-56.5 .5h1m-.5 0h1m.5 0h1m.5 0h1m.5 0h1m0 0h1m0 0h1m1 0h1m-.5 0h1m-.5 0h1m-.5 0h1m-.5 0h1m.5 0h1m0 0h1m0 0h1m1 0h1m1.5 0h1m8 0h1m.5 0h1m5.5 0h1m1 0h1m4.5 0h1m6.5 0h1m-.5 0h1m2.5 0h1m-61 .5h1m3 0h1m2 0h1m-.5 0h1m0 0h1m-.5 0h1m-.5 0h1m-.5 0h1m.5 0h1m-.5 0h1m1 0h1m-.5 0h1m.5 0h1m0 0h1m0 0h1m11.5 0h1m7 0h1m4 0h1m-.5 0h1m0 0h1m.5 0h1m4 0h1m4 0h1m4 0h1m-54 .5h1m.5 0h1m-.5 0h1m-.5 0h1m-.5 0h1m1.5 0h1m-.5 0h1m.5 0h1m1 0h1m-.5 0h1m1.5 0h1m.5 0h1m3.5 0h1m26.5 0h1m-.5 0h1m-.5 0h1m5 0h1m0 0h1m-58 .5h1m2 0h1m-.5 0h1m.5 0h1m0 0h1m1.5 0h1m2 0h1m2.5 0h1m2 0h1m7 0h1m13 0h1m3.5 0h1m2 0h1m2 0h1m-.5 0h1m3 0h1m-.5 0h1m4 0h1m-62.5 .5h1m3 0h1m1 0h1m.5 0h1m1.5 0h1m-.5 0h1m0 0h1m.5 0h1m.5 0h1m25 0h1m13.5 0h1m2 0h1m-61.5 .5h1m1 0h1m3 0h1m1 0h1m-.5 0h1m0 0h1m2 0h1m0 0h1m.5 0h1m-.5 0h1m0 0h1m-.5 0h1m7 0h1m26 0h1m.5 0h1m2 0h1m.5 0h1m1 0h1m-56 .5h1m.5 0h1m-.5 0h1m1 0h1m0 0h1m1 0h1m-.5 0h1m1 0h1m2 0h1m1.5 0h1m6.5 0h1m20 0h1m3.5 0h1m-.5 0h1m2 0h1m-.5 0h1m.5 0h1m-59 .5h1m1 0h1m2 0h1m-.5 0h1m-.5 0h1m1 0h1m-.5 0h1m-.5 0h1m-.5 0h1m1 0h1m1 0h1m2 0h1m-.5 0h1m7.5 0h1m5.5 0h1m16.5 0h1m-.5 0h1m-.5 0h1m.5 0h1m-.5 0h1m0 0h1m-.5 0h1m-.5 0h1m0 0h1m-.5 0h1m1 0h1m.5 0h1m-55.5 .5h1m1 0h1m-.5 0h1m-.5 0h1m-.5 0h1m-.5 0h1m-.5 0h1m1 0h1m-.5 0h1m1 0h1m2 0h1m.5 0h1m4.5 0h1m8 0h1m8.5 0h1m5.5 0h1m3.5 0h1m0 0h1m.5 0h1m0 0h1m0 0h1m0 0h1m-55.5 .5h1m.5 0h1m-.5 0h1m-.5 0h1m-.5 0h1m-.5 0h1m-.5 0h1m-.5 0h1m2 0h1m5.5 0h1m16 0h1m11 0h1m5 0h1m.5 0h1m-.5 0h1m-.5 0h1m-55 .5h1m4.5 0h1m3.5 0h1m0 0h1m-.5 0h1m2 0h1m-.5 0h1m5 0h1m2.5 0h1m3.5 0h1m16 0h1m1 0h1m0 0h1m.5 0h1m-.5 0h1m1 0h1m0 0h1m1 0h1m0 0h1m-61 .5h1m1.5 0h1m2.5 0h1m0 0h1m-.5 0h1m-.5 0h1m0 0h1m-.5 0h1m-.5 0h1m0 0h1m.5 0h1m0 0h1m0 0h1m.5 0h1m.5 0h1m1 0h1m15 0h1m2.5 0h1m10.5 0h1m.5 0h1m1 0h1m-.5 0h1m-.5 0h1m0 0h1m2.5 0h1m-61 .5h1m3.5 0h1m2 0h1m0 0h1m-.5 0h1m0 0h1m-.5 0h1m-.5 0h1m2 0h1m-.5 0h1m-.5 0h1m-.5 0h1m-.5 0h1m1.5 0h1m14 0h1m3 0h1m7 0h1m4 0h1m-.5 0h1m0 0h1m2 0h1m0 0h1m3.5 0h1m.5 0h1m3.5 0h1m-66.5 .5h1m1 0h1m2 0h1m2.5 0h1m-.5 0h1m-.5 0h1m1.5 0h1m-.5 0h1m1 0h1m-.5 0h1m-.5 0h1m-.5 0h1m-.5 0h1m13 0h1m3 0h1m12.5 0h1m-.5 0h1m4.5 0h1m0 0h1m.5 0h1m1.5 0h1m-.5 0h1m-62 .5h1m3 0h1m0 0h1m-.5 0h1m.5 0h1m1 0h1m-.5 0h1m-.5 0h1m-.5 0h1m0 0h1m2.5 0h1m0 0h1m-.5 0h1m0 0h1m.5 0h1m1.5 0h1m28 0h1m.5 0h1m1.5 0h1m-.5 0h1m0 0h1m0 0h1m3 0h1m-.5 0h1m-58 .5h1m1 0h1m-.5 0h1m-.5 0h1m0 0h1m0 0h1m-.5 0h1m.5 0h1m-.5 0h1m1.5 0h1m1 0h1m2 0h1m-.5 0h1m1 0h1m2.5 0h1m7 0h1m-.5 0h1m11.5 0h1m3 0h1m-.5 0h1m0 0h1m.5 0h1m-.5 0h1m-.5 0h1m-.5 0h1m-.5 0h1m-52 .5h1m.5 0h1m-.5 0h1m-.5 0h1m-.5 0h1m0 0h1m2 0h1m1 0h1m0 0h1m-.5 0h1m.5 0h1m-.5 0h1m.5 0h1m0 0h1m20 0h1m5 0h1m3 0h1m-.5 0h1m-.5 0h1m0 0h1m-.5 0h1m-.5 0h1m1.5 0h1m1.5 0h1m-.5 0h1m1.5 0h1m-59 .5h1m2 0h1m2.5 0h1m.5 0h1m.5 0h1m-.5 0h1m-.5 0h1m1 0h1m0 0h1m0 0h1m10.5 0h1m.5 0h1m9 0h1m-.5 0h1m6 0h1m-.5 0h1m1 0h1m2 0h1m-.5 0h1m-.5 0h1m0 0h1m-.5 0h1m-.5 0h1m.5 0h1m-.5 0h1m0 0h1m4 0h1m-61.5 .5h1m1 0h1m.5 0h1m.5 0h1m0 0h1m0 0h1m-.5 0h1m.5 0h1m0 0h1m-.5 0h1m1 0h1m0 0h1m.5 0h1m11 0h1m6.5 0h1m6 0h1m4 0h1m0 0h1m0 0h1m1.5 0h1m-.5 0h1m.5 0h1m-.5 0h1m2.5 0h1m-64 .5h1m5.5 0h1m0 0h1m0 0h1m-.5 0h1m-.5 0h1m.5 0h1m-.5 0h1m-.5 0h1m0 0h1m-.5 0h1m0 0h1m-.5 0h1m0 0h1m0 0h1m-.5 0h1m-.5 0h1m-.5 0h1m28 0h1m5 0h1m0 0h1m0 0h1m.5 0h1m1.5 0h1m.5 0h1m1 0h1m-60.5 .5h1m2 0h1m-.5 0h1m.5 0h1m1 0h1m-.5 0h1m-.5 0h1m0 0h1m-.5 0h1m.5 0h1m-.5 0h1m2 0h1m-.5 0h1m.5 0h1m13.5 0h1m5 0h1m6.5 0h1m4.5 0h1m2 0h1m-.5 0h1m-.5 0h1m0 0h1m0 0h1m-52.5 .5h1m1 0h1m-.5 0h1m1 0h1m-.5 0h1m1.5 0h1m.5 0h1m-.5 0h1m1.5 0h1m0 0h1m2 0h1m11.5 0h1m3 0h1m4 0h1m.5 0h1m4 0h1m0 0h1m-.5 0h1m1.5 0h1m0 0h1m-.5 0h1m-.5 0h1m1 0h1m.5 0h1m-.5 0h1m0 0h1m-54 .5h1m-.5 0h1m-.5 0h1m0 0h1m-.5 0h1m-.5 0h1m-.5 0h1m0 0h1m0 0h1m-.5 0h1m0 0h1m0 0h1m1.5 0h1m8 0h1m5 0h1m5 0h1m6 0h1m1.5 0h1m2.5 0h1m1 0h1m-.5 0h1m0 0h1m0 0h1m-.5 0h1m-.5 0h1m1 0h1m-.5 0h1m-56.5 .5h1m1 0h1m-.5 0h1m-.5 0h1m-.5 0h1m-.5 0h1m-.5 0h1m0 0h1m-.5 0h1m-.5 0h1m-.5 0h1m.5 0h1m-.5 0h1m-.5 0h1m-.5 0h1m-.5 0h1m-.5 0h1m1.5 0h1m26.5 0h1m4 0h1m1.5 0h1m1.5 0h1m-.5 0h1m-.5 0h1m3 0h1m-.5 0h1m.5 0h1m-60 .5h1m.5 0h1m-.5 0h1m1.5 0h1m-.5 0h1m-.5 0h1m-.5 0h1m-.5 0h1m-.5 0h1m-.5 0h1m0 0h1m-.5 0h1m0 0h1m-.5 0h1m0 0h1m1 0h1m-.5 0h1m-.5 0h1m8.5 0h1m0 0h1m17 0h1m3 0h1m0 0h1m-.5 0h1m.5 0h1m-.5 0h1m-.5 0h1m.5 0h1m-.5 0h1m4.5 0h1m-57 .5h1m2 0h1m-.5 0h1m1 0h1m-.5 0h1m0 0h1m1 0h1m-.5 0h1m.5 0h1m10 0h1m6 0h1m2 0h1m5.5 0h1m3.5 0h1m-.5 0h1m-.5 0h1m-.5 0h1m1 0h1m-.5 0h1m1.5 0h1m0 0h1m-.5 0h1m.5 0h1m-60 .5h1m.5 0h1m1 0h1m0 0h1m-.5 0h1m.5 0h1m0 0h1m.5 0h1m0 0h1m-.5 0h1m0 0h1m-.5 0h1m-.5 0h1m-.5 0h1m-.5 0h1m0 0h1m-.5 0h1m1 0h1m.5 0h1m8.5 0h1m21 0h1m0 0h1m-.5 0h1m-.5 0h1m-.5 0h1m-.5 0h1m0 0h1m1.5 0h1m0 0h1m1 0h1m1 0h1m-58.5 .5h1m2.5 0h1m-.5 0h1m0 0h1m-.5 0h1m0 0h1m.5 0h1m0 0h1m-.5 0h1m-.5 0h1m0 0h1m1.5 0h1m11 0h1m3 0h1m.5 0h1m10.5 0h1m.5 0h1m-.5 0h1m-.5 0h1m0 0h1m0 0h1m-.5 0h1m0 0h1m0 0h1m-.5 0h1m-.5 0h1m0 0h1m-.5 0h1m1 0h1m0 0h1m2 0h1m-63.5 .5h1m2.5 0h1m.5 0h1m1 0h1m-.5 0h1m1 0h1m0 0h1m0 0h1m-.5 0h1m-.5 0h1m-.5 0h1m-.5 0h1m-.5 0h1m-.5 0h1m4 0h1m3 0h1m8 0h1m3.5 0h1m7 0h1m3 0h1m1 0h1m-.5 0h1m0 0h1m-.5 0h1m1 0h1m-.5 0h1m-.5 0h1m0 0h1m.5 0h1m.5 0h1m0 0h1m-.5 0h1m-56.5 .5h1m2.5 0h1m-.5 0h1m0 0h1m1 0h1m0 0h1m-.5 0h1m0 0h1m-.5 0h1m1 0h1m0 0h1m.5 0h1m5 0h1m10 0h1m13 0h1m0 0h1m-.5 0h1m0 0h1m0 0h1m0 0h1m0 0h1m.5 0h1m-.5 0h1m0 0h1m.5 0h1m-62.5 .5h1m.5 0h1m4 0h1m-.5 0h1m-.5 0h1m-.5 0h1m-.5 0h1m-.5 0h1m1.5 0h1m0 0h1m-.5 0h1m-.5 0h1m-.5 0h1m-.5 0h1m-.5 0h1m-.5 0h1m2 0h1m0 0h1m14 0h1m2.5 0h1m7.5 0h1m0 0h1m1 0h1m-.5 0h1m-.5 0h1m0 0h1m.5 0h1m-.5 0h1m-.5 0h1m0 0h1m-.5 0h1m2 0h1m-.5 0h1m-55.5 .5h1m.5 0h1m-.5 0h1m1 0h1m0 0h1m-.5 0h1m-.5 0h1m0 0h1m1 0h1m-.5 0h1m-.5 0h1m.5 0h1m-.5 0h1m1 0h1m14 0h1m.5 0h1m-.5 0h1m16.5 0h1m0 0h1m-.5 0h1m-.5 0h1m5 0h1m-.5 0h1m0 0h1m-62.5 .5h1m0 0h1m.5 0h1m5 0h1m-.5 0h1m0 0h1m0 0h1m0 0h1m-.5 0h1m-.5 0h1m-.5 0h1m1.5 0h1m3 0h1m14.5 0h1m2 0h1m4.5 0h1m4 0h1m0 0h1m0 0h1m-.5 0h1m0 0h1m-.5 0h1m-.5 0h1m-.5 0h1m-.5 0h1m1 0h1m-.5 0h1m0 0h1m.5 0h1m-.5 0h1m-65.5 .5h1m2.5 0h1m1.5 0h1m2 0h1m2 0h1m1 0h1m-.5 0h1m-.5 0h1m.5 0h1m-.5 0h1m0 0h1m2 0h1m34 0h1m.5 0h1m0 0h1m2 0h1m-.5 0h1m-.5 0h1m-.5 0h1m1 0h1m-59.5 .5h1m1.5 0h1m.5 0h1m-.5 0h1m3.5 0h1m1.5 0h1m0 0h1m3 0h1m28.5 0h1m-.5 0h1m1 0h1m-.5 0h1m-.5 0h1m-.5 0h1m-.5 0h1m1 0h1m.5 0h1m.5 0h1m-.5 0h1m-.5 0h1m0 0h1m.5 0h1m1 0h1m-59 .5h1m.5 0h1m0 0h1m2.5 0h1m1.5 0h1m-.5 0h1m-.5 0h1m2 0h1m-.5 0h1m-.5 0h1m9.5 0h1m14.5 0h1m6.5 0h1m5 0h1m1 0h1m-58.5 .5h1m0 0h1m1 0h1m0 0h1m1 0h1m-.5 0h1m-.5 0h1m.5 0h1m-.5 0h1m.5 0h1m1.5 0h1m-.5 0h1m1 0h1m2 0h1m10 0h1m14 0h1m4 0h1m-.5 0h1m.5 0h1m0 0h1m3.5 0h1m-.5 0h1m-.5 0h1m-59.5 .5h1m1.5 0h1m-.5 0h1m-.5 0h1m0 0h1m-.5 0h1m-.5 0h1m.5 0h1m-.5 0h1m-.5 0h1m-.5 0h1m-.5 0h1m0 0h1m-.5 0h1m0 0h1m0 0h1m-.5 0h1m-.5 0h1m-.5 0h1m-.5 0h1m0 0h1m2.5 0h1m11.5 0h1m10 0h1m2.5 0h1m-.5 0h1m0 0h1m2.5 0h1m-.5 0h1m0 0h1m-.5 0h1m.5 0h1m-.5 0h1m.5 0h1m0 0h1m4.5 0h1m-68.5 .5h1m4 0h1m1 0h1m1 0h1m0 0h1m.5 0h1m.5 0h1m1 0h1m.5 0h1m-.5 0h1m-.5 0h1m-.5 0h1m-.5 0h1m-.5 0h1m3.5 0h1m22 0h1m3.5 0h1m0 0h1m2 0h1m0 0h1m0 0h1m1 0h1m-.5 0h1m3.5 0h1m-62.5 .5h1m-.5 0h1m0 0h1m-.5 0h1m-.5 0h1m0 0h1m2 0h1m2 0h1m.5 0h1m-.5 0h1m0 0h1m0 0h1m-.5 0h1m0 0h1m0 0h1m0 0h1m0 0h1m2 0h1m29.5 0h1m-.5 0h1m-.5 0h1m-.5 0h1m3 0h1m1.5 0h1m2 0h1m-62.5 .5h1m3 0h1m3 0h1m.5 0h1m-.5 0h1m-.5 0h1m-.5 0h1m1 0h1m-.5 0h1m5.5 0h1m26 0h1m.5 0h1m0 0h1m.5 0h1m.5 0h1m0 0h1m3 0h1m1.5 0h1m0 0h1m-61 .5h1m2 0h1m1 0h1m-.5 0h1m-.5 0h1m-.5 0h1m-.5 0h1m-.5 0h1m0 0h1m3 0h1m-.5 0h1m-.5 0h1m10.5 0h1m1.5 0h1m14.5 0h1m2 0h1m-.5 0h1m.5 0h1m0 0h1m0 0h1m4 0h1m-.5 0h1m1.5 0h1m-66.5 .5h1m4 0h1m1.5 0h1m0 0h1m1 0h1m1 0h1m-.5 0h1m-.5 0h1m-.5 0h1m1 0h1m-.5 0h1m-.5 0h1m1 0h1m-.5 0h1m-.5 0h1m1.5 0h1m1 0h1m29 0h1m0 0h1m7 0h1m0 0h1m4 0h1m-65.5 .5h1m-.5 0h1m3 0h1m.5 0h1m0 0h1m0 0h1m-.5 0h1m0 0h1m.5 0h1m.5 0h1m1 0h1m-.5 0h1m-.5 0h1m10 0h1m1 0h1m1 0h1m.5 0h1m5 0h1m.5 0h1m9.5 0h1m-.5 0h1m-.5 0h1m-.5 0h1m.5 0h1m-.5 0h1m0 0h1m-.5 0h1m1 0h1m1.5 0h1m1 0h1m-58 .5h1m3 0h1m-.5 0h1m-.5 0h1m0 0h1m0 0h1m0 0h1m.5 0h1m1.5 0h1m8.5 0h1m8.5 0h1m17 0h1m-.5 0h1m-.5 0h1m-.5 0h1m.5 0h1m-.5 0h1m.5 0h1m3 0h1m-.5 0h1m-63.5 .5h1m3.5 0h1m.5 0h1m0 0h1m.5 0h1m0 0h1m0 0h1m0 0h1m-.5 0h1m-.5 0h1m.5 0h1m-.5 0h1m0 0h1m-.5 0h1m1 0h1m2.5 0h1m0 0h1m1.5 0h1m10.5 0h1m7 0h1m7.5 0h1m0 0h1m3.5 0h1m-.5 0h1m2.5 0h1m-67 .5h1m6 0h1m1 0h1m-.5 0h1m-.5 0h1m.5 0h1m1 0h1m.5 0h1m-.5 0h1m-.5 0h1m0 0h1m-.5 0h1m0 0h1m-.5 0h1m7 0h1m17 0h1m0 0h1m4.5 0h1m3 0h1m0 0h1m.5 0h1m.5 0h1m.5 0h1m-.5 0h1m-57 .5h1m2.5 0h1m0 0h1m2 0h1m2 0h1m0 0h1m0 0h1m1.5 0h1m.5 0h1m3 0h1m8 0h1m9 0h1m8 0h1m2 0h1m2.5 0h1m1.5 0h1m2.5 0h1m-61 .5h1m1 0h1m-.5 0h1m.5 0h1m-.5 0h1m.5 0h1m2 0h1m-.5 0h1m12 0h1m.5 0h1m10.5 0h1m3.5 0h1m4 0h1m0 0h1m-.5 0h1m-.5 0h1m-.5 0h1m-.5 0h1m2 0h1m2 0h1m0 0h1m-59 .5h1m3.5 0h1m-.5 0h1m.5 0h1m0 0h1m-.5 0h1m1 0h1m-.5 0h1m0 0h1m-.5 0h1m-.5 0h1m0 0h1m0 0h1m18.5 0h1m-.5 0h1m10.5 0h1m3.5 0h1m.5 0h1m.5 0h1m1.5 0h1m-.5 0h1m.5 0h1m1.5 0h1m-59.5 .5h1m1 0h1m0 0h1m3.5 0h1m0 0h1m0 0h1m3.5 0h1m3 0h1m22 0h1m6 0h1m-.5 0h1m1.5 0h1m0 0h1m-.5 0h1m-.5 0h1m.5 0h1m0 0h1m.5 0h1m0 0h1m-57.5 .5h1m1.5 0h1m-.5 0h1m0 0h1m-.5 0h1m1 0h1m.5 0h1m0 0h1m0 0h1m-.5 0h1m31 0h1m1 0h1m1.5 0h1m-.5 0h1m.5 0h1m0 0h1m0 0h1m.5 0h1m-.5 0h1m-63.5 .5h1m5.5 0h1m5 0h1m1 0h1m.5 0h1m1 0h1m0 0h1m.5 0h1m0 0h1m-.5 0h1m27.5 0h1m1.5 0h1m3.5 0h1m.5 0h1m-.5 0h1m0 0h1m1 0h1m.5 0h1m0 0h1m2 0h1m-.5 0h1m-61 .5h1m.5 0h1m1.5 0h1m2.5 0h1m0 0h1m-.5 0h1m.5 0h1m6.5 0h1m34 0h1m1.5 0h1m1.5 0h1m-.5 0h1m-57 .5h1m1 0h1m3.5 0h1m.5 0h1m0 0h1m29 0h1m5 0h1m-.5 0h1m-.5 0h1m-.5 0h1m0 0h1m.5 0h1m0 0h1m1.5 0h1m0 0h1m-65 .5h1m6.5 0h1m.5 0h1m-.5 0h1m0 0h1m.5 0h1m2 0h1m-.5 0h1m.5 0h1m-.5 0h1m0 0h1m0 0h1m-.5 0h1m-.5 0h1m1.5 0h1m2 0h1m22.5 0h1m2 0h1m-.5 0h1m.5 0h1m1.5 0h1m-.5 0h1m0 0h1m.5 0h1m0 0h1m0 0h1m-.5 0h1m.5 0h1m-.5 0h1m-.5 0h1m1.5 0h1m-61.5 .5h1m0 0h1m2.5 0h1m0 0h1m1 0h1m-.5 0h1m-.5 0h1m-.5 0h1m4.5 0h1m4.5 0h1m20.5 0h1m-.5 0h1m4 0h1m0 0h1m.5 0h1m-.5 0h1m-.5 0h1m-.5 0h1m-.5 0h1m1.5 0h1m.5 0h1m-.5 0h1m0 0h1m-.5 0h1m-.5 0h1m-60 .5h1m-.5 0h1m-.5 0h1m2 0h1m1 0h1m-.5 0h1m-.5 0h1m-.5 0h1m-.5 0h1m.5 0h1m1 0h1m.5 0h1m-.5 0h1m-.5 0h1m-.5 0h1m-.5 0h1m7.5 0h1m3.5 0h1m8 0h1m3 0h1m1.5 0h1m1 0h1m4 0h1m0 0h1m0 0h1m0 0h1m-.5 0h1m-.5 0h1m.5 0h1m0 0h1m.5 0h1m.5 0h1m1.5 0h1m-66 .5h1m1 0h1m.5 0h1m-.5 0h1m3 0h1m0 0h1m-.5 0h1m.5 0h1m0 0h1m26.5 0h1m5.5 0h1m0 0h1m0 0h1m1 0h1m0 0h1m-.5 0h1m0 0h1m.5 0h1m-.5 0h1m-.5 0h1m-.5 0h1m-.5 0h1m0 0h1m-.5 0h1m.5 0h1m2 0h1m0 0h1m1 0h1m7 0h1m-70.5 .5h1m-.5 0h1m0 0h1m.5 0h1m-.5 0h1m1 0h1m-.5 0h1m-.5 0h1m0 0h1m-.5 0h1m0 0h1m0 0h1m-.5 0h1m.5 0h1m.5 0h1m1 0h1m0 0h1m0 0h1m20.5 0h1m.5 0h1m2 0h1m0 0h1m0 0h1m0 0h1m2 0h1m1.5 0h1m1 0h1m2 0h1m2.5 0h1m3 0h1m-67.5 .5h1m.5 0h1m2 0h1m-.5 0h1m0 0h1m0 0h1m-.5 0h1m-.5 0h1m0 0h1m-.5 0h1m-.5 0h1m-.5 0h1m0 0h1m-.5 0h1m.5 0h1m0 0h1m-.5 0h1m.5 0h1m1 0h1m-.5 0h1m.5 0h1m16 0h1m-.5 0h1m-.5 0h1m3 0h1m1 0h1m7.5 0h1m-.5 0h1m1.5 0h1m-.5 0h1m-.5 0h1m0 0h1m-.5 0h1m-.5 0h1m2.5 0h1m0 0h1m-.5 0h1m0 0h1m3 0h1m-72.5 .5h1m3.5 0h1m-.5 0h1m2.5 0h1m.5 0h1m-.5 0h1m-.5 0h1m0 0h1m0 0h1m0 0h1m-.5 0h1m0 0h1m-.5 0h1m-.5 0h1m7 0h1m19 0h1m0 0h1m1 0h1m-.5 0h1m0 0h1m0 0h1m0 0h1m-.5 0h1m0 0h1m-.5 0h1m.5 0h1m.5 0h1m0 0h1m0 0h1m0 0h1m-.5 0h1m0 0h1m2 0h1m3 0h1m-69 .5h1m0 0h1m2.5 0h1m-.5 0h1m0 0h1m1.5 0h1m0 0h1m1 0h1m-.5 0h1m1 0h1m.5 0h1m1 0h1m.5 0h1m0 0h1m-.5 0h1m18 0h1m1 0h1m3.5 0h1m1 0h1m2.5 0h1m-.5 0h1m0 0h1m0 0h1m.5 0h1m-.5 0h1m-.5 0h1m-.5 0h1m-.5 0h1m-.5 0h1m1 0h1m0 0h1m-.5 0h1m-.5 0h1m-.5 0h1m.5 0h1m-.5 0h1m-65 .5h1m0 0h1m3.5 0h1m1.5 0h1m0 0h1m-.5 0h1m-.5 0h1m-.5 0h1m0 0h1m0 0h1m-.5 0h1m-.5 0h1m-.5 0h1m.5 0h1m-.5 0h1m-.5 0h1m2 0h1m.5 0h1m11.5 0h1m.5 0h1m2.5 0h1m2.5 0h1m.5 0h1m0 0h1m3 0h1m.5 0h1m.5 0h1m-.5 0h1m-.5 0h1m-.5 0h1m-.5 0h1m-.5 0h1m-.5 0h1m.5 0h1m-.5 0h1m0 0h1m-.5 0h1m.5 0h1m0 0h1m.5 0h1m.5 0h1m1 0h1m-68 .5h1m1 0h1m.5 0h1m0 0h1m1 0h1m1.5 0h1m5.5 0h1m-.5 0h1m1.5 0h1m-.5 0h1m2 0h1m8 0h1m5 0h1m.5 0h1m1 0h1m2 0h1m-.5 0h1m-.5 0h1m.5 0h1m-.5 0h1m0 0h1m-.5 0h1m2 0h1m-.5 0h1m-.5 0h1m0 0h1m.5 0h1m-.5 0h1m4 0h1m.5 0h1m.5 0h1m-.5 0h1m0 0h1m2 0h1m-73 .5h1m5 0h1m-.5 0h1m2 0h1m-.5 0h1m-.5 0h1m-.5 0h1m.5 0h1m10 0h1m1 0h1m-.5 0h1m0 0h1m0 0h1m15 0h1m7 0h1m0 0h1m1 0h1m.5 0h1m.5 0h1m-.5 0h1m-.5 0h1m6 0h1m.5 0h1m0 0h1m2 0h1m-.5 0h1m1 0h1m0 0h1m-70.5 .5h1m1 0h1m-.5 0h1m-.5 0h1m-.5 0h1m.5 0h1m11 0h1m.5 0h1m-.5 0h1m-.5 0h1m-.5 0h1m0 0h1m20.5 0h1m-.5 0h1m2.5 0h1m0 0h1m-.5 0h1m.5 0h1m0 0h1m-.5 0h1m.5 0h1m7.5 0h1m-.5 0h1m0 0h1m.5 0h1m1.5 0h1m-64 .5h1m.5 0h1m0 0h1m10.5 0h1m4 0h1m1 0h1m8.5 0h1m-.5 0h1m6 0h1m.5 0h1m-.5 0h1m0 0h1m-.5 0h1m.5 0h1m1 0h1m0 0h1m-.5 0h1m-.5 0h1m-.5 0h1m-.5 0h1m9 0h1m-.5 0h1m1 0h1m1.5 0h1m5 0h1m-79 .5h1m.5 0h1m2.5 0h1m-.5 0h1m-.5 0h1m-.5 0h1m3.5 0h1m12 0h1m-.5 0h1m2 0h1m1 0h1m-.5 0h1m-.5 0h1m11 0h1m0 0h1m.5 0h1m2.5 0h1m2 0h1m-.5 0h1m-.5 0h1m-.5 0h1m1.5 0h1m-.5 0h1m0 0h1m-.5 0h1m9 0h1m0 0h1m-.5 0h1m-.5 0h1m-.5 0h1m.5 0h1m-67 .5h1m-.5 0h1m0 0h1m.5 0h1m-.5 0h1m0 0h1m12.5 0h1m1 0h1m13 0h1m.5 0h1m1.5 0h1m1 0h1m0 0h1m-.5 0h1m-.5 0h1m0 0h1m1 0h1m1.5 0h1m0 0h1m-.5 0h1m.5 0h1m0 0h1m10 0h1m4 0h1m3.5 0h1m-75 .5h1m1.5 0h1m.5 0h1m.5 0h1m-.5 0h1m-.5 0h1m-.5 0h1m12 0h1m0 0h1m-.5 0h1m-.5 0h1m4.5 0h1m12.5 0h1m1.5 0h1m-.5 0h1m2 0h1m-.5 0h1m-.5 0h1m-.5 0h1m0 0h1m.5 0h1m0 0h1m-.5 0h1m-.5 0h1m-.5 0h1m11.5 0h1m-66.5 .5h1m1.5 0h1m1 0h1m0 0h1m13 0h1m0 0h1m15.5 0h1m4.5 0h1m1.5 0h1m0 0h1m0 0h1m1 0h1m-.5 0h1m1 0h1m0 0h1m-.5 0h1m10 0h1m0 0h1m-.5 0h1m1 0h1m0 0h1m-.5 0h1m-72.5 .5h1m7 0h1m0 0h1m12 0h1m-.5 0h1m-.5 0h1m-.5 0h1m0 0h1m-.5 0h1m1.5 0h1m1 0h1m15 0h1m1.5 0h1m-.5 0h1m0 0h1m-.5 0h1m-.5 0h1m-.5 0h1m.5 0h1m-.5 0h1m-.5 0h1m-.5 0h1m0 0h1m10 0h1m-.5 0h1m2 0h1m-.5 0h1m9.5 0h1m-77.5 .5h1m2.5 0h1m0 0h1m-.5 0h1m12 0h1m-.5 0h1m-.5 0h1m0 0h1m-.5 0h1m1 0h1m-.5 0h1m20 0h1m-.5 0h1m.5 0h1m-.5 0h1m0 0h1m-.5 0h1m0 0h1m-.5 0h1m-.5 0h1m-.5 0h1m11.5 0h1m1 0h1m-.5 0h1m-.5 0h1m-.5 0h1m2.5 0h1m1 0h1m-72.5 .5h1m.5 0h1m1 0h1m13 0h1m8.5 0h1m10.5 0h1m2.5 0h1m0 0h1m2.5 0h1m-.5 0h1m-.5 0h1m-.5 0h1m-.5 0h1m-.5 0h1m-.5 0h1m0 0h1m-.5 0h1m-.5 0h1m-.5 0h1m8 0h1m0 0h1m-.5 0h1m-.5 0h1m.5 0h1m-.5 0h1m1 0h1m-69.5 .5h1m3.5 0h1m0 0h1m-.5 0h1m12.5 0h1m-.5 0h1m-.5 0h1m1.5 0h1m16.5 0h1m1 0h1m-.5 0h1m-.5 0h1m2 0h1m-.5 0h1m-.5 0h1m-.5 0h1m0 0h1m0 0h1m.5 0h1m-.5 0h1m0 0h1m-.5 0h1m8 0h1m0 0h1m2 0h1m-.5 0h1m0 0h1m.5 0h1m0 0h1m0 0h1m0 0h1m-80.5 .5h1m4 0h1m2 0h1m4 0h1m-.5 0h1m10.5 0h1m-.5 0h1m-.5 0h1m-.5 0h1m-.5 0h1m-.5 0h1m1.5 0h1m1 0h1m12 0h1m5.5 0h1m-.5 0h1m-.5 0h1m-.5 0h1m1 0h1m.5 0h1m-.5 0h1m-.5 0h1m-.5 0h1m-.5 0h1m-.5 0h1m0 0h1m-.5 0h1m-.5 0h1m-.5 0h1m7 0h1m-.5 0h1m-.5 0h1m1 0h1m10 0h1m-77.5 .5h1m5 0h1m-.5 0h1m-.5 0h1m.5 0h1m7.5 0h1m0 0h1m-.5 0h1m-.5 0h1m-.5 0h1m.5 0h1m2.5 0h1m-.5 0h1m-.5 0h1m11 0h1m.5 0h1m1.5 0h1m.5 0h1m-.5 0h1m-.5 0h1m.5 0h1m.5 0h1m-.5 0h1m0 0h1m1 0h1m-.5 0h1m-.5 0h1m0 0h1m0 0h1m0 0h1m-.5 0h1m5 0h1m1 0h1m-.5 0h1m-.5 0h1m0 0h1m-.5 0h1m0 0h1m.5 0h1m.5 0h1m-65.5 .5h1m-.5 0h1m0 0h1m0 0h1m-.5 0h1m-.5 0h1m6 0h1m-.5 0h1m-.5 0h1m-.5 0h1m.5 0h1m1.5 0h1m-.5 0h1m3 0h1m12.5 0h1m5 0h1m3 0h1m-.5 0h1m-.5 0h1m2 0h1m0 0h1m-.5 0h1m1 0h1m3.5 0h1m0 0h1m0 0h1m0 0h1m-.5 0h1m1 0h1m.5 0h1m.5 0h1m-66.5 .5h1m2 0h1m-.5 0h1m0 0h1m-.5 0h1m-.5 0h1m-.5 0h1m.5 0h1m.5 0h1m-.5 0h1m-.5 0h1m-.5 0h1m-.5 0h1m.5 0h1m1.5 0h1m2.5 0h1m.5 0h1m-.5 0h1m.5 0h1m8.5 0h1m5.5 0h1m1 0h1m-.5 0h1m.5 0h1m0 0h1m1.5 0h1m-.5 0h1m-.5 0h1m0 0h1m0 0h1m0 0h1m0 0h1m0 0h1m-.5 0h1m-.5 0h1m-.5 0h1m0 0h1m-.5 0h1m-.5 0h1m0 0h1m.5 0h1m0 0h1m-.5 0h1m-.5 0h1m-63.5 .5h1m2 0h1m1 0h1m1 0h1m1.5 0h1m-.5 0h1m-.5 0h1m.5 0h1m-.5 0h1m.5 0h1m-.5 0h1m-.5 0h1m-.5 0h1m0 0h1m25 0h1m0 0h1m.5 0h1m0 0h1m-.5 0h1m-.5 0h1m-.5 0h1m-.5 0h1m0 0h1m-.5 0h1m-.5 0h1m-.5 0h1m.5 0h1m-.5 0h1m-.5 0h1m-.5 0h1m0 0h1m-.5 0h1m0 0h1m.5 0h1m-.5 0h1m.5 0h1m1 0h1m-.5 0h1m0 0h1m-.5 0h1m0 0h1m1 0h1m5 0h1m-72 .5h1m-.5 0h1m0 0h1m.5 0h1m1.5 0h1m0 0h1m1 0h1m2.5 0h1m.5 0h1m3 0h1m-.5 0h1m.5 0h1m3 0h1m2 0h1m8.5 0h1m1.5 0h1m1 0h1m-.5 0h1m2.5 0h1m0 0h1m.5 0h1m-.5 0h1m-.5 0h1m-.5 0h1m1 0h1m1 0h1m.5 0h1m1 0h1m0 0h1m2 0h1m.5 0h1m0 0h1m10 0h1m-77 .5h1m3.5 0h1m1.5 0h1m0 0h1m-.5 0h1m-.5 0h1m.5 0h1m.5 0h1m-.5 0h1m0 0h1m1.5 0h1m-.5 0h1m1.5 0h1m3 0h1m0 0h1m10.5 0h1m8.5 0h1m-.5 0h1m-.5 0h1m0 0h1m-.5 0h1m4 0h1m0 0h1m-.5 0h1m1.5 0h1m0 0h1m.5 0h1m-.5 0h1m2.5 0h1m0 0h1m-.5 0h1m.5 0h1m0 0h1m-62 .5h1m2.5 0h1m.5 0h1m0 0h1m.5 0h1m.5 0h1m-.5 0h1m-.5 0h1m-.5 0h1m3 0h1m1 0h1m18.5 0h1m-.5 0h1m.5 0h1m1.5 0h1m0 0h1m-.5 0h1m0 0h1m0 0h1m0 0h1m.5 0h1m3.5 0h1m-.5 0h1m0 0h1m2 0h1m1.5 0h1m5 0h1m4 0h1m-83 .5h1m8.5 0h1m1 0h1m-.5 0h1m-.5 0h1m1.5 0h1m-.5 0h1m1.5 0h1m1.5 0h1m9 0h1m10.5 0h1m3.5 0h1m6 0h1m0 0h1m1 0h1m-.5 0h1m1 0h1m1.5 0h1m1 0h1m0 0h1m0 0h1m0 0h1m6.5 0h1m-66.5 .5h1m3 0h1m2.5 0h1m1.5 0h1m.5 0h1m-.5 0h1m-.5 0h1m-.5 0h1m0 0h1m2 0h1m4 0h1m16.5 0h1m7 0h1m2 0h1m.5 0h1m.5 0h1m4 0h1m0 0h1m-56 .5h1m0 0h1m-.5 0h1m1 0h1m-.5 0h1m.5 0h1m0 0h1m-.5 0h1m2 0h1m0 0h1m1 0h1m4.5 0h1m16 0h1m7 0h1m2.5 0h1m0 0h1m.5 0h1m-.5 0h1m-.5 0h1m-.5 0h1m2 0h1m0 0h1m2.5 0h1m-60 .5h1m.5 0h1m-.5 0h1m.5 0h1m1.5 0h1m0 0h1m4.5 0h1m3 0h1m17 0h1m-.5 0h1m8 0h1m.5 0h1m.5 0h1m0 0h1m0 0h1m.5 0h1m-.5 0h1m1.5 0h1m-.5 0h1m5 0h1m-68 .5h1m2.5 0h1m6 0h1m3.5 0h1m.5 0h1m2.5 0h1m0 0h1m8 0h1m11 0h1m0 0h1m2.5 0h1m4.5 0h1m5 0h1m0 0h1m0 0h1m.5 0h1m2 0h1m-.5 0h1m0 0h1m-52.5 .5h1m-.5 0h1m5 0h1m27 0h1m1.5 0h1m-.5 0h1m3 0h1m.5 0h1m-.5 0h1m-.5 0h1m.5 0h1m-.5 0h1m1.5 0h1m0 0h1m3 0h1m-53 .5h1m21 0h1m9 0h1m7.5 0h1m6 0h1m2 0h1m-48.5 .5h1m1.5 0h1m22.5 0h1m11.5 0h1m-.5 0h1m1 0h1m4.5 0h1m-59.5 .5h1m1.5 0h1m3.5 0h1m37.5 0h1m-.5 0h1m-.5 0h1m6 0h1m5 0h1m-51 .5h1m1.5 0h1m26.5 0h1m21 0h1m-54.5 .5h1m2.5 0h1m-.5 0h1m36.5 0h1m7 0h1m.5 0h1m-19.5 .5h1m2 0h1m7.5 0h1m-1.5 .5h1m-39 .5h1m40.5 0h1m-52 .5h1m5.5 0h1m41 1h1m4 0h1m-53 1h1"/>
<rect x="380.0" y="192.5" width="112.5" height="112.0" fill="none" stroke="#111" stroke-width="1.3"/>
<line x1="427.5" y1="192.5" x2="427.5" y2="304.5" stroke="#111" stroke-width="1.3"/>
<line x1="380.0" y1="236.2" x2="492.5" y2="236.2" stroke="#111" stroke-width="1.3"/>
<text x="381.0" y="201.7" font-size="9.57" text-anchor="start" font-weight="normal" textLength="24.67" lengthAdjust="spacingAndGlyphs" >1.66%</text>
<text x="491.1" y="201.7" font-size="9.57" text-anchor="end" font-weight="normal" textLength="24.67" lengthAdjust="spacingAndGlyphs" >0.39%</text>
<text x="380.9" y="302.0" font-size="9.57" text-anchor="start" font-weight="normal" textLength="24.67" lengthAdjust="spacingAndGlyphs" >45.8%</text>
<text x="490.8" y="302.0" font-size="9.57" text-anchor="end" font-weight="normal" textLength="24.67" lengthAdjust="spacingAndGlyphs" >52.3%</text>
<line x1="377.4" y1="200.5" x2="380.0" y2="200.5" stroke="#111" stroke-width="1.0"/>
<text x="375.4" y="202.2" font-size="5.9" text-anchor="end" fill="#333">10<tspan font-size="4.1" dy="-2.7">5</tspan></text>
<line x1="377.4" y1="224.0" x2="380.0" y2="224.0" stroke="#111" stroke-width="1.0"/>
<text x="375.4" y="225.7" font-size="5.9" text-anchor="end" fill="#333">10<tspan font-size="4.1" dy="-2.7">4</tspan></text>
<line x1="377.4" y1="248.0" x2="380.0" y2="248.0" stroke="#111" stroke-width="1.0"/>
<text x="375.4" y="249.7" font-size="5.9" text-anchor="end" fill="#333">10<tspan font-size="4.1" dy="-2.7">3</tspan></text>
<line x1="377.4" y1="272.5" x2="380.0" y2="272.5" stroke="#111" stroke-width="1.0"/>
<text x="375.4" y="274.2" font-size="5.9" text-anchor="end" fill="#333">10<tspan font-size="4.1" dy="-2.7">2</tspan></text>
<line x1="377.4" y1="283.0" x2="380.0" y2="283.0" stroke="#111" stroke-width="1.0"/>
<text x="375.4" y="284.7" font-size="5.9" text-anchor="end" fill="#333">0</text>
<line x1="378.5" y1="195.5" x2="380.0" y2="195.5" stroke="#111" stroke-width="0.6"/>
<line x1="378.5" y1="198.8" x2="380.0" y2="198.8" stroke="#111" stroke-width="0.6"/>
<line x1="378.5" y1="202.1" x2="380.0" y2="202.1" stroke="#111" stroke-width="0.6"/>
<line x1="378.5" y1="205.4" x2="380.0" y2="205.4" stroke="#111" stroke-width="0.6"/>
<line x1="378.5" y1="208.7" x2="380.0" y2="208.7" stroke="#111" stroke-width="0.6"/>
<line x1="378.5" y1="212.0" x2="380.0" y2="212.0" stroke="#111" stroke-width="0.6"/>
<line x1="378.5" y1="215.3" x2="380.0" y2="215.3" stroke="#111" stroke-width="0.6"/>
<line x1="378.5" y1="218.6" x2="380.0" y2="218.6" stroke="#111" stroke-width="0.6"/>
<line x1="378.5" y1="221.9" x2="380.0" y2="221.9" stroke="#111" stroke-width="0.6"/>
<line x1="378.5" y1="225.2" x2="380.0" y2="225.2" stroke="#111" stroke-width="0.6"/>
<line x1="378.5" y1="228.5" x2="380.0" y2="228.5" stroke="#111" stroke-width="0.6"/>
<line x1="378.5" y1="231.8" x2="380.0" y2="231.8" stroke="#111" stroke-width="0.6"/>
<line x1="378.5" y1="235.1" x2="380.0" y2="235.1" stroke="#111" stroke-width="0.6"/>
<line x1="378.5" y1="238.4" x2="380.0" y2="238.4" stroke="#111" stroke-width="0.6"/>
<line x1="378.5" y1="241.7" x2="380.0" y2="241.7" stroke="#111" stroke-width="0.6"/>
<line x1="378.5" y1="245.0" x2="380.0" y2="245.0" stroke="#111" stroke-width="0.6"/>
<line x1="378.5" y1="248.3" x2="380.0" y2="248.3" stroke="#111" stroke-width="0.6"/>
<line x1="378.5" y1="251.6" x2="380.0" y2="251.6" stroke="#111" stroke-width="0.6"/>
<line x1="378.5" y1="254.9" x2="380.0" y2="254.9" stroke="#111" stroke-width="0.6"/>
<line x1="378.5" y1="258.2" x2="380.0" y2="258.2" stroke="#111" stroke-width="0.6"/>
<line x1="378.5" y1="261.5" x2="380.0" y2="261.5" stroke="#111" stroke-width="0.6"/>
<line x1="378.5" y1="264.8" x2="380.0" y2="264.8" stroke="#111" stroke-width="0.6"/>
<line x1="378.5" y1="268.1" x2="380.0" y2="268.1" stroke="#111" stroke-width="0.6"/>
<line x1="378.5" y1="271.4" x2="380.0" y2="271.4" stroke="#111" stroke-width="0.6"/>
<line x1="378.5" y1="274.7" x2="380.0" y2="274.7" stroke="#111" stroke-width="0.6"/>
<line x1="378.5" y1="278.0" x2="380.0" y2="278.0" stroke="#111" stroke-width="0.6"/>
<line x1="378.5" y1="281.3" x2="380.0" y2="281.3" stroke="#111" stroke-width="0.6"/>
<line x1="378.5" y1="284.6" x2="380.0" y2="284.6" stroke="#111" stroke-width="0.6"/>
<line x1="378.5" y1="287.9" x2="380.0" y2="287.9" stroke="#111" stroke-width="0.6"/>
<line x1="378.5" y1="291.2" x2="380.0" y2="291.2" stroke="#111" stroke-width="0.6"/>
<line x1="378.5" y1="294.5" x2="380.0" y2="294.5" stroke="#111" stroke-width="0.6"/>
<line x1="378.5" y1="297.8" x2="380.0" y2="297.8" stroke="#111" stroke-width="0.6"/>
<line x1="378.5" y1="301.1" x2="380.0" y2="301.1" stroke="#111" stroke-width="0.6"/>
<line x1="398.4" y1="304.5" x2="398.4" y2="307.1" stroke="#111" stroke-width="1.0"/>
<line x1="429.4" y1="304.5" x2="429.4" y2="307.1" stroke="#111" stroke-width="1.0"/>
<line x1="455.3" y1="304.5" x2="455.3" y2="307.1" stroke="#111" stroke-width="1.0"/>
<line x1="483.4" y1="304.5" x2="483.4" y2="307.1" stroke="#111" stroke-width="1.0"/>
<line x1="383.0" y1="304.5" x2="383.0" y2="306.0" stroke="#111" stroke-width="0.6"/>
<line x1="386.3" y1="304.5" x2="386.3" y2="306.0" stroke="#111" stroke-width="0.6"/>
<line x1="389.6" y1="304.5" x2="389.6" y2="306.0" stroke="#111" stroke-width="0.6"/>
<line x1="392.9" y1="304.5" x2="392.9" y2="306.0" stroke="#111" stroke-width="0.6"/>
<line x1="396.2" y1="304.5" x2="396.2" y2="306.0" stroke="#111" stroke-width="0.6"/>
<line x1="399.5" y1="304.5" x2="399.5" y2="306.0" stroke="#111" stroke-width="0.6"/>
<line x1="402.8" y1="304.5" x2="402.8" y2="306.0" stroke="#111" stroke-width="0.6"/>
<line x1="406.1" y1="304.5" x2="406.1" y2="306.0" stroke="#111" stroke-width="0.6"/>
<line x1="409.4" y1="304.5" x2="409.4" y2="306.0" stroke="#111" stroke-width="0.6"/>
<line x1="412.7" y1="304.5" x2="412.7" y2="306.0" stroke="#111" stroke-width="0.6"/>
<line x1="416.0" y1="304.5" x2="416.0" y2="306.0" stroke="#111" stroke-width="0.6"/>
<line x1="419.3" y1="304.5" x2="419.3" y2="306.0" stroke="#111" stroke-width="0.6"/>
<line x1="422.6" y1="304.5" x2="422.6" y2="306.0" stroke="#111" stroke-width="0.6"/>
<line x1="425.9" y1="304.5" x2="425.9" y2="306.0" stroke="#111" stroke-width="0.6"/>
<line x1="429.2" y1="304.5" x2="429.2" y2="306.0" stroke="#111" stroke-width="0.6"/>
<line x1="432.5" y1="304.5" x2="432.5" y2="306.0" stroke="#111" stroke-width="0.6"/>
<line x1="435.8" y1="304.5" x2="435.8" y2="306.0" stroke="#111" stroke-width="0.6"/>
<line x1="439.1" y1="304.5" x2="439.1" y2="306.0" stroke="#111" stroke-width="0.6"/>
<line x1="442.4" y1="304.5" x2="442.4" y2="306.0" stroke="#111" stroke-width="0.6"/>
<line x1="445.7" y1="304.5" x2="445.7" y2="306.0" stroke="#111" stroke-width="0.6"/>
<line x1="449.0" y1="304.5" x2="449.0" y2="306.0" stroke="#111" stroke-width="0.6"/>
<line x1="452.3" y1="304.5" x2="452.3" y2="306.0" stroke="#111" stroke-width="0.6"/>
<line x1="455.6" y1="304.5" x2="455.6" y2="306.0" stroke="#111" stroke-width="0.6"/>
<line x1="458.9" y1="304.5" x2="458.9" y2="306.0" stroke="#111" stroke-width="0.6"/>
<line x1="462.2" y1="304.5" x2="462.2" y2="306.0" stroke="#111" stroke-width="0.6"/>
<line x1="465.5" y1="304.5" x2="465.5" y2="306.0" stroke="#111" stroke-width="0.6"/>
<line x1="468.8" y1="304.5" x2="468.8" y2="306.0" stroke="#111" stroke-width="0.6"/>
<line x1="472.1" y1="304.5" x2="472.1" y2="306.0" stroke="#111" stroke-width="0.6"/>
<line x1="475.4" y1="304.5" x2="475.4" y2="306.0" stroke="#111" stroke-width="0.6"/>
<line x1="478.7" y1="304.5" x2="478.7" y2="306.0" stroke="#111" stroke-width="0.6"/>
<line x1="482.0" y1="304.5" x2="482.0" y2="306.0" stroke="#111" stroke-width="0.6"/>
<line x1="485.3" y1="304.5" x2="485.3" y2="306.0" stroke="#111" stroke-width="0.6"/>
<line x1="488.6" y1="304.5" x2="488.6" y2="306.0" stroke="#111" stroke-width="0.6"/>
<text x="398.4" y="316.2" font-size="5.9" text-anchor="middle" fill="#333">0</text>
<text x="429.4" y="316.2" font-size="5.9" text-anchor="middle" fill="#333">10<tspan font-size="4.1" dy="-2.7">3</tspan></text>
<text x="455.3" y="316.2" font-size="5.9" text-anchor="middle" fill="#333">10<tspan font-size="4.1" dy="-2.7">4</tspan></text>
<text x="483.4" y="316.2" font-size="5.9" text-anchor="middle" fill="#333">10<tspan font-size="4.1" dy="-2.7">5</tspan></text>
<text transform="translate(366.3,251.6) rotate(-90)" font-size="10.81" text-anchor="middle" textLength="29.26" lengthAdjust="spacingAndGlyphs">CD161</text>
<text x="440.0" y="330.7" font-size="10.78" text-anchor="middle" font-weight="normal" textLength="19.60" lengthAdjust="spacingAndGlyphs" >CD8</text>
<text x="2.5" y="401.9" font-size="9.5" text-anchor="start" font-weight="normal" >HC</text>
<text x="2.3" y="530.0" font-size="9.4" text-anchor="start" font-weight="normal" >HIV+</text>
<g filter="url(#bl2)" fill="#000">
<ellipse cx="87.0" cy="380.5" rx="7.5" ry="5.5"/>
<rect x="68.0" y="423.2" width="28.0" height="20.0" rx="9.5"/>
</g>
<path stroke="#000" stroke-opacity="1.0" stroke-width="1.1" d="M92.5 369h1m-.5 0h1m-17 1h1m6 0h1m-.5 0h1m5 1h1m-9 .5h1m-2 .5h1m2.5 0h1m0 0h1m5 0h1m-9.5 .5h1m3 0h1m3 0h1m0 0h1m1 0h1m0 0h1m-16 .5h1m6 0h1m0 0h1m.5 0h1m0 0h1m-.5 0h1m0 0h1m-.5 0h1m0 0h1m-16 .5h1m1 0h1m3 0h1m.5 0h1m1.5 0h1m.5 0h1m7.5 0h1m-21.5 .5h1m5.5 0h1m0 0h1m2 0h1m-.5 0h1m0 0h1m5.5 0h1m-22 .5h1m3 0h1m1 0h1m.5 0h1m.5 0h1m.5 0h1m0 0h1m0 0h1m4.5 0h1m-28 .5h1m.5 0h1m11.5 0h1m-.5 0h1m-.5 0h1m2 0h1m1 0h1m3.5 0h1m2 0h1m44.5 0h1m-71 .5h1m4 0h1m2.5 0h1m2.5 0h1m.5 0h1m1 0h1m-.5 0h1m-.5 0h1m1.5 0h1m-.5 0h1m.5 0h1m0 0h1m.5 0h1m9.5 0h1m28.5 0h1m3.5 0h1m1.5 0h1m-68.5 .5h1m6 0h1m0 0h1m1.5 0h1m.5 0h1m.5 0h1m0 0h1m.5 0h1m0 0h1m1 0h1m0 0h1m0 0h1m-.5 0h1m4 0h1m14.5 0h1m2 0h1m1 0h1m.5 0h1m8.5 0h1m7 0h1m12 0h1m6.5 0h1m-100.5 .5h1m11 0h1m6 0h1m-.5 0h1m-.5 0h1m-.5 0h1m1 0h1m-.5 0h1m0 0h1m0 0h1m-.5 0h1m2 0h1m0 0h1m-.5 0h1m.5 0h1m-.5 0h1m0 0h1m1 0h1m3.5 0h1m57.5 0h1m-94 .5h1m9.5 0h1m-.5 0h1m0 0h1m0 0h1m-.5 0h1m-.5 0h1m1.5 0h1m-.5 0h1m0 0h1m-.5 0h1m-.5 0h1m0 0h1m-.5 0h1m0 0h1m-.5 0h1m-.5 0h1m-.5 0h1m1 0h1m.5 0h1m0 0h1m-.5 0h1m-.5 0h1m-.5 0h1m0 0h1m0 0h1m.5 0h1m0 0h1m-.5 0h1m18 0h1m8 0h1m0 0h1m12 0h1m3 0h1m0 0h1m-74.5 .5h1m3.5 0h1m-.5 0h1m1 0h1m0 0h1m-.5 0h1m1.5 0h1m-.5 0h1m-.5 0h1m1.5 0h1m0 0h1m0 0h1m0 0h1m1 0h1m-.5 0h1m-.5 0h1m-.5 0h1m0 0h1m-.5 0h1m-.5 0h1m0 0h1m8 0h1m11.5 0h1m4.5 0h1m7 0h1m26.5 0h1m-.5 0h1m-91 .5h1m3 0h1m6.5 0h1m-.5 0h1m-.5 0h1m0 0h1m-.5 0h1m-.5 0h1m-.5 0h1m4.5 0h1m1 0h1m0 0h1m-.5 0h1m3 0h1m0 0h1m0 0h1m1 0h1m3 0h1m9.5 0h1m5.5 0h1m.5 0h1m19.5 0h1m-79.5 .5h1m9 0h1m-.5 0h1m-.5 0h1m0 0h1m.5 0h1m1 0h1m-.5 0h1m7.5 0h1m-.5 0h1m0 0h1m-.5 0h1m-.5 0h1m0 0h1m-.5 0h1m2 0h1m0 0h1m2 0h1m18 0h1m37 0h1m-88 .5h1m3.5 0h1m2 0h1m.5 0h1m-.5 0h1m-.5 0h1m-.5 0h1m-.5 0h1m8 0h1m-.5 0h1m-.5 0h1m-.5 0h1m0 0h1m.5 0h1m.5 0h1m1 0h1m13.5 0h1m9.5 0h1m1.5 0h1m16 0h1m-67 .5h1m-.5 0h1m0 0h1m0 0h1m-.5 0h1m.5 0h1m9 0h1m0 0h1m0 0h1m1.5 0h1m-.5 0h1m-.5 0h1m0 0h1m-.5 0h1m1 0h1m9.5 0h1m11 0h1m6 0h1m4.5 0h1m3 0h1m-70.5 .5h1m4.5 0h1m1.5 0h1m-.5 0h1m-.5 0h1m-.5 0h1m0 0h1m-.5 0h1m-.5 0h1m9 0h1m-.5 0h1m3 0h1m1 0h1m-.5 0h1m0 0h1m2.5 0h1m5 0h1m4.5 0h1m-.5 0h1m7.5 0h1m4.5 0h1m2.5 0h1m24.5 0h1m-83 .5h1m1.5 0h1m0 0h1m0 0h1m0 0h1m9 0h1m-.5 0h1m-.5 0h1m2 0h1m14.5 0h1m9.5 0h1m3 0h1m10 0h1m-77 .5h1m12 0h1m2 0h1m1 0h1m1.5 0h1m9.5 0h1m.5 0h1m-.5 0h1m-.5 0h1m-.5 0h1m0 0h1m-.5 0h1m0 0h1m11.5 0h1m0 0h1m6 0h1m9.5 0h1m1.5 0h1m-.5 0h1m0 0h1m7.5 0h1m16.5 0h1m-84.5 .5h1m1 0h1m-.5 0h1m0 0h1m1.5 0h1m-.5 0h1m-.5 0h1m9.5 0h1m0 0h1m-.5 0h1m-.5 0h1m0 0h1m3 0h1m2.5 0h1m14.5 0h1m-.5 0h1m6 0h1m6.5 0h1m5 0h1m1.5 0h1m-67 .5h1m-.5 0h1m.5 0h1m-.5 0h1m.5 0h1m-.5 0h1m-.5 0h1m-.5 0h1m.5 0h1m7.5 0h1m-.5 0h1m.5 0h1m0 0h1m0 0h1m15.5 0h1m1.5 0h1m4.5 0h1m1.5 0h1m.5 0h1m.5 0h1m10.5 0h1m6 0h1m-70.5 .5h1m-.5 0h1m1 0h1m1.5 0h1m.5 0h1m.5 0h1m0 0h1m6 0h1m-.5 0h1m0 0h1m0 0h1m-.5 0h1m2 0h1m.5 0h1m-.5 0h1m1 0h1m17 0h1m1.5 0h1m2 0h1m8.5 0h1m4 0h1m-66.5 .5h1m1 0h1m.5 0h1m.5 0h1m1 0h1m0 0h1m0 0h1m.5 0h1m-.5 0h1m-.5 0h1m4.5 0h1m1 0h1m1 0h1m.5 0h1m0 0h1m2 0h1m0 0h1m28 0h1m-62.5 .5h1m7 0h1m-.5 0h1m-.5 0h1m2 0h1m-.5 0h1m-.5 0h1m0 0h1m-.5 0h1m-.5 0h1m-.5 0h1m-.5 0h1m0 0h1m-.5 0h1m-.5 0h1m-.5 0h1m0 0h1m-.5 0h1m0 0h1m0 0h1m1 0h1m-.5 0h1m.5 0h1m-.5 0h1m.5 0h1m1 0h1m.5 0h1m14.5 0h1m2 0h1m8.5 0h1m.5 0h1m1 0h1m27 0h1m-90 .5h1m1 0h1m8 0h1m-.5 0h1m0 0h1m-.5 0h1m-.5 0h1m-.5 0h1m-.5 0h1m-.5 0h1m-.5 0h1m-.5 0h1m-.5 0h1m-.5 0h1m-.5 0h1m-.5 0h1m.5 0h1m.5 0h1m2 0h1m0 0h1m.5 0h1m15.5 0h1m-.5 0h1m8.5 0h1m.5 0h1m9.5 0h1m19.5 0h1m-91.5 .5h1m1.5 0h1m1 0h1m3.5 0h1m0 0h1m3.5 0h1m-.5 0h1m-.5 0h1m.5 0h1m0 0h1m0 0h1m-.5 0h1m0 0h1m-.5 0h1m.5 0h1m-.5 0h1m-.5 0h1m.5 0h1m1 0h1m.5 0h1m0 0h1m2 0h1m-.5 0h1m53.5 0h1m-78.5 .5h1m-.5 0h1m1.5 0h1m-.5 0h1m0 0h1m0 0h1m-.5 0h1m-.5 0h1m-.5 0h1m2 0h1m-.5 0h1m-.5 0h1m1 0h1m-.5 0h1m0 0h1m-.5 0h1m-.5 0h1m-.5 0h1m0 0h1m0 0h1m0 0h1m3.5 0h1m6 0h1m25.5 0h1m1.5 0h1m-63.5 .5h1m.5 0h1m3 0h1m0 0h1m1 0h1m0 0h1m1.5 0h1m1 0h1m0 0h1m3 0h1m.5 0h1m4 0h1m9 0h1m8 0h1m18 0h1m19 0h1m-91 .5h1m10.5 0h1m6.5 0h1m.5 0h1m-.5 0h1m-.5 0h1m.5 0h1m.5 0h1m-.5 0h1m1 0h1m0 0h1m.5 0h1m7 0h1m55 0h1m-88 .5h1m1 0h1m8.5 0h1m2 0h1m0 0h1m1.5 0h1m.5 0h1m-.5 0h1m7 0h1m0 0h1m23 0h1m2 0h1m-61 .5h1m12.5 0h1m-.5 0h1m0 0h1m3.5 0h1m-.5 0h1m-.5 0h1m-.5 0h1m1.5 0h1m0 0h1m0 0h1m19 0h1m5.5 0h1m5.5 0h1m20 0h1m0 0h1m5 0h1m-85 .5h1m4 0h1m5 0h1m2.5 0h1m3.5 0h1m-.5 0h1m-.5 0h1m1.5 0h1m0 0h1m19.5 0h1m17.5 0h1m20 0h1m-84.5 .5h1m-.5 0h1m.5 0h1m3.5 0h1m2 0h1m1.5 0h1m2 0h1m-.5 0h1m2 0h1m.5 0h1m0 0h1m2.5 0h1m.5 0h1m7.5 0h1m16 0h1m2 0h1m-66 .5h1m10.5 0h1m.5 0h1m9.5 0h1m0 0h1m1 0h1m5 0h1m-.5 0h1m-.5 0h1m33.5 0h1m-44.5 .5h1m1 0h1m0 0h1m-.5 0h1m0 0h1m2 0h1m3 0h1m1.5 0h1m3 0h1m-36 .5h1m8 0h1m5 0h1m-.5 .5h1m2.5 .5h1m2.5 0h1m-10.5 .5h1m3 0h1m0 0h1m4.5 0h1m-.5 0h1m4.5 0h1m-22 .5h1m-1.5 .5h1m5 0h1m-.5 0h1m-1.5 .5h1m5.5 0h1m-.5 0h1m-9 .5h1m5.5 0h1m3 0h1m-.5 0h1m.5 0h1m1 .5h1m-19 .5h1m7 0h1m-.5 0h1m2.5 0h1m4.5 0h1m3.5 0h1m-26 .5h1m5.5 0h1m3 0h1m3 0h1m12.5 0h1m-24.5 .5h1m1 0h1m3.5 0h1m.5 0h1m21 0h1m-38 .5h1m0 0h1m-.5 0h1m7 0h1m.5 0h1m.5 0h1m-.5 0h1m-7.5 .5h1m4 0h1m2.5 0h1m1.5 0h1m3 0h1m-13 .5h1m.5 0h1m-.5 0h1m.5 0h1m0 0h1m4.5 0h1m-.5 0h1m7 0h1m20.5 0h1m-52.5 .5h1m3 0h1m3 0h1m5 0h1m11 0h1m.5 0h1m-20 .5h1m0 0h1m.5 0h1m0 0h1m.5 0h1m.5 0h1m.5 0h1m-.5 0h1m-.5 0h1m8 0h1m-20 .5h1m2 0h1m1.5 0h1m3 0h1m3 0h1m0 0h1m.5 0h1m-15.5 .5h1m1 0h1m3 0h1m-.5 0h1m3 0h1m0 0h1m1 0h1m-11.5 .5h1m-.5 0h1m6 0h1m.5 0h1m.5 0h1m0 0h1m5.5 0h1m-21 .5h1m3.5 0h1m.5 0h1m3.5 0h1m4.5 0h1m70.5 0h1m-93.5 .5h1m2.5 0h1m-.5 0h1m3 0h1m2 0h1m-.5 0h1m.5 0h1m2 0h1m.5 0h1m-.5 0h1m3.5 0h1m-23.5 .5h1m3 0h1m-.5 0h1m.5 0h1m1.5 0h1m-.5 0h1m0 0h1m0 0h1m.5 0h1m4 0h1m.5 0h1m-.5 0h1m-24 .5h1m7.5 0h1m-.5 0h1m.5 0h1m1 0h1m.5 0h1m-.5 0h1m.5 0h1m0 0h1m0 0h1m-.5 0h1m62.5 0h1m-74.5 .5h1m1 0h1m-.5 0h1m0 0h1m0 0h1m1 0h1m-.5 0h1m8 0h1m6 0h1m-25 .5h1m1 0h1m0 0h1m-.5 0h1m2.5 0h1m-.5 0h1m2 0h1m1 0h1m1.5 0h1m0 0h1m1 0h1m-21.5 .5h1m3.5 0h1m.5 0h1m-.5 0h1m0 0h1m1.5 0h1m0 0h1m-.5 0h1m.5 0h1m-16 .5h1m0 0h1m-.5 0h1m6 0h1m2 0h1m2 0h1m-.5 0h1m4 0h1m4 0h1m-35 .5h1m8 0h1m1.5 0h1m-.5 0h1m.5 0h1m0 0h1m-.5 0h1m2 0h1m0 0h1m-.5 0h1m0 0h1m1.5 0h1m-.5 0h1m.5 0h1m-20 .5h1m4 0h1m-.5 0h1m-.5 0h1m3.5 0h1m0 0h1m-.5 0h1m-.5 0h1m0 0h1m1.5 0h1m0 0h1m1 0h1m0 0h1m.5 0h1m1.5 0h1m-20 .5h1m1 0h1m2.5 0h1m-.5 0h1m1 0h1m0 0h1m2.5 0h1m-24.5 .5h1m10.5 0h1m1.5 0h1m0 0h1m0 0h1m.5 0h1m-.5 0h1m-.5 0h1m-.5 0h1m1 0h1m0 0h1m1 0h1m1 0h1m0 0h1m-.5 0h1m0 0h1m-22 .5h1m7.5 0h1m1 0h1m-.5 0h1m.5 0h1m-.5 0h1m0 0h1m-.5 0h1m4 0h1m-19 .5h1m2 0h1m3 0h1m0 0h1m.5 0h1m0 0h1m-.5 0h1m0 0h1m1.5 0h1m-.5 0h1m-.5 0h1m3.5 0h1m0 0h1m5 0h1m-26 .5h1m-.5 0h1m2.5 0h1m2 0h1m-.5 0h1m0 0h1m-.5 0h1m0 0h1m-.5 0h1m-.5 0h1m2.5 0h1m4.5 0h1m62.5 0h1m-86 .5h1m1.5 0h1m.5 0h1m2 0h1m0 0h1m-.5 0h1m-.5 0h1m0 0h1m1 0h1m.5 0h1m-17 .5h1m1 0h1m2 0h1m0 0h1m1 0h1m-.5 0h1m.5 0h1m3 0h1m.5 0h1m-.5 0h1m0 0h1m.5 0h1m2 0h1m.5 0h1m-.5 0h1m-18.5 .5h1m.5 0h1m2 0h1m-.5 0h1m3 0h1m2.5 0h1m0 0h1m3.5 0h1m9.5 0h1m-39.5 .5h1m7.5 0h1m1.5 0h1m8 0h1m-.5 0h1m3 0h1m-.5 0h1m-.5 0h1m5 0h1m-33 .5h1m11.5 0h1m.5 0h1m.5 0h1m0 0h1m.5 0h1m-.5 0h1m.5 0h1m1.5 0h1m-.5 0h1m0 0h1m2 0h1m1.5 0h1m4.5 0h1m21.5 0h1m-49 .5h1m2.5 0h1m1 0h1m.5 0h1m-.5 0h1m.5 0h1m0 0h1m3 0h1m0 0h1m0 0h1m-.5 0h1m5.5 0h1m18.5 0h1m-45 .5h1m0 0h1m4.5 0h1m3 0h1m-.5 0h1m-.5 0h1m-.5 0h1m0 0h1m.5 0h1m-.5 0h1m5 0h1m9 0h1m-34.5 .5h1m.5 0h1m2.5 0h1m2 0h1m-.5 0h1m1.5 0h1m3 0h1m3.5 0h1m-.5 0h1m0 0h1m.5 0h1m3.5 0h1m-28.5 .5h1m1 0h1m0 0h1m-.5 0h1m1 0h1m.5 0h1m0 0h1m0 0h1m0 0h1m-.5 0h1m0 0h1m1.5 0h1m1.5 0h1m1 0h1m3 0h1m-21.5 .5h1m3.5 0h1m0 0h1m0 0h1m0 0h1m.5 0h1m1.5 0h1m-.5 0h1m-.5 0h1m1.5 0h1m0 0h1m.5 0h1m-.5 0h1m19.5 0h1m-43.5 .5h1m2.5 0h1m1 0h1m.5 0h1m4 0h1m1 0h1m1.5 0h1m0 0h1m-.5 0h1m-15 .5h1m2 0h1m1.5 0h1m2 0h1m3 0h1m-.5 0h1m1.5 0h1m-.5 0h1m-13.5 .5h1m-.5 0h1m0 0h1m3 0h1m-.5 0h1m-.5 0h1m3 0h1m1.5 0h1m-.5 0h1m1 0h1m0 0h1m59.5 0h1m-79.5 .5h1m1 0h1m3.5 0h1m2 0h1m-.5 0h1m1.5 0h1m1.5 0h1m-15.5 .5h1m2.5 0h1m0 0h1m0 0h1m-.5 0h1m-.5 0h1m0 0h1m0 0h1m-.5 0h1m3 0h1m3 0h1m-.5 0h1m38 0h1m-58 .5h1m-.5 0h1m1 0h1m4.5 0h1m-.5 0h1m0 0h1m-.5 0h1m8.5 0h1m-22.5 .5h1m0 0h1m0 0h1m0 0h1m-.5 0h1m0 0h1m1.5 0h1m-.5 0h1m1 0h1m0 0h1m0 0h1m-.5 0h1m1 0h1m7.5 0h1m-22.5 .5h1m1.5 0h1m2.5 0h1m-.5 0h1m2.5 0h1m2.5 0h1m2 0h1m-.5 0h1m.5 0h1m6 0h1m2 0h1m-33.5 .5h1m5.5 0h1m-.5 0h1m1 0h1m1 0h1m2.5 0h1m3.5 0h1m0 0h1m2 0h1m2 0h1m-20 .5h1m-.5 0h1m6 0h1m-.5 0h1m8.5 0h1m14 0h1m-43.5 .5h1m8 0h1m0 0h1m2.5 0h1m5 0h1m0 0h1m41.5 0h1m-59.5 .5h1m7.5 0h1m.5 0h1m-.5 0h1m-.5 0h1m0 0h1m2.5 0h1m.5 0h1m2.5 0h1m3.5 0h1m-22.5 .5h1m2.5 0h1m2 0h1m4 0h1m-.5 0h1m5.5 0h1m-20 .5h1m5.5 0h1m.5 0h1m-.5 0h1m2 0h1m2 0h1m4.5 0h1m-23 .5h1m3.5 0h1m4 0h1m.5 0h1m1.5 0h1m2 0h1m1.5 0h1m.5 0h1m-17.5 .5h1m0 0h1m-.5 0h1m4 0h1m0 0h1m.5 0h1m6.5 0h1m1.5 0h1m-16.5 .5h1m0 0h1m-.5 0h1m2 0h1m2 0h1m.5 0h1m1 0h1m-20 .5h1m1 0h1m0 0h1m1.5 0h1m3 0h1m3.5 0h1m1.5 0h1m2 0h1m4 0h1m58 0h1m-85.5 .5h1m-.5 0h1m-.5 0h1m-.5 0h1m-.5 0h1m-.5 0h1m1.5 0h1m2.5 0h1m0 0h1m.5 0h1m-.5 0h1m7.5 0h1m-20.5 .5h1m13 0h1m0 0h1m-.5 0h1m.5 0h1m.5 0h1m-.5 0h1m.5 0h1m-18.5 .5h1m4 0h1m2 0h1m5.5 0h1m1 0h1m1.5 0h1m0 0h1m26 0h1m-51.5 .5h1m3 0h1m4.5 0h1m1 0h1m2.5 0h1m-.5 0h1m0 0h1m-.5 0h1m2.5 0h1m1.5 0h1m-23.5 .5h1m2 0h1m0 0h1m-.5 0h1m1.5 0h1m-.5 0h1m0 0h1m.5 0h1m0 0h1m1 0h1m-.5 0h1m-.5 0h1m2.5 0h1m.5 0h1m1.5 0h1m57 0h1m-81 .5h1m1 0h1m-.5 0h1m0 0h1m-.5 0h1m-.5 0h1m5 0h1m1.5 0h1m12.5 0h1m-32.5 .5h1m3.5 0h1m2 0h1m3.5 0h1m1 0h1m0 0h1m-.5 0h1m-.5 0h1m-.5 0h1m3 0h1m1 0h1m0 0h1m5 0h1m-26 .5h1m4 0h1m0 0h1m1.5 0h1m0 0h1m0 0h1m1.5 0h1m2 0h1m-.5 0h1m0 0h1m.5 0h1m-16 .5h1m0 0h1m0 0h1m.5 0h1m7 0h1m0 0h1m1 0h1m2.5 0h1m-34.5 .5h1m5.5 0h1m4.5 0h1m.5 0h1m.5 0h1m1 0h1m-.5 0h1m3.5 0h1m-.5 0h1m0 0h1m-.5 0h1m-.5 0h1m-.5 0h1m0 0h1m-.5 0h1m-.5 0h1m-.5 0h1m0 0h1m1.5 0h1m23 0h1m-50 .5h1m-1.5 .5h1m32.5 0h1m-35 .5h1m34 0h1m1 0h1m-36 .5h1m-.5 0h1m25 0h1m.5 0h1m-29 1h1m-.5 0h1m0 0h1m24 0h1m-.5 0h1m-30 .5h1m30 0h1m.5 0h1m1.5 0h1m-40 .5h1m2.5 0h1m1 0h1m.5 0h1m-1.5 .5h1m26 0h1m2.5 0h1m-5.5 .5h1m3 0h1m-30 .5h1m24 0h1m1 0h1m.5 0h1m52.5 0h1m-87 .5h1m.5 0h1m2 0h1m25 0h1m1 0h1m-28.5 .5h1m27.5 0h1m-36 .5h1m1 0h1m4 0h1m24 0h1m-.5 0h1m-35 .5h1m4.5 0h1m0 0h1m-.5 0h1m24 0h1m-.5 0h1m2 0h1m-39 .5h1m.5 0h1m1.5 0h1m3.5 0h1m24.5 0h1m1 0h1m-26.5 .5h1m22.5 0h1m67 0h1m-98.5 .5h1m4 0h1m-.5 0h1m27 0h1m9.5 0h1m-43.5 .5h1m27 0h1m.5 0h1m-.5 0h1m-.5 0h1m1.5 0h1m-33.5 .5h1m27 0h1m0 0h1m1 0h1m2.5 0h1m-32 .5h1m23 0h1m-.5 0h1m-27.5 .5h1m.5 0h1m23.5 .5h1m.5 0h1m1 0h1m-35.5 .5h1m6.5 0h1m25.5 0h1m-1 .5h1m2 0h1m-34 .5h1m28.5 0h1m-.5 0h1m0 0h1m-5 .5h1m1 0h1m2.5 .5h1m-39.5 .5h1m72 0h1m30.5 0h1m-95.5 .5h1m24.5 0h1m-.5 0h1m.5 0h1m-.5 0h1m45 0h1m-80.5 .5h1m4.5 0h1m.5 0h1m-.5 0h1m2 0h1m-.5 0h1m1.5 0h1m0 0h1m.5 0h1m2 0h1m-.5 0h1m.5 0h1m-.5 0h1m0 0h1m1.5 0h1m1.5 0h1m0 0h1m.5 0h1m0 0h1m-28 .5h1m1 0h1m2.5 0h1m2.5 0h1m-.5 0h1m-.5 0h1m0 0h1m1.5 0h1m.5 0h1m-.5 0h1m8.5 0h1m.5 0h1m5.5 0h1m-35 .5h1m0 0h1m6 0h1m0 0h1m-.5 0h1m0 0h1m.5 0h1m.5 0h1m7.5 0h1m-.5 0h1m.5 0h1m-21.5 .5h1m11 0h1m-.5 0h1m.5 0h1m.5 0h1m1 0h1m-.5 0h1m1 0h1m7.5 0h1m-28 .5h1m1 0h1m0 0h1m0 0h1m.5 0h1m11.5 0h1m-20.5 .5h1m.5 0h1m.5 0h1m-.5 0h1m.5 0h1m1 0h1m1.5 0h1m0 0h1m3 0h1m3.5 0h1m-.5 0h1m0 0h1m-30 .5h1m5 0h1m2.5 0h1m2.5 0h1m5.5 0h1m5.5 0h1m-.5 0h1m-10 .5h1m0 0h1m2 0h1m1 0h1m0 0h1m6.5 0h1m-22 .5h1m5.5 0h1m11 0h1m2 0h1m-25.5 .5h1m5 0h1m10 0h1m-14 .5h1m3.5 0h1m-17 .5h1m11 0h1m2.5 0h1m1 0h1m8.5 0h1m-10 1h1m.5 0h1m.5 0h1m.5 0h1m10 0h1m-15.5 .5h1m-16 .5h1m36 0h1m-22 .5h1m-1 3.5h1m10.5 0h1"/>
<rect x="58.0" y="343.8" width="113.2" height="112.5" fill="none" stroke="#111" stroke-width="1.3"/>
<line x1="100.8" y1="343.8" x2="100.8" y2="456.2" stroke="#111" stroke-width="1.3"/>
<line x1="58.0" y1="393.0" x2="171.2" y2="393.0" stroke="#111" stroke-width="1.3"/>
<text x="60.2" y="352.9" font-size="9.57" text-anchor="start" font-weight="normal" textLength="24.67" lengthAdjust="spacingAndGlyphs" >10.3%</text>
<text x="171.6" y="352.9" font-size="9.57" text-anchor="end" font-weight="normal" textLength="24.67" lengthAdjust="spacingAndGlyphs" >1.71%</text>
<text x="61.5" y="453.8" font-size="9.57" text-anchor="start" font-weight="normal" textLength="24.67" lengthAdjust="spacingAndGlyphs" >87.7%</text>
<text x="170.8" y="453.8" font-size="9.57" text-anchor="end" font-weight="normal" textLength="24.67" lengthAdjust="spacingAndGlyphs" >0.24%</text>
<line x1="55.4" y1="351.2" x2="58.0" y2="351.2" stroke="#111" stroke-width="1.0"/>
<text x="53.4" y="352.9" font-size="5.9" text-anchor="end" fill="#333">10<tspan font-size="4.1" dy="-2.7">5</tspan></text>
<line x1="55.4" y1="379.5" x2="58.0" y2="379.5" stroke="#111" stroke-width="1.0"/>
<text x="53.4" y="381.2" font-size="5.9" text-anchor="end" fill="#333">10<tspan font-size="4.1" dy="-2.7">4</tspan></text>
<line x1="55.4" y1="406.0" x2="58.0" y2="406.0" stroke="#111" stroke-width="1.0"/>
<text x="53.4" y="407.7" font-size="5.9" text-anchor="end" fill="#333">10<tspan font-size="4.1" dy="-2.7">3</tspan></text>
<line x1="55.4" y1="437.5" x2="58.0" y2="437.5" stroke="#111" stroke-width="1.0"/>
<text x="53.4" y="439.2" font-size="5.9" text-anchor="end" fill="#333">0</text>
<line x1="56.5" y1="346.8" x2="58.0" y2="346.8" stroke="#111" stroke-width="0.6"/>
<line x1="56.5" y1="350.1" x2="58.0" y2="350.1" stroke="#111" stroke-width="0.6"/>
<line x1="56.5" y1="353.4" x2="58.0" y2="353.4" stroke="#111" stroke-width="0.6"/>
<line x1="56.5" y1="356.7" x2="58.0" y2="356.7" stroke="#111" stroke-width="0.6"/>
<line x1="56.5" y1="360.0" x2="58.0" y2="360.0" stroke="#111" stroke-width="0.6"/>
<line x1="56.5" y1="363.3" x2="58.0" y2="363.3" stroke="#111" stroke-width="0.6"/>
<line x1="56.5" y1="366.6" x2="58.0" y2="366.6" stroke="#111" stroke-width="0.6"/>
<line x1="56.5" y1="369.9" x2="58.0" y2="369.9" stroke="#111" stroke-width="0.6"/>
<line x1="56.5" y1="373.2" x2="58.0" y2="373.2" stroke="#111" stroke-width="0.6"/>
<line x1="56.5" y1="376.5" x2="58.0" y2="376.5" stroke="#111" stroke-width="0.6"/>
<line x1="56.5" y1="379.8" x2="58.0" y2="379.8" stroke="#111" stroke-width="0.6"/>
<line x1="56.5" y1="383.1" x2="58.0" y2="383.1" stroke="#111" stroke-width="0.6"/>
<line x1="56.5" y1="386.4" x2="58.0" y2="386.4" stroke="#111" stroke-width="0.6"/>
<line x1="56.5" y1="389.7" x2="58.0" y2="389.7" stroke="#111" stroke-width="0.6"/>
<line x1="56.5" y1="393.0" x2="58.0" y2="393.0" stroke="#111" stroke-width="0.6"/>
<line x1="56.5" y1="396.3" x2="58.0" y2="396.3" stroke="#111" stroke-width="0.6"/>
<line x1="56.5" y1="399.6" x2="58.0" y2="399.6" stroke="#111" stroke-width="0.6"/>
<line x1="56.5" y1="402.9" x2="58.0" y2="402.9" stroke="#111" stroke-width="0.6"/>
<line x1="56.5" y1="406.2" x2="58.0" y2="406.2" stroke="#111" stroke-width="0.6"/>
<line x1="56.5" y1="409.5" x2="58.0" y2="409.5" stroke="#111" stroke-width="0.6"/>
<line x1="56.5" y1="412.8" x2="58.0" y2="412.8" stroke="#111" stroke-width="0.6"/>
<line x1="56.5" y1="416.1" x2="58.0" y2="416.1" stroke="#111" stroke-width="0.6"/>
<line x1="56.5" y1="419.4" x2="58.0" y2="419.4" stroke="#111" stroke-width="0.6"/>
<line x1="56.5" y1="422.7" x2="58.0" y2="422.7" stroke="#111" stroke-width="0.6"/>
<line x1="56.5" y1="426.0" x2="58.0" y2="426.0" stroke="#111" stroke-width="0.6"/>
<line x1="56.5" y1="429.3" x2="58.0" y2="429.3" stroke="#111" stroke-width="0.6"/>
<line x1="56.5" y1="432.6" x2="58.0" y2="432.6" stroke="#111" stroke-width="0.6"/>
<line x1="56.5" y1="435.9" x2="58.0" y2="435.9" stroke="#111" stroke-width="0.6"/>
<line x1="56.5" y1="439.2" x2="58.0" y2="439.2" stroke="#111" stroke-width="0.6"/>
<line x1="56.5" y1="442.5" x2="58.0" y2="442.5" stroke="#111" stroke-width="0.6"/>
<line x1="56.5" y1="445.8" x2="58.0" y2="445.8" stroke="#111" stroke-width="0.6"/>
<line x1="56.5" y1="449.1" x2="58.0" y2="449.1" stroke="#111" stroke-width="0.6"/>
<line x1="56.5" y1="452.4" x2="58.0" y2="452.4" stroke="#111" stroke-width="0.6"/>
<line x1="71.0" y1="456.2" x2="71.0" y2="458.9" stroke="#111" stroke-width="1.0"/>
<line x1="82.0" y1="456.2" x2="82.0" y2="458.9" stroke="#111" stroke-width="1.0"/>
<line x1="110.0" y1="456.2" x2="110.0" y2="458.9" stroke="#111" stroke-width="1.0"/>
<line x1="136.7" y1="456.2" x2="136.7" y2="458.9" stroke="#111" stroke-width="1.0"/>
<line x1="160.0" y1="456.2" x2="160.0" y2="458.9" stroke="#111" stroke-width="1.0"/>
<line x1="61.0" y1="456.2" x2="61.0" y2="457.8" stroke="#111" stroke-width="0.6"/>
<line x1="64.3" y1="456.2" x2="64.3" y2="457.8" stroke="#111" stroke-width="0.6"/>
<line x1="67.6" y1="456.2" x2="67.6" y2="457.8" stroke="#111" stroke-width="0.6"/>
<line x1="70.9" y1="456.2" x2="70.9" y2="457.8" stroke="#111" stroke-width="0.6"/>
<line x1="74.2" y1="456.2" x2="74.2" y2="457.8" stroke="#111" stroke-width="0.6"/>
<line x1="77.5" y1="456.2" x2="77.5" y2="457.8" stroke="#111" stroke-width="0.6"/>
<line x1="80.8" y1="456.2" x2="80.8" y2="457.8" stroke="#111" stroke-width="0.6"/>
<line x1="84.1" y1="456.2" x2="84.1" y2="457.8" stroke="#111" stroke-width="0.6"/>
<line x1="87.4" y1="456.2" x2="87.4" y2="457.8" stroke="#111" stroke-width="0.6"/>
<line x1="90.7" y1="456.2" x2="90.7" y2="457.8" stroke="#111" stroke-width="0.6"/>
<line x1="94.0" y1="456.2" x2="94.0" y2="457.8" stroke="#111" stroke-width="0.6"/>
<line x1="97.3" y1="456.2" x2="97.3" y2="457.8" stroke="#111" stroke-width="0.6"/>
<line x1="100.6" y1="456.2" x2="100.6" y2="457.8" stroke="#111" stroke-width="0.6"/>
<line x1="103.9" y1="456.2" x2="103.9" y2="457.8" stroke="#111" stroke-width="0.6"/>
<line x1="107.2" y1="456.2" x2="107.2" y2="457.8" stroke="#111" stroke-width="0.6"/>
<line x1="110.5" y1="456.2" x2="110.5" y2="457.8" stroke="#111" stroke-width="0.6"/>
<line x1="113.8" y1="456.2" x2="113.8" y2="457.8" stroke="#111" stroke-width="0.6"/>
<line x1="117.1" y1="456.2" x2="117.1" y2="457.8" stroke="#111" stroke-width="0.6"/>
<line x1="120.4" y1="456.2" x2="120.4" y2="457.8" stroke="#111" stroke-width="0.6"/>
<line x1="123.7" y1="456.2" x2="123.7" y2="457.8" stroke="#111" stroke-width="0.6"/>
<line x1="127.0" y1="456.2" x2="127.0" y2="457.8" stroke="#111" stroke-width="0.6"/>
<line x1="130.3" y1="456.2" x2="130.3" y2="457.8" stroke="#111" stroke-width="0.6"/>
<line x1="133.6" y1="456.2" x2="133.6" y2="457.8" stroke="#111" stroke-width="0.6"/>
<line x1="136.9" y1="456.2" x2="136.9" y2="457.8" stroke="#111" stroke-width="0.6"/>
<line x1="140.2" y1="456.2" x2="140.2" y2="457.8" stroke="#111" stroke-width="0.6"/>
<line x1="143.5" y1="456.2" x2="143.5" y2="457.8" stroke="#111" stroke-width="0.6"/>
<line x1="146.8" y1="456.2" x2="146.8" y2="457.8" stroke="#111" stroke-width="0.6"/>
<line x1="150.1" y1="456.2" x2="150.1" y2="457.8" stroke="#111" stroke-width="0.6"/>
<line x1="153.4" y1="456.2" x2="153.4" y2="457.8" stroke="#111" stroke-width="0.6"/>
<line x1="156.7" y1="456.2" x2="156.7" y2="457.8" stroke="#111" stroke-width="0.6"/>
<line x1="160.0" y1="456.2" x2="160.0" y2="457.8" stroke="#111" stroke-width="0.6"/>
<line x1="163.3" y1="456.2" x2="163.3" y2="457.8" stroke="#111" stroke-width="0.6"/>
<line x1="166.6" y1="456.2" x2="166.6" y2="457.8" stroke="#111" stroke-width="0.6"/>
<text x="71.0" y="466.0" font-size="5.9" text-anchor="middle" fill="#333">0</text>
<text x="82.0" y="466.0" font-size="5.9" text-anchor="middle" fill="#333">10<tspan font-size="4.1" dy="-2.7">2</tspan></text>
<text x="110.0" y="466.0" font-size="5.9" text-anchor="middle" fill="#333">10<tspan font-size="4.1" dy="-2.7">3</tspan></text>
<text x="136.7" y="466.0" font-size="5.9" text-anchor="middle" fill="#333">10<tspan font-size="4.1" dy="-2.7">4</tspan></text>
<text x="160.0" y="466.0" font-size="5.9" text-anchor="middle" fill="#333">10<tspan font-size="4.1" dy="-2.7">5</tspan></text>
<text transform="translate(41.5,395.5) rotate(-90)" font-size="9.89" text-anchor="middle" textLength="26.77" lengthAdjust="spacingAndGlyphs">CD161</text>
<g filter="url(#bl2)" fill="#000">
<ellipse cx="258.8" cy="380.0" rx="7.5" ry="5.5"/>
<rect x="242.0" y="425.5" width="26.0" height="18.0" rx="7.5"/>
</g>
<path stroke="#000" stroke-opacity="1.0" stroke-width="1.1" d="M263 367h1m-11.5 .5h1m5.5 0h1m-8 .5h1m3.5 0h1m7.5 1h1m-15 .5h1m4.5 0h1m2.5 1h1m-10.5 .5h1m6.5 .5h1m4.5 0h1m1.5 0h1m-20.5 .5h1m8 0h1m-.5 0h1m-3 .5h1m1 0h1m1.5 0h1m0 0h1m0 0h1m2 0h1m2 0h1m27 0h1m-40 .5h1m2 0h1m0 0h1m.5 0h1m4 0h1m-14.5 .5h1m0 0h1m2 0h1m-.5 0h1m.5 0h1m2 0h1m-14.5 .5h1m0 0h1m10 0h1m-.5 0h1m-.5 0h1m-.5 0h1m0 0h1m-.5 0h1m.5 0h1m5.5 0h1m-22 .5h1m0 0h1m.5 0h1m.5 0h1m.5 0h1m0 0h1m-.5 0h1m2.5 0h1m1.5 0h1m-.5 0h1m2.5 0h1m17.5 0h1m-34 .5h1m0 0h1m-.5 0h1m-.5 0h1m-.5 0h1m0 0h1m0 0h1m.5 0h1m0 0h1m0 0h1m0 0h1m0 0h1m1 0h1m0 0h1m10 0h1m17 0h1m-47.5 .5h1m1 0h1m0 0h1m-.5 0h1m-.5 0h1m0 0h1m.5 0h1m0 0h1m.5 0h1m-.5 0h1m0 0h1m-.5 0h1m0 0h1m-.5 0h1m0 0h1m-.5 0h1m2 0h1m8.5 0h1m11 0h1m2 0h1m-43 .5h1m3 0h1m-.5 0h1m1 0h1m1.5 0h1m-.5 0h1m.5 0h1m0 0h1m-.5 0h1m-.5 0h1m-.5 0h1m-.5 0h1m-.5 0h1m-.5 0h1m2 0h1m-.5 0h1m-.5 0h1m0 0h1m-.5 0h1m5.5 0h1m-27 .5h1m.5 0h1m0 0h1m-.5 0h1m.5 0h1m0 0h1m.5 0h1m2 0h1m-.5 0h1m-.5 0h1m1 0h1m-.5 0h1m1 0h1m0 0h1m1 0h1m3.5 0h1m8 0h1m3 0h1m12.5 0h1m-74 .5h1m11 0h1m10 0h1m.5 0h1m0 0h1m-.5 0h1m-.5 0h1m0 0h1m0 0h1m0 0h1m2.5 0h1m3 0h1m-.5 0h1m.5 0h1m.5 0h1m17 0h1m14 0h1m-48.5 .5h1m0 0h1m0 0h1m1 0h1m-.5 0h1m-.5 0h1m4.5 0h1m-.5 0h1m-.5 0h1m0 0h1m4 0h1m1.5 0h1m.5 0h1m12 0h1m-43 .5h1m8 0h1m0 0h1m-.5 0h1m0 0h1m7.5 0h1m-.5 0h1m-.5 0h1m-.5 0h1m-.5 0h1m0 0h1m.5 0h1m2 0h1m0 0h1m1 0h1m4 0h1m.5 0h1m7.5 0h1m-38.5 .5h1m0 0h1m.5 0h1m8 0h1m.5 0h1m.5 0h1m17 0h1m15.5 0h1m-76 .5h1m13.5 0h1m7 0h1m2.5 0h1m11.5 0h1m-.5 0h1m0 0h1m1.5 0h1m1 0h1m0 0h1m.5 0h1m9.5 0h1m-48 .5h1m12 0h1m0 0h1m-.5 0h1m0 0h1m0 0h1m0 0h1m10 0h1m-.5 0h1m0 0h1m10.5 0h1m-32.5 .5h1m1.5 0h1m-.5 0h1m2 0h1m.5 0h1m10 0h1m-.5 0h1m-.5 0h1m-.5 0h1m-.5 0h1m-.5 0h1m-.5 0h1m3 0h1m2 0h1m6 0h1m4.5 0h1m-41 .5h1m0 0h1m2.5 0h1m-.5 0h1m11.5 0h1m2 0h1m0 0h1m.5 0h1m2 0h1m6 0h1m2 0h1m-37 .5h1m1.5 0h1m-.5 0h1m1.5 0h1m0 0h1m9.5 0h1m-.5 0h1m2 0h1m-.5 0h1m1.5 0h1m17.5 0h1m0 0h1m8.5 0h1m-54 .5h1m1.5 0h1m2 0h1m13 0h1m-.5 0h1m0 0h1m12.5 0h1m3 0h1m-47.5 .5h1m10 0h1m.5 0h1m2.5 0h1m-.5 0h1m6.5 0h1m-.5 0h1m-.5 0h1m0 0h1m-.5 0h1m0 0h1m.5 0h1m-.5 0h1m.5 0h1m.5 0h1m10 0h1m-.5 0h1m.5 0h1m-41.5 .5h1m0 0h1m-.5 0h1m-.5 0h1m3 0h1m-.5 0h1m.5 0h1m2 0h1m0 0h1m5.5 0h1m.5 0h1m0 0h1m-.5 0h1m-.5 0h1m-.5 0h1m-.5 0h1m0 0h1m0 0h1m.5 0h1m7 0h1m1 0h1m1.5 0h1m4 0h1m2.5 0h1m-42.5 .5h1m1 0h1m-.5 0h1m-.5 0h1m-.5 0h1m-.5 0h1m-.5 0h1m.5 0h1m0 0h1m-.5 0h1m0 0h1m2 0h1m0 0h1m0 0h1m0 0h1m2 0h1m0 0h1m0 0h1m3.5 0h1m9 0h1m-35 .5h1m-.5 0h1m-.5 0h1m2.5 0h1m1 0h1m-.5 0h1m0 0h1m-.5 0h1m1 0h1m-.5 0h1m1.5 0h1m-.5 0h1m.5 0h1m-.5 0h1m10 0h1m10.5 0h1m-.5 0h1m0 0h1m8 0h1m-55 .5h1m3.5 0h1m2.5 0h1m1.5 0h1m1 0h1m0 0h1m.5 0h1m-.5 0h1m0 0h1m0 0h1m-.5 0h1m0 0h1m2 0h1m-.5 0h1m-.5 0h1m-.5 0h1m2 0h1m5 0h1m3.5 0h1m2.5 0h1m4 0h1m2 0h1m4 0h1m-48 .5h1m1 0h1m-.5 0h1m-.5 0h1m0 0h1m-.5 0h1m1 0h1m0 0h1m-.5 0h1m1.5 0h1m0 0h1m0 0h1m-.5 0h1m-.5 0h1m0 0h1m0 0h1m.5 0h1m18 0h1m4.5 0h1m-45.5 .5h1m1 0h1m.5 0h1m1 0h1m-.5 0h1m0 0h1m-.5 0h1m-.5 0h1m.5 0h1m-.5 0h1m-.5 0h1m0 0h1m0 0h1m-.5 0h1m-.5 0h1m1.5 0h1m0 0h1m0 0h1m-.5 0h1m8.5 0h1m2.5 0h1m0 0h1m0 0h1m8.5 0h1m2.5 0h1m1 0h1m-44.5 .5h1m0 0h1m-.5 0h1m-.5 0h1m1 0h1m0 0h1m0 0h1m-.5 0h1m-.5 0h1m1 0h1m.5 0h1m-.5 0h1m1.5 0h1m.5 0h1m2 0h1m-34.5 .5h1m7 0h1m7 0h1m1.5 0h1m-.5 0h1m-.5 0h1m2 0h1m-.5 0h1m2.5 0h1m-.5 0h1m-.5 0h1m1 0h1m13 0h1m-32 .5h1m0 0h1m3.5 0h1m0 0h1m.5 0h1m1 0h1m.5 0h1m-.5 0h1m4.5 0h1m5 0h1m6.5 0h1m2.5 0h1m-37 .5h1m2 0h1m.5 0h1m0 0h1m0 0h1m.5 0h1m0 0h1m-.5 0h1m0 0h1m3 0h1m1 0h1m1 0h1m1 0h1m-.5 0h1m1.5 0h1m12 0h1m-62.5 .5h1m21.5 0h1m4.5 0h1m1.5 0h1m5.5 0h1m0 0h1m2 0h1m-20 .5h1m12.5 0h1m-.5 0h1m4.5 0h1m0 0h1m.5 0h1m7.5 0h1m-25.5 .5h1m0 0h1m1 0h1m1 .5h1m1 0h1m-.5 0h1m.5 0h1m.5 0h1m1 0h1m-16.5 .5h1m1.5 0h1m1 0h1m7.5 0h1m-11.5 .5h1m4 0h1m3.5 0h1m0 0h1m2 0h1m4.5 0h1m-25.5 .5h1m8.5 0h1m-.5 0h1m0 0h1m6.5 0h1m-10 .5h1m1.5 0h1m2.5 0h1m3 0h1m.5 0h1m-22.5 1h1m9.5 0h1m.5 0h1m-8 .5h1m6.5 0h1m0 0h1m1.5 0h1m4.5 0h1m2 0h1m6.5 0h1m-24 .5h1m1.5 0h1m.5 0h1m1.5 0h1m4 0h1m-21 .5h1m10 0h1m-.5 0h1m.5 0h1m1.5 0h1m39.5 0h1m-56 .5h1m7 0h1m2 0h1m3 0h1m-10.5 .5h1m12 0h1m1.5 0h1m37 0h1m-60.5 .5h1m2 0h1m9 0h1m-16 .5h1m3 0h1m-.5 0h1m3 0h1m-.5 0h1m1 0h1m6.5 0h1m1 0h1m17 0h1m-31.5 .5h1m1 0h1m.5 0h1m.5 0h1m0 0h1m0 0h1m0 0h1m.5 0h1m10.5 0h1m17 0h1m-43 .5h1m.5 0h1m2 0h1m1 0h1m-.5 0h1m1 0h1m.5 0h1m-.5 0h1m4.5 0h1m2 0h1m-24.5 .5h1m10.5 0h1m.5 0h1m0 0h1m.5 0h1m.5 0h1m39 0h1m-60 .5h1m8.5 0h1m5 0h1m-.5 0h1m-.5 0h1m1 0h1m0 0h1m1.5 0h1m1.5 0h1m1.5 0h1m-.5 0h1m3 0h1m-27 .5h1m2 0h1m-.5 0h1m1.5 0h1m0 0h1m2 0h1m0 0h1m-11.5 .5h1m3.5 0h1m1.5 0h1m0 0h1m-.5 0h1m1 0h1m1 0h1m1.5 0h1m0 0h1m-18 .5h1m4 0h1m-.5 0h1m.5 0h1m1 0h1m1 0h1m0 0h1m0 0h1m.5 0h1m5 0h1m0 0h1m-24.5 .5h1m-.5 0h1m4 0h1m-.5 0h1m2 0h1m-.5 0h1m0 0h1m0 0h1m-.5 0h1m.5 0h1m1 0h1m0 0h1m-10 .5h1m-.5 0h1m-.5 0h1m1 0h1m-.5 0h1m-.5 0h1m-.5 0h1m-.5 0h1m10.5 0h1m-23 .5h1m2 0h1m.5 0h1m2.5 0h1m.5 0h1m-.5 0h1m1.5 0h1m-13.5 .5h1m3 0h1m-.5 0h1m1.5 0h1m-.5 0h1m0 0h1m2.5 0h1m0 0h1m-.5 0h1m10.5 0h1m1 0h1m-26.5 .5h1m1.5 0h1m1 0h1m.5 0h1m0 0h1m3 0h1m.5 0h1m0 0h1m4 0h1m10 0h1m-34 .5h1m4 0h1m-.5 0h1m-.5 0h1m1.5 0h1m1 0h1m1.5 0h1m-.5 0h1m5 0h1m-18.5 .5h1m-.5 0h1m1 0h1m-.5 0h1m4.5 0h1m-.5 0h1m2 0h1m2 0h1m-.5 0h1m-.5 0h1m1 0h1m2 0h1m-18 .5h1m0 0h1m.5 0h1m5 0h1m1 0h1m3 0h1m0 0h1m-.5 0h1m-27.5 .5h1m-.5 0h1m4 0h1m.5 0h1m2 0h1m1.5 0h1m1.5 0h1m.5 0h1m-.5 0h1m0 0h1m-.5 0h1m-.5 0h1m2.5 0h1m1.5 0h1m-31 .5h1m12 0h1m3 0h1m2 0h1m2.5 0h1m-.5 0h1m-.5 0h1m9.5 0h1m-24.5 .5h1m1.5 0h1m2 0h1m0 0h1m0 0h1m-.5 0h1m1 0h1m-17 .5h1m2 0h1m4 0h1m2.5 0h1m0 0h1m0 0h1m1.5 0h1m1.5 0h1m-16 .5h1m4 0h1m-.5 0h1m1.5 0h1m1 0h1m.5 0h1m1 0h1m2.5 0h1m2 0h1m-17 .5h1m.5 0h1m.5 0h1m-.5 0h1m0 0h1m1 0h1m0 0h1m.5 0h1m4 0h1m1.5 0h1m4.5 0h1m-.5 0h1m-30 .5h1m5.5 0h1m0 0h1m1 0h1m-.5 0h1m3 0h1m0 0h1m-.5 0h1m0 0h1m2.5 0h1m2.5 0h1m40.5 0h1m5 0h1m-63 .5h1m0 0h1m.5 0h1m.5 0h1m2.5 0h1m0 0h1m-.5 0h1m3 0h1m1 0h1m0 0h1m39 0h1m-59.5 .5h1m.5 0h1m-.5 0h1m0 0h1m1 0h1m0 0h1m3 0h1m2.5 0h1m-.5 0h1m.5 0h1m4 0h1m3 0h1m0 0h1m4.5 0h1m-29.5 .5h1m1 0h1m3.5 0h1m0 0h1m1.5 0h1m-13 .5h1m1.5 0h1m.5 0h1m3.5 0h1m-.5 0h1m.5 0h1m-.5 0h1m0 0h1m0 0h1m-19.5 .5h1m4.5 0h1m-.5 0h1m1.5 0h1m4.5 0h1m0 0h1m1 0h1m0 0h1m-.5 0h1m47 0h1m-66.5 .5h1m2 0h1m.5 0h1m-.5 0h1m5 0h1m-.5 0h1m-.5 0h1m0 0h1m.5 0h1m1 0h1m0 0h1m.5 0h1m1.5 0h1m6 0h1m-27.5 .5h1m1 0h1m-.5 0h1m1 0h1m0 0h1m0 0h1m0 0h1m-.5 0h1m2.5 0h1m2.5 0h1m-.5 0h1m1.5 0h1m.5 0h1m-17.5 .5h1m1.5 0h1m-.5 0h1m-.5 0h1m1.5 0h1m11.5 0h1m-19 .5h1m-.5 0h1m0 0h1m2.5 0h1m3.5 0h1m1 0h1m.5 0h1m2.5 0h1m-26 .5h1m3 0h1m1.5 0h1m1.5 0h1m-.5 0h1m.5 0h1m.5 0h1m2 0h1m1 0h1m.5 0h1m1 0h1m0 0h1m-17.5 .5h1m.5 0h1m.5 0h1m1 0h1m-.5 0h1m.5 0h1m1.5 0h1m2.5 0h1m0 0h1m1 0h1m13 0h1m-37 .5h1m4.5 0h1m0 0h1m0 0h1m5 0h1m0 0h1m.5 0h1m-.5 0h1m2 0h1m14 0h1m-27 .5h1m5 0h1m1.5 0h1m2.5 0h1m3 0h1m0 0h1m-19.5 .5h1m4 0h1m2.5 0h1m2.5 0h1m-10.5 .5h1m3 0h1m1 0h1m.5 0h1m0 0h1m3 0h1m27.5 0h1m-43.5 .5h1m0 0h1m0 0h1m3.5 0h1m3 0h1m2.5 0h1m2 0h1m44 0h1m-71 .5h1m6 0h1m3.5 0h1m.5 0h1m.5 0h1m-.5 0h1m5.5 0h1m1 0h1m8 0h1m-26.5 .5h1m2 0h1m0 0h1m1.5 0h1m.5 0h1m-11 .5h1m3.5 0h1m1.5 0h1m0 0h1m.5 0h1m1.5 0h1m-.5 0h1m2.5 0h1m-10.5 .5h1m.5 0h1m.5 0h1m.5 0h1m-7.5 .5h1m2.5 0h1m1 0h1m0 0h1m0 0h1m-8.5 .5h1m1.5 0h1m7 0h1m1.5 0h1m-14.5 .5h1m4.5 0h1m0 0h1m-7.5 .5h1m2.5 0h1m-.5 0h1m2.5 0h1m2 0h1m2.5 0h1m2.5 0h1m-21.5 .5h1m2.5 0h1m0 0h1m1.5 0h1m0 0h1m1 0h1m2 0h1m4 0h1m-13 .5h1m2.5 0h1m1 0h1m-.5 0h1m2.5 0h1m-21.5 .5h1m.5 0h1m.5 0h1m4 0h1m11 0h1m11.5 0h1m2 0h1m-.5 0h1m-34.5 .5h1m6.5 0h1m5.5 0h1m-11 .5h1m9 0h1m1 0h1m-.5 0h1m5 0h1m-27 .5h1m14.5 0h1m4 0h1m1 0h1m-22 .5h1m.5 0h1m9 0h1m-.5 0h1m8.5 0h1m0 0h1m-18.5 .5h1m4.5 0h1m-.5 0h1m2.5 0h1m0 0h1m-.5 0h1m0 0h1m1 0h1m1 0h1m-16.5 .5h1m0 0h1m-.5 0h1m1 0h1m2.5 0h1m-.5 0h1m7 0h1m.5 0h1m16 0h1m-34 .5h1m2 0h1m-.5 0h1m2.5 0h1m27 0h1m-45 .5h1m3.5 0h1m0 0h1m0 0h1m-.5 0h1m1.5 0h1m-.5 0h1m0 0h1m0 0h1m3.5 0h1m1 0h1m-.5 0h1m3 0h1m-.5 0h1m-19.5 .5h1m.5 0h1m3 0h1m1 0h1m2.5 0h1m2 0h1m9.5 0h1m-21.5 .5h1m-.5 0h1m4.5 0h1m15.5 0h1m-29.5 .5h1m2.5 0h1m0 0h1m2 0h1m1.5 0h1m2.5 0h1m-.5 0h1m3.5 0h1m0 0h1m-.5 0h1m5 0h1m-35 .5h1m-.5 0h1m6.5 0h1m.5 0h1m0 0h1m-.5 0h1m1 0h1m1 0h1m.5 0h1m-.5 0h1m1.5 0h1m-.5 0h1m2 0h1m0 0h1m.5 0h1m1 0h1m2.5 0h1m0 0h1m30 0h1m-56 .5h1m4.5 0h1m-.5 0h1m-.5 0h1m1 0h1m-.5 0h1m0 0h1m-.5 0h1m-.5 0h1m.5 0h1m-.5 0h1m3 0h1m1.5 0h1m-21 .5h1m.5 0h1m1 0h1m3.5 0h1m0 0h1m0 0h1m.5 0h1m2 0h1m-.5 0h1m-.5 0h1m-.5 0h1m-.5 0h1m0 0h1m-.5 0h1m7.5 0h1m-35 .5h1m-.5 0h1m-.5 0h1m4.5 0h1m0 0h1m1 0h1m.5 0h1m1 0h1m-.5 0h1m1.5 0h1m-.5 0h1m0 0h1m.5 0h1m1 0h1m0 0h1m0 0h1m1.5 0h1m1.5 0h1m2 0h1m11.5 0h1m-32 .5h1m8.5 0h1m1.5 0h1m3 0h1m6.5 0h1m0 0h1m-37.5 .5h1m6 0h1m21.5 0h1m-28 .5h1m3 0h1m0 0h1m55.5 0h1m-63 .5h1m3.5 0h1m26 0h1m.5 0h1m-.5 0h1m4.5 0h1m-40.5 .5h1m.5 0h1m1 0h1m25 0h1m5 0h1m5 0h1m-37 .5h1m0 0h1m20.5 0h1m2 0h1m1.5 0h1m5.5 0h1m-37.5 .5h1m1.5 0h1m27 0h1m2.5 0h1m.5 0h1m-36 .5h1m30.5 0h1m35 0h1m0 0h1m-45.5 .5h1m-.5 0h1m0 0h1m-33.5 .5h1m1 0h1m1.5 0h1m3 0h1m24 0h1m.5 0h1m5.5 0h1m-42 .5h1m6.5 0h1m0 0h1m21.5 0h1m0 0h1m2 0h1m-30 .5h1m-.5 0h1m.5 0h1m21 0h1m-.5 0h1m-.5 0h1m-.5 0h1m0 0h1m-.5 0h1m42.5 0h1m-78 .5h1m6.5 0h1m-.5 0h1m25 0h1m0 0h1m.5 0h1m-31.5 .5h1m2.5 0h1m21 0h1m0 0h1m-.5 0h1m-31 .5h1m1.5 0h1m2 0h1m44 0h1m-49 .5h1m0 0h1m2 0h1m24 0h1m-36 .5h1m3 0h1m1.5 0h1m-.5 0h1m-.5 0h1m-.5 0h1m1 0h1m23.5 0h1m.5 0h1m3.5 0h1m-5.5 .5h1m1 0h1m-31.5 .5h1m27.5 0h1m-31 .5h1m-.5 0h1m1.5 0h1m-.5 0h1m-.5 0h1m21.5 0h1m-.5 0h1m.5 0h1m-26.5 .5h1m-5 .5h1m0 0h1m24 0h1m-23 .5h1m0 0h1m20 0h1m6.5 0h1m-36.5 .5h1m3 .5h1m23.5 0h1m.5 0h1m2 0h1m-29 .5h1m-.5 0h1m22 0h1m2.5 0h1m15 0h1m9 0h1m-54.5 .5h1m4.5 0h1m-.5 0h1m.5 0h1m-.5 0h1m0 0h1m-.5 0h1m1 0h1m-.5 0h1m4.5 0h1m-.5 0h1m1.5 0h1m6.5 0h1m3 0h1m-36 .5h1m2.5 0h1m.5 0h1m.5 0h1m0 0h1m1.5 0h1m-.5 0h1m0 0h1m0 0h1m2 0h1m-.5 0h1m0 0h1m-.5 0h1m-.5 0h1m3 0h1m-.5 0h1m3 0h1m3 0h1m5.5 0h1m-38.5 .5h1m-.5 0h1m-.5 0h1m1 0h1m2.5 0h1m.5 0h1m5.5 0h1m-.5 0h1m-.5 0h1m0 0h1m.5 0h1m.5 0h1m.5 0h1m12 0h1m-26.5 .5h1m.5 0h1m0 0h1m-.5 0h1m3.5 0h1m-.5 0h1m2 0h1m0 0h1m4 0h1m-.5 0h1m-.5 0h1m-24.5 .5h1m7.5 0h1m-.5 0h1m-.5 0h1m.5 0h1m0 0h1m-.5 0h1m1 0h1m7 0h1m-24 .5h1m1 0h1m-.5 0h1m5.5 0h1m0 0h1m0 0h1m2 0h1m-.5 0h1m1 0h1m0 0h1m0 0h1m-.5 0h1m2 0h1m1.5 0h1m1 0h1m1.5 0h1m-28.5 .5h1m6.5 0h1m3.5 0h1m0 0h1m-.5 0h1m0 0h1m0 0h1m4 0h1m1.5 0h1m-17.5 .5h1m-.5 0h1m2.5 0h1m1.5 0h1m-.5 0h1m2 0h1m-8 .5h1m7 0h1m4.5 0h1m-17.5 .5h1m11.5 0h1m-.5 0h1m-15.5 .5h1m10 .5h1m4.5 0h1m-14.5 .5h1m2.5 0h1m-19 .5h1m13 0h1m-.5 0h1m9 0h1m0 0h1m0 .5h1m-5.5 .5h1m-4 2.5h1m-2.5 1h1m-10 2h1m1.5 .5h1"/>
<rect x="217.5" y="343.8" width="113.0" height="112.5" fill="none" stroke="#111" stroke-width="1.3"/>
<line x1="270.5" y1="343.8" x2="270.5" y2="456.2" stroke="#111" stroke-width="1.3"/>
<line x1="217.5" y1="390.0" x2="330.5" y2="390.0" stroke="#111" stroke-width="1.3"/>
<text x="217.8" y="352.9" font-size="9.57" text-anchor="start" font-weight="normal" textLength="24.67" lengthAdjust="spacingAndGlyphs" >17.6%</text>
<text x="329.8" y="352.9" font-size="9.57" text-anchor="end" font-weight="normal" textLength="24.67" lengthAdjust="spacingAndGlyphs" >1.01%</text>
<text x="218.3" y="453.8" font-size="9.57" text-anchor="start" font-weight="normal" textLength="24.67" lengthAdjust="spacingAndGlyphs" >87.9%</text>
<text x="327.8" y="453.8" font-size="9.57" text-anchor="end" font-weight="normal" textLength="24.67" lengthAdjust="spacingAndGlyphs" >0.62%</text>
<line x1="214.9" y1="351.0" x2="217.5" y2="351.0" stroke="#111" stroke-width="1.0"/>
<text x="212.9" y="352.7" font-size="5.9" text-anchor="end" fill="#333">10<tspan font-size="4.1" dy="-2.7">5</tspan></text>
<line x1="214.9" y1="379.5" x2="217.5" y2="379.5" stroke="#111" stroke-width="1.0"/>
<text x="212.9" y="381.2" font-size="5.9" text-anchor="end" fill="#333">10<tspan font-size="4.1" dy="-2.7">4</tspan></text>
<line x1="214.9" y1="406.8" x2="217.5" y2="406.8" stroke="#111" stroke-width="1.0"/>
<text x="212.9" y="408.4" font-size="5.9" text-anchor="end" fill="#333">10<tspan font-size="4.1" dy="-2.7">3</tspan></text>
<line x1="214.9" y1="437.5" x2="217.5" y2="437.5" stroke="#111" stroke-width="1.0"/>
<text x="212.9" y="439.2" font-size="5.9" text-anchor="end" fill="#333">0</text>
<line x1="216.0" y1="346.8" x2="217.5" y2="346.8" stroke="#111" stroke-width="0.6"/>
<line x1="216.0" y1="350.1" x2="217.5" y2="350.1" stroke="#111" stroke-width="0.6"/>
<line x1="216.0" y1="353.4" x2="217.5" y2="353.4" stroke="#111" stroke-width="0.6"/>
<line x1="216.0" y1="356.7" x2="217.5" y2="356.7" stroke="#111" stroke-width="0.6"/>
<line x1="216.0" y1="360.0" x2="217.5" y2="360.0" stroke="#111" stroke-width="0.6"/>
<line x1="216.0" y1="363.3" x2="217.5" y2="363.3" stroke="#111" stroke-width="0.6"/>
<line x1="216.0" y1="366.6" x2="217.5" y2="366.6" stroke="#111" stroke-width="0.6"/>
<line x1="216.0" y1="369.9" x2="217.5" y2="369.9" stroke="#111" stroke-width="0.6"/>
<line x1="216.0" y1="373.2" x2="217.5" y2="373.2" stroke="#111" stroke-width="0.6"/>
<line x1="216.0" y1="376.5" x2="217.5" y2="376.5" stroke="#111" stroke-width="0.6"/>
<line x1="216.0" y1="379.8" x2="217.5" y2="379.8" stroke="#111" stroke-width="0.6"/>
<line x1="216.0" y1="383.1" x2="217.5" y2="383.1" stroke="#111" stroke-width="0.6"/>
<line x1="216.0" y1="386.4" x2="217.5" y2="386.4" stroke="#111" stroke-width="0.6"/>
<line x1="216.0" y1="389.7" x2="217.5" y2="389.7" stroke="#111" stroke-width="0.6"/>
<line x1="216.0" y1="393.0" x2="217.5" y2="393.0" stroke="#111" stroke-width="0.6"/>
<line x1="216.0" y1="396.3" x2="217.5" y2="396.3" stroke="#111" stroke-width="0.6"/>
<line x1="216.0" y1="399.6" x2="217.5" y2="399.6" stroke="#111" stroke-width="0.6"/>
<line x1="216.0" y1="402.9" x2="217.5" y2="402.9" stroke="#111" stroke-width="0.6"/>
<line x1="216.0" y1="406.2" x2="217.5" y2="406.2" stroke="#111" stroke-width="0.6"/>
<line x1="216.0" y1="409.5" x2="217.5" y2="409.5" stroke="#111" stroke-width="0.6"/>
<line x1="216.0" y1="412.8" x2="217.5" y2="412.8" stroke="#111" stroke-width="0.6"/>
<line x1="216.0" y1="416.1" x2="217.5" y2="416.1" stroke="#111" stroke-width="0.6"/>
<line x1="216.0" y1="419.4" x2="217.5" y2="419.4" stroke="#111" stroke-width="0.6"/>
<line x1="216.0" y1="422.7" x2="217.5" y2="422.7" stroke="#111" stroke-width="0.6"/>
<line x1="216.0" y1="426.0" x2="217.5" y2="426.0" stroke="#111" stroke-width="0.6"/>
<line x1="216.0" y1="429.3" x2="217.5" y2="429.3" stroke="#111" stroke-width="0.6"/>
<line x1="216.0" y1="432.6" x2="217.5" y2="432.6" stroke="#111" stroke-width="0.6"/>
<line x1="216.0" y1="435.9" x2="217.5" y2="435.9" stroke="#111" stroke-width="0.6"/>
<line x1="216.0" y1="439.2" x2="217.5" y2="439.2" stroke="#111" stroke-width="0.6"/>
<line x1="216.0" y1="442.5" x2="217.5" y2="442.5" stroke="#111" stroke-width="0.6"/>
<line x1="216.0" y1="445.8" x2="217.5" y2="445.8" stroke="#111" stroke-width="0.6"/>
<line x1="216.0" y1="449.1" x2="217.5" y2="449.1" stroke="#111" stroke-width="0.6"/>
<line x1="216.0" y1="452.4" x2="217.5" y2="452.4" stroke="#111" stroke-width="0.6"/>
<line x1="242.1" y1="456.2" x2="242.1" y2="458.9" stroke="#111" stroke-width="1.0"/>
<line x1="263.4" y1="456.2" x2="263.4" y2="458.9" stroke="#111" stroke-width="1.0"/>
<line x1="292.1" y1="456.2" x2="292.1" y2="458.9" stroke="#111" stroke-width="1.0"/>
<line x1="320.0" y1="456.2" x2="320.0" y2="458.9" stroke="#111" stroke-width="1.0"/>
<line x1="220.5" y1="456.2" x2="220.5" y2="457.8" stroke="#111" stroke-width="0.6"/>
<line x1="223.8" y1="456.2" x2="223.8" y2="457.8" stroke="#111" stroke-width="0.6"/>
<line x1="227.1" y1="456.2" x2="227.1" y2="457.8" stroke="#111" stroke-width="0.6"/>
<line x1="230.4" y1="456.2" x2="230.4" y2="457.8" stroke="#111" stroke-width="0.6"/>
<line x1="233.7" y1="456.2" x2="233.7" y2="457.8" stroke="#111" stroke-width="0.6"/>
<line x1="237.0" y1="456.2" x2="237.0" y2="457.8" stroke="#111" stroke-width="0.6"/>
<line x1="240.3" y1="456.2" x2="240.3" y2="457.8" stroke="#111" stroke-width="0.6"/>
<line x1="243.6" y1="456.2" x2="243.6" y2="457.8" stroke="#111" stroke-width="0.6"/>
<line x1="246.9" y1="456.2" x2="246.9" y2="457.8" stroke="#111" stroke-width="0.6"/>
<line x1="250.2" y1="456.2" x2="250.2" y2="457.8" stroke="#111" stroke-width="0.6"/>
<line x1="253.5" y1="456.2" x2="253.5" y2="457.8" stroke="#111" stroke-width="0.6"/>
<line x1="256.8" y1="456.2" x2="256.8" y2="457.8" stroke="#111" stroke-width="0.6"/>
<line x1="260.1" y1="456.2" x2="260.1" y2="457.8" stroke="#111" stroke-width="0.6"/>
<line x1="263.4" y1="456.2" x2="263.4" y2="457.8" stroke="#111" stroke-width="0.6"/>
<line x1="266.7" y1="456.2" x2="266.7" y2="457.8" stroke="#111" stroke-width="0.6"/>
<line x1="270.0" y1="456.2" x2="270.0" y2="457.8" stroke="#111" stroke-width="0.6"/>
<line x1="273.3" y1="456.2" x2="273.3" y2="457.8" stroke="#111" stroke-width="0.6"/>
<line x1="276.6" y1="456.2" x2="276.6" y2="457.8" stroke="#111" stroke-width="0.6"/>
<line x1="279.9" y1="456.2" x2="279.9" y2="457.8" stroke="#111" stroke-width="0.6"/>
<line x1="283.2" y1="456.2" x2="283.2" y2="457.8" stroke="#111" stroke-width="0.6"/>
<line x1="286.5" y1="456.2" x2="286.5" y2="457.8" stroke="#111" stroke-width="0.6"/>
<line x1="289.8" y1="456.2" x2="289.8" y2="457.8" stroke="#111" stroke-width="0.6"/>
<line x1="293.1" y1="456.2" x2="293.1" y2="457.8" stroke="#111" stroke-width="0.6"/>
<line x1="296.4" y1="456.2" x2="296.4" y2="457.8" stroke="#111" stroke-width="0.6"/>
<line x1="299.7" y1="456.2" x2="299.7" y2="457.8" stroke="#111" stroke-width="0.6"/>
<line x1="303.0" y1="456.2" x2="303.0" y2="457.8" stroke="#111" stroke-width="0.6"/>
<line x1="306.3" y1="456.2" x2="306.3" y2="457.8" stroke="#111" stroke-width="0.6"/>
<line x1="309.6" y1="456.2" x2="309.6" y2="457.8" stroke="#111" stroke-width="0.6"/>
<line x1="312.9" y1="456.2" x2="312.9" y2="457.8" stroke="#111" stroke-width="0.6"/>
<line x1="316.2" y1="456.2" x2="316.2" y2="457.8" stroke="#111" stroke-width="0.6"/>
<line x1="319.5" y1="456.2" x2="319.5" y2="457.8" stroke="#111" stroke-width="0.6"/>
<line x1="322.8" y1="456.2" x2="322.8" y2="457.8" stroke="#111" stroke-width="0.6"/>
<line x1="326.1" y1="456.2" x2="326.1" y2="457.8" stroke="#111" stroke-width="0.6"/>
<text x="242.1" y="466.0" font-size="5.9" text-anchor="middle" fill="#333">0</text>
<text x="263.4" y="466.0" font-size="5.9" text-anchor="middle" fill="#333">10<tspan font-size="4.1" dy="-2.7">3</tspan></text>
<text x="292.1" y="466.0" font-size="5.9" text-anchor="middle" fill="#333">10<tspan font-size="4.1" dy="-2.7">4</tspan></text>
<text x="320.0" y="466.0" font-size="5.9" text-anchor="middle" fill="#333">10<tspan font-size="4.1" dy="-2.7">5</tspan></text>
<text transform="translate(201.0,395.0) rotate(-90)" font-size="9.89" text-anchor="middle" textLength="26.77" lengthAdjust="spacingAndGlyphs">CD161</text>
<g filter="url(#bl2)" fill="#000">
<ellipse cx="430.0" cy="379.5" rx="7.5" ry="5.0"/>
<rect x="397.0" y="424.0" width="40.0" height="19.0" rx="9.0"/>
</g>
<path stroke="#000" stroke-opacity="1.0" stroke-width="1.1" d="M412 365.5h1m26.5 2.5h1m-30.5 .5h1m5 0h1m-17.5 .5h1m14.5 0h1m.5 0h1m20 0h1m0 0h1m-13.5 .5h1m.5 0h1m.5 .5h1m-9.5 .5h1m4 0h1m7 0h1m0 0h1m3 0h1m-17.5 .5h1m7 0h1m2 .5h1m-13.5 .5h1m3.5 0h1m1.5 0h1m0 0h1m.5 0h1m1.5 0h1m0 0h1m5.5 0h1m-37.5 .5h1m2.5 0h1m24.5 0h1m0 0h1m.5 0h1m-17.5 .5h1m5 0h1m2.5 0h1m-.5 0h1m1 0h1m1.5 0h1m1 0h1m-.5 0h1m-.5 0h1m1 0h1m-29.5 .5h1m6 0h1m.5 0h1m.5 0h1m3 0h1m.5 0h1m-.5 0h1m-.5 0h1m0 0h1m.5 0h1m.5 0h1m5.5 0h1m-.5 0h1m-.5 0h1m-22 .5h1m5 0h1m3.5 0h1m-.5 0h1m0 0h1m0 0h1m-.5 0h1m-.5 0h1m0 0h1m2.5 0h1m2 0h1m.5 0h1m-33 .5h1m9 0h1m5.5 0h1m5 0h1m2 0h1m.5 0h1m0 0h1m1.5 0h1m-.5 0h1m-34 .5h1m13.5 0h1m-.5 0h1m2 0h1m-.5 0h1m.5 0h1m0 0h1m.5 0h1m-.5 0h1m1 0h1m-.5 0h1m2 0h1m0 0h1m-.5 0h1m.5 0h1m0 0h1m-.5 0h1m-.5 0h1m-33 .5h1m3.5 0h1m2.5 0h1m0 0h1m-.5 0h1m3 0h1m-.5 0h1m0 0h1m1 0h1m0 0h1m-.5 0h1m0 0h1m-.5 0h1m-.5 0h1m-.5 0h1m-.5 0h1m2 0h1m-.5 0h1m0 0h1m.5 0h1m-.5 0h1m-.5 0h1m-31.5 .5h1m-.5 0h1m.5 0h1m2.5 0h1m-.5 0h1m6 0h1m.5 0h1m-.5 0h1m-.5 0h1m1.5 0h1m-.5 0h1m0 0h1m-.5 0h1m.5 0h1m-.5 0h1m-.5 0h1m0 0h1m-.5 0h1m1 0h1m-.5 0h1m-.5 0h1m.5 0h1m2 0h1m0 0h1m1 0h1m-.5 0h1m.5 0h1m8.5 0h1m-40.5 .5h1m6 0h1m1 0h1m1 0h1m-.5 0h1m0 0h1m-.5 0h1m-.5 0h1m-.5 0h1m.5 0h1m.5 0h1m-.5 0h1m0 0h1m-.5 0h1m.5 0h1m-.5 0h1m0 0h1m0 0h1m-.5 0h1m1.5 0h1m3.5 0h1m-39 .5h1m8.5 0h1m0 0h1m2.5 0h1m.5 0h1m-.5 0h1m2.5 0h1m.5 0h1m-.5 0h1m0 0h1m0 0h1m-.5 0h1m0 0h1m.5 0h1m-.5 0h1m-.5 0h1m-.5 0h1m0 0h1m0 0h1m-.5 0h1m-.5 0h1m-.5 0h1m-.5 0h1m0 0h1m0 0h1m0 0h1m1.5 0h1m0 0h1m.5 0h1m-42.5 .5h1m9.5 0h1m-.5 0h1m3 0h1m3 0h1m0 0h1m-.5 0h1m-.5 0h1m0 0h1m0 0h1m-.5 0h1m0 0h1m8 0h1m-.5 0h1m-.5 0h1m2.5 0h1m0 0h1m2 0h1m-39.5 .5h1m.5 0h1m7.5 0h1m.5 0h1m2.5 0h1m1 0h1m-.5 0h1m-.5 0h1m-.5 0h1m-.5 0h1m-.5 0h1m9 0h1m-.5 0h1m.5 0h1m-.5 0h1m1 0h1m0 0h1m-.5 0h1m-40.5 .5h1m1 0h1m3.5 0h1m6 0h1m.5 0h1m2.5 0h1m.5 0h1m-.5 0h1m0 0h1m-.5 0h1m-.5 0h1m10 0h1m0 0h1m.5 0h1m-.5 0h1m.5 0h1m1 0h1m.5 0h1m1.5 0h1m-32 .5h1m5.5 0h1m.5 0h1m-.5 0h1m0 0h1m-.5 0h1m10 0h1m.5 0h1m-.5 0h1m0 0h1m-.5 0h1m-35.5 .5h1m1 0h1m1.5 0h1m5.5 0h1m-.5 0h1m3 0h1m0 0h1m1 0h1m11 0h1m-.5 0h1m-.5 0h1m-.5 0h1m-.5 0h1m2.5 0h1m-41.5 .5h1m1.5 0h1m2.5 0h1m4 0h1m1 0h1m1 0h1m3 0h1m0 0h1m.5 0h1m0 0h1m0 0h1m0 0h1m9 0h1m-.5 0h1m0 0h1m3.5 0h1m1 0h1m-49.5 .5h1m14 0h1m7.5 0h1m.5 0h1m.5 0h1m-.5 0h1m-.5 0h1m0 0h1m1 0h1m-.5 0h1m8.5 0h1m-.5 0h1m.5 0h1m0 0h1m-.5 0h1m-.5 0h1m-.5 0h1m1.5 0h1m3 0h1m-.5 0h1m-44.5 .5h1m-.5 0h1m0 0h1m2.5 0h1m.5 0h1m0 0h1m-.5 0h1m-.5 0h1m-.5 0h1m2.5 0h1m0 0h1m2 0h1m1.5 0h1m-.5 0h1m0 0h1m-.5 0h1m0 0h1m-.5 0h1m7.5 0h1m.5 0h1m.5 0h1m0 0h1m.5 0h1m-.5 0h1m0 0h1m-.5 0h1m1 0h1m-38.5 .5h1m6 0h1m2.5 0h1m1.5 0h1m-.5 0h1m0 0h1m-.5 0h1m0 0h1m-.5 0h1m-.5 0h1m-.5 0h1m-.5 0h1m0 0h1m-.5 0h1m-.5 0h1m-.5 0h1m6.5 0h1m-.5 0h1m1 0h1m-.5 0h1m0 0h1m-.5 0h1m-.5 0h1m-.5 0h1m-.5 0h1m3 0h1m6.5 0h1m-46.5 .5h1m-.5 0h1m-.5 0h1m1 0h1m.5 0h1m-.5 0h1m2 0h1m2 0h1m.5 0h1m-.5 0h1m0 0h1m1.5 0h1m.5 0h1m.5 0h1m1 0h1m-.5 0h1m-.5 0h1m.5 0h1m.5 0h1m0 0h1m-.5 0h1m-.5 0h1m-.5 0h1m-.5 0h1m-.5 0h1m0 0h1m1 0h1m4 0h1m-43.5 .5h1m1 0h1m0 0h1m5.5 0h1m3 0h1m.5 0h1m-.5 0h1m1.5 0h1m.5 0h1m1.5 0h1m1.5 0h1m-.5 0h1m0 0h1m-.5 0h1m0 0h1m-.5 0h1m-.5 0h1m0 0h1m0 0h1m-.5 0h1m-.5 0h1m-.5 0h1m-.5 0h1m-.5 0h1m2 0h1m1 0h1m-33 .5h1m6.5 0h1m-.5 0h1m2.5 0h1m0 0h1m.5 0h1m2.5 0h1m0 0h1m0 0h1m-.5 0h1m0 0h1m0 0h1m-.5 0h1m-.5 0h1m0 0h1m0 0h1m3 0h1m-.5 0h1m-.5 0h1m-.5 0h1m-.5 0h1m0 0h1m0 0h1m.5 0h1m2.5 0h1m-46 .5h1m2.5 0h1m2 0h1m2 0h1m1.5 0h1m.5 0h1m.5 0h1m-.5 0h1m.5 0h1m3.5 0h1m0 0h1m-.5 0h1m-.5 0h1m-.5 0h1m-.5 0h1m-.5 0h1m-.5 0h1m-.5 0h1m-.5 0h1m-.5 0h1m-.5 0h1m-.5 0h1m-.5 0h1m.5 0h1m0 0h1m-.5 0h1m-.5 0h1m1 0h1m0 0h1m-.5 0h1m-.5 0h1m0 0h1m0 0h1m1 0h1m2 0h1m-39 .5h1m2.5 0h1m-.5 0h1m-.5 0h1m-.5 0h1m7.5 0h1m0 0h1m-.5 0h1m0 0h1m1.5 0h1m-.5 0h1m0 0h1m-.5 0h1m0 0h1m0 0h1m1 0h1m1.5 0h1m-.5 0h1m2 0h1m4 0h1m-40 .5h1m2 0h1m.5 0h1m1.5 0h1m-.5 0h1m0 0h1m-.5 0h1m1 0h1m7.5 0h1m3 0h1m1 0h1m-.5 0h1m0 0h1m-.5 0h1m1 0h1m0 0h1m-.5 0h1m1 0h1m-.5 0h1m0 0h1m-.5 0h1m6.5 0h1m-44 .5h1m4.5 0h1m-.5 0h1m-.5 0h1m1.5 0h1m2.5 0h1m4.5 0h1m4.5 0h1m0 0h1m-.5 0h1m0 0h1m1 0h1m-.5 0h1m-.5 0h1m.5 0h1m0 0h1m-.5 0h1m1.5 0h1m0 0h1m-33.5 .5h1m2.5 0h1m4.5 0h1m-.5 0h1m0 0h1m-.5 0h1m1.5 0h1m1 0h1m0 0h1m-.5 0h1m2.5 0h1m5.5 0h1m6 0h1m-.5 0h1m-.5 0h1m3.5 0h1m-40 .5h1m-.5 0h1m2 0h1m2 0h1m1 0h1m0 0h1m4 0h1m2.5 0h1m0 0h1m-.5 0h1m0 0h1m1.5 0h1m1 0h1m1 0h1m0 0h1m5 0h1m3.5 0h1m-42 .5h1m.5 0h1m7.5 0h1m-.5 0h1m2.5 0h1m7 0h1m0 0h1m.5 0h1m2 0h1m.5 0h1m.5 0h1m-.5 0h1m-26.5 .5h1m-.5 0h1m3 0h1m10.5 0h1m0 0h1m0 0h1m2 0h1m0 0h1m.5 0h1m0 0h1m.5 0h1m1.5 0h1m-.5 0h1m0 0h1m2.5 0h1m-37 .5h1m4.5 0h1m1 0h1m10 0h1m-.5 0h1m1.5 0h1m7 0h1m-.5 0h1m-30 .5h1m3 0h1m9.5 0h1m15.5 0h1m1.5 0h1m0 0h1m-33.5 .5h1m9.5 0h1m1.5 0h1m-.5 0h1m0 0h1m1 0h1m2.5 0h1m1 0h1m0 0h1m-25.5 .5h1m6.5 0h1m16.5 0h1m3 0h1m0 0h1m1.5 0h1m7 0h1m-40 .5h1m5 0h1m.5 0h1m.5 0h1m0 0h1m8 0h1m5 0h1m-30.5 .5h1m5.5 0h1m7.5 0h1m1.5 0h1m.5 0h1m2 0h1m4.5 0h1m3.5 0h1m-32 .5h1m2.5 0h1m2.5 0h1m1.5 0h1m2 0h1m8 0h1m9 0h1m-25.5 .5h1m4 0h1m.5 0h1m7 0h1m8.5 0h1m3 0h1m-34 .5h1m11.5 0h1m1.5 0h1m4 0h1m.5 0h1m-22.5 .5h1m7 0h1m3 0h1m-.5 0h1m5 0h1m1 0h1m4.5 0h1m2.5 0h1m-24.5 .5h1m6 0h1m9 0h1m2 0h1m-17.5 .5h1m1.5 0h1m6 0h1m4.5 0h1m-19.5 .5h1m1.5 0h1m.5 0h1m.5 0h1m2 0h1m-.5 0h1m-.5 0h1m.5 0h1m-8.5 .5h1m.5 0h1m1.5 0h1m1 0h1m5 0h1m7 0h1m-19 .5h1m10.5 0h1m2 0h1m5.5 0h1m3 0h1m-41.5 .5h1m8.5 0h1m-.5 0h1m-.5 0h1m5 0h1m1.5 0h1m7 0h1m2 0h1m7 0h1m-28 .5h1m.5 0h1m1 0h1m0 0h1m2 0h1m-.5 0h1m0 0h1m-.5 0h1m0 0h1m-.5 0h1m-16 .5h1m4.5 0h1m-.5 0h1m1.5 0h1m1 0h1m-.5 0h1m7 0h1m.5 0h1m-14 .5h1m.5 0h1m0 0h1m-.5 0h1m0 0h1m1.5 0h1m3 0h1m0 0h1m-10.5 .5h1m1.5 0h1m-.5 0h1m1 0h1m.5 0h1m3 0h1m-24 .5h1m3.5 0h1m6 0h1m3.5 0h1m0 0h1m0 0h1m-.5 0h1m-.5 0h1m1 0h1m-.5 0h1m4 0h1m0 0h1m-21 .5h1m2.5 0h1m-.5 0h1m0 0h1m2 0h1m.5 0h1m3.5 0h1m1 0h1m1 0h1m-17 .5h1m1 0h1m3.5 0h1m1.5 0h1m.5 0h1m1.5 0h1m-.5 0h1m2 0h1m1 0h1m-29 .5h1m-.5 0h1m9.5 0h1m.5 0h1m-.5 0h1m2.5 0h1m-.5 0h1m.5 0h1m3 0h1m1 0h1m8 0h1m-32 .5h1m2 0h1m5.5 0h1m-.5 0h1m.5 0h1m-.5 0h1m.5 0h1m7 0h1m-.5 0h1m0 0h1m2 0h1m-25 .5h1m.5 0h1m5 0h1m3.5 0h1m3 0h1m1 0h1m1 0h1m-.5 0h1m11.5 0h1m-43.5 .5h1m11 0h1m-.5 0h1m3.5 0h1m-.5 0h1m0 0h1m-.5 0h1m.5 0h1m0 0h1m9.5 0h1m7 0h1m0 0h1m4 0h1m-42.5 .5h1m10.5 0h1m1 0h1m0 0h1m.5 0h1m0 0h1m1 0h1m8 0h1m-35.5 .5h1m15 0h1m2.5 0h1m.5 0h1m0 0h1m3.5 0h1m6.5 0h1m-35.5 .5h1m8 0h1m-.5 0h1m2 0h1m3.5 0h1m2 0h1m-.5 0h1m0 0h1m-.5 0h1m0 0h1m1.5 0h1m2 0h1m4.5 0h1m-19 .5h1m0 0h1m1.5 0h1m4 0h1m1.5 0h1m-.5 0h1m.5 0h1m-.5 0h1m18 0h1m-42.5 .5h1m.5 0h1m0 0h1m-.5 0h1m3.5 0h1m.5 0h1m-.5 0h1m0 0h1m1 0h1m1.5 0h1m.5 0h1m8.5 0h1m-21.5 .5h1m4 0h1m1 0h1m2.5 0h1m0 0h1m2.5 0h1m-.5 0h1m0 0h1m-.5 0h1m1.5 0h1m4 0h1m.5 0h1m-32 .5h1m3.5 0h1m2.5 0h1m3 0h1m0 0h1m2 0h1m0 0h1m-.5 0h1m9.5 0h1m10 0h1m-39.5 .5h1m1.5 0h1m7 0h1m0 0h1m0 0h1m-.5 0h1m0 0h1m-.5 0h1m-.5 0h1m-.5 0h1m-.5 0h1m.5 0h1m-.5 0h1m-.5 0h1m0 0h1m2.5 0h1m1 0h1m-21.5 .5h1m0 0h1m-.5 0h1m-.5 0h1m0 0h1m-.5 0h1m2 0h1m-.5 0h1m0 0h1m-.5 0h1m.5 0h1m0 0h1m-.5 0h1m-.5 0h1m-.5 0h1m0 0h1m-.5 0h1m-.5 0h1m-.5 0h1m0 0h1m.5 0h1m-.5 0h1m1.5 0h1m1.5 0h1m-.5 0h1m-24 .5h1m2.5 0h1m-.5 0h1m1 0h1m5 0h1m.5 0h1m-.5 0h1m1.5 0h1m6 0h1m-29.5 .5h1m2.5 0h1m1.5 0h1m3.5 0h1m-.5 0h1m-.5 0h1m-.5 0h1m-.5 0h1m-.5 0h1m1.5 0h1m-.5 0h1m.5 0h1m-.5 0h1m0 0h1m1.5 0h1m2.5 0h1m3 0h1m-31.5 .5h1m3 0h1m2 0h1m0 0h1m-.5 0h1m2.5 0h1m-.5 0h1m3.5 0h1m-.5 0h1m0 0h1m2 0h1m-.5 0h1m0 0h1m0 0h1m1.5 0h1m.5 0h1m0 0h1m1 0h1m-32.5 .5h1m10 0h1m4.5 0h1m1 0h1m0 0h1m-.5 0h1m-.5 0h1m0 0h1m1 0h1m1 0h1m12 0h1m-34.5 .5h1m2 0h1m0 0h1m0 0h1m-.5 0h1m1.5 0h1m0 0h1m3.5 0h1m0 0h1m0 0h1m-.5 0h1m-.5 0h1m0 0h1m.5 0h1m-22 .5h1m-.5 0h1m3.5 0h1m2.5 0h1m1.5 0h1m-.5 0h1m7 0h1m0 0h1m-26.5 .5h1m2.5 0h1m3.5 0h1m2.5 0h1m1 0h1m1 0h1m-.5 0h1m-.5 0h1m0 0h1m0 0h1m1 0h1m.5 0h1m-.5 0h1m1 0h1m-.5 0h1m-.5 0h1m1 0h1m3.5 0h1m1 0h1m-.5 0h1m-26.5 .5h1m2.5 0h1m0 0h1m1 0h1m0 0h1m-.5 0h1m0 0h1m8 0h1m0 0h1m1 0h1m1.5 0h1m-31 .5h1m4.5 0h1m2 0h1m0 0h1m1.5 0h1m1.5 0h1m-.5 0h1m0 0h1m.5 0h1m6 0h1m-.5 0h1m1.5 0h1m-25 .5h1m.5 0h1m3 0h1m1.5 0h1m-.5 0h1m2 0h1m-.5 0h1m0 0h1m-.5 0h1m-.5 0h1m2 0h1m-.5 0h1m1 0h1m0 0h1m1 0h1m-.5 0h1m.5 0h1m-25.5 .5h1m-.5 0h1m1.5 0h1m4.5 0h1m1 0h1m.5 0h1m0 0h1m.5 0h1m-.5 0h1m5 0h1m.5 0h1m-27 .5h1m7.5 0h1m.5 0h1m1 0h1m.5 0h1m1.5 0h1m1 0h1m0 0h1m1.5 0h1m1.5 0h1m-.5 0h1m-.5 0h1m0 0h1m-.5 0h1m-22.5 .5h1m-.5 0h1m1 0h1m-.5 0h1m0 0h1m1.5 0h1m1.5 0h1m-.5 0h1m-.5 0h1m-.5 0h1m.5 0h1m1 0h1m0 0h1m9.5 0h1m7 0h1m-37.5 .5h1m2 0h1m2 0h1m.5 0h1m1.5 0h1m3 0h1m-.5 0h1m0 0h1m0 0h1m-.5 0h1m0 0h1m.5 0h1m.5 0h1m2 0h1m-.5 0h1m-.5 0h1m2 0h1m1 0h1m3.5 0h1m-44.5 .5h1m3 0h1m5.5 0h1m0 0h1m0 0h1m1 0h1m-.5 0h1m-.5 0h1m-.5 0h1m-.5 0h1m-.5 0h1m.5 0h1m-.5 0h1m0 0h1m1.5 0h1m1.5 0h1m1.5 0h1m-.5 0h1m-.5 0h1m-.5 0h1m9.5 0h1m-29.5 .5h1m1 0h1m-.5 0h1m1 0h1m-.5 0h1m1 0h1m0 0h1m0 0h1m0 0h1m-.5 0h1m-.5 0h1m1 0h1m.5 0h1m3.5 0h1m0 0h1m-.5 0h1m-.5 0h1m0 0h1m-.5 0h1m-26 .5h1m.5 0h1m.5 0h1m3.5 0h1m-.5 0h1m0 0h1m1.5 0h1m3 0h1m0 0h1m2.5 0h1m-.5 0h1m-.5 0h1m-.5 0h1m1.5 0h1m-.5 0h1m0 0h1m1.5 0h1m5.5 0h1m-.5 0h1m-40 .5h1m5 0h1m3.5 0h1m0 0h1m-.5 0h1m-.5 0h1m2.5 0h1m-.5 0h1m2 0h1m.5 0h1m1 0h1m-.5 0h1m.5 0h1m1.5 0h1m-26.5 .5h1m2.5 0h1m-.5 0h1m2 0h1m-.5 0h1m4 0h1m.5 0h1m1.5 0h1m-.5 0h1m-.5 0h1m0 0h1m0 0h1m-.5 0h1m3 0h1m0 0h1m1 0h1m1.5 0h1m.5 0h1m1 0h1m4 0h1m-49.5 .5h1m7 0h1m5 0h1m2 0h1m0 0h1m-.5 0h1m-.5 0h1m1 0h1m-.5 0h1m-.5 0h1m0 0h1m0 0h1m-.5 0h1m.5 0h1m-.5 0h1m0 0h1m.5 0h1m0 0h1m0 0h1m0 0h1m0 0h1m1 0h1m1.5 0h1m-38.5 .5h1m7.5 0h1m.5 0h1m.5 0h1m2 0h1m1 0h1m2 0h1m1.5 0h1m-.5 0h1m.5 0h1m-.5 0h1m0 0h1m0 0h1m.5 0h1m0 0h1m0 0h1m.5 0h1m-.5 0h1m-.5 0h1m1 0h1m-.5 0h1m-.5 0h1m.5 0h1m0 0h1m3 0h1m2.5 0h1m-50.5 .5h1m18 0h1m6 0h1m1 0h1m2 0h1m0 0h1m1.5 0h1m-.5 0h1m2.5 0h1m0 0h1m-.5 0h1m2.5 0h1m0 0h1m0 0h1m-38 .5h1m9.5 0h1m3.5 0h1m-.5 0h1m-.5 0h1m-.5 0h1m.5 0h1m1 0h1m-.5 0h1m.5 0h1m0 0h1m-.5 0h1m.5 0h1m-.5 0h1m-.5 0h1m-.5 0h1m0 0h1m-.5 0h1m1 0h1m-.5 0h1m0 0h1m-.5 0h1m-.5 0h1m0 0h1m-.5 0h1m7 0h1m3 0h1m5.5 0h1m-41.5 .5h1m1.5 0h1m2 0h1m.5 0h1m0 0h1m-.5 0h1m0 0h1m.5 0h1m-.5 0h1m1 0h1m-.5 0h1m1 0h1m-.5 0h1m1 0h1m-.5 0h1m1.5 0h1m0 0h1m-31.5 .5h1m0 0h1m1.5 0h1m1 0h1m1 0h1m0 0h1m1.5 0h1m0 0h1m0 0h1m2 0h1m-.5 0h1m-.5 0h1m-.5 0h1m-.5 0h1m1 0h1m-.5 0h1m0 0h1m-.5 0h1m-.5 0h1m.5 0h1m.5 0h1m0 0h1m.5 0h1m2 0h1m-.5 0h1m.5 0h1m1.5 0h1m6 0h1m-53.5 .5h1m3.5 0h1m2 0h1m4 0h1m.5 0h1m-.5 0h1m0 0h1m0 0h1m1 0h1m-.5 0h1m0 0h1m.5 0h1m0 0h1m1.5 0h1m-.5 0h1m-.5 0h1m.5 0h1m-.5 0h1m1 0h1m.5 0h1m0 0h1m.5 0h1m.5 0h1m-.5 0h1m-.5 0h1m.5 0h1m0 0h1m0 0h1m1 0h1m0 0h1m5 0h1m2 0h1m2.5 0h1m-61 .5h1m10 0h1m.5 0h1m0 0h1m1.5 0h1m.5 0h1m1 0h1m-.5 0h1m1.5 0h1m0 0h1m1.5 0h1m0 0h1m-.5 0h1m2.5 0h1m-.5 0h1m0 0h1m-.5 0h1m.5 0h1m1 0h1m-.5 0h1m.5 0h1m.5 0h1m.5 0h1m.5 0h1m.5 0h1m-.5 0h1m2 0h1m0 0h1m-.5 0h1m-.5 0h1m5 0h1m1 0h1m-54 .5h1m3 0h1m1.5 0h1m.5 0h1m3.5 0h1m1.5 0h1m3.5 0h1m1.5 0h1m1 0h1m1 0h1m1 0h1m0 0h1m-.5 0h1m.5 0h1m-.5 0h1m-.5 0h1m-.5 0h1m-.5 0h1m2.5 0h1m1 0h1m1 0h1m1 0h1m0 0h1m0 0h1m-41 .5h1m1.5 0h1m-.5 0h1m1 0h1m.5 0h1m3.5 0h1m2.5 0h1m1 0h1m0 0h1m1 0h1m0 0h1m1 0h1m-.5 0h1m0 0h1m-.5 0h1m-.5 0h1m1 0h1m-.5 0h1m0 0h1m-.5 0h1m1 0h1m0 0h1m-.5 0h1m-29.5 .5h1m5 0h1m-.5 0h1m.5 0h1m.5 0h1m.5 0h1m-.5 0h1m0 0h1m.5 0h1m-.5 0h1m0 0h1m-.5 0h1m-.5 0h1m.5 0h1m1.5 0h1m.5 0h1m-.5 0h1m0 0h1m-.5 0h1m-.5 0h1m-.5 0h1m0 0h1m0 0h1m-.5 0h1m.5 0h1m0 0h1m-32 .5h1m.5 0h1m-.5 0h1m2 0h1m2.5 0h1m1.5 0h1m-.5 0h1m1 0h1m-.5 0h1m0 0h1m-.5 0h1m-.5 0h1m3 0h1m1 0h1m-.5 0h1m.5 0h1m0 0h1m0 0h1m1 0h1m0 0h1m0 0h1m.5 0h1m2.5 0h1m2 0h1m4.5 0h1m-50.5 .5h1m0 0h1m-.5 0h1m8.5 0h1m1.5 0h1m0 0h1m-.5 0h1m1.5 0h1m-.5 0h1m-.5 0h1m-.5 0h1m1 0h1m-.5 0h1m-.5 0h1m-.5 0h1m0 0h1m-.5 0h1m.5 0h1m.5 0h1m-.5 0h1m0 0h1m0 0h1m.5 0h1m1 0h1m-.5 0h1m2 0h1m3 0h1m1.5 0h1m-40.5 .5h1m0 0h1m3.5 0h1m1 0h1m1.5 0h1m3 0h1m.5 0h1m1.5 0h1m1 0h1m3 0h1m-.5 0h1m.5 0h1m-.5 0h1m-.5 0h1m.5 0h1m.5 0h1m-.5 0h1m1 0h1m1.5 0h1m-31.5 .5h1m.5 0h1m.5 0h1m1 0h1m4 0h1m-.5 0h1m1 0h1m.5 0h1m-.5 0h1m-.5 0h1m-.5 0h1m-.5 0h1m0 0h1m-.5 0h1m-.5 0h1m1 0h1m2.5 0h1m.5 0h1m.5 0h1m-.5 0h1m0 0h1m.5 0h1m1.5 0h1m-.5 0h1m4 0h1m-44 .5h1m-.5 0h1m5.5 0h1m-.5 0h1m2 0h1m0 0h1m3 0h1m.5 0h1m0 0h1m-.5 0h1m-.5 0h1m.5 0h1m-.5 0h1m0 0h1m1.5 0h1m-.5 0h1m.5 0h1m1 0h1m1.5 0h1m1.5 0h1m7.5 0h1m-45.5 .5h1m11 0h1m1 0h1m0 0h1m1.5 0h1m.5 0h1m-.5 0h1m-.5 0h1m0 0h1m1.5 0h1m.5 0h1m-.5 0h1m4 0h1m-.5 0h1m0 0h1m-.5 0h1m-.5 0h1m.5 0h1m0 0h1m3 0h1m0 0h1m7 0h1m6 0h1m-50.5 .5h1m0 0h1m3.5 0h1m0 0h1m1 0h1m2 0h1m.5 0h1m1 0h1m.5 0h1m3.5 0h1m0 0h1m-.5 0h1m4 0h1m.5 0h1m0 0h1m1 0h1m2 0h1m4.5 0h1m3 0h1m-49 .5h1m2 0h1m1.5 0h1m3 0h1m0 0h1m0 0h1m0 0h1m2 0h1m-.5 0h1m-.5 0h1m1.5 0h1m-.5 0h1m.5 0h1m2 0h1m-.5 0h1m0 0h1m3 0h1m0 0h1m4.5 0h1m1 0h1m4.5 0h1m-44 .5h1m0 0h1m0 0h1m-.5 0h1m2 0h1m3 0h1m.5 0h1m.5 0h1m-.5 0h1m1 0h1m.5 0h1m-.5 0h1m.5 0h1m0 0h1m-.5 0h1m-.5 0h1m.5 0h1m-.5 0h1m4 0h1m-.5 0h1m5 0h1m-.5 0h1m6 0h1m-46.5 .5h1m7 0h1m0 0h1m1.5 0h1m1 0h1m-.5 0h1m-.5 0h1m0 0h1m0 0h1m2 0h1m.5 0h1m-.5 0h1m1 0h1m0 0h1m0 0h1m1.5 0h1m1 0h1m2 0h1m0 0h1m2.5 0h1m-23.5 .5h1m1.5 0h1m-.5 0h1m0 0h1m-.5 0h1m0 0h1m1.5 0h1m-.5 0h1m1.5 0h1m0 0h1m0 0h1m.5 0h1m1 0h1m0 0h1m-28.5 .5h1m.5 0h1m.5 0h1m2.5 0h1m1.5 0h1m1 0h1m4 0h1m.5 0h1m.5 0h1m1 0h1m-.5 0h1m0 0h1m-.5 0h1m-.5 0h1m.5 0h1m-.5 0h1m2 0h1m-.5 0h1m0 0h1m1.5 0h1m0 0h1m-.5 0h1m1.5 0h1m10.5 0h1m-63.5 .5h1m4.5 0h1m13.5 0h1m6.5 0h1m.5 0h1m1 0h1m0 0h1m3 0h1m-.5 0h1m.5 0h1m1 0h1m1.5 0h1m0 0h1m0 0h1m4.5 0h1m-39.5 1h1m38 0h1m3.5 0h1m3.5 0h1m-58.5 .5h1m11 0h1m-.5 .5h1m37 0h1m-.5 0h1m-44 1h1m3.5 0h1m35.5 0h1m1 0h1m8.5 0h1m-7.5 .5h1m0 0h1m-44.5 .5h1m39 0h1m0 0h1m-46 .5h1m1.5 0h1m2 0h1m34.5 0h1m-.5 0h1m0 0h1m0 0h1m6 0h1m-48 .5h1m-.5 0h1m41 .5h1m1.5 0h1m-47.5 .5h1m3 0h1m-1.5 .5h1m35.5 0h1m2.5 0h1m.5 0h1m1.5 0h1m-53.5 .5h1m46.5 0h1m-42 .5h1m.5 0h1m38.5 0h1m-.5 0h1m-45.5 .5h1m-.5 0h1m1 0h1m44.5 0h1m-.5 0h1m-48 .5h1m41 0h1m-46 .5h1m2.5 0h1m1 0h1m35.5 0h1m2 0h1m1.5 0h1m-47.5 .5h1m3.5 0h1m35.5 0h1m4 0h1m-41.5 .5h1m-5 .5h1m3 0h1m36 0h1m-2 .5h1m-43 1.5h1m-.5 0h1m.5 .5h1m42.5 0h1m-3 .5h1m-37 .5h1m-.5 0h1m5.5 0h1m7 0h1m3 0h1m3 0h1m3.5 0h1m2.5 0h1m2 0h1m3.5 0h1m-43 .5h1m1.5 0h1m7.5 0h1m2 0h1m-.5 0h1m2.5 0h1m-.5 0h1m1.5 0h1m2 0h1m-.5 0h1m-.5 0h1m-.5 0h1m.5 0h1m1 0h1m1.5 0h1m-.5 0h1m3 0h1m.5 0h1m0 0h1m-42 .5h1m7 0h1m3.5 0h1m-.5 0h1m3 0h1m1.5 0h1m0 0h1m0 0h1m0 0h1m-.5 0h1m0 0h1m1.5 0h1m.5 0h1m0 0h1m-.5 0h1m3.5 0h1m-38 .5h1m12 0h1m3 0h1m0 0h1m0 0h1m-.5 0h1m-.5 0h1m5.5 0h1m-.5 0h1m2 0h1m2 0h1m-.5 0h1m2 0h1m-.5 0h1m.5 0h1m4.5 0h1m-34.5 .5h1m3.5 0h1m6 0h1m4 0h1m0 0h1m7 0h1m-26.5 .5h1m11 0h1m3 0h1m3 0h1m4.5 0h1m-11 .5h1m-16.5 .5h1m4 0h1m10 0h1m4 0h1m-30.5 1h1m14 0h1m0 0h1m-11.5 .5h1m9.5 0h1m9.5 0h1m3 0h1m-7 .5h1m0 0h1m-16.5 1.5h1m12.5 0h1m-6.5 1h1m1.5 .5h1"/>
<rect x="379.5" y="343.8" width="113.0" height="112.5" fill="none" stroke="#111" stroke-width="1.3"/>
<line x1="417.5" y1="343.8" x2="417.5" y2="456.2" stroke="#111" stroke-width="1.3"/>
<line x1="379.5" y1="393.0" x2="492.5" y2="393.0" stroke="#111" stroke-width="1.3"/>
<text x="379.5" y="352.9" font-size="9.57" text-anchor="start" font-weight="normal" textLength="19.83" lengthAdjust="spacingAndGlyphs" >1.6%</text>
<text x="492.3" y="352.9" font-size="9.57" text-anchor="end" font-weight="normal" textLength="24.67" lengthAdjust="spacingAndGlyphs" >10.4%</text>
<text x="379.7" y="453.8" font-size="9.57" text-anchor="start" font-weight="normal" textLength="24.67" lengthAdjust="spacingAndGlyphs" >53.8%</text>
<text x="490.8" y="453.8" font-size="9.57" text-anchor="end" font-weight="normal" textLength="24.67" lengthAdjust="spacingAndGlyphs" >34.2%</text>
<line x1="376.9" y1="352.5" x2="379.5" y2="352.5" stroke="#111" stroke-width="1.0"/>
<text x="374.9" y="354.2" font-size="5.9" text-anchor="end" fill="#333">10<tspan font-size="4.1" dy="-2.7">5</tspan></text>
<line x1="376.9" y1="379.5" x2="379.5" y2="379.5" stroke="#111" stroke-width="1.0"/>
<text x="374.9" y="381.2" font-size="5.9" text-anchor="end" fill="#333">10<tspan font-size="4.1" dy="-2.7">4</tspan></text>
<line x1="376.9" y1="406.0" x2="379.5" y2="406.0" stroke="#111" stroke-width="1.0"/>
<text x="374.9" y="407.7" font-size="5.9" text-anchor="end" fill="#333">10<tspan font-size="4.1" dy="-2.7">3</tspan></text>
<line x1="376.9" y1="437.5" x2="379.5" y2="437.5" stroke="#111" stroke-width="1.0"/>
<text x="374.9" y="439.2" font-size="5.9" text-anchor="end" fill="#333">0</text>
<line x1="378.0" y1="346.8" x2="379.5" y2="346.8" stroke="#111" stroke-width="0.6"/>
<line x1="378.0" y1="350.1" x2="379.5" y2="350.1" stroke="#111" stroke-width="0.6"/>
<line x1="378.0" y1="353.4" x2="379.5" y2="353.4" stroke="#111" stroke-width="0.6"/>
<line x1="378.0" y1="356.7" x2="379.5" y2="356.7" stroke="#111" stroke-width="0.6"/>
<line x1="378.0" y1="360.0" x2="379.5" y2="360.0" stroke="#111" stroke-width="0.6"/>
<line x1="378.0" y1="363.3" x2="379.5" y2="363.3" stroke="#111" stroke-width="0.6"/>
<line x1="378.0" y1="366.6" x2="379.5" y2="366.6" stroke="#111" stroke-width="0.6"/>
<line x1="378.0" y1="369.9" x2="379.5" y2="369.9" stroke="#111" stroke-width="0.6"/>
<line x1="378.0" y1="373.2" x2="379.5" y2="373.2" stroke="#111" stroke-width="0.6"/>
<line x1="378.0" y1="376.5" x2="379.5" y2="376.5" stroke="#111" stroke-width="0.6"/>
<line x1="378.0" y1="379.8" x2="379.5" y2="379.8" stroke="#111" stroke-width="0.6"/>
<line x1="378.0" y1="383.1" x2="379.5" y2="383.1" stroke="#111" stroke-width="0.6"/>
<line x1="378.0" y1="386.4" x2="379.5" y2="386.4" stroke="#111" stroke-width="0.6"/>
<line x1="378.0" y1="389.7" x2="379.5" y2="389.7" stroke="#111" stroke-width="0.6"/>
<line x1="378.0" y1="393.0" x2="379.5" y2="393.0" stroke="#111" stroke-width="0.6"/>
<line x1="378.0" y1="396.3" x2="379.5" y2="396.3" stroke="#111" stroke-width="0.6"/>
<line x1="378.0" y1="399.6" x2="379.5" y2="399.6" stroke="#111" stroke-width="0.6"/>
<line x1="378.0" y1="402.9" x2="379.5" y2="402.9" stroke="#111" stroke-width="0.6"/>
<line x1="378.0" y1="406.2" x2="379.5" y2="406.2" stroke="#111" stroke-width="0.6"/>
<line x1="378.0" y1="409.5" x2="379.5" y2="409.5" stroke="#111" stroke-width="0.6"/>
<line x1="378.0" y1="412.8" x2="379.5" y2="412.8" stroke="#111" stroke-width="0.6"/>
<line x1="378.0" y1="416.1" x2="379.5" y2="416.1" stroke="#111" stroke-width="0.6"/>
<line x1="378.0" y1="419.4" x2="379.5" y2="419.4" stroke="#111" stroke-width="0.6"/>
<line x1="378.0" y1="422.7" x2="379.5" y2="422.7" stroke="#111" stroke-width="0.6"/>
<line x1="378.0" y1="426.0" x2="379.5" y2="426.0" stroke="#111" stroke-width="0.6"/>
<line x1="378.0" y1="429.3" x2="379.5" y2="429.3" stroke="#111" stroke-width="0.6"/>
<line x1="378.0" y1="432.6" x2="379.5" y2="432.6" stroke="#111" stroke-width="0.6"/>
<line x1="378.0" y1="435.9" x2="379.5" y2="435.9" stroke="#111" stroke-width="0.6"/>
<line x1="378.0" y1="439.2" x2="379.5" y2="439.2" stroke="#111" stroke-width="0.6"/>
<line x1="378.0" y1="442.5" x2="379.5" y2="442.5" stroke="#111" stroke-width="0.6"/>
<line x1="378.0" y1="445.8" x2="379.5" y2="445.8" stroke="#111" stroke-width="0.6"/>
<line x1="378.0" y1="449.1" x2="379.5" y2="449.1" stroke="#111" stroke-width="0.6"/>
<line x1="378.0" y1="452.4" x2="379.5" y2="452.4" stroke="#111" stroke-width="0.6"/>
<line x1="391.5" y1="456.2" x2="391.5" y2="458.9" stroke="#111" stroke-width="1.0"/>
<line x1="400.7" y1="456.2" x2="400.7" y2="458.9" stroke="#111" stroke-width="1.0"/>
<line x1="431.7" y1="456.2" x2="431.7" y2="458.9" stroke="#111" stroke-width="1.0"/>
<line x1="457.2" y1="456.2" x2="457.2" y2="458.9" stroke="#111" stroke-width="1.0"/>
<line x1="482.4" y1="456.2" x2="482.4" y2="458.9" stroke="#111" stroke-width="1.0"/>
<line x1="382.5" y1="456.2" x2="382.5" y2="457.8" stroke="#111" stroke-width="0.6"/>
<line x1="385.8" y1="456.2" x2="385.8" y2="457.8" stroke="#111" stroke-width="0.6"/>
<line x1="389.1" y1="456.2" x2="389.1" y2="457.8" stroke="#111" stroke-width="0.6"/>
<line x1="392.4" y1="456.2" x2="392.4" y2="457.8" stroke="#111" stroke-width="0.6"/>
<line x1="395.7" y1="456.2" x2="395.7" y2="457.8" stroke="#111" stroke-width="0.6"/>
<line x1="399.0" y1="456.2" x2="399.0" y2="457.8" stroke="#111" stroke-width="0.6"/>
<line x1="402.3" y1="456.2" x2="402.3" y2="457.8" stroke="#111" stroke-width="0.6"/>
<line x1="405.6" y1="456.2" x2="405.6" y2="457.8" stroke="#111" stroke-width="0.6"/>
<line x1="408.9" y1="456.2" x2="408.9" y2="457.8" stroke="#111" stroke-width="0.6"/>
<line x1="412.2" y1="456.2" x2="412.2" y2="457.8" stroke="#111" stroke-width="0.6"/>
<line x1="415.5" y1="456.2" x2="415.5" y2="457.8" stroke="#111" stroke-width="0.6"/>
<line x1="418.8" y1="456.2" x2="418.8" y2="457.8" stroke="#111" stroke-width="0.6"/>
<line x1="422.1" y1="456.2" x2="422.1" y2="457.8" stroke="#111" stroke-width="0.6"/>
<line x1="425.4" y1="456.2" x2="425.4" y2="457.8" stroke="#111" stroke-width="0.6"/>
<line x1="428.7" y1="456.2" x2="428.7" y2="457.8" stroke="#111" stroke-width="0.6"/>
<line x1="432.0" y1="456.2" x2="432.0" y2="457.8" stroke="#111" stroke-width="0.6"/>
<line x1="435.3" y1="456.2" x2="435.3" y2="457.8" stroke="#111" stroke-width="0.6"/>
<line x1="438.6" y1="456.2" x2="438.6" y2="457.8" stroke="#111" stroke-width="0.6"/>
<line x1="441.9" y1="456.2" x2="441.9" y2="457.8" stroke="#111" stroke-width="0.6"/>
<line x1="445.2" y1="456.2" x2="445.2" y2="457.8" stroke="#111" stroke-width="0.6"/>
<line x1="448.5" y1="456.2" x2="448.5" y2="457.8" stroke="#111" stroke-width="0.6"/>
<line x1="451.8" y1="456.2" x2="451.8" y2="457.8" stroke="#111" stroke-width="0.6"/>
<line x1="455.1" y1="456.2" x2="455.1" y2="457.8" stroke="#111" stroke-width="0.6"/>
<line x1="458.4" y1="456.2" x2="458.4" y2="457.8" stroke="#111" stroke-width="0.6"/>
<line x1="461.7" y1="456.2" x2="461.7" y2="457.8" stroke="#111" stroke-width="0.6"/>
<line x1="465.0" y1="456.2" x2="465.0" y2="457.8" stroke="#111" stroke-width="0.6"/>
<line x1="468.3" y1="456.2" x2="468.3" y2="457.8" stroke="#111" stroke-width="0.6"/>
<line x1="471.6" y1="456.2" x2="471.6" y2="457.8" stroke="#111" stroke-width="0.6"/>
<line x1="474.9" y1="456.2" x2="474.9" y2="457.8" stroke="#111" stroke-width="0.6"/>
<line x1="478.2" y1="456.2" x2="478.2" y2="457.8" stroke="#111" stroke-width="0.6"/>
<line x1="481.5" y1="456.2" x2="481.5" y2="457.8" stroke="#111" stroke-width="0.6"/>
<line x1="484.8" y1="456.2" x2="484.8" y2="457.8" stroke="#111" stroke-width="0.6"/>
<line x1="488.1" y1="456.2" x2="488.1" y2="457.8" stroke="#111" stroke-width="0.6"/>
<text x="391.5" y="466.0" font-size="5.9" text-anchor="middle" fill="#333">0</text>
<text x="400.7" y="466.0" font-size="5.9" text-anchor="middle" fill="#333">10<tspan font-size="4.1" dy="-2.7">2</tspan></text>
<text x="431.7" y="466.0" font-size="5.9" text-anchor="middle" fill="#333">10<tspan font-size="4.1" dy="-2.7">3</tspan></text>
<text x="457.2" y="466.0" font-size="5.9" text-anchor="middle" fill="#333">10<tspan font-size="4.1" dy="-2.7">4</tspan></text>
<text x="482.4" y="466.0" font-size="5.9" text-anchor="middle" fill="#333">10<tspan font-size="4.1" dy="-2.7">5</tspan></text>
<text transform="translate(363.0,395.0) rotate(-90)" font-size="9.89" text-anchor="middle" textLength="26.77" lengthAdjust="spacingAndGlyphs">CD161</text>
<g filter="url(#bl2)" fill="#000">
<rect x="63.5" y="550.5" width="33.0" height="19.0" rx="9.0"/>
</g>
<path stroke="#000" stroke-opacity="1.0" stroke-width="1.1" d="M79 500.5h1m11 .5h1m-11 1h1m-1 1h1m-5.5 1h1m10 0h1m-.5 0h1m-7 .5h1m3 .5h1m45 0h1m-62.5 .5h1m9 0h1m2.5 0h1m1 0h1m-14.5 .5h1m3 0h1m-11 .5h1m13 0h1m7.5 0h1m-17.5 .5h1m7 .5h1m.5 0h1m-1 .5h1m5.5 0h1m-11 .5h1m1 0h1m2 0h1m-3.5 .5h1m.5 0h1m6.5 0h1m-10.5 .5h1m3 0h1m7 0h1m.5 .5h1m-12 .5h1m-5.5 1h1m1.5 0h1m3 0h1m4.5 0h1m-16 .5h1m1.5 .5h1m-3 4h1m7 0h1m.5 0h1m-.5 0h1m2.5 0h1m-.5 0h1m-21.5 .5h1m0 0h1m.5 0h1m9 0h1m2 0h1m-12.5 .5h1m6.5 0h1m-10 .5h1m2 0h1m-.5 0h1m.5 0h1m1 0h1m.5 0h1m-.5 0h1m-.5 0h1m5 0h1m4 0h1m6 0h1m-32.5 .5h1m7 0h1m1.5 0h1m-.5 0h1m-.5 0h1m-.5 0h1m-.5 0h1m1 0h1m-.5 0h1m5.5 0h1m-19.5 .5h1m.5 0h1m0 0h1m0 0h1m.5 0h1m0 0h1m1 0h1m1.5 0h1m1 0h1m0 0h1m6 0h1m-30.5 .5h1m10 0h1m4.5 0h1m2 0h1m-.5 0h1m1.5 0h1m1 0h1m3 0h1m2 0h1m-30.5 .5h1m3 0h1m3 0h1m2.5 0h1m0 0h1m0 0h1m0 0h1m3.5 0h1m2.5 0h1m0 0h1m1 0h1m8 0h1m-34 .5h1m8 0h1m0 0h1m4 0h1m2.5 0h1m1.5 0h1m-19.5 .5h1m1 0h1m-.5 0h1m1.5 0h1m-.5 0h1m0 0h1m.5 0h1m1.5 0h1m3.5 0h1m-.5 0h1m-.5 0h1m-.5 0h1m-.5 0h1m-.5 0h1m.5 0h1m1 0h1m-.5 0h1m-20.5 .5h1m3 0h1m-.5 0h1m2.5 0h1m1.5 0h1m-.5 0h1m0 0h1m0 0h1m0 0h1m1 0h1m10 0h1m-30 .5h1m.5 0h1m5 0h1m0 0h1m-.5 0h1m-.5 0h1m0 0h1m-.5 0h1m-.5 0h1m1.5 0h1m-.5 0h1m0 0h1m0 0h1m-14.5 .5h1m-.5 0h1m0 0h1m-.5 0h1m1.5 0h1m0 0h1m.5 0h1m0 0h1m0 0h1m2 0h1m1 0h1m1 0h1m0 0h1m-.5 0h1m-25.5 .5h1m6 0h1m3 0h1m-.5 0h1m0 0h1m-.5 0h1m0 0h1m0 0h1m1 0h1m-.5 0h1m-.5 0h1m.5 0h1m2 0h1m.5 0h1m3.5 0h1m-18.5 .5h1m-.5 0h1m-.5 0h1m1 0h1m-.5 0h1m1 0h1m0 0h1m1 0h1m-.5 0h1m-.5 0h1m0 0h1m2 0h1m1.5 0h1m.5 0h1m-33 .5h1m3.5 0h1m-.5 0h1m4 0h1m-.5 0h1m-.5 0h1m0 0h1m-.5 0h1m0 0h1m-.5 0h1m1.5 0h1m2 0h1m.5 0h1m.5 0h1m-.5 0h1m.5 0h1m2.5 0h1m2 0h1m-32.5 .5h1m2.5 0h1m5.5 0h1m1 0h1m0 0h1m0 0h1m.5 0h1m-.5 0h1m0 0h1m0 0h1m0 0h1m0 0h1m0 0h1m0 0h1m1 0h1m4.5 0h1m-22 .5h1m1 0h1m4 0h1m1.5 0h1m-.5 0h1m1 0h1m0 0h1m-.5 0h1m1.5 0h1m-.5 0h1m-.5 0h1m-.5 0h1m0 0h1m4 0h1m-24.5 .5h1m2 0h1m.5 0h1m0 0h1m0 0h1m-.5 0h1m.5 0h1m0 0h1m0 0h1m-.5 0h1m0 0h1m-.5 0h1m-.5 0h1m1 0h1m-.5 0h1m1.5 0h1m1.5 0h1m-.5 0h1m-.5 0h1m-29 .5h1m6 0h1m.5 0h1m3 0h1m.5 0h1m.5 0h1m2.5 0h1m0 0h1m-.5 0h1m.5 0h1m0 0h1m.5 0h1m5.5 0h1m2 0h1m-35.5 .5h1m5.5 0h1m0 0h1m-.5 0h1m2 0h1m-.5 0h1m.5 0h1m0 0h1m.5 0h1m.5 0h1m0 0h1m-.5 0h1m-.5 0h1m-.5 0h1m-.5 0h1m-.5 0h1m1.5 0h1m1 0h1m1.5 0h1m-.5 0h1m4 0h1m-28 .5h1m1 0h1m1.5 0h1m2 0h1m.5 0h1m2.5 0h1m-.5 0h1m1.5 0h1m2.5 0h1m-.5 0h1m2 0h1m0 0h1m-26.5 .5h1m-.5 0h1m3.5 0h1m0 0h1m0 0h1m0 0h1m0 0h1m.5 0h1m-.5 0h1m-.5 0h1m0 0h1m2 0h1m0 0h1m0 0h1m-.5 0h1m-.5 0h1m0 0h1m-.5 0h1m-.5 0h1m.5 0h1m.5 0h1m.5 0h1m0 0h1m.5 0h1m-31.5 .5h1m2 0h1m3 0h1m2.5 0h1m-.5 0h1m-.5 0h1m-.5 0h1m-.5 0h1m3 0h1m.5 0h1m-.5 0h1m-.5 0h1m0 0h1m0 0h1m.5 0h1m.5 0h1m-.5 0h1m2.5 0h1m2 0h1m-29 .5h1m3.5 0h1m1.5 0h1m2.5 0h1m1.5 0h1m0 0h1m-.5 0h1m.5 0h1m0 0h1m-19 .5h1m3.5 0h1m0 0h1m1 0h1m-.5 0h1m1.5 0h1m-.5 0h1m.5 0h1m-.5 0h1m.5 0h1m.5 0h1m-.5 0h1m-.5 0h1m0 0h1m.5 0h1m-.5 0h1m.5 0h1m2 0h1m2.5 0h1m-33 .5h1m0 0h1m3.5 0h1m2 0h1m1.5 0h1m1 0h1m0 0h1m-.5 0h1m2 0h1m0 0h1m-.5 0h1m1 0h1m1.5 0h1m-.5 0h1m5 0h1m1.5 0h1m-29.5 .5h1m1 0h1m0 0h1m2.5 0h1m1.5 0h1m0 0h1m-.5 0h1m-.5 0h1m-.5 0h1m-.5 0h1m.5 0h1m-.5 0h1m0 0h1m0 0h1m-.5 0h1m0 0h1m-.5 0h1m1 0h1m0 0h1m-.5 0h1m-.5 0h1m.5 0h1m1.5 0h1m-27 .5h1m4 0h1m1 0h1m.5 0h1m.5 0h1m0 0h1m2.5 0h1m0 0h1m0 0h1m0 0h1m-.5 0h1m-.5 0h1m.5 0h1m1.5 0h1m-.5 0h1m1.5 0h1m-26.5 .5h1m4 0h1m.5 0h1m-.5 0h1m1 0h1m0 0h1m1 0h1m1 0h1m6.5 0h1m1.5 0h1m0 0h1m-.5 0h1m-29.5 .5h1m5 0h1m0 0h1m0 0h1m1 0h1m-.5 0h1m0 0h1m-.5 0h1m-.5 0h1m-.5 0h1m.5 0h1m-.5 0h1m0 0h1m0 0h1m-.5 0h1m2.5 0h1m-.5 0h1m-.5 0h1m-.5 0h1m-.5 0h1m0 0h1m-.5 0h1m0 0h1m-.5 0h1m1 0h1m-30 .5h1m3 0h1m-.5 0h1m0 0h1m.5 0h1m-.5 0h1m1.5 0h1m0 0h1m0 0h1m4.5 0h1m0 0h1m0 0h1m0 0h1m0 0h1m-.5 0h1m.5 0h1m0 0h1m.5 0h1m0 0h1m.5 0h1m.5 0h1m-.5 0h1m-22.5 .5h1m.5 0h1m2 0h1m-.5 0h1m-.5 0h1m-.5 0h1m0 0h1m0 0h1m0 0h1m-.5 0h1m-.5 0h1m1.5 0h1m-.5 0h1m-.5 0h1m0 0h1m-.5 0h1m0 0h1m1 0h1m1 0h1m4 0h1m-27.5 .5h1m.5 0h1m0 0h1m-.5 0h1m.5 0h1m-.5 0h1m0 0h1m1 0h1m-.5 0h1m-.5 0h1m1.5 0h1m-.5 0h1m0 0h1m0 0h1m-.5 0h1m.5 0h1m0 0h1m0 0h1m5 0h1m-24 .5h1m0 0h1m1 0h1m0 0h1m1.5 0h1m3.5 0h1m0 0h1m-.5 0h1m-.5 0h1m-.5 0h1m3 0h1m0 0h1m0 0h1m4 0h1m-27 .5h1m1.5 0h1m-.5 0h1m-.5 0h1m.5 0h1m-.5 0h1m0 0h1m.5 0h1m0 0h1m-.5 0h1m.5 0h1m0 0h1m-.5 0h1m-.5 0h1m3 0h1m1 0h1m.5 0h1m-.5 0h1m1.5 0h1m-27 .5h1m1 0h1m2.5 0h1m-.5 0h1m2 0h1m0 0h1m0 0h1m.5 0h1m-.5 0h1m-.5 0h1m0 0h1m-.5 0h1m-.5 0h1m0 0h1m-.5 0h1m.5 0h1m.5 0h1m0 0h1m1 0h1m0 0h1m-.5 0h1m5.5 0h1m-27.5 .5h1m-.5 0h1m-.5 0h1m1.5 0h1m0 0h1m2.5 0h1m1.5 0h1m.5 0h1m.5 0h1m-.5 0h1m-.5 0h1m.5 0h1m-.5 0h1m1.5 0h1m5.5 0h1m-30.5 .5h1m2 0h1m3 0h1m-.5 0h1m-.5 0h1m-.5 0h1m1.5 0h1m1 0h1m2 0h1m.5 0h1m-.5 0h1m-.5 0h1m0 0h1m2 0h1m3 0h1m0 0h1m1 0h1m-28.5 .5h1m1 0h1m0 0h1m.5 0h1m1 0h1m1.5 0h1m-.5 0h1m0 0h1m0 0h1m-.5 0h1m1.5 0h1m-.5 0h1m-.5 0h1m-.5 0h1m1 0h1m-13.5 .5h1m1 0h1m0 0h1m-.5 0h1m2 0h1m2 0h1m-.5 0h1m-.5 0h1m.5 0h1m0 0h1m8 0h1m-28 .5h1m4 0h1m-.5 0h1m-.5 0h1m0 0h1m-.5 0h1m-.5 0h1m-.5 0h1m2 0h1m0 0h1m-.5 0h1m0 0h1m-.5 0h1m-.5 0h1m0 0h1m.5 0h1m0 0h1m.5 0h1m0 0h1m5.5 0h1m-33.5 .5h1m.5 0h1m1 0h1m-.5 0h1m4 0h1m2 0h1m1 0h1m-.5 0h1m0 0h1m0 0h1m.5 0h1m.5 0h1m-.5 0h1m.5 0h1m3.5 0h1m-24 .5h1m2.5 0h1m2 0h1m-.5 0h1m1.5 0h1m1 0h1m-.5 0h1m0 0h1m-.5 0h1m.5 0h1m1 0h1m3 0h1m-.5 0h1m3 0h1m1.5 0h1m.5 0h1m-26.5 .5h1m2.5 0h1m2.5 0h1m0 0h1m-.5 0h1m-.5 0h1m.5 0h1m-.5 0h1m0 0h1m.5 0h1m0 0h1m1.5 0h1m1 0h1m1.5 0h1m0 0h1m-.5 0h1m-28 .5h1m1 0h1m-.5 0h1m1.5 0h1m-.5 0h1m3.5 0h1m-.5 0h1m-.5 0h1m-.5 0h1m-.5 0h1m0 0h1m-.5 0h1m.5 0h1m-.5 0h1m0 0h1m-.5 0h1m-.5 0h1m3.5 0h1m.5 0h1m.5 0h1m-27.5 .5h1m-.5 0h1m0 0h1m.5 0h1m.5 0h1m0 0h1m-.5 0h1m2.5 0h1m1.5 0h1m0 0h1m-.5 0h1m-.5 0h1m-.5 0h1m0 0h1m1.5 0h1m.5 0h1m0 0h1m-.5 0h1m0 0h1m-.5 0h1m-.5 0h1m0 0h1m-.5 0h1m.5 0h1m-28 .5h1m4 0h1m2 0h1m-.5 0h1m0 0h1m2.5 0h1m-.5 0h1m-.5 0h1m0 0h1m.5 0h1m0 0h1m-.5 0h1m1 0h1m-.5 0h1m1.5 0h1m-.5 0h1m.5 0h1m-.5 0h1m3 0h1m-33.5 .5h1m10 0h1m0 0h1m2.5 0h1m1 0h1m-.5 0h1m-.5 0h1m-.5 0h1m.5 0h1m-.5 0h1m0 0h1m.5 0h1m1 0h1m-.5 0h1m1.5 0h1m-.5 0h1m2 0h1m4 0h1m-33 .5h1m1 0h1m0 0h1m.5 0h1m0 0h1m1 0h1m-.5 0h1m0 0h1m0 0h1m.5 0h1m0 0h1m-.5 0h1m-.5 0h1m-.5 0h1m-.5 0h1m0 0h1m-.5 0h1m1 0h1m-.5 0h1m1 0h1m.5 0h1m1.5 0h1m7 0h1m-35 .5h1m0 0h1m2 0h1m.5 0h1m.5 0h1m-.5 0h1m-.5 0h1m-.5 0h1m.5 0h1m1.5 0h1m-.5 0h1m-.5 0h1m0 0h1m-.5 0h1m-.5 0h1m-.5 0h1m0 0h1m.5 0h1m0 0h1m0 0h1m-.5 0h1m0 0h1m-.5 0h1m1.5 0h1m-.5 0h1m-27.5 .5h1m.5 0h1m2.5 0h1m.5 0h1m-.5 0h1m.5 0h1m.5 0h1m-.5 0h1m-.5 0h1m0 0h1m1.5 0h1m-.5 0h1m-.5 0h1m-.5 0h1m-.5 0h1m-.5 0h1m-.5 0h1m0 0h1m1 0h1m-.5 0h1m-.5 0h1m-.5 0h1m1 0h1m0 0h1m.5 0h1m-.5 0h1m-.5 0h1m3 0h1m-30.5 .5h1m2 0h1m2 0h1m.5 0h1m-.5 0h1m-.5 0h1m-.5 0h1m-.5 0h1m-.5 0h1m.5 0h1m.5 0h1m-.5 0h1m0 0h1m-.5 0h1m2 0h1m-.5 0h1m-.5 0h1m-.5 0h1m.5 0h1m0 0h1m1 0h1m-.5 0h1m-28 .5h1m2.5 0h1m-.5 0h1m-.5 0h1m1 0h1m1 0h1m0 0h1m.5 0h1m0 0h1m-.5 0h1m0 0h1m-.5 0h1m-.5 0h1m0 0h1m-.5 0h1m.5 0h1m-.5 0h1m2 0h1m0 0h1m1.5 0h1m0 0h1m4 0h1m9 0h1m-40 .5h1m2 0h1m1 0h1m-.5 0h1m1 0h1m-.5 0h1m-.5 0h1m1 0h1m0 0h1m0 0h1m1.5 0h1m-.5 0h1m-.5 0h1m1.5 0h1m-.5 0h1m0 0h1m-.5 0h1m-.5 0h1m-.5 0h1m2.5 0h1m2.5 0h1m4.5 0h1m-31.5 .5h1m0 0h1m1 0h1m0 0h1m0 0h1m-.5 0h1m.5 0h1m-.5 0h1m-.5 0h1m-.5 0h1m.5 0h1m0 0h1m-.5 0h1m-.5 0h1m2 0h1m-.5 0h1m-.5 0h1m-.5 0h1m.5 0h1m0 0h1m.5 0h1m-.5 0h1m-.5 0h1m2 0h1m2.5 0h1m-32 .5h1m1 0h1m3 0h1m0 0h1m2 0h1m-.5 0h1m2 0h1m-.5 0h1m-.5 0h1m1 0h1m.5 0h1m-.5 0h1m1 0h1m-.5 0h1m-.5 0h1m.5 0h1m.5 0h1m1.5 0h1m-25 .5h1m.5 0h1m-.5 0h1m-.5 0h1m-.5 0h1m0 0h1m-.5 0h1m-.5 0h1m-.5 0h1m-.5 0h1m-.5 0h1m-.5 0h1m.5 0h1m-.5 0h1m1 0h1m0 0h1m-.5 0h1m0 0h1m-.5 0h1m0 0h1m-.5 0h1m0 0h1m0 0h1m0 0h1m-.5 0h1m-.5 0h1m-.5 0h1m2 0h1m-30 .5h1m.5 0h1m5 0h1m0 0h1m0 0h1m-.5 0h1m1.5 0h1m0 0h1m-.5 0h1m0 0h1m.5 0h1m0 0h1m-.5 0h1m-.5 0h1m-.5 0h1m-.5 0h1m-.5 0h1m-.5 0h1m0 0h1m1 0h1m-.5 0h1m.5 0h1m11 0h1m-35 .5h1m1 0h1m-.5 0h1m.5 0h1m0 0h1m0 0h1m.5 0h1m-.5 0h1m-.5 0h1m0 0h1m-.5 0h1m.5 0h1m-.5 0h1m.5 0h1m-.5 0h1m.5 0h1m-.5 0h1m-.5 0h1m0 0h1m.5 0h1m0 0h1m-.5 0h1m.5 0h1m-.5 0h1m-.5 0h1m-.5 0h1m2 0h1m.5 0h1m1.5 0h1m-34 .5h1m4.5 0h1m0 0h1m1 0h1m-.5 0h1m1.5 0h1m1.5 0h1m-.5 0h1m-.5 0h1m0 0h1m.5 0h1m.5 0h1m1 0h1m-.5 0h1m0 0h1m-.5 0h1m-.5 0h1m-.5 0h1m1 0h1m0 0h1m0 0h1m.5 0h1m-.5 0h1m-28.5 .5h1m-.5 0h1m1 0h1m2 0h1m-.5 0h1m.5 0h1m0 0h1m.5 0h1m-.5 0h1m.5 0h1m-.5 0h1m1 0h1m.5 0h1m-.5 0h1m-.5 0h1m-.5 0h1m0 0h1m-.5 0h1m-.5 0h1m-.5 0h1m.5 0h1m-.5 0h1m0 0h1m-.5 0h1m-19.5 .5h1m-.5 0h1m-.5 0h1m1.5 0h1m0 0h1m.5 0h1m0 0h1m2.5 0h1m-.5 0h1m0 0h1m-.5 0h1m-.5 0h1m1 0h1m0 0h1m-.5 0h1m0 0h1m.5 0h1m1 0h1m-.5 0h1m-.5 0h1m-.5 0h1m-21 .5h1m1 0h1m.5 0h1m-.5 0h1m0 0h1m0 0h1m-.5 0h1m0 0h1m-.5 0h1m-.5 0h1m1.5 0h1m1 0h1m.5 0h1m4.5 0h1m4.5 0h1m-33.5 .5h1m.5 0h1m1 0h1m1 0h1m0 0h1m0 0h1m.5 0h1m0 0h1m-.5 0h1m-.5 0h1m-.5 0h1m2 0h1m-.5 0h1m-.5 0h1m0 0h1m-.5 0h1m-.5 0h1m0 0h1m-.5 0h1m-.5 0h1m0 0h1m4 0h1m-.5 0h1m-29.5 .5h1m4 0h1m3 0h1m-.5 0h1m1.5 0h1m-.5 0h1m1 0h1m.5 0h1m0 0h1m0 0h1m.5 0h1m3 0h1m-.5 0h1m-.5 0h1m6 0h1m-.5 0h1m-27.5 .5h1m-.5 0h1m0 0h1m1 0h1m.5 0h1m.5 0h1m0 0h1m-.5 0h1m1 0h1m0 0h1m0 0h1m-.5 0h1m0 0h1m-.5 0h1m0 0h1m.5 0h1m2 0h1m0 0h1m10.5 0h1m-40 .5h1m1.5 0h1m.5 0h1m1 0h1m.5 0h1m.5 0h1m1.5 0h1m-.5 0h1m-.5 0h1m.5 0h1m-.5 0h1m-.5 0h1m-.5 0h1m-.5 0h1m.5 0h1m1.5 0h1m0 0h1m0 0h1m0 0h1m0 0h1m5 0h1m0 0h1m-20.5 .5h1m-.5 0h1m0 0h1m.5 0h1m1.5 0h1m-.5 0h1m2 0h1m0 0h1m-.5 0h1m-.5 0h1m2 0h1m3 0h1m-.5 0h1m-23 .5h1m0 0h1m-.5 0h1m0 0h1m1 0h1m0 0h1m0 0h1m-.5 0h1m-.5 0h1m2.5 0h1m-.5 0h1m-.5 0h1m1 0h1m-.5 0h1m-.5 0h1m-.5 0h1m-.5 0h1m1 0h1m4 0h1m5.5 0h1m-28 .5h1m-.5 0h1m-.5 0h1m-.5 0h1m0 0h1m3 0h1m3.5 0h1m0 0h1m-.5 0h1m5 0h1m3 0h1m-31 .5h1m1.5 0h1m2 0h1m0 0h1m-.5 0h1m-.5 0h1m2.5 0h1m0 0h1m0 0h1m0 0h1m-.5 0h1m-.5 0h1m.5 0h1m.5 0h1m-.5 0h1m0 0h1m.5 0h1m1 0h1m-20.5 .5h1m1 0h1m-.5 0h1m2 0h1m-.5 0h1m-.5 0h1m-.5 0h1m-.5 0h1m0 0h1m-.5 0h1m-.5 0h1m-.5 0h1m-.5 0h1m0 0h1m-.5 0h1m0 0h1m2 0h1m1 0h1m0 0h1m0 0h1m-.5 0h1m.5 0h1m4.5 0h1m-35 .5h1m9 0h1m.5 0h1m1.5 0h1m3 0h1m-.5 0h1m2.5 0h1m0 0h1m-.5 0h1m5 0h1m4 0h1m-37 .5h1m1 0h1m1 0h1m1 0h1m29 0h1m2.5 0h1m-39 .5h1m33 0h1m-33 .5h1m.5 0h1m28.5 .5h1m9.5 0h1m-9 .5h1m2 0h1m-39 .5h1m34.5 0h1m-37.5 .5h1m1 0h1m-.5 0h1m.5 0h1m-.5 0h1m-.5 0h1m28 .5h1m1.5 0h1m-34 .5h1m-4 .5h1m1 0h1m29.5 0h1m3 0h1m-36.5 .5h1m2 0h1m30 0h1m-.5 0h1m-4 .5h1m0 0h1m0 0h1m-35.5 .5h1m.5 0h1m31.5 0h1m.5 0h1m-34 .5h1m0 0h1m29 .5h1m-.5 0h1m-.5 0h1m.5 0h1m-38.5 .5h1m2.5 0h1m.5 0h1m32.5 0h1m0 0h1m.5 0h1m-41.5 .5h1m2 0h1m1.5 0h1m28 .5h1m-.5 0h1m5 0h1m-41.5 .5h1m0 0h1m31.5 0h1m1 0h1m-33 .5h1m35.5 0h1m5 0h1m-47 .5h1m-1.5 .5h1m33.5 0h1m2 0h1m-4.5 .5h1m3.5 0h1m.5 0h1m-5.5 .5h1m-35 .5h1m32.5 0h1m-35 .5h1m0 .5h1m34.5 0h1m12.5 0h1m-48 .5h1m-.5 0h1m9.5 0h1m7.5 0h1m.5 0h1m.5 0h1m0 0h1m6 0h1m-.5 0h1m1 0h1m-35.5 .5h1m4.5 0h1m1 0h1m0 0h1m.5 0h1m0 0h1m-.5 0h1m-.5 0h1m0 0h1m0 0h1m0 0h1m0 0h1m.5 0h1m1 0h1m0 0h1m2 0h1m.5 0h1m0 0h1m-.5 0h1m-28 .5h1m8.5 0h1m-.5 0h1m1.5 0h1m0 0h1m3 0h1m-.5 0h1m2.5 0h1m-.5 0h1m-.5 0h1m.5 0h1m2 0h1m1 0h1m-20 .5h1m.5 0h1m-.5 0h1m0 0h1m-.5 0h1m1.5 0h1m2.5 0h1m.5 0h1m1.5 0h1m.5 0h1m2 0h1m-.5 0h1m-26 .5h1m1.5 0h1m1.5 0h1m-.5 0h1m2 0h1m0 0h1m0 0h1m-.5 0h1m0 0h1m1.5 0h1m1.5 0h1m6 0h1m-.5 0h1m1.5 0h1m1.5 0h1m-32 .5h1m10 0h1m5.5 0h1m1 0h1m1 0h1m-25.5 .5h1m12.5 0h1m7.5 0h1m0 0h1m-7 .5h1m7 0h1m-22 .5h1m12 0h1m1 0h1m.5 0h1m-5 .5h1m.5 0h1m.5 0h1m-7 .5h1m.5 0h1m.5 0h1m-.5 0h1m.5 0h1m2 0h1m-6 .5h1m6 0h1m-2 .5h1m-2.5 .5h1m-4 1h1m6 1h1m-7.5 .5h1m-5 .5h1"/>
<rect x="58.2" y="472.0" width="113.0" height="112.5" fill="none" stroke="#111" stroke-width="1.3"/>
<line x1="101.8" y1="472.0" x2="101.8" y2="584.5" stroke="#111" stroke-width="1.3"/>
<line x1="58.2" y1="515.8" x2="171.2" y2="515.8" stroke="#111" stroke-width="1.3"/>
<text x="60.1" y="481.2" font-size="9.57" text-anchor="start" font-weight="normal" textLength="24.67" lengthAdjust="spacingAndGlyphs" >0.47%</text>
<text x="171.6" y="481.2" font-size="9.57" text-anchor="end" font-weight="normal" textLength="24.67" lengthAdjust="spacingAndGlyphs" >0.04%</text>
<text x="60.1" y="582.0" font-size="9.57" text-anchor="start" font-weight="normal" textLength="24.67" lengthAdjust="spacingAndGlyphs" >99.4%</text>
<text x="170.8" y="582.0" font-size="9.57" text-anchor="end" font-weight="normal" textLength="19.83" lengthAdjust="spacingAndGlyphs" >0.1%</text>
<line x1="55.6" y1="480.5" x2="58.2" y2="480.5" stroke="#111" stroke-width="1.0"/>
<text x="53.6" y="482.2" font-size="5.9" text-anchor="end" fill="#333">10<tspan font-size="4.1" dy="-2.7">5</tspan></text>
<line x1="55.6" y1="503.8" x2="58.2" y2="503.8" stroke="#111" stroke-width="1.0"/>
<text x="53.6" y="505.4" font-size="5.9" text-anchor="end" fill="#333">10<tspan font-size="4.1" dy="-2.7">4</tspan></text>
<line x1="55.6" y1="526.2" x2="58.2" y2="526.2" stroke="#111" stroke-width="1.0"/>
<text x="53.6" y="528.0" font-size="5.9" text-anchor="end" fill="#333">10<tspan font-size="4.1" dy="-2.7">3</tspan></text>
<line x1="55.6" y1="551.2" x2="58.2" y2="551.2" stroke="#111" stroke-width="1.0"/>
<text x="53.6" y="553.0" font-size="5.9" text-anchor="end" fill="#333">10<tspan font-size="4.1" dy="-2.7">2</tspan></text>
<line x1="55.6" y1="562.5" x2="58.2" y2="562.5" stroke="#111" stroke-width="1.0"/>
<text x="53.6" y="564.2" font-size="5.9" text-anchor="end" fill="#333">0</text>
<line x1="56.8" y1="475.0" x2="58.2" y2="475.0" stroke="#111" stroke-width="0.6"/>
<line x1="56.8" y1="478.3" x2="58.2" y2="478.3" stroke="#111" stroke-width="0.6"/>
<line x1="56.8" y1="481.6" x2="58.2" y2="481.6" stroke="#111" stroke-width="0.6"/>
<line x1="56.8" y1="484.9" x2="58.2" y2="484.9" stroke="#111" stroke-width="0.6"/>
<line x1="56.8" y1="488.2" x2="58.2" y2="488.2" stroke="#111" stroke-width="0.6"/>
<line x1="56.8" y1="491.5" x2="58.2" y2="491.5" stroke="#111" stroke-width="0.6"/>
<line x1="56.8" y1="494.8" x2="58.2" y2="494.8" stroke="#111" stroke-width="0.6"/>
<line x1="56.8" y1="498.1" x2="58.2" y2="498.1" stroke="#111" stroke-width="0.6"/>
<line x1="56.8" y1="501.4" x2="58.2" y2="501.4" stroke="#111" stroke-width="0.6"/>
<line x1="56.8" y1="504.7" x2="58.2" y2="504.7" stroke="#111" stroke-width="0.6"/>
<line x1="56.8" y1="508.0" x2="58.2" y2="508.0" stroke="#111" stroke-width="0.6"/>
<line x1="56.8" y1="511.3" x2="58.2" y2="511.3" stroke="#111" stroke-width="0.6"/>
<line x1="56.8" y1="514.6" x2="58.2" y2="514.6" stroke="#111" stroke-width="0.6"/>
<line x1="56.8" y1="517.9" x2="58.2" y2="517.9" stroke="#111" stroke-width="0.6"/>
<line x1="56.8" y1="521.2" x2="58.2" y2="521.2" stroke="#111" stroke-width="0.6"/>
<line x1="56.8" y1="524.5" x2="58.2" y2="524.5" stroke="#111" stroke-width="0.6"/>
<line x1="56.8" y1="527.8" x2="58.2" y2="527.8" stroke="#111" stroke-width="0.6"/>
<line x1="56.8" y1="531.1" x2="58.2" y2="531.1" stroke="#111" stroke-width="0.6"/>
<line x1="56.8" y1="534.4" x2="58.2" y2="534.4" stroke="#111" stroke-width="0.6"/>
<line x1="56.8" y1="537.7" x2="58.2" y2="537.7" stroke="#111" stroke-width="0.6"/>
<line x1="56.8" y1="541.0" x2="58.2" y2="541.0" stroke="#111" stroke-width="0.6"/>
<line x1="56.8" y1="544.3" x2="58.2" y2="544.3" stroke="#111" stroke-width="0.6"/>
<line x1="56.8" y1="547.6" x2="58.2" y2="547.6" stroke="#111" stroke-width="0.6"/>
<line x1="56.8" y1="550.9" x2="58.2" y2="550.9" stroke="#111" stroke-width="0.6"/>
<line x1="56.8" y1="554.2" x2="58.2" y2="554.2" stroke="#111" stroke-width="0.6"/>
<line x1="56.8" y1="557.5" x2="58.2" y2="557.5" stroke="#111" stroke-width="0.6"/>
<line x1="56.8" y1="560.8" x2="58.2" y2="560.8" stroke="#111" stroke-width="0.6"/>
<line x1="56.8" y1="564.1" x2="58.2" y2="564.1" stroke="#111" stroke-width="0.6"/>
<line x1="56.8" y1="567.4" x2="58.2" y2="567.4" stroke="#111" stroke-width="0.6"/>
<line x1="56.8" y1="570.7" x2="58.2" y2="570.7" stroke="#111" stroke-width="0.6"/>
<line x1="56.8" y1="574.0" x2="58.2" y2="574.0" stroke="#111" stroke-width="0.6"/>
<line x1="56.8" y1="577.3" x2="58.2" y2="577.3" stroke="#111" stroke-width="0.6"/>
<line x1="56.8" y1="580.6" x2="58.2" y2="580.6" stroke="#111" stroke-width="0.6"/>
<line x1="71.0" y1="584.5" x2="71.0" y2="587.1" stroke="#111" stroke-width="1.0"/>
<line x1="82.0" y1="584.5" x2="82.0" y2="587.1" stroke="#111" stroke-width="1.0"/>
<line x1="110.0" y1="584.5" x2="110.0" y2="587.1" stroke="#111" stroke-width="1.0"/>
<line x1="136.0" y1="584.5" x2="136.0" y2="587.1" stroke="#111" stroke-width="1.0"/>
<line x1="160.0" y1="584.5" x2="160.0" y2="587.1" stroke="#111" stroke-width="1.0"/>
<line x1="61.2" y1="584.5" x2="61.2" y2="586.0" stroke="#111" stroke-width="0.6"/>
<line x1="64.5" y1="584.5" x2="64.5" y2="586.0" stroke="#111" stroke-width="0.6"/>
<line x1="67.8" y1="584.5" x2="67.8" y2="586.0" stroke="#111" stroke-width="0.6"/>
<line x1="71.1" y1="584.5" x2="71.1" y2="586.0" stroke="#111" stroke-width="0.6"/>
<line x1="74.4" y1="584.5" x2="74.4" y2="586.0" stroke="#111" stroke-width="0.6"/>
<line x1="77.7" y1="584.5" x2="77.7" y2="586.0" stroke="#111" stroke-width="0.6"/>
<line x1="81.0" y1="584.5" x2="81.0" y2="586.0" stroke="#111" stroke-width="0.6"/>
<line x1="84.3" y1="584.5" x2="84.3" y2="586.0" stroke="#111" stroke-width="0.6"/>
<line x1="87.6" y1="584.5" x2="87.6" y2="586.0" stroke="#111" stroke-width="0.6"/>
<line x1="90.9" y1="584.5" x2="90.9" y2="586.0" stroke="#111" stroke-width="0.6"/>
<line x1="94.2" y1="584.5" x2="94.2" y2="586.0" stroke="#111" stroke-width="0.6"/>
<line x1="97.5" y1="584.5" x2="97.5" y2="586.0" stroke="#111" stroke-width="0.6"/>
<line x1="100.8" y1="584.5" x2="100.8" y2="586.0" stroke="#111" stroke-width="0.6"/>
<line x1="104.1" y1="584.5" x2="104.1" y2="586.0" stroke="#111" stroke-width="0.6"/>
<line x1="107.4" y1="584.5" x2="107.4" y2="586.0" stroke="#111" stroke-width="0.6"/>
<line x1="110.7" y1="584.5" x2="110.7" y2="586.0" stroke="#111" stroke-width="0.6"/>
<line x1="114.0" y1="584.5" x2="114.0" y2="586.0" stroke="#111" stroke-width="0.6"/>
<line x1="117.3" y1="584.5" x2="117.3" y2="586.0" stroke="#111" stroke-width="0.6"/>
<line x1="120.6" y1="584.5" x2="120.6" y2="586.0" stroke="#111" stroke-width="0.6"/>
<line x1="123.9" y1="584.5" x2="123.9" y2="586.0" stroke="#111" stroke-width="0.6"/>
<line x1="127.2" y1="584.5" x2="127.2" y2="586.0" stroke="#111" stroke-width="0.6"/>
<line x1="130.5" y1="584.5" x2="130.5" y2="586.0" stroke="#111" stroke-width="0.6"/>
<line x1="133.8" y1="584.5" x2="133.8" y2="586.0" stroke="#111" stroke-width="0.6"/>
<line x1="137.1" y1="584.5" x2="137.1" y2="586.0" stroke="#111" stroke-width="0.6"/>
<line x1="140.4" y1="584.5" x2="140.4" y2="586.0" stroke="#111" stroke-width="0.6"/>
<line x1="143.8" y1="584.5" x2="143.8" y2="586.0" stroke="#111" stroke-width="0.6"/>
<line x1="147.1" y1="584.5" x2="147.1" y2="586.0" stroke="#111" stroke-width="0.6"/>
<line x1="150.4" y1="584.5" x2="150.4" y2="586.0" stroke="#111" stroke-width="0.6"/>
<line x1="153.7" y1="584.5" x2="153.7" y2="586.0" stroke="#111" stroke-width="0.6"/>
<line x1="157.0" y1="584.5" x2="157.0" y2="586.0" stroke="#111" stroke-width="0.6"/>
<line x1="160.3" y1="584.5" x2="160.3" y2="586.0" stroke="#111" stroke-width="0.6"/>
<line x1="163.6" y1="584.5" x2="163.6" y2="586.0" stroke="#111" stroke-width="0.6"/>
<line x1="166.9" y1="584.5" x2="166.9" y2="586.0" stroke="#111" stroke-width="0.6"/>
<text x="71.0" y="595.0" font-size="5.9" text-anchor="middle" fill="#333">0</text>
<text x="82.0" y="595.0" font-size="5.9" text-anchor="middle" fill="#333">10<tspan font-size="4.1" dy="-2.7">2</tspan></text>
<text x="110.0" y="595.0" font-size="5.9" text-anchor="middle" fill="#333">10<tspan font-size="4.1" dy="-2.7">3</tspan></text>
<text x="136.0" y="595.0" font-size="5.9" text-anchor="middle" fill="#333">10<tspan font-size="4.1" dy="-2.7">4</tspan></text>
<text x="160.0" y="595.0" font-size="5.9" text-anchor="middle" fill="#333">10<tspan font-size="4.1" dy="-2.7">5</tspan></text>
<text transform="translate(41.8,527.0) rotate(-90)" font-size="9.89" text-anchor="middle" textLength="26.77" lengthAdjust="spacingAndGlyphs">CD161</text>
<text x="114.6" y="610.0" font-size="10.56" text-anchor="middle" font-weight="normal" textLength="25.09" lengthAdjust="spacingAndGlyphs" >IL17A</text>
<g filter="url(#bl2)" fill="#000">
<rect x="236.5" y="551.5" width="36.0" height="17.5" rx="8.2"/>
</g>
<path stroke="#000" stroke-opacity="1.0" stroke-width="1.1" d="M243 499.5h1m15.5 .5h1m-8.5 1h1m0 0h1m11 .5h1m1.5 0h1m-3.5 1h1m-17.5 1h1m6 0h1m9.5 0h1m-9 .5h1m5 0h1m-10.5 .5h1m2 0h1m-2.5 .5h1m-.5 0h1m2.5 0h1m-8 .5h1m1 0h1m7 0h1m1.5 0h1m-9 .5h1m3.5 0h1m.5 .5h1m-10.5 .5h1m2.5 0h1m0 0h1m0 0h1m-9.5 .5h1m.5 0h1m2.5 0h1m3.5 0h1m1 0h1m-8 .5h1m0 0h1m7.5 0h1m-14.5 1h1m10 0h1m-5.5 .5h1m7.5 0h1m-2.5 .5h1m-8.5 .5h1m-8 .5h1m4.5 0h1m3.5 3h1m5.5 0h1m-3.5 .5h1m.5 0h1m0 0h1m-15 .5h1m9.5 0h1m1.5 0h1m0 0h1m-17 .5h1m5 0h1m2.5 0h1m.5 0h1m.5 0h1m1.5 0h1m-22 .5h1m2 0h1m4.5 0h1m2 0h1m.5 0h1m1 0h1m-.5 0h1m8 0h1m-20.5 .5h1m2 0h1m2 0h1m-.5 0h1m3.5 0h1m2 0h1m-14.5 .5h1m8.5 0h1m4.5 0h1m0 0h1m1.5 0h1m-18.5 .5h1m5.5 0h1m5 0h1m0 0h1m-.5 0h1m5 0h1m-25 .5h1m2.5 0h1m3.5 0h1m2.5 0h1m-.5 0h1m3.5 0h1m2.5 0h1m-15.5 .5h1m0 0h1m2.5 0h1m3.5 0h1m2 0h1m-13.5 .5h1m.5 0h1m5 0h1m0 0h1m2.5 0h1m-19.5 .5h1m12 0h1m11 0h1m-15 .5h1m5.5 0h1m6 0h1m-18 .5h1m1.5 0h1m3.5 0h1m.5 0h1m.5 0h1m-.5 0h1m1.5 0h1m.5 0h1m2 0h1m-23.5 .5h1m10 0h1m-.5 0h1m-.5 0h1m3 0h1m-15 .5h1m0 0h1m0 0h1m0 0h1m0 0h1m1 0h1m-.5 0h1m-.5 0h1m-.5 0h1m-.5 0h1m2 0h1m1 0h1m3.5 0h1m2 0h1m1 0h1m-30 .5h1m.5 0h1m3.5 0h1m3 0h1m-.5 0h1m1.5 0h1m1 0h1m5.5 0h1m4.5 0h1m-21 .5h1m1 0h1m2 0h1m1 0h1m2 0h1m-.5 0h1m1 0h1m1.5 0h1m.5 0h1m-.5 0h1m0 0h1m.5 0h1m1 0h1m-25 .5h1m1.5 0h1m2.5 0h1m3.5 0h1m.5 0h1m2 0h1m-.5 0h1m2 0h1m.5 0h1m0 0h1m1 0h1m-21 .5h1m1.5 0h1m0 0h1m4 0h1m1 0h1m.5 0h1m1.5 0h1m2.5 0h1m1.5 0h1m-25 .5h1m-.5 0h1m4 0h1m2 0h1m2.5 0h1m1 0h1m-.5 0h1m-.5 0h1m.5 0h1m1.5 0h1m1.5 0h1m2 0h1m-23 .5h1m1 0h1m0 0h1m1 0h1m-.5 0h1m0 0h1m0 0h1m2 0h1m-.5 0h1m2 0h1m-.5 0h1m0 0h1m-.5 0h1m1 0h1m-22 .5h1m4.5 0h1m-.5 0h1m1 0h1m1 0h1m1.5 0h1m0 0h1m0 0h1m1 0h1m.5 0h1m0 0h1m0 0h1m-19 .5h1m1 0h1m1.5 0h1m-.5 0h1m0 0h1m-.5 0h1m-.5 0h1m0 0h1m-.5 0h1m-.5 0h1m-.5 0h1m0 0h1m-.5 0h1m-.5 0h1m0 0h1m-.5 0h1m1 0h1m0 0h1m1 0h1m1 0h1m-17 .5h1m-.5 0h1m1.5 0h1m1 0h1m-.5 0h1m-.5 0h1m.5 0h1m2.5 0h1m-.5 0h1m3 0h1m4.5 0h1m-22 .5h1m1 0h1m.5 0h1m.5 0h1m0 0h1m0 0h1m-.5 0h1m0 0h1m.5 0h1m4.5 0h1m-22 .5h1m1 0h1m1.5 0h1m0 0h1m-.5 0h1m-.5 0h1m0 0h1m0 0h1m0 0h1m0 0h1m.5 0h1m-.5 0h1m3.5 0h1m.5 0h1m1.5 0h1m-22.5 .5h1m2.5 0h1m-.5 0h1m1.5 0h1m.5 0h1m.5 0h1m-.5 0h1m2 0h1m.5 0h1m-.5 0h1m.5 0h1m-.5 0h1m.5 0h1m-.5 0h1m2 0h1m.5 0h1m-22 .5h1m2.5 0h1m2.5 0h1m-.5 0h1m2 0h1m-.5 0h1m.5 0h1m-.5 0h1m5.5 0h1m-20 .5h1m0 0h1m-.5 0h1m.5 0h1m-.5 0h1m0 0h1m-.5 0h1m-.5 0h1m-.5 0h1m0 0h1m0 0h1m.5 0h1m-.5 0h1m1.5 0h1m7.5 0h1m.5 0h1m-27.5 .5h1m-.5 0h1m.5 0h1m1.5 0h1m0 0h1m-.5 0h1m0 0h1m-.5 0h1m1 0h1m.5 0h1m-.5 0h1m-.5 0h1m-.5 0h1m0 0h1m1 0h1m-.5 0h1m.5 0h1m0 0h1m-.5 0h1m1 0h1m3 0h1m.5 0h1m-28.5 .5h1m4 0h1m.5 0h1m1.5 0h1m1.5 0h1m2 0h1m-.5 0h1m-.5 0h1m.5 0h1m-.5 0h1m3 0h1m3.5 0h1m1 0h1m-25 .5h1m.5 0h1m1 0h1m0 0h1m-.5 0h1m1 0h1m1.5 0h1m0 0h1m-.5 0h1m1 0h1m1 0h1m0 0h1m-.5 0h1m3 0h1m-25.5 .5h1m1 0h1m6 0h1m1.5 0h1m-.5 0h1m.5 0h1m0 0h1m-.5 0h1m1.5 0h1m1.5 0h1m1 0h1m4 0h1m-21.5 .5h1m0 0h1m1 0h1m-.5 0h1m1 0h1m1 0h1m0 0h1m-.5 0h1m0 0h1m1 0h1m.5 0h1m4 0h1m-.5 0h1m-.5 0h1m4.5 0h1m-27.5 .5h1m.5 0h1m1 0h1m-.5 0h1m3 0h1m2.5 0h1m-.5 0h1m0 0h1m-21 .5h1m10 0h1m0 0h1m0 0h1m-.5 0h1m.5 0h1m.5 0h1m0 0h1m-.5 0h1m-.5 0h1m-.5 0h1m-.5 0h1m3 0h1m.5 0h1m-.5 0h1m2 0h1m-27.5 .5h1m3 0h1m3.5 0h1m-.5 0h1m-.5 0h1m-.5 0h1m-.5 0h1m0 0h1m1 0h1m0 0h1m-.5 0h1m.5 0h1m-.5 0h1m-.5 0h1m0 0h1m-.5 0h1m1.5 0h1m1 0h1m-16.5 .5h1m.5 0h1m-.5 0h1m-.5 0h1m-.5 0h1m-.5 0h1m0 0h1m-.5 0h1m-.5 0h1m-.5 0h1m-.5 0h1m.5 0h1m-.5 0h1m2 0h1m-.5 0h1m.5 0h1m2 0h1m.5 0h1m-24.5 .5h1m4 0h1m-.5 0h1m-.5 0h1m0 0h1m.5 0h1m.5 0h1m0 0h1m0 0h1m-.5 0h1m-.5 0h1m1 0h1m-.5 0h1m-.5 0h1m1.5 0h1m7 0h1m.5 0h1m-23 .5h1m-.5 0h1m0 0h1m0 0h1m0 0h1m0 0h1m-.5 0h1m-.5 0h1m.5 0h1m0 0h1m2 0h1m1 0h1m-.5 0h1m1 0h1m.5 0h1m-26 .5h1m0 0h1m4 0h1m-.5 0h1m-.5 0h1m-.5 0h1m0 0h1m-.5 0h1m-.5 0h1m-.5 0h1m-.5 0h1m1 0h1m-.5 0h1m-.5 0h1m-.5 0h1m-.5 0h1m0 0h1m-.5 0h1m-.5 0h1m.5 0h1m-.5 0h1m.5 0h1m-.5 0h1m0 0h1m-.5 0h1m-.5 0h1m-.5 0h1m2 0h1m-26 .5h1m-.5 0h1m5.5 0h1m-.5 0h1m1 0h1m0 0h1m.5 0h1m-.5 0h1m-.5 0h1m-.5 0h1m1.5 0h1m.5 0h1m-.5 0h1m0 0h1m0 0h1m2 0h1m2 0h1m-.5 0h1m-26.5 .5h1m0 0h1m1 0h1m2.5 0h1m.5 0h1m-.5 0h1m2 0h1m-.5 0h1m0 0h1m-.5 0h1m.5 0h1m.5 0h1m1.5 0h1m-.5 0h1m2.5 0h1m.5 0h1m.5 0h1m4 0h1m-34.5 .5h1m1 0h1m0 0h1m.5 0h1m0 0h1m0 0h1m0 0h1m.5 0h1m-.5 0h1m0 0h1m0 0h1m0 0h1m-.5 0h1m0 0h1m0 0h1m1.5 0h1m0 0h1m-.5 0h1m-.5 0h1m-.5 0h1m3 0h1m-.5 0h1m1.5 0h1m-23 .5h1m2.5 0h1m0 0h1m2 0h1m2 0h1m1 0h1m-.5 0h1m-.5 0h1m-.5 0h1m0 0h1m1.5 0h1m-17 .5h1m-.5 0h1m0 0h1m1 0h1m0 0h1m0 0h1m-.5 0h1m2.5 0h1m-.5 0h1m-.5 0h1m0 0h1m-.5 0h1m1 0h1m.5 0h1m0 0h1m5.5 0h1m-29.5 .5h1m6 0h1m0 0h1m0 0h1m-.5 0h1m0 0h1m0 0h1m-.5 0h1m-.5 0h1m3 0h1m-.5 0h1m0 0h1m.5 0h1m-.5 0h1m-.5 0h1m1 0h1m-.5 0h1m-21 .5h1m3 0h1m0 0h1m-.5 0h1m-.5 0h1m-.5 0h1m-.5 0h1m-.5 0h1m-.5 0h1m0 0h1m.5 0h1m.5 0h1m0 0h1m1.5 0h1m0 0h1m6.5 0h1m-23.5 .5h1m-.5 0h1m.5 0h1m1 0h1m0 0h1m-.5 0h1m0 0h1m1.5 0h1m.5 0h1m-.5 0h1m.5 0h1m1.5 0h1m0 0h1m-.5 0h1m0 0h1m1 0h1m-.5 0h1m1.5 0h1m-.5 0h1m-29.5 .5h1m0 0h1m1 0h1m.5 0h1m.5 0h1m1 0h1m-.5 0h1m0 0h1m.5 0h1m-.5 0h1m-.5 0h1m-.5 0h1m-.5 0h1m.5 0h1m0 0h1m-.5 0h1m-.5 0h1m-.5 0h1m-.5 0h1m0 0h1m.5 0h1m7 0h1m-27.5 .5h1m1.5 0h1m-.5 0h1m1.5 0h1m1.5 0h1m-.5 0h1m-.5 0h1m-.5 0h1m-.5 0h1m0 0h1m-.5 0h1m0 0h1m-.5 0h1m0 0h1m-.5 0h1m-.5 0h1m1 0h1m-.5 0h1m0 0h1m9 0h1m-30.5 .5h1m0 0h1m1 0h1m.5 0h1m3 0h1m0 0h1m1.5 0h1m.5 0h1m-.5 0h1m0 0h1m-.5 0h1m-.5 0h1m2 0h1m0 0h1m1 0h1m.5 0h1m-25.5 .5h1m2 0h1m0 0h1m1 0h1m1 0h1m0 0h1m.5 0h1m1 0h1m0 0h1m0 0h1m-.5 0h1m0 0h1m-.5 0h1m-.5 0h1m-.5 0h1m-.5 0h1m0 0h1m-.5 0h1m0 0h1m1 0h1m-.5 0h1m1 0h1m2 0h1m-28.5 .5h1m5.5 0h1m-.5 0h1m-.5 0h1m-.5 0h1m-.5 0h1m1 0h1m-.5 0h1m-.5 0h1m.5 0h1m0 0h1m-.5 0h1m0 0h1m-.5 0h1m.5 0h1m-.5 0h1m2.5 0h1m3 0h1m.5 0h1m4 0h1m-33.5 .5h1m.5 0h1m-.5 0h1m-.5 0h1m5.5 0h1m-.5 0h1m-.5 0h1m3 0h1m-.5 0h1m0 0h1m0 0h1m.5 0h1m2 0h1m2 0h1m2.5 0h1m-31 .5h1m5.5 0h1m-.5 0h1m1.5 0h1m.5 0h1m1.5 0h1m-.5 0h1m0 0h1m.5 0h1m-.5 0h1m-.5 0h1m0 0h1m-.5 0h1m-.5 0h1m-.5 0h1m.5 0h1m2 0h1m-.5 0h1m-26.5 .5h1m1.5 0h1m1 0h1m3 0h1m.5 0h1m-.5 0h1m-.5 0h1m1.5 0h1m2 0h1m0 0h1m1 0h1m0 0h1m-.5 0h1m.5 0h1m1 0h1m.5 0h1m8 0h1m-36 .5h1m-.5 0h1m3 0h1m-.5 0h1m1.5 0h1m2 0h1m-.5 0h1m1.5 0h1m-.5 0h1m-.5 0h1m-.5 0h1m0 0h1m-.5 0h1m-.5 0h1m.5 0h1m-.5 0h1m1 0h1m1 0h1m-.5 0h1m-.5 0h1m0 0h1m1 0h1m-37 .5h1m0 0h1m2 0h1m5.5 0h1m1 0h1m-.5 0h1m-.5 0h1m-.5 0h1m.5 0h1m0 0h1m0 0h1m-.5 0h1m-.5 0h1m.5 0h1m-.5 0h1m-.5 0h1m-.5 0h1m-.5 0h1m.5 0h1m2.5 0h1m-.5 0h1m.5 0h1m2.5 0h1m2 0h1m2 0h1m1.5 0h1m1.5 0h1m-32.5 .5h1m6 0h1m-.5 0h1m.5 0h1m.5 0h1m0 0h1m-.5 0h1m0 0h1m-.5 0h1m0 0h1m-.5 0h1m-.5 0h1m-.5 0h1m0 0h1m-.5 0h1m-.5 0h1m-.5 0h1m0 0h1m-.5 0h1m-.5 0h1m-.5 0h1m-.5 0h1m-24.5 .5h1m2 0h1m.5 0h1m1 0h1m0 0h1m0 0h1m-.5 0h1m-.5 0h1m-.5 0h1m-.5 0h1m-.5 0h1m0 0h1m0 0h1m0 0h1m-.5 0h1m-.5 0h1m0 0h1m0 0h1m0 0h1m1 0h1m0 0h1m-.5 0h1m.5 0h1m3.5 0h1m0 0h1m-.5 0h1m2.5 0h1m2 0h1m-44.5 .5h1m7.5 0h1m5 0h1m1 0h1m1 0h1m1 0h1m0 0h1m-.5 0h1m-.5 0h1m-.5 0h1m.5 0h1m0 0h1m0 0h1m-.5 0h1m-.5 0h1m-.5 0h1m.5 0h1m1 0h1m0 0h1m0 0h1m-.5 0h1m3 0h1m4 0h1m-48 .5h1m6 0h1m1.5 0h1m3.5 0h1m-.5 0h1m.5 0h1m.5 0h1m-.5 0h1m1 0h1m-.5 0h1m-.5 0h1m2 0h1m0 0h1m1 0h1m0 0h1m0 0h1m-.5 0h1m-.5 0h1m-.5 0h1m.5 0h1m0 0h1m2 0h1m0 0h1m.5 0h1m.5 0h1m-30 .5h1m1 0h1m1.5 0h1m.5 0h1m0 0h1m-.5 0h1m.5 0h1m0 0h1m1 0h1m1 0h1m-.5 0h1m-.5 0h1m0 0h1m0 0h1m-.5 0h1m.5 0h1m-.5 0h1m-.5 0h1m1 0h1m0 0h1m0 0h1m-.5 0h1m1.5 0h1m3.5 0h1m-38 .5h1m4 0h1m1 0h1m0 0h1m0 0h1m1 0h1m1 0h1m0 0h1m-.5 0h1m0 0h1m0 0h1m0 0h1m-.5 0h1m-.5 0h1m0 0h1m-.5 0h1m-.5 0h1m1 0h1m-.5 0h1m-.5 0h1m-.5 0h1m-.5 0h1m0 0h1m-.5 0h1m-.5 0h1m1.5 0h1m-.5 0h1m-.5 0h1m.5 0h1m3 0h1m0 0h1m-.5 0h1m0 0h1m5 0h1m6 0h1m-52.5 .5h1m7 0h1m-.5 0h1m-.5 0h1m-.5 0h1m1.5 0h1m0 0h1m-.5 0h1m1 0h1m.5 0h1m0 0h1m-.5 0h1m0 0h1m.5 0h1m0 0h1m0 0h1m0 0h1m0 0h1m-.5 0h1m0 0h1m-.5 0h1m0 0h1m0 0h1m1.5 0h1m3 0h1m2 0h1m2 0h1m-38 .5h1m3 0h1m2.5 0h1m1 0h1m1 0h1m0 0h1m.5 0h1m0 0h1m1.5 0h1m-.5 0h1m0 0h1m1 0h1m0 0h1m-.5 0h1m.5 0h1m-.5 0h1m1 0h1m1 0h1m-33 .5h1m0 0h1m.5 0h1m1.5 0h1m1 0h1m1 0h1m-.5 0h1m0 0h1m1.5 0h1m-.5 0h1m1 0h1m-.5 0h1m-.5 0h1m-.5 0h1m0 0h1m.5 0h1m-.5 0h1m-.5 0h1m.5 0h1m-.5 0h1m0 0h1m-.5 0h1m0 0h1m0 0h1m3 0h1m-.5 0h1m.5 0h1m2 0h1m-.5 0h1m-35 .5h1m2.5 0h1m1 0h1m.5 0h1m.5 0h1m1.5 0h1m1 0h1m-.5 0h1m-.5 0h1m0 0h1m.5 0h1m-.5 0h1m-.5 0h1m-.5 0h1m.5 0h1m-.5 0h1m0 0h1m.5 0h1m-.5 0h1m-.5 0h1m-.5 0h1m-.5 0h1m0 0h1m-.5 0h1m.5 0h1m-.5 0h1m.5 0h1m6.5 0h1m-41 .5h1m7.5 0h1m.5 0h1m1 0h1m-.5 0h1m.5 0h1m-.5 0h1m-.5 0h1m-.5 0h1m0 0h1m-.5 0h1m.5 0h1m0 0h1m-.5 0h1m-.5 0h1m-.5 0h1m-.5 0h1m-.5 0h1m2.5 0h1m-.5 0h1m0 0h1m.5 0h1m1 0h1m-.5 0h1m0 0h1m-.5 0h1m-.5 0h1m-38.5 .5h1m9 0h1m.5 0h1m5 0h1m-.5 0h1m-.5 0h1m.5 0h1m-.5 0h1m2 0h1m.5 0h1m4 0h1m-.5 0h1m1 0h1m-.5 0h1m0 0h1m-.5 0h1m-.5 0h1m4.5 0h1m-33 .5h1m0 0h1m0 0h1m4.5 0h1m.5 0h1m2 0h1m-.5 0h1m1 0h1m0 0h1m0 0h1m-.5 0h1m.5 0h1m-.5 0h1m0 0h1m1 0h1m-.5 0h1m0 0h1m2 0h1m1.5 0h1m0 0h1m3 0h1m-26 .5h1m1 0h1m-.5 0h1m0 0h1m0 0h1m2 0h1m-.5 0h1m0 0h1m-.5 0h1m3 0h1m-.5 0h1m3.5 0h1m0 0h1m-24.5 .5h1m2.5 0h1m.5 0h1m0 0h1m-.5 0h1m1 0h1m-.5 0h1m-.5 0h1m.5 0h1m-.5 0h1m.5 0h1m-.5 0h1m.5 0h1m1 0h1m.5 0h1m-.5 0h1m1 0h1m0 0h1m0 0h1m5.5 0h1m-39 .5h1m6 0h1m.5 0h1m2 0h1m0 0h1m-.5 0h1m0 0h1m2 0h1m0 0h1m2 0h1m-.5 0h1m0 0h1m-.5 0h1m0 0h1m-.5 0h1m.5 0h1m1.5 0h1m.5 0h1m.5 0h1m-31.5 .5h1m1 0h1m-.5 0h1m5.5 0h1m0 0h1m.5 0h1m0 0h1m0 0h1m0 0h1m.5 0h1m-.5 0h1m.5 0h1m.5 0h1m1 0h1m-.5 0h1m-.5 0h1m0 0h1m.5 0h1m1 0h1m1.5 0h1m-.5 0h1m-.5 0h1m2 0h1m-30.5 .5h1m4 0h1m.5 0h1m-.5 0h1m.5 0h1m-.5 0h1m3.5 0h1m0 0h1m2 0h1m-.5 0h1m-.5 0h1m-.5 0h1m4 0h1m0 0h1m-29 .5h1m5.5 0h1m1.5 0h1m-.5 0h1m0 0h1m0 0h1m-.5 0h1m0 0h1m.5 0h1m-.5 0h1m0 0h1m-.5 0h1m-.5 0h1m-.5 0h1m1 0h1m0 0h1m0 0h1m-.5 0h1m-.5 0h1m-.5 0h1m.5 0h1m1 0h1m1 0h1m3.5 0h1m-34.5 .5h1m.5 0h1m-.5 0h1m5 0h1m1.5 0h1m1 0h1m3 0h1m-.5 0h1m0 0h1m-.5 0h1m0 0h1m.5 0h1m.5 0h1m-.5 0h1m-.5 0h1m1 0h1m0 0h1m-.5 0h1m0 0h1m1 0h1m3 0h1m1.5 0h1m0 0h1m-38 .5h1m3.5 0h1m8.5 0h1m0 0h1m0 0h1m.5 0h1m-.5 0h1m1 0h1m0 0h1m-.5 0h1m2 0h1m2 0h1m2 0h1m-.5 0h1m-51.5 .5h1m51.5 0h1m-34.5 1.5h1m.5 0h1m33.5 0h1m-39.5 .5h1m0 0h1m0 0h1m32.5 0h1m1 0h1m.5 0h1m0 0h1m-38 .5h1m37.5 0h1m0 0h1m-41 .5h1m33 0h1m3 0h1m8.5 0h1m-48.5 1h1m.5 0h1m32.5 0h1m0 0h1m-42.5 .5h1m4.5 0h1m32 0h1m.5 0h1m0 0h1m-.5 0h1m-43.5 .5h1m2 0h1m37 0h1m1.5 0h1m-43 .5h1m3 0h1m0 0h1m-.5 0h1m33 0h1m3 0h1m-40.5 .5h1m-.5 0h1m-3 .5h1m3 0h1m30 0h1m-.5 0h1m.5 0h1m-42.5 .5h1m3 0h1m1.5 0h1m.5 0h1m33.5 0h1m7.5 0h1m-12 .5h1m-35 .5h1m1.5 0h1m32 0h1m0 0h1m1 0h1m-41 .5h1m38.5 0h1m5 0h1m-4 .5h1m-45.5 .5h1m1.5 0h1m2.5 0h1m32.5 0h1m.5 0h1m-38.5 .5h1m34 0h1m0 0h1m-35 .5h1m30.5 0h1m5.5 .5h1m-42.5 .5h1m38.5 0h1m-34 .5h1m0 0h1m.5 0h1m2.5 0h1m.5 0h1m4 0h1m1.5 0h1m-.5 0h1m1.5 0h1m1 0h1m1 0h1m3 0h1m-28 .5h1m-.5 0h1m2 0h1m-.5 0h1m1.5 0h1m2 0h1m-.5 0h1m.5 0h1m-.5 0h1m.5 0h1m0 0h1m0 0h1m-.5 0h1m1 0h1m0 0h1m4.5 0h1m4.5 0h1m-29.5 .5h1m3 0h1m1 0h1m2.5 0h1m-.5 0h1m5.5 0h1m2.5 0h1m0 0h1m5 0h1m-18.5 .5h1m1.5 0h1m0 0h1m0 0h1m0 0h1m4 0h1m2 0h1m-27 .5h1m7 0h1m0 0h1m-.5 0h1m-.5 0h1m4 0h1m0 0h1m.5 0h1m1.5 0h1m-.5 0h1m3 0h1m.5 0h1m4.5 0h1m-30 .5h1m4 0h1m-.5 0h1m2 0h1m0 0h1m2 0h1m4.5 0h1m.5 0h1m-14 .5h1m1.5 0h1m1 0h1m.5 0h1m-.5 0h1m0 0h1m1.5 0h1m.5 0h1m2.5 0h1m1 0h1m0 0h1m2 0h1m-32.5 .5h1m9.5 0h1m9 0h1m-.5 0h1m.5 0h1m-.5 0h1m3 0h1m3.5 0h1m-21.5 .5h1m0 0h1m2.5 0h1m1 0h1m.5 0h1m2 0h1m1.5 0h1m2 0h1m7 0h1m-38 .5h1m18 0h1m17.5 0h1m-.5 0h1m-28.5 .5h1m-.5 0h1m1.5 0h1m5 0h1m0 0h1m1.5 0h1m1.5 0h1m2 0h1m-12.5 .5h1m-12.5 1h1m13 0h1m-11 .5h1m5 0h1m10.5 .5h1m-4.5 1.5h1"/>
<rect x="217.5" y="472.0" width="113.0" height="112.5" fill="none" stroke="#111" stroke-width="1.3"/>
<line x1="276.2" y1="472.0" x2="276.2" y2="584.5" stroke="#111" stroke-width="1.3"/>
<line x1="217.5" y1="513.2" x2="330.5" y2="513.2" stroke="#111" stroke-width="1.3"/>
<text x="219.1" y="481.2" font-size="9.57" text-anchor="start" font-weight="normal" textLength="19.83" lengthAdjust="spacingAndGlyphs" >0.5%</text>
<text x="329.8" y="481.2" font-size="9.57" text-anchor="end" font-weight="normal" textLength="24.67" lengthAdjust="spacingAndGlyphs" >0.01%</text>
<text x="219.6" y="582.0" font-size="9.57" text-anchor="start" font-weight="normal" textLength="24.67" lengthAdjust="spacingAndGlyphs" >99.3%</text>
<text x="328.3" y="582.0" font-size="9.57" text-anchor="end" font-weight="normal" textLength="19.83" lengthAdjust="spacingAndGlyphs" >0.2%</text>
<line x1="214.9" y1="480.0" x2="217.5" y2="480.0" stroke="#111" stroke-width="1.0"/>
<text x="212.9" y="481.7" font-size="5.9" text-anchor="end" fill="#333">10<tspan font-size="4.1" dy="-2.7">5</tspan></text>
<line x1="214.9" y1="503.8" x2="217.5" y2="503.8" stroke="#111" stroke-width="1.0"/>
<text x="212.9" y="505.4" font-size="5.9" text-anchor="end" fill="#333">10<tspan font-size="4.1" dy="-2.7">4</tspan></text>
<line x1="214.9" y1="527.5" x2="217.5" y2="527.5" stroke="#111" stroke-width="1.0"/>
<text x="212.9" y="529.2" font-size="5.9" text-anchor="end" fill="#333">10<tspan font-size="4.1" dy="-2.7">3</tspan></text>
<line x1="214.9" y1="551.2" x2="217.5" y2="551.2" stroke="#111" stroke-width="1.0"/>
<text x="212.9" y="553.0" font-size="5.9" text-anchor="end" fill="#333">10<tspan font-size="4.1" dy="-2.7">2</tspan></text>
<line x1="214.9" y1="562.5" x2="217.5" y2="562.5" stroke="#111" stroke-width="1.0"/>
<text x="212.9" y="564.2" font-size="5.9" text-anchor="end" fill="#333">0</text>
<line x1="216.0" y1="475.0" x2="217.5" y2="475.0" stroke="#111" stroke-width="0.6"/>
<line x1="216.0" y1="478.3" x2="217.5" y2="478.3" stroke="#111" stroke-width="0.6"/>
<line x1="216.0" y1="481.6" x2="217.5" y2="481.6" stroke="#111" stroke-width="0.6"/>
<line x1="216.0" y1="484.9" x2="217.5" y2="484.9" stroke="#111" stroke-width="0.6"/>
<line x1="216.0" y1="488.2" x2="217.5" y2="488.2" stroke="#111" stroke-width="0.6"/>
<line x1="216.0" y1="491.5" x2="217.5" y2="491.5" stroke="#111" stroke-width="0.6"/>
<line x1="216.0" y1="494.8" x2="217.5" y2="494.8" stroke="#111" stroke-width="0.6"/>
<line x1="216.0" y1="498.1" x2="217.5" y2="498.1" stroke="#111" stroke-width="0.6"/>
<line x1="216.0" y1="501.4" x2="217.5" y2="501.4" stroke="#111" stroke-width="0.6"/>
<line x1="216.0" y1="504.7" x2="217.5" y2="504.7" stroke="#111" stroke-width="0.6"/>
<line x1="216.0" y1="508.0" x2="217.5" y2="508.0" stroke="#111" stroke-width="0.6"/>
<line x1="216.0" y1="511.3" x2="217.5" y2="511.3" stroke="#111" stroke-width="0.6"/>
<line x1="216.0" y1="514.6" x2="217.5" y2="514.6" stroke="#111" stroke-width="0.6"/>
<line x1="216.0" y1="517.9" x2="217.5" y2="517.9" stroke="#111" stroke-width="0.6"/>
<line x1="216.0" y1="521.2" x2="217.5" y2="521.2" stroke="#111" stroke-width="0.6"/>
<line x1="216.0" y1="524.5" x2="217.5" y2="524.5" stroke="#111" stroke-width="0.6"/>
<line x1="216.0" y1="527.8" x2="217.5" y2="527.8" stroke="#111" stroke-width="0.6"/>
<line x1="216.0" y1="531.1" x2="217.5" y2="531.1" stroke="#111" stroke-width="0.6"/>
<line x1="216.0" y1="534.4" x2="217.5" y2="534.4" stroke="#111" stroke-width="0.6"/>
<line x1="216.0" y1="537.7" x2="217.5" y2="537.7" stroke="#111" stroke-width="0.6"/>
<line x1="216.0" y1="541.0" x2="217.5" y2="541.0" stroke="#111" stroke-width="0.6"/>
<line x1="216.0" y1="544.3" x2="217.5" y2="544.3" stroke="#111" stroke-width="0.6"/>
<line x1="216.0" y1="547.6" x2="217.5" y2="547.6" stroke="#111" stroke-width="0.6"/>
<line x1="216.0" y1="550.9" x2="217.5" y2="550.9" stroke="#111" stroke-width="0.6"/>
<line x1="216.0" y1="554.2" x2="217.5" y2="554.2" stroke="#111" stroke-width="0.6"/>
<line x1="216.0" y1="557.5" x2="217.5" y2="557.5" stroke="#111" stroke-width="0.6"/>
<line x1="216.0" y1="560.8" x2="217.5" y2="560.8" stroke="#111" stroke-width="0.6"/>
<line x1="216.0" y1="564.1" x2="217.5" y2="564.1" stroke="#111" stroke-width="0.6"/>
<line x1="216.0" y1="567.4" x2="217.5" y2="567.4" stroke="#111" stroke-width="0.6"/>
<line x1="216.0" y1="570.7" x2="217.5" y2="570.7" stroke="#111" stroke-width="0.6"/>
<line x1="216.0" y1="574.0" x2="217.5" y2="574.0" stroke="#111" stroke-width="0.6"/>
<line x1="216.0" y1="577.3" x2="217.5" y2="577.3" stroke="#111" stroke-width="0.6"/>
<line x1="216.0" y1="580.6" x2="217.5" y2="580.6" stroke="#111" stroke-width="0.6"/>
<line x1="235.6" y1="584.5" x2="235.6" y2="587.1" stroke="#111" stroke-width="1.0"/>
<line x1="266.6" y1="584.5" x2="266.6" y2="587.1" stroke="#111" stroke-width="1.0"/>
<line x1="294.4" y1="584.5" x2="294.4" y2="587.1" stroke="#111" stroke-width="1.0"/>
<line x1="320.6" y1="584.5" x2="320.6" y2="587.1" stroke="#111" stroke-width="1.0"/>
<line x1="220.5" y1="584.5" x2="220.5" y2="586.0" stroke="#111" stroke-width="0.6"/>
<line x1="223.8" y1="584.5" x2="223.8" y2="586.0" stroke="#111" stroke-width="0.6"/>
<line x1="227.1" y1="584.5" x2="227.1" y2="586.0" stroke="#111" stroke-width="0.6"/>
<line x1="230.4" y1="584.5" x2="230.4" y2="586.0" stroke="#111" stroke-width="0.6"/>
<line x1="233.7" y1="584.5" x2="233.7" y2="586.0" stroke="#111" stroke-width="0.6"/>
<line x1="237.0" y1="584.5" x2="237.0" y2="586.0" stroke="#111" stroke-width="0.6"/>
<line x1="240.3" y1="584.5" x2="240.3" y2="586.0" stroke="#111" stroke-width="0.6"/>
<line x1="243.6" y1="584.5" x2="243.6" y2="586.0" stroke="#111" stroke-width="0.6"/>
<line x1="246.9" y1="584.5" x2="246.9" y2="586.0" stroke="#111" stroke-width="0.6"/>
<line x1="250.2" y1="584.5" x2="250.2" y2="586.0" stroke="#111" stroke-width="0.6"/>
<line x1="253.5" y1="584.5" x2="253.5" y2="586.0" stroke="#111" stroke-width="0.6"/>
<line x1="256.8" y1="584.5" x2="256.8" y2="586.0" stroke="#111" stroke-width="0.6"/>
<line x1="260.1" y1="584.5" x2="260.1" y2="586.0" stroke="#111" stroke-width="0.6"/>
<line x1="263.4" y1="584.5" x2="263.4" y2="586.0" stroke="#111" stroke-width="0.6"/>
<line x1="266.7" y1="584.5" x2="266.7" y2="586.0" stroke="#111" stroke-width="0.6"/>
<line x1="270.0" y1="584.5" x2="270.0" y2="586.0" stroke="#111" stroke-width="0.6"/>
<line x1="273.3" y1="584.5" x2="273.3" y2="586.0" stroke="#111" stroke-width="0.6"/>
<line x1="276.6" y1="584.5" x2="276.6" y2="586.0" stroke="#111" stroke-width="0.6"/>
<line x1="279.9" y1="584.5" x2="279.9" y2="586.0" stroke="#111" stroke-width="0.6"/>
<line x1="283.2" y1="584.5" x2="283.2" y2="586.0" stroke="#111" stroke-width="0.6"/>
<line x1="286.5" y1="584.5" x2="286.5" y2="586.0" stroke="#111" stroke-width="0.6"/>
<line x1="289.8" y1="584.5" x2="289.8" y2="586.0" stroke="#111" stroke-width="0.6"/>
<line x1="293.1" y1="584.5" x2="293.1" y2="586.0" stroke="#111" stroke-width="0.6"/>
<line x1="296.4" y1="584.5" x2="296.4" y2="586.0" stroke="#111" stroke-width="0.6"/>
<line x1="299.7" y1="584.5" x2="299.7" y2="586.0" stroke="#111" stroke-width="0.6"/>
<line x1="303.0" y1="584.5" x2="303.0" y2="586.0" stroke="#111" stroke-width="0.6"/>
<line x1="306.3" y1="584.5" x2="306.3" y2="586.0" stroke="#111" stroke-width="0.6"/>
<line x1="309.6" y1="584.5" x2="309.6" y2="586.0" stroke="#111" stroke-width="0.6"/>
<line x1="312.9" y1="584.5" x2="312.9" y2="586.0" stroke="#111" stroke-width="0.6"/>
<line x1="316.2" y1="584.5" x2="316.2" y2="586.0" stroke="#111" stroke-width="0.6"/>
<line x1="319.5" y1="584.5" x2="319.5" y2="586.0" stroke="#111" stroke-width="0.6"/>
<line x1="322.8" y1="584.5" x2="322.8" y2="586.0" stroke="#111" stroke-width="0.6"/>
<line x1="326.1" y1="584.5" x2="326.1" y2="586.0" stroke="#111" stroke-width="0.6"/>
<text x="235.6" y="595.0" font-size="5.9" text-anchor="middle" fill="#333">0</text>
<text x="266.6" y="595.0" font-size="5.9" text-anchor="middle" fill="#333">10<tspan font-size="4.1" dy="-2.7">3</tspan></text>
<text x="294.4" y="595.0" font-size="5.9" text-anchor="middle" fill="#333">10<tspan font-size="4.1" dy="-2.7">4</tspan></text>
<text x="320.6" y="595.0" font-size="5.9" text-anchor="middle" fill="#333">10<tspan font-size="4.1" dy="-2.7">5</tspan></text>
<text transform="translate(201.0,527.9) rotate(-90)" font-size="9.89" text-anchor="middle" textLength="26.77" lengthAdjust="spacingAndGlyphs">CD161</text>
<text x="271.6" y="609.7" font-size="10.56" text-anchor="middle" font-weight="normal" textLength="18.68" lengthAdjust="spacingAndGlyphs" >IL22</text>
<g filter="url(#bl2)" fill="#000">
<rect x="394.5" y="553.0" width="46.0" height="17.0" rx="8.8"/>
</g>
<path stroke="#000" stroke-opacity="1.0" stroke-width="1.1" d="M429 498h1m-21.5 1.5h1m14 0h1m-13 2.5h1m5.5 .5h1m6.5 0h1m6.5 0h1m3.5 0h1m-37.5 .5h1m3 .5h1m14.5 0h1m4.5 0h1m2 0h1m-6 .5h1m-13 .5h1m4.5 0h1m26 0h1m-35.5 .5h1m-10.5 .5h1m5 0h1m4.5 .5h1m11 0h1m3.5 0h1m-3 .5h1m.5 0h1m-29 .5h1m4 0h1m9.5 .5h1m.5 0h1m8.5 0h1m0 0h1m-22 .5h1m8.5 .5h1m4.5 0h1m9 0h1m-17 1h1m-12 .5h1m29 0h1m-29.5 1h1m15.5 0h1m-32.5 5.5h1m1.5 0h1m5 0h1m6.5 0h1m0 0h1m13 0h1m1.5 0h1m3 0h1m.5 0h1m-35 .5h1m-.5 0h1m12.5 0h1m10 0h1m-.5 0h1m0 0h1m2.5 0h1m-.5 0h1m6.5 0h1m-32.5 .5h1m.5 0h1m-.5 0h1m7 0h1m8 0h1m13 0h1m-46 .5h1m-.5 0h1m8.5 0h1m12.5 0h1m10.5 0h1m-.5 0h1m.5 0h1m-30.5 .5h1m1.5 0h1m3 0h1m2.5 0h1m6.5 0h1m17.5 0h1m4 0h1m-42 .5h1m2 0h1m-.5 0h1m-.5 0h1m0 0h1m3 0h1m.5 0h1m-.5 0h1m4.5 0h1m9.5 0h1m4 0h1m1 0h1m2.5 0h1m1 0h1m-41.5 .5h1m.5 0h1m2 0h1m0 0h1m3 0h1m5.5 0h1m-.5 0h1m2 0h1m9.5 0h1m5.5 0h1m.5 0h1m0 0h1m-42.5 .5h1m6.5 0h1m.5 0h1m7.5 0h1m11 0h1m2 0h1m3 0h1m.5 0h1m-.5 0h1m10 0h1m-55 .5h1m0 0h1m6.5 0h1m5.5 0h1m-.5 0h1m-.5 0h1m0 0h1m8.5 0h1m0 0h1m7 0h1m2.5 0h1m-37.5 .5h1m2.5 0h1m8.5 0h1m2 0h1m13.5 0h1m10.5 0h1m-.5 0h1m-46.5 .5h1m6.5 0h1m4.5 0h1m0 0h1m5.5 0h1m12 0h1m-.5 0h1m2.5 0h1m3 0h1m-.5 0h1m1 0h1m-.5 0h1m-.5 0h1m-43 .5h1m-.5 0h1m1 0h1m2.5 0h1m-.5 0h1m-.5 0h1m1.5 0h1m-.5 0h1m1 0h1m1.5 0h1m5 0h1m7 0h1m.5 0h1m1 0h1m3 0h1m-.5 0h1m0 0h1m0 0h1m5.5 0h1m2 0h1m-51.5 .5h1m5.5 0h1m-.5 0h1m1.5 0h1m2 0h1m2 0h1m12.5 0h1m0 0h1m-.5 0h1m1.5 0h1m1.5 0h1m1 0h1m-.5 0h1m-37 .5h1m.5 0h1m3 0h1m.5 0h1m1 0h1m1.5 0h1m4 0h1m.5 0h1m0 0h1m.5 0h1m3.5 0h1m2.5 0h1m1.5 0h1m1.5 0h1m5.5 0h1m5.5 0h1m-35 .5h1m0 0h1m1.5 0h1m1.5 0h1m5.5 0h1m3.5 0h1m1 0h1m-.5 0h1m3 0h1m2 0h1m-37 .5h1m0 0h1m-.5 0h1m2.5 0h1m-.5 0h1m0 0h1m1.5 0h1m1.5 0h1m.5 0h1m6.5 0h1m6 0h1m.5 0h1m3 0h1m1 0h1m-.5 0h1m0 0h1m2 0h1m2 0h1m-.5 0h1m-42.5 .5h1m.5 0h1m4.5 0h1m.5 0h1m1.5 0h1m4 0h1m2 0h1m4.5 0h1m1.5 0h1m10.5 0h1m-.5 0h1m7.5 0h1m-54 .5h1m3.5 0h1m2.5 0h1m0 0h1m2.5 0h1m1 0h1m2.5 0h1m2.5 0h1m0 0h1m.5 0h1m3.5 0h1m1 0h1m-.5 0h1m-.5 0h1m1.5 0h1m1 0h1m.5 0h1m6.5 0h1m2 0h1m0 0h1m-44.5 .5h1m.5 0h1m-.5 0h1m2 0h1m-.5 0h1m-.5 0h1m-.5 0h1m1 0h1m.5 0h1m-.5 0h1m10.5 0h1m0 0h1m3 0h1m1.5 0h1m1.5 0h1m1.5 0h1m1.5 0h1m-36.5 .5h1m2 0h1m.5 0h1m.5 0h1m1 0h1m-.5 0h1m3 0h1m9.5 0h1m4.5 0h1m1 0h1m2 0h1m0 0h1m5 0h1m-46 .5h1m1 0h1m1 0h1m1.5 0h1m-.5 0h1m-.5 0h1m1.5 0h1m3 0h1m0 0h1m1.5 0h1m9.5 0h1m1.5 0h1m1 0h1m0 0h1m5.5 0h1m.5 0h1m-.5 0h1m0 0h1m8 0h1m-52.5 .5h1m4 0h1m-.5 0h1m0 0h1m1 0h1m4 0h1m0 0h1m0 0h1m2 0h1m3 0h1m1.5 0h1m0 0h1m1.5 0h1m1.5 0h1m.5 0h1m.5 0h1m1.5 0h1m0 0h1m0 0h1m.5 0h1m.5 0h1m-.5 0h1m.5 0h1m2.5 0h1m2.5 0h1m-53 .5h1m4 0h1m-.5 0h1m.5 0h1m2 0h1m-.5 0h1m1.5 0h1m8 0h1m2 0h1m.5 0h1m1 0h1m0 0h1m1.5 0h1m1 0h1m4.5 0h1m0 0h1m6 0h1m-45.5 .5h1m1.5 0h1m-.5 0h1m-.5 0h1m0 0h1m-.5 0h1m2 0h1m-.5 0h1m0 0h1m1.5 0h1m-.5 0h1m0 0h1m0 0h1m1 0h1m4.5 0h1m-.5 0h1m1.5 0h1m0 0h1m10.5 0h1m0 0h1m1.5 0h1m-45.5 .5h1m3.5 0h1m-.5 0h1m3.5 0h1m1 0h1m-.5 0h1m-.5 0h1m1 0h1m3.5 0h1m0 0h1m1 0h1m1.5 0h1m2 0h1m0 0h1m3.5 0h1m-.5 0h1m0 0h1m1 0h1m1 0h1m5.5 0h1m-51 .5h1m2 0h1m2 0h1m-.5 0h1m1.5 0h1m-.5 0h1m3.5 0h1m1 0h1m0 0h1m13 0h1m0 0h1m6 0h1m0 0h1m1.5 0h1m0 0h1m3.5 0h1m8.5 0h1m-.5 0h1m-53 .5h1m7 0h1m1 0h1m0 0h1m2.5 0h1m-.5 0h1m0 0h1m2.5 0h1m-.5 0h1m-.5 0h1m3.5 0h1m1 0h1m-.5 0h1m-.5 0h1m-.5 0h1m2 0h1m-.5 0h1m-.5 0h1m0 0h1m1.5 0h1m7.5 0h1m3.5 0h1m-52 .5h1m2 0h1m0 0h1m1.5 0h1m-.5 0h1m0 0h1m.5 0h1m8.5 0h1m1.5 0h1m-.5 0h1m2.5 0h1m1.5 0h1m-.5 0h1m1 0h1m1.5 0h1m.5 0h1m1.5 0h1m1.5 0h1m3 0h1m-.5 0h1m0 0h1m8.5 0h1m-49 .5h1m1.5 0h1m-.5 0h1m0 0h1m0 0h1m7 0h1m5 0h1m.5 0h1m.5 0h1m-.5 0h1m-.5 0h1m-.5 0h1m1 0h1m0 0h1m-.5 0h1m-.5 0h1m-.5 0h1m0 0h1m-.5 0h1m-.5 0h1m-.5 0h1m.5 0h1m-.5 0h1m-.5 0h1m.5 0h1m1.5 0h1m2 0h1m1.5 0h1m-46 .5h1m2 0h1m2.5 0h1m1 0h1m-.5 0h1m.5 0h1m5 0h1m-.5 0h1m0 0h1m-.5 0h1m4.5 0h1m.5 0h1m1 0h1m6 0h1m0 0h1m1 0h1m0 0h1m-.5 0h1m-.5 0h1m-.5 0h1m0 0h1m4 0h1m-55 .5h1m5 0h1m1.5 0h1m-.5 0h1m0 0h1m0 0h1m2.5 0h1m-.5 0h1m.5 0h1m0 0h1m.5 0h1m-.5 0h1m.5 0h1m-.5 0h1m-.5 0h1m1 0h1m-.5 0h1m1 0h1m3 0h1m3.5 0h1m.5 0h1m2 0h1m-.5 0h1m0 0h1m-.5 0h1m.5 0h1m-.5 0h1m0 0h1m0 0h1m4.5 0h1m-46 .5h1m2 0h1m4 0h1m-.5 0h1m-.5 0h1m.5 0h1m-.5 0h1m0 0h1m1.5 0h1m7.5 0h1m4 0h1m1.5 0h1m1 0h1m.5 0h1m0 0h1m.5 0h1m-.5 0h1m0 0h1m0 0h1m-.5 0h1m-.5 0h1m-.5 0h1m5 0h1m-43.5 .5h1m-.5 0h1m4.5 0h1m1.5 0h1m0 0h1m1 0h1m0 0h1m-.5 0h1m-.5 0h1m1.5 0h1m0 0h1m5.5 0h1m.5 0h1m-.5 0h1m-.5 0h1m-.5 0h1m0 0h1m1 0h1m-.5 0h1m5 0h1m-.5 0h1m.5 0h1m1 0h1m4.5 0h1m-53.5 .5h1m1 0h1m-.5 0h1m0 0h1m1 0h1m1.5 0h1m.5 0h1m1 0h1m0 0h1m-.5 0h1m.5 0h1m-.5 0h1m.5 0h1m2 0h1m2 0h1m8.5 0h1m-.5 0h1m0 0h1m-.5 0h1m-.5 0h1m-.5 0h1m2.5 0h1m.5 0h1m0 0h1m0 0h1m1 0h1m-42.5 .5h1m0 0h1m4.5 0h1m0 0h1m-.5 0h1m0 0h1m-.5 0h1m-.5 0h1m0 0h1m-.5 0h1m0 0h1m1 0h1m-.5 0h1m-.5 0h1m-.5 0h1m0 0h1m-.5 0h1m.5 0h1m4 0h1m.5 0h1m2.5 0h1m-.5 0h1m0 0h1m0 0h1m1.5 0h1m0 0h1m-.5 0h1m0 0h1m-.5 0h1m.5 0h1m.5 0h1m1 0h1m1.5 0h1m-46.5 .5h1m4.5 0h1m-.5 0h1m-.5 0h1m-.5 0h1m3.5 0h1m1 0h1m-.5 0h1m-.5 0h1m.5 0h1m-.5 0h1m.5 0h1m4.5 0h1m2.5 0h1m.5 0h1m.5 0h1m1.5 0h1m-.5 0h1m.5 0h1m-.5 0h1m2 0h1m-.5 0h1m-.5 0h1m1.5 0h1m1 0h1m0 0h1m0 0h1m-47 .5h1m4 0h1m0 0h1m2 0h1m0 0h1m-.5 0h1m0 0h1m1 0h1m.5 0h1m-.5 0h1m.5 0h1m.5 0h1m2.5 0h1m1.5 0h1m6.5 0h1m1 0h1m0 0h1m2.5 0h1m1.5 0h1m2.5 0h1m-.5 0h1m0 0h1m0 0h1m0 0h1m1.5 0h1m-49 .5h1m2.5 0h1m.5 0h1m1.5 0h1m0 0h1m-.5 0h1m-.5 0h1m0 0h1m1 0h1m0 0h1m0 0h1m-.5 0h1m4.5 0h1m1 0h1m1 0h1m3 0h1m2 0h1m0 0h1m2 0h1m3.5 0h1m.5 0h1m-.5 0h1m-.5 0h1m0 0h1m3 0h1m-45 .5h1m-.5 0h1m1 0h1m-.5 0h1m.5 0h1m-.5 0h1m1.5 0h1m1 0h1m.5 0h1m1.5 0h1m0 0h1m-.5 0h1m0 0h1m-.5 0h1m0 0h1m-.5 0h1m0 0h1m4.5 0h1m0 0h1m0 0h1m4 0h1m.5 0h1m1 0h1m-.5 0h1m.5 0h1m-.5 0h1m.5 0h1m.5 0h1m3.5 0h1m9.5 0h1m-60 .5h1m1 0h1m0 0h1m-.5 0h1m0 0h1m1 0h1m-.5 0h1m0 0h1m.5 0h1m-.5 0h1m1 0h1m0 0h1m-.5 0h1m1 0h1m0 0h1m2 0h1m-.5 0h1m-.5 0h1m4 0h1m-.5 0h1m0 0h1m0 0h1m2 0h1m-.5 0h1m.5 0h1m4.5 0h1m-.5 0h1m.5 0h1m2.5 0h1m-.5 0h1m6 0h1m1.5 0h1m0 0h1m-55.5 .5h1m1.5 0h1m-.5 0h1m1 0h1m.5 0h1m1.5 0h1m0 0h1m0 0h1m-.5 0h1m1.5 0h1m0 0h1m-.5 0h1m.5 0h1m3 0h1m4.5 0h1m.5 0h1m0 0h1m0 0h1m.5 0h1m0 0h1m0 0h1m-.5 0h1m3.5 0h1m2 0h1m2 0h1m-.5 0h1m-42 .5h1m0 0h1m.5 0h1m-.5 0h1m0 0h1m0 0h1m.5 0h1m-.5 0h1m0 0h1m1 0h1m.5 0h1m.5 0h1m-.5 0h1m1 0h1m0 0h1m1 0h1m-.5 0h1m4.5 0h1m0 0h1m1 0h1m-.5 0h1m-.5 0h1m0 0h1m0 0h1m-.5 0h1m-.5 0h1m1.5 0h1m-39 .5h1m.5 0h1m6 0h1m0 0h1m.5 0h1m-.5 0h1m.5 0h1m-.5 0h1m1.5 0h1m-.5 0h1m-.5 0h1m-.5 0h1m0 0h1m3.5 0h1m-.5 0h1m-.5 0h1m0 0h1m1.5 0h1m0 0h1m-.5 0h1m1.5 0h1m1.5 0h1m0 0h1m1.5 0h1m-.5 0h1m.5 0h1m1 0h1m-.5 0h1m.5 0h1m-.5 0h1m-.5 0h1m-.5 0h1m-.5 0h1m-51 .5h1m3.5 0h1m2 0h1m2 0h1m0 0h1m1 0h1m-.5 0h1m-.5 0h1m2 0h1m0 0h1m-.5 0h1m0 0h1m0 0h1m-.5 0h1m-.5 0h1m1 0h1m0 0h1m0 0h1m-.5 0h1m2 0h1m-.5 0h1m.5 0h1m2 0h1m-.5 0h1m1.5 0h1m0 0h1m-.5 0h1m1.5 0h1m-.5 0h1m3.5 0h1m3.5 0h1m5 0h1m-56.5 .5h1m5.5 0h1m.5 0h1m0 0h1m2.5 0h1m-.5 0h1m.5 0h1m-.5 0h1m-.5 0h1m-.5 0h1m-.5 0h1m-.5 0h1m1 0h1m.5 0h1m2 0h1m.5 0h1m3 0h1m3 0h1m2.5 0h1m1.5 0h1m.5 0h1m-.5 0h1m0 0h1m-.5 0h1m-.5 0h1m-.5 0h1m3.5 0h1m-56.5 .5h1m7.5 0h1m1 0h1m-.5 0h1m0 0h1m0 0h1m1 0h1m2.5 0h1m-.5 0h1m-.5 0h1m2.5 0h1m-.5 0h1m.5 0h1m.5 0h1m3 0h1m-.5 0h1m0 0h1m0 0h1m-.5 0h1m0 0h1m-.5 0h1m.5 0h1m.5 0h1m0 0h1m0 0h1m3 0h1m-.5 0h1m0 0h1m4 0h1m3.5 0h1m3.5 0h1m-48 .5h1m-.5 0h1m-.5 0h1m1 0h1m2 0h1m.5 0h1m0 0h1m0 0h1m-.5 0h1m.5 0h1m-.5 0h1m-.5 0h1m-.5 0h1m6 0h1m1.5 0h1m.5 0h1m.5 0h1m-.5 0h1m3 0h1m.5 0h1m-.5 0h1m-.5 0h1m-.5 0h1m4 0h1m1 0h1m-.5 0h1m1 0h1m1 0h1m-54 .5h1m-.5 0h1m2 0h1m1.5 0h1m1 0h1m.5 0h1m3.5 0h1m.5 0h1m0 0h1m-.5 0h1m-.5 0h1m0 0h1m-.5 0h1m0 0h1m1 0h1m0 0h1m0 0h1m2 0h1m-.5 0h1m.5 0h1m3 0h1m-.5 0h1m0 0h1m2 0h1m0 0h1m1 0h1m1 0h1m1 0h1m-.5 0h1m2 0h1m.5 0h1m1.5 0h1m-.5 0h1m-50 .5h1m3.5 0h1m1.5 0h1m-.5 0h1m-.5 0h1m2.5 0h1m0 0h1m-.5 0h1m-.5 0h1m0 0h1m-.5 0h1m-.5 0h1m0 0h1m-.5 0h1m0 0h1m-.5 0h1m-.5 0h1m.5 0h1m-.5 0h1m.5 0h1m2 0h1m0 0h1m0 0h1m-.5 0h1m-.5 0h1m-.5 0h1m1 0h1m-.5 0h1m.5 0h1m2 0h1m-.5 0h1m0 0h1m-.5 0h1m1 0h1m.5 0h1m0 0h1m3 0h1m0 0h1m2 0h1m-.5 0h1m4 0h1m-56.5 .5h1m-.5 0h1m6.5 0h1m0 0h1m-.5 0h1m1 0h1m.5 0h1m-.5 0h1m-.5 0h1m-.5 0h1m.5 0h1m0 0h1m1.5 0h1m1.5 0h1m-.5 0h1m-.5 0h1m1.5 0h1m3.5 0h1m0 0h1m-.5 0h1m-.5 0h1m.5 0h1m1 0h1m4.5 0h1m0 0h1m2.5 0h1m4 0h1m7 0h1m-56 .5h1m-.5 0h1m1 0h1m6 0h1m-.5 0h1m0 0h1m0 0h1m0 0h1m2 0h1m.5 0h1m1 0h1m.5 0h1m1.5 0h1m-.5 0h1m-.5 0h1m-.5 0h1m-.5 0h1m1 0h1m-.5 0h1m0 0h1m-.5 0h1m4 0h1m3 0h1m3 0h1m-47.5 .5h1m7 0h1m.5 0h1m-.5 0h1m1 0h1m1 0h1m0 0h1m0 0h1m.5 0h1m0 0h1m1 0h1m.5 0h1m1 0h1m-.5 0h1m1 0h1m-.5 0h1m.5 0h1m-.5 0h1m2 0h1m0 0h1m0 0h1m-.5 0h1m.5 0h1m-.5 0h1m-.5 0h1m1 0h1m2 0h1m2 0h1m8.5 0h1m4 0h1m-64 .5h1m.5 0h1m1.5 0h1m.5 0h1m1 0h1m3.5 0h1m-.5 0h1m.5 0h1m.5 0h1m2.5 0h1m-.5 0h1m0 0h1m1 0h1m2 0h1m1 0h1m-.5 0h1m1.5 0h1m-.5 0h1m.5 0h1m.5 0h1m-.5 0h1m.5 0h1m-.5 0h1m-.5 0h1m0 0h1m-.5 0h1m-.5 0h1m3 0h1m-.5 0h1m-.5 0h1m-.5 0h1m-.5 0h1m-.5 0h1m0 0h1m1.5 0h1m-.5 0h1m-48.5 .5h1m5.5 0h1m2.5 0h1m.5 0h1m-.5 0h1m-.5 0h1m.5 0h1m1 0h1m-.5 0h1m-.5 0h1m0 0h1m.5 0h1m-.5 0h1m0 0h1m0 0h1m2 0h1m-.5 0h1m2 0h1m.5 0h1m-.5 0h1m-.5 0h1m0 0h1m0 0h1m.5 0h1m1.5 0h1m-.5 0h1m0 0h1m.5 0h1m-.5 0h1m-.5 0h1m-.5 0h1m-.5 0h1m-.5 0h1m.5 0h1m-.5 0h1m.5 0h1m1 0h1m6 0h1m2 0h1m3 0h1m-58 .5h1m2 0h1m-.5 0h1m-.5 0h1m0 0h1m-.5 0h1m-.5 0h1m0 0h1m1 0h1m1 0h1m.5 0h1m-.5 0h1m0 0h1m.5 0h1m0 0h1m0 0h1m1 0h1m1 0h1m-.5 0h1m.5 0h1m.5 0h1m1 0h1m-.5 0h1m-.5 0h1m3.5 0h1m-.5 0h1m-.5 0h1m-.5 0h1m-.5 0h1m-.5 0h1m1 0h1m6.5 0h1m6.5 0h1m-61.5 .5h1m5.5 0h1m2.5 0h1m-.5 0h1m.5 0h1m1 0h1m0 0h1m0 0h1m-.5 0h1m0 0h1m-.5 0h1m0 0h1m-.5 0h1m1 0h1m.5 0h1m-.5 0h1m.5 0h1m-.5 0h1m-.5 0h1m-.5 0h1m-.5 0h1m-.5 0h1m-.5 0h1m.5 0h1m.5 0h1m0 0h1m.5 0h1m3 0h1m0 0h1m-.5 0h1m.5 0h1m0 0h1m-.5 0h1m1 0h1m-.5 0h1m-.5 0h1m3.5 0h1m-.5 0h1m1.5 0h1m16.5 0h1m-75 .5h1m5 0h1m4 0h1m4.5 0h1m1.5 0h1m.5 0h1m0 0h1m0 0h1m1 0h1m-.5 0h1m2 0h1m1 0h1m-.5 0h1m0 0h1m0 0h1m-.5 0h1m2.5 0h1m-.5 0h1m-.5 0h1m-.5 0h1m.5 0h1m1.5 0h1m0 0h1m-.5 0h1m-.5 0h1m-.5 0h1m-.5 0h1m.5 0h1m0 0h1m.5 0h1m-.5 0h1m-.5 0h1m1.5 0h1m-.5 0h1m0 0h1m2 0h1m1 0h1m4 0h1m1 0h1m-65.5 .5h1m7 0h1m2.5 0h1m-.5 0h1m0 0h1m0 0h1m0 0h1m0 0h1m-.5 0h1m-.5 0h1m2.5 0h1m-.5 0h1m-.5 0h1m.5 0h1m-.5 0h1m2 0h1m-.5 0h1m-.5 0h1m0 0h1m3 0h1m2.5 0h1m-.5 0h1m-.5 0h1m-.5 0h1m0 0h1m0 0h1m.5 0h1m-.5 0h1m2 0h1m-.5 0h1m-.5 0h1m2.5 0h1m1 0h1m5 0h1m-53.5 .5h1m5.5 0h1m0 0h1m-.5 0h1m4 0h1m0 0h1m2.5 0h1m.5 0h1m0 0h1m0 0h1m3 0h1m-.5 0h1m1 0h1m-.5 0h1m.5 0h1m2.5 0h1m1 0h1m-.5 0h1m0 0h1m.5 0h1m-.5 0h1m-.5 0h1m-.5 0h1m1 0h1m-.5 0h1m.5 0h1m0 0h1m-.5 0h1m0 0h1m-.5 0h1m2 0h1m1 0h1m0 0h1m3.5 0h1m2.5 0h1m7 0h1m-62 .5h1m-.5 0h1m0 0h1m-.5 0h1m-.5 0h1m0 0h1m0 0h1m0 0h1m.5 0h1m-.5 0h1m0 0h1m.5 0h1m0 0h1m2 0h1m0 0h1m0 0h1m0 0h1m0 0h1m-.5 0h1m1 0h1m0 0h1m-.5 0h1m0 0h1m0 0h1m.5 0h1m-.5 0h1m-.5 0h1m-.5 0h1m1 0h1m0 0h1m1.5 0h1m-.5 0h1m.5 0h1m0 0h1m-.5 0h1m-.5 0h1m.5 0h1m0 0h1m13.5 0h1m-54.5 .5h1m0 0h1m.5 0h1m1 0h1m0 0h1m-.5 0h1m.5 0h1m0 0h1m.5 0h1m-.5 0h1m-.5 0h1m1 0h1m0 0h1m1.5 0h1m1 0h1m-.5 0h1m.5 0h1m1 0h1m0 0h1m-.5 0h1m-.5 0h1m-.5 0h1m1 0h1m0 0h1m0 0h1m-.5 0h1m0 0h1m-.5 0h1m2 0h1m-.5 0h1m0 0h1m0 0h1m0 0h1m0 0h1m1 0h1m.5 0h1m-.5 0h1m-46 .5h1m4 0h1m0 0h1m0 0h1m-.5 0h1m0 0h1m0 0h1m0 0h1m-.5 0h1m0 0h1m-.5 0h1m1 0h1m0 0h1m0 0h1m-.5 0h1m-.5 0h1m0 0h1m.5 0h1m-.5 0h1m1.5 0h1m-.5 0h1m0 0h1m1.5 0h1m0 0h1m-.5 0h1m0 0h1m0 0h1m-.5 0h1m-.5 0h1m-.5 0h1m-.5 0h1m-.5 0h1m-.5 0h1m0 0h1m2 0h1m1 0h1m0 0h1m4 0h1m.5 0h1m7 0h1m7 0h1m-68 .5h1m.5 0h1m0 0h1m.5 0h1m3 0h1m0 0h1m0 0h1m.5 0h1m2.5 0h1m2 0h1m0 0h1m-.5 0h1m.5 0h1m-.5 0h1m0 0h1m0 0h1m-.5 0h1m0 0h1m-.5 0h1m.5 0h1m-.5 0h1m-.5 0h1m-.5 0h1m.5 0h1m0 0h1m-.5 0h1m0 0h1m0 0h1m-.5 0h1m-.5 0h1m1.5 0h1m.5 0h1m-.5 0h1m1.5 0h1m.5 0h1m-.5 0h1m1 0h1m-.5 0h1m4 0h1m2 0h1m3.5 0h1m-60 .5h1m1 0h1m1 0h1m1 0h1m.5 0h1m-.5 0h1m0 0h1m-.5 0h1m0 0h1m0 0h1m.5 0h1m-.5 0h1m0 0h1m-.5 0h1m-.5 0h1m-.5 0h1m-.5 0h1m-.5 0h1m-.5 0h1m-.5 0h1m0 0h1m-.5 0h1m0 0h1m1.5 0h1m-.5 0h1m.5 0h1m3.5 0h1m0 0h1m-.5 0h1m.5 0h1m1 0h1m-.5 0h1m0 0h1m.5 0h1m1.5 0h1m1.5 0h1m0 0h1m2 0h1m-.5 0h1m.5 0h1m-.5 0h1m1.5 0h1m0 0h1m-.5 0h1m3 0h1m-58 .5h1m2.5 0h1m0 0h1m1 0h1m.5 0h1m4.5 0h1m0 0h1m.5 0h1m1 0h1m-.5 0h1m-.5 0h1m0 0h1m-.5 0h1m0 0h1m1.5 0h1m2.5 0h1m-.5 0h1m-.5 0h1m.5 0h1m-.5 0h1m-.5 0h1m0 0h1m.5 0h1m1 0h1m3.5 0h1m0 0h1m1 0h1m1 0h1m2.5 0h1m15.5 0h1m3.5 0h1m-61.5 .5h1m2 0h1m0 0h1m0 0h1m1 0h1m-.5 0h1m1.5 0h1m1 0h1m1 0h1m-.5 0h1m2.5 0h1m3 0h1m1 0h1m-.5 0h1m-.5 0h1m.5 0h1m-.5 0h1m1 0h1m-.5 0h1m.5 0h1m.5 0h1m.5 0h1m0 0h1m3.5 0h1m6.5 0h1m-50 .5h1m3 0h1m1.5 0h1m0 0h1m.5 0h1m0 0h1m0 0h1m0 0h1m-.5 0h1m-.5 0h1m-.5 0h1m3 0h1m.5 0h1m.5 0h1m-.5 0h1m1 0h1m0 0h1m.5 0h1m0 0h1m-.5 0h1m0 0h1m.5 0h1m0 0h1m-.5 0h1m.5 0h1m-.5 0h1m0 0h1m-.5 0h1m0 0h1m-.5 0h1m-.5 0h1m1.5 0h1m.5 0h1m6.5 0h1m-.5 0h1m-46.5 .5h1m.5 0h1m2 0h1m.5 0h1m0 0h1m1 0h1m0 0h1m.5 0h1m1 0h1m1 0h1m.5 0h1m0 0h1m-.5 0h1m-.5 0h1m1 0h1m3 0h1m3 0h1m-.5 0h1m0 0h1m0 0h1m-.5 0h1m-.5 0h1m.5 0h1m0 0h1m0 0h1m.5 0h1m0 0h1m1 0h1m0 0h1m-48 .5h1m2 0h1m.5 0h1m0 0h1m1.5 0h1m-.5 0h1m1.5 0h1m-.5 0h1m0 0h1m0 0h1m2.5 0h1m-.5 0h1m-.5 0h1m-.5 0h1m-.5 0h1m-.5 0h1m2 0h1m-.5 0h1m0 0h1m3.5 0h1m.5 0h1m-.5 0h1m4 0h1m-.5 0h1m0 0h1m.5 0h1m1.5 0h1m-.5 0h1m5 0h1m0 0h1m3.5 0h1m.5 0h1m-66 .5h1m10.5 0h1m1.5 0h1m2 0h1m1.5 0h1m1 0h1m-.5 0h1m-.5 0h1m-.5 0h1m-.5 0h1m0 0h1m-.5 0h1m0 0h1m-.5 0h1m-.5 0h1m0 0h1m0 0h1m0 0h1m1.5 0h1m2 0h1m0 0h1m0 0h1m-.5 0h1m-.5 0h1m2 0h1m-.5 0h1m-.5 0h1m2 0h1m0 0h1m-.5 0h1m1.5 0h1m-.5 0h1m4 0h1m-48.5 .5h1m0 0h1m9 0h1m-.5 0h1m1.5 0h1m-.5 0h1m1 0h1m-.5 0h1m1 0h1m.5 0h1m-.5 0h1m0 0h1m0 0h1m-.5 0h1m0 0h1m1 0h1m0 0h1m2 0h1m0 0h1m0 0h1m-.5 0h1m-.5 0h1m-.5 0h1m-.5 0h1m6.5 0h1m-.5 0h1m-.5 0h1m1 0h1m5.5 0h1m1 0h1m-49.5 .5h1m3.5 0h1m4.5 0h1m0 0h1m2.5 0h1m.5 0h1m2.5 0h1m-.5 0h1m.5 0h1m-.5 0h1m2 0h1m1 0h1m1.5 0h1m.5 0h1m-.5 0h1m1 0h1m0 0h1m-.5 0h1m1 0h1m1 0h1m1.5 0h1m-.5 0h1m3 0h1m1 0h1m1 0h1m-56.5 .5h1m11.5 0h1m2 0h1m3 0h1m-.5 0h1m0 0h1m-.5 0h1m-.5 0h1m2 0h1m-.5 0h1m.5 0h1m.5 0h1m-.5 0h1m0 0h1m0 0h1m.5 0h1m0 0h1m-.5 0h1m-.5 0h1m-.5 0h1m0 0h1m.5 0h1m0 0h1m0 0h1m1.5 0h1m.5 0h1m4 0h1m-41 .5h1m-.5 0h1m-.5 0h1m3.5 0h1m1.5 0h1m2.5 0h1m-.5 0h1m-.5 0h1m1.5 0h1m1 0h1m1.5 0h1m-.5 0h1m0 0h1m-.5 0h1m0 0h1m-.5 0h1m1 0h1m1 0h1m0 0h1m2 0h1m0 0h1m1 0h1m2 0h1m-.5 0h1m0 0h1m0 0h1m-50 .5h1m-.5 0h1m6.5 0h1m1.5 0h1m.5 0h1m-.5 0h1m3 0h1m0 0h1m5 0h1m.5 0h1m-.5 0h1m-.5 0h1m-.5 0h1m0 0h1m-.5 0h1m.5 0h1m-.5 0h1m-.5 0h1m0 0h1m0 0h1m-.5 0h1m.5 0h1m.5 0h1m1.5 0h1m-.5 0h1m2.5 0h1m0 0h1m1.5 0h1m7 0h1m11 0h1m-51.5 .5h1m1 0h1m-.5 0h1m-.5 0h1m-.5 0h1m3 0h1m.5 0h1m0 0h1m-.5 0h1m0 0h1m-.5 0h1m0 0h1m1 0h1m0 0h1m0 0h1m0 0h1m.5 0h1m1 0h1m-.5 0h1m-.5 0h1m-.5 0h1m.5 0h1m0 0h1m1.5 0h1m1 0h1m0 0h1m2.5 0h1m-46.5 .5h1m0 0h1m.5 0h1m-.5 0h1m-.5 0h1m.5 0h1m6.5 0h1m0 0h1m.5 0h1m.5 0h1m0 0h1m-.5 0h1m1.5 0h1m2 0h1m-.5 0h1m.5 0h1m1 0h1m-.5 0h1m1.5 0h1m2 0h1m1.5 0h1m1.5 0h1m.5 0h1m2 0h1m-.5 0h1m0 0h1m-40 .5h1m1.5 0h1m.5 0h1m3 0h1m2 0h1m-.5 0h1m1.5 0h1m0 0h1m1 0h1m2 0h1m.5 0h1m5 0h1m2.5 0h1m-.5 0h1m-.5 0h1m0 0h1m.5 0h1m9 0h1m-49 .5h1m7.5 0h1m0 0h1m3 0h1m1.5 0h1m2 0h1m.5 0h1m.5 0h1m1 0h1m0 0h1m-.5 0h1m-.5 0h1m0 0h1m-.5 0h1m0 0h1m-.5 0h1m8 0h1m.5 0h1m3.5 0h1m1 0h1m-45.5 .5h1m42 0h1m-48.5 .5h1m1 0h1m-.5 0h1m43.5 0h1m5.5 0h1m-57 .5h1m0 0h1m52 0h1m-4.5 .5h1m-52 .5h1m3 0h1m1 0h1m0 0h1m45 0h1m5 0h1m-59.5 .5h1m3.5 0h1m47 0h1m-48.5 1h1m-.5 0h1m45.5 0h1m0 0h1m-53.5 .5h1m1 0h1m2.5 0h1m46 0h1m-51 .5h1m50.5 0h1m7 0h1m-13.5 .5h1m-.5 0h1m2.5 0h1m4.5 0h1m-56 1h1m1 0h1m0 0h1m40.5 0h1m-44 .5h1m45 0h1m-.5 0h1m-49.5 .5h1m-6 .5h1m4.5 0h1m1.5 0h1m46.5 0h1m0 0h1m3 0h1m-56 .5h1m-.5 0h1m45 0h1m2.5 0h1m-49 .5h1m46 0h1m-48.5 .5h1m46 0h1m1 0h1m-51 .5h1m0 0h1m43.5 0h1m1.5 0h1m-51 .5h1m-.5 0h1m-.5 0h1m2 0h1m46.5 0h1m-4.5 .5h1m4.5 0h1m2.5 .5h1m-58.5 .5h1m1.5 0h1m2 0h1m.5 0h1m2 0h1m4 0h1m6 0h1m.5 0h1m1.5 0h1m1 0h1m3.5 0h1m3.5 0h1m14.5 0h1m-43 .5h1m-.5 0h1m-.5 0h1m7 0h1m0 0h1m.5 0h1m0 0h1m1 0h1m.5 0h1m-.5 0h1m0 0h1m-.5 0h1m0 0h1m0 0h1m1 0h1m-.5 0h1m.5 0h1m1 0h1m0 0h1m.5 0h1m-.5 0h1m1.5 0h1m.5 0h1m2.5 0h1m-54 .5h1m20 0h1m3.5 0h1m.5 0h1m2.5 0h1m.5 0h1m0 0h1m2 0h1m-.5 0h1m1 0h1m0 0h1m-.5 0h1m1 0h1m5 0h1m-38.5 .5h1m.5 0h1m2 0h1m0 0h1m6.5 0h1m2.5 0h1m.5 0h1m2 0h1m1.5 0h1m1.5 0h1m0 0h1m2 0h1m-.5 0h1m5 0h1m5.5 0h1m-49 .5h1m1.5 0h1m7.5 0h1m5 0h1m-.5 0h1m6.5 0h1m1 0h1m-.5 0h1m.5 0h1m2.5 0h1m-.5 0h1m0 0h1m-.5 0h1m2 0h1m.5 0h1m2 0h1m-33 .5h1m7.5 0h1m6.5 0h1m-.5 0h1m1 0h1m3 0h1m.5 0h1m1.5 0h1m-25 .5h1m2 0h1m.5 0h1m0 0h1m9 0h1m2.5 0h1m3 0h1m-29 .5h1m12 0h1m0 0h1m4 0h1m3.5 0h1m.5 0h1m-12 .5h1m4 0h1m7.5 0h1m4.5 0h1m-16 .5h1m7 0h1m2 0h1m-30 .5h1m5 0h1m2 0h1m19.5 0h1m0 0h1m-21.5 .5h1m4 0h1m4 0h1m4 0h1m10 0h1m-36.5 .5h1m16.5 0h1m0 0h1m4 0h1m-1 .5h1m-7.5 .5h1m9.5 0h1m-10.5 1h1m-11 1.5h1"/>
<rect x="380.0" y="472.0" width="112.5" height="112.5" fill="none" stroke="#111" stroke-width="1.3"/>
<line x1="413.8" y1="472.0" x2="413.8" y2="584.5" stroke="#111" stroke-width="1.3"/>
<line x1="380.0" y1="515.8" x2="492.5" y2="515.8" stroke="#111" stroke-width="1.3"/>
<text x="380.9" y="481.2" font-size="9.57" text-anchor="start" font-weight="normal" textLength="24.67" lengthAdjust="spacingAndGlyphs" >0.07%</text>
<text x="492.3" y="481.2" font-size="9.57" text-anchor="end" font-weight="normal" textLength="24.67" lengthAdjust="spacingAndGlyphs" >0.43%</text>
<text x="380.9" y="582.0" font-size="9.57" text-anchor="start" font-weight="normal" textLength="24.67" lengthAdjust="spacingAndGlyphs" >35.8%</text>
<text x="492.3" y="582.0" font-size="9.57" text-anchor="end" font-weight="normal" textLength="24.67" lengthAdjust="spacingAndGlyphs" >63.7%</text>
<line x1="377.4" y1="480.5" x2="380.0" y2="480.5" stroke="#111" stroke-width="1.0"/>
<text x="375.4" y="482.2" font-size="5.9" text-anchor="end" fill="#333">10<tspan font-size="4.1" dy="-2.7">5</tspan></text>
<line x1="377.4" y1="503.8" x2="380.0" y2="503.8" stroke="#111" stroke-width="1.0"/>
<text x="375.4" y="505.4" font-size="5.9" text-anchor="end" fill="#333">10<tspan font-size="4.1" dy="-2.7">4</tspan></text>
<line x1="377.4" y1="526.2" x2="380.0" y2="526.2" stroke="#111" stroke-width="1.0"/>
<text x="375.4" y="528.0" font-size="5.9" text-anchor="end" fill="#333">10<tspan font-size="4.1" dy="-2.7">3</tspan></text>
<line x1="377.4" y1="551.2" x2="380.0" y2="551.2" stroke="#111" stroke-width="1.0"/>
<text x="375.4" y="553.0" font-size="5.9" text-anchor="end" fill="#333">10<tspan font-size="4.1" dy="-2.7">2</tspan></text>
<line x1="377.4" y1="562.5" x2="380.0" y2="562.5" stroke="#111" stroke-width="1.0"/>
<text x="375.4" y="564.2" font-size="5.9" text-anchor="end" fill="#333">0</text>
<line x1="378.5" y1="475.0" x2="380.0" y2="475.0" stroke="#111" stroke-width="0.6"/>
<line x1="378.5" y1="478.3" x2="380.0" y2="478.3" stroke="#111" stroke-width="0.6"/>
<line x1="378.5" y1="481.6" x2="380.0" y2="481.6" stroke="#111" stroke-width="0.6"/>
<line x1="378.5" y1="484.9" x2="380.0" y2="484.9" stroke="#111" stroke-width="0.6"/>
<line x1="378.5" y1="488.2" x2="380.0" y2="488.2" stroke="#111" stroke-width="0.6"/>
<line x1="378.5" y1="491.5" x2="380.0" y2="491.5" stroke="#111" stroke-width="0.6"/>
<line x1="378.5" y1="494.8" x2="380.0" y2="494.8" stroke="#111" stroke-width="0.6"/>
<line x1="378.5" y1="498.1" x2="380.0" y2="498.1" stroke="#111" stroke-width="0.6"/>
<line x1="378.5" y1="501.4" x2="380.0" y2="501.4" stroke="#111" stroke-width="0.6"/>
<line x1="378.5" y1="504.7" x2="380.0" y2="504.7" stroke="#111" stroke-width="0.6"/>
<line x1="378.5" y1="508.0" x2="380.0" y2="508.0" stroke="#111" stroke-width="0.6"/>
<line x1="378.5" y1="511.3" x2="380.0" y2="511.3" stroke="#111" stroke-width="0.6"/>
<line x1="378.5" y1="514.6" x2="380.0" y2="514.6" stroke="#111" stroke-width="0.6"/>
<line x1="378.5" y1="517.9" x2="380.0" y2="517.9" stroke="#111" stroke-width="0.6"/>
<line x1="378.5" y1="521.2" x2="380.0" y2="521.2" stroke="#111" stroke-width="0.6"/>
<line x1="378.5" y1="524.5" x2="380.0" y2="524.5" stroke="#111" stroke-width="0.6"/>
<line x1="378.5" y1="527.8" x2="380.0" y2="527.8" stroke="#111" stroke-width="0.6"/>
<line x1="378.5" y1="531.1" x2="380.0" y2="531.1" stroke="#111" stroke-width="0.6"/>
<line x1="378.5" y1="534.4" x2="380.0" y2="534.4" stroke="#111" stroke-width="0.6"/>
<line x1="378.5" y1="537.7" x2="380.0" y2="537.7" stroke="#111" stroke-width="0.6"/>
<line x1="378.5" y1="541.0" x2="380.0" y2="541.0" stroke="#111" stroke-width="0.6"/>
<line x1="378.5" y1="544.3" x2="380.0" y2="544.3" stroke="#111" stroke-width="0.6"/>
<line x1="378.5" y1="547.6" x2="380.0" y2="547.6" stroke="#111" stroke-width="0.6"/>
<line x1="378.5" y1="550.9" x2="380.0" y2="550.9" stroke="#111" stroke-width="0.6"/>
<line x1="378.5" y1="554.2" x2="380.0" y2="554.2" stroke="#111" stroke-width="0.6"/>
<line x1="378.5" y1="557.5" x2="380.0" y2="557.5" stroke="#111" stroke-width="0.6"/>
<line x1="378.5" y1="560.8" x2="380.0" y2="560.8" stroke="#111" stroke-width="0.6"/>
<line x1="378.5" y1="564.1" x2="380.0" y2="564.1" stroke="#111" stroke-width="0.6"/>
<line x1="378.5" y1="567.4" x2="380.0" y2="567.4" stroke="#111" stroke-width="0.6"/>
<line x1="378.5" y1="570.7" x2="380.0" y2="570.7" stroke="#111" stroke-width="0.6"/>
<line x1="378.5" y1="574.0" x2="380.0" y2="574.0" stroke="#111" stroke-width="0.6"/>
<line x1="378.5" y1="577.3" x2="380.0" y2="577.3" stroke="#111" stroke-width="0.6"/>
<line x1="378.5" y1="580.6" x2="380.0" y2="580.6" stroke="#111" stroke-width="0.6"/>
<line x1="391.5" y1="584.5" x2="391.5" y2="587.1" stroke="#111" stroke-width="1.0"/>
<line x1="401.3" y1="584.5" x2="401.3" y2="587.1" stroke="#111" stroke-width="1.0"/>
<line x1="430.0" y1="584.5" x2="430.0" y2="587.1" stroke="#111" stroke-width="1.0"/>
<line x1="457.2" y1="584.5" x2="457.2" y2="587.1" stroke="#111" stroke-width="1.0"/>
<line x1="482.4" y1="584.5" x2="482.4" y2="587.1" stroke="#111" stroke-width="1.0"/>
<line x1="383.0" y1="584.5" x2="383.0" y2="586.0" stroke="#111" stroke-width="0.6"/>
<line x1="386.3" y1="584.5" x2="386.3" y2="586.0" stroke="#111" stroke-width="0.6"/>
<line x1="389.6" y1="584.5" x2="389.6" y2="586.0" stroke="#111" stroke-width="0.6"/>
<line x1="392.9" y1="584.5" x2="392.9" y2="586.0" stroke="#111" stroke-width="0.6"/>
<line x1="396.2" y1="584.5" x2="396.2" y2="586.0" stroke="#111" stroke-width="0.6"/>
<line x1="399.5" y1="584.5" x2="399.5" y2="586.0" stroke="#111" stroke-width="0.6"/>
<line x1="402.8" y1="584.5" x2="402.8" y2="586.0" stroke="#111" stroke-width="0.6"/>
<line x1="406.1" y1="584.5" x2="406.1" y2="586.0" stroke="#111" stroke-width="0.6"/>
<line x1="409.4" y1="584.5" x2="409.4" y2="586.0" stroke="#111" stroke-width="0.6"/>
<line x1="412.7" y1="584.5" x2="412.7" y2="586.0" stroke="#111" stroke-width="0.6"/>
<line x1="416.0" y1="584.5" x2="416.0" y2="586.0" stroke="#111" stroke-width="0.6"/>
<line x1="419.3" y1="584.5" x2="419.3" y2="586.0" stroke="#111" stroke-width="0.6"/>
<line x1="422.6" y1="584.5" x2="422.6" y2="586.0" stroke="#111" stroke-width="0.6"/>
<line x1="425.9" y1="584.5" x2="425.9" y2="586.0" stroke="#111" stroke-width="0.6"/>
<line x1="429.2" y1="584.5" x2="429.2" y2="586.0" stroke="#111" stroke-width="0.6"/>
<line x1="432.5" y1="584.5" x2="432.5" y2="586.0" stroke="#111" stroke-width="0.6"/>
<line x1="435.8" y1="584.5" x2="435.8" y2="586.0" stroke="#111" stroke-width="0.6"/>
<line x1="439.1" y1="584.5" x2="439.1" y2="586.0" stroke="#111" stroke-width="0.6"/>
<line x1="442.4" y1="584.5" x2="442.4" y2="586.0" stroke="#111" stroke-width="0.6"/>
<line x1="445.7" y1="584.5" x2="445.7" y2="586.0" stroke="#111" stroke-width="0.6"/>
<line x1="449.0" y1="584.5" x2="449.0" y2="586.0" stroke="#111" stroke-width="0.6"/>
<line x1="452.3" y1="584.5" x2="452.3" y2="586.0" stroke="#111" stroke-width="0.6"/>
<line x1="455.6" y1="584.5" x2="455.6" y2="586.0" stroke="#111" stroke-width="0.6"/>
<line x1="458.9" y1="584.5" x2="458.9" y2="586.0" stroke="#111" stroke-width="0.6"/>
<line x1="462.2" y1="584.5" x2="462.2" y2="586.0" stroke="#111" stroke-width="0.6"/>
<line x1="465.5" y1="584.5" x2="465.5" y2="586.0" stroke="#111" stroke-width="0.6"/>
<line x1="468.8" y1="584.5" x2="468.8" y2="586.0" stroke="#111" stroke-width="0.6"/>
<line x1="472.1" y1="584.5" x2="472.1" y2="586.0" stroke="#111" stroke-width="0.6"/>
<line x1="475.4" y1="584.5" x2="475.4" y2="586.0" stroke="#111" stroke-width="0.6"/>
<line x1="478.7" y1="584.5" x2="478.7" y2="586.0" stroke="#111" stroke-width="0.6"/>
<line x1="482.0" y1="584.5" x2="482.0" y2="586.0" stroke="#111" stroke-width="0.6"/>
<line x1="485.3" y1="584.5" x2="485.3" y2="586.0" stroke="#111" stroke-width="0.6"/>
<line x1="488.6" y1="584.5" x2="488.6" y2="586.0" stroke="#111" stroke-width="0.6"/>
<text x="391.5" y="595.0" font-size="5.9" text-anchor="middle" fill="#333">0</text>
<text x="401.3" y="595.0" font-size="5.9" text-anchor="middle" fill="#333">10<tspan font-size="4.1" dy="-2.7">2</tspan></text>
<text x="430.0" y="595.0" font-size="5.9" text-anchor="middle" fill="#333">10<tspan font-size="4.1" dy="-2.7">3</tspan></text>
<text x="457.2" y="595.0" font-size="5.9" text-anchor="middle" fill="#333">10<tspan font-size="4.1" dy="-2.7">4</tspan></text>
<text x="482.4" y="595.0" font-size="5.9" text-anchor="middle" fill="#333">10<tspan font-size="4.1" dy="-2.7">5</tspan></text>
<text transform="translate(363.5,528.0) rotate(-90)" font-size="9.89" text-anchor="middle" textLength="26.77" lengthAdjust="spacingAndGlyphs">CD161</text>
<text x="426.6" y="608.3" font-size="10.56" text-anchor="middle" font-weight="normal" textLength="20.26" lengthAdjust="spacingAndGlyphs" >IFNγ</text>
</g>
</svg></body></html>
